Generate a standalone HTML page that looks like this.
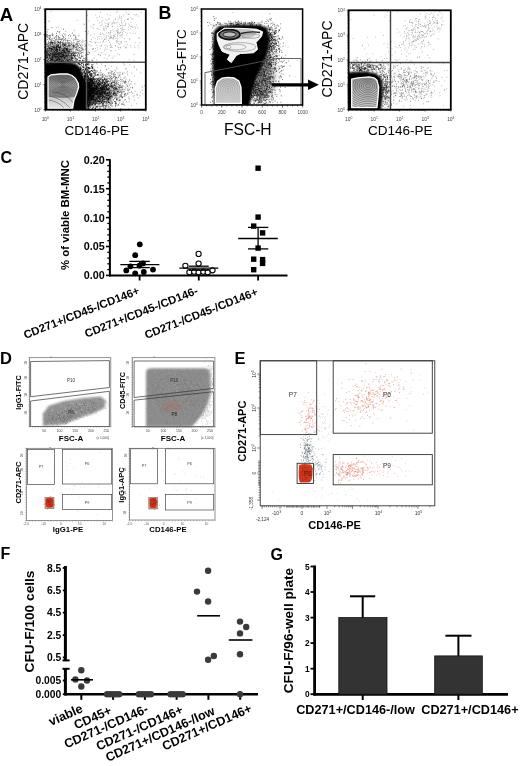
<!DOCTYPE html>
<html><head><meta charset="utf-8"><title>Figure</title>
<style>html,body{margin:0;padding:0;background:#fff;width:520px;height:766px;overflow:hidden}svg{display:block;filter:blur(0.3px)}</style>
</head><body><svg width="520" height="766" viewBox="0 0 520 766" font-family="&quot;Liberation Sans&quot;, sans-serif"><text x="-0.3" y="21.4" font-size="18.6" font-weight="bold" fill="#000">A</text><text x="158.6" y="19.4" font-size="17.8" font-weight="bold" fill="#000">B</text><text x="0.5" y="162.5" font-size="16" font-weight="bold" fill="#000">C</text><text x="0" y="363.7" font-size="16.5" font-weight="bold" fill="#000">D</text><text x="234.5" y="364" font-size="16.5" font-weight="bold" fill="#000">E</text><text x="0.5" y="559.4" font-size="16" font-weight="bold" fill="#000">F</text><text x="270.5" y="560" font-size="16" font-weight="bold" fill="#000">G</text><path d="M109.9 159.3L109.9 276.4" stroke="#000" stroke-width="2"/><path d="M106 275.4L110 275.4" stroke="#000" stroke-width="1.6"/><path d="M107.3 269.6L110 269.6" stroke="#000" stroke-width="1.3"/><path d="M107.3 263.8L110 263.8" stroke="#000" stroke-width="1.3"/><path d="M107.3 258.1L110 258.1" stroke="#000" stroke-width="1.3"/><path d="M107.3 252.3L110 252.3" stroke="#000" stroke-width="1.3"/><path d="M106 246.5L110 246.5" stroke="#000" stroke-width="1.6"/><path d="M107.3 240.7L110 240.7" stroke="#000" stroke-width="1.3"/><path d="M107.3 234.9L110 234.9" stroke="#000" stroke-width="1.3"/><path d="M107.3 229.2L110 229.2" stroke="#000" stroke-width="1.3"/><path d="M107.3 223.4L110 223.4" stroke="#000" stroke-width="1.3"/><path d="M106 217.6L110 217.6" stroke="#000" stroke-width="1.6"/><path d="M107.3 211.8L110 211.8" stroke="#000" stroke-width="1.3"/><path d="M107.3 206L110 206" stroke="#000" stroke-width="1.3"/><path d="M107.3 200.3L110 200.3" stroke="#000" stroke-width="1.3"/><path d="M107.3 194.5L110 194.5" stroke="#000" stroke-width="1.3"/><path d="M106 188.7L110 188.7" stroke="#000" stroke-width="1.6"/><path d="M107.3 182.9L110 182.9" stroke="#000" stroke-width="1.3"/><path d="M107.3 177.1L110 177.1" stroke="#000" stroke-width="1.3"/><path d="M107.3 171.4L110 171.4" stroke="#000" stroke-width="1.3"/><path d="M107.3 165.6L110 165.6" stroke="#000" stroke-width="1.3"/><path d="M106 159.8L110 159.8" stroke="#000" stroke-width="1.6"/><text x="104.8" y="163.7" font-size="10.8" font-weight="bold" text-anchor="end" fill="#000">0.20</text><text x="104.8" y="192.6" font-size="10.8" font-weight="bold" text-anchor="end" fill="#000">0.15</text><text x="104.8" y="221.5" font-size="10.8" font-weight="bold" text-anchor="end" fill="#000">0.10</text><text x="104.8" y="250.4" font-size="10.8" font-weight="bold" text-anchor="end" fill="#000">0.05</text><text x="104.8" y="279.3" font-size="10.8" font-weight="bold" text-anchor="end" fill="#000">0.00</text><path d="M109 275.4L287.5 275.4" stroke="#000" stroke-width="2"/><path d="M139.6 275L139.6 280.5" stroke="#000" stroke-width="1.8"/><path d="M198.8 275L198.8 280.5" stroke="#000" stroke-width="1.8"/><path d="M258.1 275L258.1 280.5" stroke="#000" stroke-width="1.8"/><text x="69" y="215" font-size="11.4" font-weight="bold" text-anchor="middle" transform="rotate(-90 69 215)" fill="#000">% of viable BM-MNC</text><circle cx="139.8" cy="244.3" r="2.9"/><circle cx="135.2" cy="255.2" r="2.9"/><circle cx="130.4" cy="266.3" r="2.9"/><circle cx="139.5" cy="265.6" r="2.9"/><circle cx="143" cy="263.4" r="2.9"/><circle cx="126.3" cy="270.4" r="2.9"/><circle cx="135.2" cy="273.3" r="2.9"/><circle cx="143.8" cy="272" r="2.9"/><circle cx="153" cy="269.6" r="2.9"/><path d="M120.3 264.6L159.4 264.6" stroke="#000" stroke-width="1.3"/><path d="M129.4 261.4L149.8 261.4" stroke="#000" stroke-width="1.3"/><path d="M129.4 267.6L149.8 267.6" stroke="#000" stroke-width="1.3"/><path d="M139.6 261.4L139.6 267.6" stroke="#000" stroke-width="1.3"/><circle cx="198.6" cy="253.9" r="2.6" fill="#fff" stroke="#000" stroke-width="1.1"/><circle cx="185.4" cy="265.8" r="2.6" fill="#fff" stroke="#000" stroke-width="1.1"/><circle cx="198.6" cy="263.6" r="2.6" fill="#fff" stroke="#000" stroke-width="1.1"/><circle cx="189.4" cy="272.2" r="2.6" fill="#fff" stroke="#000" stroke-width="1.1"/><circle cx="194.2" cy="271.7" r="2.6" fill="#fff" stroke="#000" stroke-width="1.1"/><circle cx="198.6" cy="272.2" r="2.6" fill="#fff" stroke="#000" stroke-width="1.1"/><circle cx="203.4" cy="271.7" r="2.6" fill="#fff" stroke="#000" stroke-width="1.1"/><circle cx="207.7" cy="272.2" r="2.6" fill="#fff" stroke="#000" stroke-width="1.1"/><circle cx="212.5" cy="270.3" r="2.6" fill="#fff" stroke="#000" stroke-width="1.1"/><path d="M179.3 268.2L218.3 268.2" stroke="#000" stroke-width="1.3"/><path d="M189 266.2L208.7 266.2" stroke="#000" stroke-width="1.3"/><path d="M189 270.2L208.7 270.2" stroke="#000" stroke-width="1.3"/><rect x="255.4" y="165.5" width="5.4" height="5.4"/><rect x="255.4" y="214.4" width="5.4" height="5.4"/><rect x="251" y="223.4" width="5.4" height="5.4"/><rect x="259.9" y="230.2" width="5.4" height="5.4"/><rect x="255.4" y="245.4" width="5.4" height="5.4"/><rect x="251" y="256.5" width="5.4" height="5.4"/><rect x="259.9" y="256.9" width="5.4" height="5.4"/><rect x="259.9" y="260.7" width="5.4" height="5.4"/><rect x="251" y="267" width="5.4" height="5.4"/><path d="M238.2 238.5L277.8 238.5" stroke="#000" stroke-width="1.3"/><path d="M248 227.4L268.3 227.4" stroke="#000" stroke-width="1.3"/><path d="M248 248.9L268.3 248.9" stroke="#000" stroke-width="1.3"/><path d="M258.1 227.4L258.1 248.9" stroke="#000" stroke-width="1.3"/><text x="25.4" y="338.9" font-size="11.4" font-weight="bold" transform="rotate(-21.5 25.4 338.9)" fill="#000">CD271+/CD45-/CD146+</text><text x="86.5" y="337.8" font-size="11.4" font-weight="bold" transform="rotate(-21.5 86.5 337.8)" fill="#000">CD271+/CD45-/CD146-</text><text x="146.4" y="339.1" font-size="11.4" font-weight="bold" transform="rotate(-21.5 146.4 339.1)" fill="#000">CD271-/CD45-/CD146+</text><path d="M65.4 566L65.4 660.4" stroke="#000" stroke-width="3"/><path d="M62.5 660.4L69.6 660.4" stroke="#000" stroke-width="2"/><path d="M65.4 668.8L65.4 695.5" stroke="#000" stroke-width="3"/><path d="M62.5 668.8L69.6 668.8" stroke="#000" stroke-width="2"/><path d="M62.8 568L65.4 568" stroke="#000" stroke-width="1.8"/><text x="61.3" y="571.6" font-size="10.3" font-weight="bold" text-anchor="end" fill="#000">8.5</text><path d="M62.8 590.4L65.4 590.4" stroke="#000" stroke-width="1.8"/><text x="61.3" y="594" font-size="10.3" font-weight="bold" text-anchor="end" fill="#000">6.5</text><path d="M62.8 612.7L65.4 612.7" stroke="#000" stroke-width="1.8"/><text x="61.3" y="616.3" font-size="10.3" font-weight="bold" text-anchor="end" fill="#000">4.5</text><path d="M62.8 635.1L65.4 635.1" stroke="#000" stroke-width="1.8"/><text x="61.3" y="638.7" font-size="10.3" font-weight="bold" text-anchor="end" fill="#000">2.5</text><path d="M62.8 657.4L65.4 657.4" stroke="#000" stroke-width="1.8"/><text x="61.3" y="661" font-size="10.3" font-weight="bold" text-anchor="end" fill="#000">0.5</text><path d="M62.8 680.5L65.4 680.5" stroke="#000" stroke-width="1.8"/><text x="61.3" y="684.1" font-size="10.3" font-weight="bold" text-anchor="end" fill="#000">0.005</text><path d="M62.8 694.2L65.4 694.2" stroke="#000" stroke-width="1.8"/><text x="61.3" y="697.8" font-size="10.3" font-weight="bold" text-anchor="end" fill="#000">0.000</text><path d="M64.6 694.2L258 694.2" stroke="#000" stroke-width="2.4"/><path d="M81.3 694L81.3 699.8" stroke="#000" stroke-width="2"/><path d="M113.1 694L113.1 699.8" stroke="#000" stroke-width="2"/><path d="M144.9 694L144.9 699.8" stroke="#000" stroke-width="2"/><path d="M176.6 694L176.6 699.8" stroke="#000" stroke-width="2"/><path d="M208.4 694L208.4 699.8" stroke="#000" stroke-width="2"/><path d="M240.2 694L240.2 699.8" stroke="#000" stroke-width="2"/><text x="34.3" y="621.5" font-size="13.7" font-weight="bold" text-anchor="middle" transform="rotate(-90 34.3 621.5)" fill="#000">CFU-F/100 cells</text><circle cx="81.3" cy="670.3" r="3.2" fill="#3a3a3a"/><circle cx="75.4" cy="679.4" r="3.2" fill="#3a3a3a"/><circle cx="87" cy="680.5" r="3.2" fill="#3a3a3a"/><circle cx="81.3" cy="686.5" r="3.2" fill="#3a3a3a"/><path d="M71 679.8L93 679.8" stroke="#000" stroke-width="1.6"/><circle cx="107.1" cy="694.2" r="3.2" fill="#3a3a3a"/><circle cx="110.1" cy="694.2" r="3.2" fill="#3a3a3a"/><circle cx="113.1" cy="694.2" r="3.2" fill="#3a3a3a"/><circle cx="116.1" cy="694.2" r="3.2" fill="#3a3a3a"/><circle cx="119.1" cy="694.2" r="3.2" fill="#3a3a3a"/><circle cx="138.9" cy="694.2" r="3.2" fill="#3a3a3a"/><circle cx="141.9" cy="694.2" r="3.2" fill="#3a3a3a"/><circle cx="144.9" cy="694.2" r="3.2" fill="#3a3a3a"/><circle cx="147.9" cy="694.2" r="3.2" fill="#3a3a3a"/><circle cx="150.9" cy="694.2" r="3.2" fill="#3a3a3a"/><circle cx="170.6" cy="694.2" r="3.2" fill="#3a3a3a"/><circle cx="173.6" cy="694.2" r="3.2" fill="#3a3a3a"/><circle cx="176.6" cy="694.2" r="3.2" fill="#3a3a3a"/><circle cx="179.6" cy="694.2" r="3.2" fill="#3a3a3a"/><circle cx="182.6" cy="694.2" r="3.2" fill="#3a3a3a"/><circle cx="208.1" cy="570.8" r="3.2" fill="#3a3a3a"/><circle cx="197" cy="591.6" r="3.2" fill="#3a3a3a"/><circle cx="208.1" cy="601.5" r="3.2" fill="#3a3a3a"/><circle cx="208.1" cy="659.7" r="3.2" fill="#3a3a3a"/><circle cx="213.8" cy="656" r="3.2" fill="#3a3a3a"/><path d="M197.2 615.8L220 615.8" stroke="#000" stroke-width="1.6"/><circle cx="240" cy="621.6" r="3.2" fill="#3a3a3a"/><circle cx="246.2" cy="627" r="3.2" fill="#3a3a3a"/><circle cx="240" cy="633.4" r="3.2" fill="#3a3a3a"/><circle cx="240" cy="654.2" r="3.2" fill="#3a3a3a"/><circle cx="240" cy="694.2" r="3.2" fill="#3a3a3a"/><path d="M228.8 640L252.4 640" stroke="#000" stroke-width="1.6"/><text x="51.1" y="726.1" font-size="12.6" font-weight="bold" transform="rotate(-24 51.1 726.1)" fill="#000">viable</text><text x="76.3" y="729.6" font-size="12.6" font-weight="bold" transform="rotate(-24 76.3 729.6)" fill="#000">CD45+</text><text x="66.5" y="748.6" font-size="12.6" font-weight="bold" transform="rotate(-24 66.5 748.6)" fill="#000">CD271-/CD146-</text><text x="98.5" y="750.8" font-size="12.6" font-weight="bold" transform="rotate(-24 98.5 750.8)" fill="#000">CD271-/CD146+</text><text x="108" y="761.9" font-size="12.6" font-weight="bold" transform="rotate(-24 108 761.9)" fill="#000">CD271+/CD146-/low</text><text x="164.4" y="750.7" font-size="12.6" font-weight="bold" transform="rotate(-24 164.4 750.7)" fill="#000">CD271+/CD146+</text><path d="M314.6 565.5L314.6 695.5" stroke="#000" stroke-width="2.8"/><path d="M310.5 694.2L314.6 694.2" stroke="#000" stroke-width="1.8"/><text x="309.6" y="697.4" font-size="8.3" font-weight="bold" text-anchor="end" fill="#000">0</text><path d="M310.5 668.7L314.6 668.7" stroke="#000" stroke-width="1.8"/><text x="309.6" y="671.9" font-size="8.3" font-weight="bold" text-anchor="end" fill="#000">1</text><path d="M310.5 643.1L314.6 643.1" stroke="#000" stroke-width="1.8"/><text x="309.6" y="646.3" font-size="8.3" font-weight="bold" text-anchor="end" fill="#000">2</text><path d="M310.5 617.6L314.6 617.6" stroke="#000" stroke-width="1.8"/><text x="309.6" y="620.8" font-size="8.3" font-weight="bold" text-anchor="end" fill="#000">3</text><path d="M310.5 592L314.6 592" stroke="#000" stroke-width="1.8"/><text x="309.6" y="595.2" font-size="8.3" font-weight="bold" text-anchor="end" fill="#000">4</text><path d="M310.5 566.5L314.6 566.5" stroke="#000" stroke-width="1.8"/><text x="309.6" y="569.7" font-size="8.3" font-weight="bold" text-anchor="end" fill="#000">5</text><path d="M313.5 694.4L508 694.4" stroke="#000" stroke-width="2.6"/><path d="M362.7 694L362.7 700" stroke="#000" stroke-width="2"/><path d="M458.4 694L458.4 700" stroke="#000" stroke-width="2"/><rect x="338.8" y="617.6" width="48.2" height="76.6" fill="#333" stroke="#111" stroke-width="0.8"/><rect x="434.7" y="655.9" width="47.6" height="38.3" fill="#333" stroke="#111" stroke-width="0.8"/><path d="M362.7 617.6L362.7 596.3" stroke="#000" stroke-width="2"/><path d="M350 596.3L375.2 596.3" stroke="#000" stroke-width="2"/><path d="M458.4 655.9L458.4 635.7" stroke="#000" stroke-width="2"/><path d="M445.4 635.7L471.5 635.7" stroke="#000" stroke-width="2"/><text x="293" y="630.5" font-size="13.6" font-weight="bold" text-anchor="middle" transform="rotate(-90 293 630.5)" fill="#000">CFU-F/96-well plate</text><text x="355.6" y="714" font-size="12.7" font-weight="bold" text-anchor="middle" fill="#000">CD271+/CD146-/low</text><text x="469.9" y="714" font-size="12.7" font-weight="bold" text-anchor="middle" fill="#000">CD271+/CD146+</text><defs><filter id="b1" x="-50%" y="-50%" width="200%" height="200%"><feGaussianBlur stdDeviation="1"/></filter><filter id="b2" x="-50%" y="-50%" width="200%" height="200%"><feGaussianBlur stdDeviation="2.5"/></filter><filter id="b4" x="-50%" y="-50%" width="200%" height="200%"><feGaussianBlur stdDeviation="4"/></filter><clipPath id="cA"><rect x="45.3" y="9.2" width="100.5" height="100.5"/></clipPath><clipPath id="cB"><rect x="201.6" y="9" width="101" height="96"/></clipPath><clipPath id="cR"><rect x="348.6" y="10.3" width="102.2" height="99.4"/></clipPath></defs><g clip-path="url(#cA)"><ellipse cx="56" cy="56" rx="14" ry="10" fill="#000" opacity="0.45" filter="url(#b4)"/><ellipse cx="96" cy="92" rx="12" ry="9" fill="#000" opacity="0.4" filter="url(#b4)"/><ellipse cx="88" cy="95" rx="5" ry="12" fill="#000" opacity="0.6" filter="url(#b2)"/><path d="M95 71.9h0.8M84 24.4h0.8M76.8 20.3h0.8M75.3 35.2h0.8M114.6 74.3h0.8M99.2 22.8h0.8M93.8 87.8h0.8M101.3 52.5h0.8M93.1 64.5h0.8M55.9 27.6h0.8M137.4 27.7h0.8M93.7 95.4h0.8M71.7 55.5h0.8M99.4 62.6h0.8M46 63h0.8M129.4 64.8h0.8M125.5 12h0.8M98 83.1h0.8M87.4 87.3h0.8M92.3 86.7h0.8M103.1 41.5h0.8M100.1 12.5h0.8M71.8 52.2h0.8M131 105.8h0.8M76.5 56.1h0.8M145.3 87.6h0.8M81.9 45.3h0.8M77.9 47.9h0.8M109.1 55.2h0.8M87.1 15.4h0.8M94.5 42.3h0.8M141.6 86.1h0.8M94 86.7h0.8M81.4 102.1h0.8M94.8 83.3h0.8M82.8 24h0.8M61.7 35h0.8M103.2 79.7h0.8M87.9 51.8h0.8M123.1 80.8h0.8M53.7 56.8h0.8M96.4 17.8h0.8M105.4 25.7h0.8M133.9 67.7h0.8M98.6 36.4h0.8M49.7 74.5h0.8M61.2 91.2h0.8M92.4 49h0.8M88.6 21h0.8M138.9 38.3h0.8M93 28.3h0.8M145.3 53.8h0.8M133.6 60.5h0.8M67.2 46.9h0.8M72.6 60.3h0.8M80 48h0.8M52.8 73.5h0.8M86.7 34.7h0.8M94.1 62.9h0.8M64.9 78.2h0.8M73.4 54.3h0.8M50.7 11.4h0.8M106.7 58.6h0.8M77.4 39.7h0.8M120.2 47.9h0.8M88.9 60.9h0.8M142.1 87.2h0.8M110.3 37.5h0.8M133.7 54.4h0.8M116.7 91.3h0.8M128.2 96.9h0.8M114.8 94.9h0.8M127.7 19.4h0.8M94.5 93.6h0.8M105.4 61.8h0.8M85.2 61.5h0.8" stroke="#000" stroke-width="0.8" stroke-opacity="0.45"/><path d="M106.2 28.4h0.8M99.7 55.1h0.8M117.2 39h0.8M99 39h0.8M97.3 37.2h0.8M111.7 26.5h0.8M121.5 34.4h0.8M124.6 25.7h0.8M104.6 22.9h0.8M115 45.7h0.8M114.6 36.5h0.8M119.8 47.5h0.8M99.2 16.7h0.8M93.1 25.1h0.8M73.9 61.9h0.8M130.7 22.5h0.8M94.9 38.4h0.8M129.1 25.4h0.8M115.2 34.1h0.8M121.1 41.4h0.8M122.9 31.5h0.8M106.6 49.4h0.8M114.9 50.8h0.8M99.4 46.1h0.8M105.5 23.9h0.8M145.1 30.7h0.8M115.1 46h0.8M117.4 32.1h0.8M108.3 25.1h0.8M110.6 36.1h0.8M131 26.4h0.8M125.7 47.9h0.8M105.9 37.1h0.8M105.2 65.7h0.8M132.6 33.4h0.8M123.5 29.5h0.8M115.7 30.8h0.8M113 37.4h0.8M136.3 25.1h0.8M110.2 30.7h0.8M119 54.6h0.8M121.3 30.7h0.8M103.2 29h0.8M120.4 43h0.8M108.9 36.9h0.8M113.2 38.1h0.8M95 48.4h0.8M111.4 50.7h0.8M110.2 47.3h0.8M130.3 17.7h0.8M109.4 42.4h0.8M108 26.6h0.8M134.5 47.5h0.8M110.6 35.8h0.8M105.2 47.8h0.8M92.8 37.7h0.8M123.3 15h0.8M138.2 37.4h0.8M121.9 37.2h0.8M136 14.5h0.8M98.6 29.3h0.8M125.9 47.1h0.8M119.4 17.8h0.8M101.6 39h0.8M116.9 30.5h0.8M119.6 35.4h0.8M111.3 37.5h0.8M116.8 32.3h0.8M134 45.9h0.8M122.2 29.8h0.8M98.4 54.5h0.8M82.7 41.9h0.8M129.8 32.7h0.8M101.2 22h0.8M105.9 32.9h0.8M138.3 47.9h0.8M112 26.3h0.8M101.2 45.8h0.8M104.8 27h0.8M108.2 24.2h0.8M135.3 33.2h0.8M124.1 20.5h0.8M120 28.9h0.8M108.1 35.9h0.8M89.9 35.4h0.8M122.8 25.7h0.8M124.6 41.4h0.8M89.5 45.1h0.8M119.8 36.6h0.8M117.9 47.3h0.8M108.8 22.7h0.8M110 50.8h0.8M106.9 14.5h0.8M134.7 27h0.8M127.7 18.8h0.8M103.6 28.4h0.8M128.7 14.2h0.8M105.1 19.3h0.8M117.6 47h0.8M108.2 56.1h0.8M111.5 23h0.8M106 36h0.8M110.6 31h0.8M103.3 40.4h0.8M94.1 34h0.8M120.7 42.9h0.8M97.5 49.8h0.8M100.6 33h0.8M121.1 22.4h0.8M126.7 14h0.8M117.8 29.4h0.8M110.5 47.2h0.8M117.5 41.6h0.8M106.8 26.3h0.8M114.2 36.4h0.8M119.6 18.1h0.8M102.4 20.9h0.8M114.8 19.6h0.8M93.8 51.9h0.8M116.9 11.5h0.8M97.2 39.2h0.8M104.7 49.1h0.8M100.6 36.7h0.8M116.4 23h0.8M113.1 22.6h0.8M88.1 31.2h0.8M134.1 14.4h0.8M117.6 32.4h0.8M117.2 33.9h0.8M89.9 41.5h0.8M104.9 54.2h0.8M117.6 19h0.8M96.5 45.4h0.8M113.4 20.9h0.8M119.3 15.9h0.8M101.1 25.1h0.8M113.6 56.1h0.8M121.6 23.7h0.8M91.6 27.4h0.8M110.3 38.5h0.8M113.4 35h0.8M101.6 45.3h0.8M123.7 46.2h0.8M135.5 15.8h0.8M105.7 41.8h0.8M102.8 34.6h0.8M106.9 26.8h0.8M121.2 28.3h0.8M116.6 31h0.8M99.9 34h0.8M108.4 32.7h0.8M117.7 32.7h0.8M99.8 48.7h0.8M95.2 42.8h0.8M96.9 20.4h0.8M117.1 35.4h0.8M110.2 32.9h0.8M103.8 30.4h0.8M108 32.9h0.8M107.5 24h0.8M118.7 33.9h0.8M110.3 32.7h0.8M109.6 15.6h0.8M122 32.6h0.8M121 35.5h0.8M105.7 39.1h0.8M125.4 32.5h0.8M106.7 20.2h0.8M129.4 39.7h0.8M128.3 27.2h0.8M103.8 58h0.8M95.4 15.1h0.8M108.8 18.8h0.8M95.6 42.1h0.8M127 19.6h0.8M130.5 47.1h0.8M132.6 18.8h0.8M103.3 26.7h0.8M110 45.3h0.8M120.3 32.1h0.8M121 18.9h0.8M119.5 41.7h0.8M129.3 38.4h0.8M117.4 28.6h0.8M112.1 23.1h0.8M100.3 55.7h0.8M116.5 38.1h0.8M92.9 48.3h0.8M102 33.5h0.8M86.7 53.9h0.8M128 29.6h0.8M108 40.7h0.8M117.4 40.8h0.8M134.9 42.8h0.8M130.3 26.7h0.8M124 38.7h0.8M108.5 39.9h0.8M139.3 42.8h0.8M112.8 36.1h0.8M126.8 44.4h0.8M125 47.7h0.8M102.6 42.8h0.8M118.3 43.5h0.8M116.3 12.2h0.8M106.9 46.7h0.8M96.7 28.5h0.8M130.4 29.1h0.8M117.3 26.2h0.8M125.1 23.1h0.8M121.2 16.7h0.8M106.6 45h0.8M111.7 47.5h0.8M111.5 24.7h0.8M113.4 31.3h0.8M121.1 20.8h0.8M118.5 49.4h0.8M117.3 36.2h0.8M131.7 19.2h0.8M104.6 45.4h0.8M114.3 23.7h0.8M85.9 38.8h0.8M117.3 22.2h0.8M114.9 38.2h0.8M119.7 26.2h0.8M114.4 22.7h0.8M103.6 29.9h0.8M127.8 23.9h0.8M104 39.2h0.8M117.4 43h0.8M89.3 41.6h0.8M128.6 60h0.8M125.2 24.8h0.8M137.7 45.5h0.8M109.7 34.2h0.8M132.4 27.5h0.8M119.1 24.2h0.8M126.3 35.3h0.8M96.2 59.9h0.8M115.8 40.5h0.8M120.4 25.5h0.8M98.2 54.4h0.8M104.1 39.4h0.8M105.6 38h0.8M97.1 67.5h0.8M125.8 41.9h0.8M137.9 16.1h0.8M88 44.8h0.8M97.6 42.4h0.8M101.8 17.4h0.8M108.3 19h0.8M117.6 31.2h0.8M110.9 37.4h0.8M104.5 35h0.8M95.5 51h0.8M135.2 28.2h0.8M117.4 53.7h0.8M113.9 35h0.8M112.3 38.6h0.8M109.4 38.5h0.8M99.9 42.3h0.8M140.7 12.4h0.8M116 41.8h0.8M115.3 18.8h0.8M119.1 44.7h0.8M119 33.4h0.8M128.1 14.3h0.8M112.3 29.8h0.8M103.6 37h0.8M126.9 33.7h0.8M121.5 25.3h0.8M111.2 46h0.8M89.7 26.4h0.8M100.2 25.9h0.8M110.2 44.4h0.8M129.8 45.4h0.8M101.9 24h0.8M99.8 34.5h0.8M104.1 50.4h0.8M93.6 24.6h0.8M122.2 27.3h0.8M119.8 32.5h0.8M122.5 29.2h0.8M132.2 26.7h0.8M122.4 34.7h0.8M97.1 47.7h0.8M113.5 39.2h0.8M110.9 61.9h0.8M107.6 23.8h0.8M93.4 49.1h0.8" stroke="#000" stroke-width="0.8" stroke-opacity="0.4"/><path d="M54 49.2h0.9M56.1 49.9h0.9M61.3 49.1h0.9M54.6 65.3h0.9M84.6 46.4h0.9M49.7 48h0.9M64 45.1h0.9M49.4 55.7h0.9M49.5 36h0.9M56.7 54.2h0.9M64.2 61.3h0.9M54.1 47.6h0.9M62.3 50.5h0.9M71.7 58.1h0.9M68.3 51.4h0.9M65.8 50.3h0.9M53.2 79.6h0.9M63.8 51.2h0.9M54 59.1h0.9M68.9 51.4h0.9M55.2 57h0.9M70.1 59h0.9M64.3 45.5h0.9M65 75.9h0.9M63.9 58.4h0.9M56.8 73h0.9M60.3 63.1h0.9M50 58.9h0.9M51.8 57.1h0.9M53.5 45.2h0.9M54.8 64.3h0.9M62.6 45.8h0.9M57.1 45.9h0.9M68 78h0.9M78.3 53.9h0.9M63.5 57.1h0.9M56.2 70.7h0.9M54.4 69.4h0.9M57.2 49.6h0.9M58.2 63h0.9M55.4 60.6h0.9M49 35.7h0.9M65.4 62.6h0.9M56.7 56.6h0.9M66.9 51.7h0.9M46.9 54.2h0.9M68.7 42.8h0.9M68.7 49.9h0.9M53.9 43.6h0.9M50.9 64.8h0.9M68.7 51.9h0.9M59.7 62.8h0.9M47.6 59.4h0.9M54.6 50.9h0.9M49.3 56.6h0.9M55.3 50.6h0.9M50.1 66.6h0.9M57.5 64.4h0.9M68.8 61.6h0.9M81.1 48.2h0.9M64.3 53h0.9M76.3 72.2h0.9M62.6 63.5h0.9M63.5 55.3h0.9M60.2 62.2h0.9M54.1 65.8h0.9M52.4 47.6h0.9M59.3 47.3h0.9M54.7 60.7h0.9M66.8 54.7h0.9M67.1 56.2h0.9M53.9 61.4h0.9M67.2 52.8h0.9M52.2 54.5h0.9M56 47.4h0.9M66.8 52.2h0.9M60.3 48.2h0.9M59.1 59.7h0.9M50.2 75.2h0.9M59.3 72.9h0.9M66 49.7h0.9M50.6 60.1h0.9M55.7 56.5h0.9M51.7 38.8h0.9M52.4 34.9h0.9M59.3 49.1h0.9M46.8 53.9h0.9M58.1 42.4h0.9M73.3 46h0.9M62.5 43h0.9M58.4 53h0.9M54.3 61.4h0.9M75.2 57.8h0.9M56.4 46.8h0.9M61.7 53.7h0.9M64.6 55.6h0.9M75 37.2h0.9M51.6 64.4h0.9M51 48.5h0.9M51.9 42.9h0.9M56.4 79.2h0.9M68.2 45.5h0.9M66.6 48.2h0.9M47.1 64.4h0.9M64.9 52.4h0.9M47 34.8h0.9M63.6 50h0.9M60.5 73.7h0.9M68.5 45.1h0.9M65 67h0.9M46.4 46.9h0.9M53.7 40.8h0.9M71.9 33.1h0.9M52.4 57.6h0.9M58.1 54h0.9M68.1 35.7h0.9M55 49.2h0.9M56.5 58.1h0.9M64.1 59.3h0.9M47.2 75.4h0.9M81.6 42.1h0.9M58.5 79.8h0.9M64 58.1h0.9M52.6 50.9h0.9M52.6 50.8h0.9M63.6 52.2h0.9M49.9 44.6h0.9M54.4 47.5h0.9M52.9 65.9h0.9M59.2 60.8h0.9M59.1 56.6h0.9M53.5 53.1h0.9M63.7 45.7h0.9M70.4 56.3h0.9M46.4 51.4h0.9M47.2 57.5h0.9M46.7 66.9h0.9M46 34.4h0.9M46.6 36.9h0.9M54.5 66.1h0.9M62.4 43.3h0.9M46.2 72.9h0.9M58.7 56h0.9M67.1 79.3h0.9M69.9 57.3h0.9M59.1 61.9h0.9M48 45.9h0.9M55.6 47h0.9M54.3 56.9h0.9M81.9 47.9h0.9M53.6 54.4h0.9M60 65.9h0.9M49.4 48.2h0.9M61.2 56.4h0.9M55.4 60.8h0.9M48.2 53.6h0.9M73.6 35.2h0.9M51.1 58.1h0.9M50.7 48.3h0.9M54.3 56h0.9M54.1 38.2h0.9M53.3 47.9h0.9M48.7 58.2h0.9M62.4 64.5h0.9M49.3 64.8h0.9M68.5 66.8h0.9M71 54.6h0.9M53 63.8h0.9M48.9 52.5h0.9M54.8 64.4h0.9M66.4 55.2h0.9M52.8 48.1h0.9M59.6 53.6h0.9M62 72.6h0.9M54.6 41.8h0.9M57.6 41.6h0.9M62.5 68h0.9M50.9 49.6h0.9M51.1 58.7h0.9M62.4 67.2h0.9M68.9 67.3h0.9M70.7 62.3h0.9M58.6 52.4h0.9M65.5 52.6h0.9M62.7 58.1h0.9M65.7 66.1h0.9M58.9 32.7h0.9M47.2 51.7h0.9M68.7 51.4h0.9M49.8 44.3h0.9M57.7 60h0.9M46.9 63.5h0.9M49.4 47.2h0.9M57.1 63.3h0.9M47.7 59.1h0.9M53.9 82.8h0.9M46.9 69.1h0.9M54.4 54.8h0.9M63.3 64.5h0.9M69.6 59.1h0.9M48.1 50.9h0.9M60.9 61.5h0.9M71.1 60h0.9M67.2 70.4h0.9M56.9 41.9h0.9M73.3 47.9h0.9M69.2 61.6h0.9M74.7 65.5h0.9M53.8 54.1h0.9M56 57.7h0.9M48.9 55.7h0.9M73.5 39.8h0.9M58 47.4h0.9M57.2 64h0.9M54.3 63.3h0.9M48.1 61.9h0.9M57.1 31.4h0.9M46.3 58.1h0.9M72.9 58.7h0.9M58 42.6h0.9M71.5 73.2h0.9M55.3 53.9h0.9M86.1 62.8h0.9M69.5 61.1h0.9M58.2 64.4h0.9M59.8 59.7h0.9M46.2 43.8h0.9M55.7 49.3h0.9M49.4 38.4h0.9M57.1 59.9h0.9M78.1 41.8h0.9M47.2 64.7h0.9M52.5 52.9h0.9M74.7 52.8h0.9M58.9 58.9h0.9M61.1 61.5h0.9M47.6 61.9h0.9M61.6 39.1h0.9M51.4 59.9h0.9M48.4 35.7h0.9M51.7 63.1h0.9M73.2 35.2h0.9M85.1 45.3h0.9M66 67.7h0.9M66.3 57.4h0.9M46.8 32h0.9M87.5 62.7h0.9M75.9 47.3h0.9M71.9 71.1h0.9M72.9 55.8h0.9M56.1 46.6h0.9M53.1 55h0.9M77.2 68.3h0.9M54.5 67.5h0.9M46 52.8h0.9M65.5 44.2h0.9M51.8 43.5h0.9M56.4 71.5h0.9M46.4 58.1h0.9M82.2 60.6h0.9M46.8 62.7h0.9M51.2 63.6h0.9M58.3 58.7h0.9M62 50.5h0.9M50.3 39.6h0.9M49.9 42.5h0.9M53.3 46.9h0.9M56.2 60.3h0.9M74.6 64.1h0.9M51 69.9h0.9M47.5 29.6h0.9M85.5 71h0.9M52.5 57h0.9M60.4 58.1h0.9M68.8 56.8h0.9M82 49.2h0.9M58 37.8h0.9M54.3 46.1h0.9M51 51.1h0.9M49.4 63.2h0.9M62.5 50.5h0.9M53.8 65.8h0.9M85.5 64h0.9M54.6 54.4h0.9M50.1 63.1h0.9M50.4 54.1h0.9M60.8 73h0.9M64.2 70.2h0.9M52.1 62.8h0.9M86.1 44.4h0.9M68.5 72.1h0.9M59.8 63.3h0.9M69.7 49.6h0.9M59.8 47.6h0.9M47.1 50h0.9M53.3 57.4h0.9M60.3 42.2h0.9M78.3 67.2h0.9M63.6 52.5h0.9M53.9 61.3h0.9M59.8 39.6h0.9M63.7 84.4h0.9M59.4 54.9h0.9M71.2 44.5h0.9M56.9 70.3h0.9M52.7 51.9h0.9M56.4 51.7h0.9M73.3 47.1h0.9M65.3 43.8h0.9M62.9 55h0.9M73.2 45.1h0.9M56.4 71.1h0.9M58.8 47.4h0.9M54.2 68h0.9M66.1 56h0.9M55.6 54.9h0.9M48.2 74.9h0.9M55.1 45h0.9M49.4 63.1h0.9M62.6 54.7h0.9M47.1 56.2h0.9M64.4 51.3h0.9M59.4 67.9h0.9M62.7 56.2h0.9M80.2 62.5h0.9M50.8 63.2h0.9M59.8 47.6h0.9M55.9 54.4h0.9M51.7 51.7h0.9M54.5 57h0.9M70.4 49.2h0.9M49 66.5h0.9M50.5 53.1h0.9M57.6 66.2h0.9M58.6 47.3h0.9M56.4 59.9h0.9M46.4 57.3h0.9M74.3 59.1h0.9M47.5 55.4h0.9M65.1 48h0.9M52.5 66.8h0.9M49.2 57.8h0.9M49 76.7h0.9M50.3 51h0.9M48.5 54.4h0.9M62.5 57.8h0.9M78.7 58h0.9M71.6 58.6h0.9M62 42.3h0.9M53.5 55.3h0.9M52.2 35.5h0.9M65.1 52.3h0.9M50 53.6h0.9M52.4 59.9h0.9M58.3 57.4h0.9M50.7 50.5h0.9M68.6 45.9h0.9M72.5 64h0.9M49.8 63.4h0.9M51.3 51.1h0.9M56.1 35.7h0.9M60.7 42.5h0.9M47.4 52.1h0.9M61.8 61.4h0.9M49.4 48.6h0.9M58.9 65.8h0.9M58.9 66h0.9M56.5 67.7h0.9M69.3 55.1h0.9M71.6 57.6h0.9M56 47.2h0.9M51.7 63.4h0.9M59 58.6h0.9M62.5 48.8h0.9M56 33.4h0.9M62.7 49.7h0.9M65 38.5h0.9M63 53.7h0.9M64.3 47.2h0.9M47.9 77.3h0.9M51.8 46.3h0.9M68.7 72.4h0.9M46.9 39.6h0.9M68.5 66.5h0.9M64.4 67h0.9M66.3 49.6h0.9M81.2 56.7h0.9M47.6 63.6h0.9M75.7 60.6h0.9M70.8 51.3h0.9M46.1 65.7h0.9M56.6 45.5h0.9M50.6 48.8h0.9M58.4 57h0.9M68.2 62.7h0.9M65.3 60.3h0.9M66.8 50.8h0.9M66.8 49.1h0.9M51.5 42.7h0.9M50.9 59.5h0.9M62.8 55.3h0.9M57.3 69.4h0.9M49.8 65.6h0.9M46.5 66.7h0.9M46.2 52.6h0.9M76.8 59h0.9M56.3 77.3h0.9M59.2 48.2h0.9M63.4 44.8h0.9M68 67.5h0.9M48.4 50h0.9M57 56.1h0.9M50.4 53.4h0.9M58.5 44.3h0.9M61.8 54.3h0.9M47.5 43h0.9M67.2 65.8h0.9M72.9 53.2h0.9M58.6 66.7h0.9M55.1 67.4h0.9M64.7 62.8h0.9M60.8 59.8h0.9M57.7 58.1h0.9M66.4 51.1h0.9M75 55h0.9M66.3 55.1h0.9M52.2 75.3h0.9M51.4 43.9h0.9M46.8 53h0.9M79.8 58h0.9M65.7 46.5h0.9M59.1 62.4h0.9M75.7 49.4h0.9M61.9 58.9h0.9M52 33.9h0.9M61.9 61.1h0.9M50 43.3h0.9M72 58.5h0.9M66.7 69.4h0.9M49 63.7h0.9M52.2 55.4h0.9M54 56h0.9M67.8 57.2h0.9M53.2 53.4h0.9M58.9 47.5h0.9M49.2 55.5h0.9M48.5 54.9h0.9M48 75h0.9M70.3 60.3h0.9M54.4 76.8h0.9M58.7 55.2h0.9M58.5 58.9h0.9M71.2 55.8h0.9M79.1 47.6h0.9M63 46.5h0.9M75.9 52.9h0.9M54.3 64.8h0.9M69.4 45.4h0.9M51 42.7h0.9M56.6 55h0.9M51 49.5h0.9M50.6 48.9h0.9M61.1 70.4h0.9M50.2 60.7h0.9M56.1 54.5h0.9M59.3 53.7h0.9M58.3 54.5h0.9M66.3 67.6h0.9M72.8 69.5h0.9M46.5 44.8h0.9M47.7 51.3h0.9M65.5 49.5h0.9M54.2 62h0.9M64.4 52.8h0.9M55.5 48.2h0.9M75.1 62.2h0.9M63.2 60.6h0.9M76 69h0.9M48.8 55.2h0.9M56.7 81.7h0.9M56.1 36.1h0.9M47.3 57.1h0.9M50.8 59.2h0.9M53.1 47.6h0.9M64.1 50.9h0.9M49.3 42.9h0.9M46 62.2h0.9M63.3 52.4h0.9M57.8 45.4h0.9M70.1 66.5h0.9M57.7 39.3h0.9M74.7 58.8h0.9M69.3 50.2h0.9M52.8 56h0.9M59.9 41.5h0.9M65.8 68.6h0.9M59 49.8h0.9M56.8 51.5h0.9M79.3 57.3h0.9M46.3 57h0.9M59.4 50.7h0.9M49.8 71.9h0.9M64.9 63.6h0.9M61.1 60.6h0.9M71.8 55.8h0.9M76.3 47h0.9M52.1 42.9h0.9M51 60.9h0.9M71.7 49.7h0.9M55.1 52.6h0.9M46.5 44.7h0.9M55.7 39.5h0.9M56.3 56.2h0.9M47.4 46.4h0.9M61.9 52.5h0.9M74.9 47.1h0.9M51.6 66h0.9M58.9 75h0.9M48.4 61.2h0.9M46.6 35h0.9M53.6 54.7h0.9M77 52.8h0.9M54.9 61.6h0.9M73.2 55.4h0.9M67 60.9h0.9M51.6 56.7h0.9M55.3 47.3h0.9M69 42.8h0.9M68.5 65.1h0.9M53.9 48.7h0.9M52.4 60.5h0.9M63.5 58.7h0.9M66.4 50.7h0.9M57.7 41.1h0.9M63.8 57.5h0.9M50.2 67h0.9M63 29.2h0.9M55.5 42.2h0.9M67.3 79.6h0.9M49 56.7h0.9M52.1 59.3h0.9M62.4 68.2h0.9M68.3 62.8h0.9M49.7 55.5h0.9M68.2 43.7h0.9M60.4 61.8h0.9M61.4 60.4h0.9M72.5 60.6h0.9M64.9 61.4h0.9M75.6 38h0.9M69.7 53.5h0.9M51.8 46.8h0.9M47.1 60.7h0.9M58.1 53.6h0.9M46.8 48.5h0.9M55.1 54.3h0.9M76.4 61.9h0.9M51.4 40.6h0.9M63.3 48.7h0.9M55.7 50.1h0.9M56 69.3h0.9M47.1 52.8h0.9M45.7 64.3h0.9M60.4 80.4h0.9M57.9 45.5h0.9M51.8 53.8h0.9M47.1 74.3h0.9M58.8 50.5h0.9M56.7 64.3h0.9M56.8 60h0.9M63 36.7h0.9M72 77.6h0.9M66.3 65.6h0.9M45.7 50.4h0.9M66.1 48.4h0.9M53.5 37.9h0.9M53.2 56.9h0.9M46.9 49.2h0.9M76.7 44.5h0.9M68.8 76h0.9M58.8 49.2h0.9M50.1 66.1h0.9M71.3 56.7h0.9M62.4 63.1h0.9M72.9 46h0.9M68.6 52.4h0.9M46.2 57h0.9M52.5 46.6h0.9M71.7 74.6h0.9M62.5 67.3h0.9M49.1 55.3h0.9M58.3 45.7h0.9M51.3 45.9h0.9M59.4 53.5h0.9M66.7 56h0.9M51.5 57.2h0.9M53 49.7h0.9M50.4 63.1h0.9M62.4 68.2h0.9M50.2 57.6h0.9M49.8 51.1h0.9M64 57.7h0.9M66.5 50.5h0.9M64.6 49h0.9M67.9 53.9h0.9M45.8 52.5h0.9M46.2 57.8h0.9M57 56.3h0.9M48.6 21.2h0.9M56.1 38h0.9M57.8 66.7h0.9M58.1 52.3h0.9M52.9 54.7h0.9M48.7 50.5h0.9M54.8 65.1h0.9M52.1 56.7h0.9M53 60.4h0.9M64.5 58.3h0.9M47.3 48.6h0.9M74.1 53.3h0.9M51.7 69.9h0.9M67.5 61.1h0.9M50.4 78.4h0.9M59.5 61.2h0.9M53 42.6h0.9M59.5 53.7h0.9M51.2 42.2h0.9M65.3 67h0.9M87.5 64.3h0.9M48.2 47.7h0.9M53 65.2h0.9M62 61.6h0.9M57.5 62.3h0.9M71.6 45.9h0.9M49.7 42.8h0.9M73.6 68.3h0.9M63.7 44.6h0.9M57 53.8h0.9M55.9 54.2h0.9M61 52.2h0.9M64.8 58.3h0.9M51.6 54.9h0.9M49.9 63.7h0.9M51.9 58.8h0.9M50.5 41.9h0.9M65.4 45.9h0.9M62.8 60h0.9M49.1 48.2h0.9M52.2 59.7h0.9M50 58.9h0.9M46.4 55.7h0.9M61.7 56.4h0.9M49.7 45.7h0.9M56.9 59.3h0.9M52 48.7h0.9M61.2 79.6h0.9M51.5 59.2h0.9M59.3 31.6h0.9M56.4 49.3h0.9M70.9 53.6h0.9M46.1 53.9h0.9M56.9 50.7h0.9M54.4 43.1h0.9M52.4 63.4h0.9M77.6 62.7h0.9M58.1 67.2h0.9M66.7 71.8h0.9M67.5 54.9h0.9M58 57.7h0.9M58.5 57.9h0.9M46 36h0.9M47.3 36.8h0.9M55.8 56h0.9M65 56.9h0.9M74.2 73.8h0.9M60.1 60h0.9M65.7 49.2h0.9M48.2 48.1h0.9M46.3 55.1h0.9M61.6 55.3h0.9M59.4 38.1h0.9M46 50.7h0.9M55.4 50.4h0.9M65.7 55.4h0.9M55.2 56.1h0.9M63.1 51.5h0.9M67.9 60.4h0.9M56.8 56.4h0.9M61 65.6h0.9M65.9 59.6h0.9M65.1 57.1h0.9M69.4 55.7h0.9M56.2 44.9h0.9M52.7 47.6h0.9M79.2 60.7h0.9M50.4 74.2h0.9M55.8 52.7h0.9M50.2 35.7h0.9M59.9 71.9h0.9M48.5 78.3h0.9M60 54.2h0.9M67.7 61h0.9M48.2 62.7h0.9M49.1 39h0.9M78.4 52.7h0.9M48 59.2h0.9M49.3 51.1h0.9M55.8 66.7h0.9M49.5 60.7h0.9M61.9 45.7h0.9M57.6 47h0.9M67.2 60.3h0.9M55.2 43.3h0.9M56.3 48.7h0.9M63.1 54.9h0.9M45.7 64.8h0.9M63.3 50.4h0.9M68.4 53.2h0.9M51.4 57.2h0.9M46.3 51.8h0.9M53.2 70.5h0.9M72.2 53.5h0.9M73.5 55.6h0.9M59.4 64.4h0.9M58.4 78.9h0.9M57.8 44.6h0.9M70 52.1h0.9M51.5 27.6h0.9M66.5 63.8h0.9M64.2 65.3h0.9M74.4 55.6h0.9M65.8 48.9h0.9M50.9 66h0.9M59.5 43.3h0.9M59.2 54.3h0.9M45.6 60.1h0.9M50.3 41.1h0.9M62 62.1h0.9M56.6 63.6h0.9M47.6 44.9h0.9M66.5 66.5h0.9M59.3 50.2h0.9M59.7 57h0.9M64.6 44.1h0.9M56.3 54.5h0.9M55.4 52.1h0.9M59.6 42.5h0.9M54.4 60.1h0.9M58.3 66.2h0.9M57.7 60.3h0.9M79.4 61.9h0.9M85 59.1h0.9M63.2 61.4h0.9M75.8 58.7h0.9M69 46.2h0.9M72 60.9h0.9M57.6 57.6h0.9M47.1 70.6h0.9M62.6 60.8h0.9M59.3 66h0.9M60.8 63.1h0.9M80.2 51.1h0.9M53.5 64.5h0.9M66 61.9h0.9M61.3 53.2h0.9M64.3 85.9h0.9M63.9 62.9h0.9M52.6 46.5h0.9M60.2 56.6h0.9M66.8 65.9h0.9M51.1 62.4h0.9M68.7 54h0.9M63.6 56.7h0.9M49.4 65h0.9M49.3 47.9h0.9M60.3 46.6h0.9M76.9 50.4h0.9M77.9 45.6h0.9M62 44.6h0.9M62.8 43.9h0.9M68.6 48.4h0.9M56.5 59.6h0.9M61.8 38.9h0.9M73.6 61.3h0.9M50.1 46.3h0.9M61.3 52.8h0.9M73 52.9h0.9M48.3 68.8h0.9M60.3 56.4h0.9M48 41.3h0.9M52.5 59.4h0.9M61.3 58.1h0.9M57.5 46.4h0.9M51.8 44.2h0.9M56.3 49.8h0.9M60.7 53.9h0.9M76.6 49.6h0.9M68.4 69.1h0.9M72.2 48.2h0.9M78.2 57.1h0.9M52.1 53.8h0.9M61.9 56.5h0.9M53 68.2h0.9M46.7 46.1h0.9M64.1 62.7h0.9M67.6 45.8h0.9M67.4 60.6h0.9M75.3 44.1h0.9M57.5 53.4h0.9M68 51.5h0.9M46.7 64.2h0.9M66.4 65.4h0.9M45.9 55.4h0.9M66.9 49.8h0.9M46.4 63.9h0.9M73 45.1h0.9M62.1 54.6h0.9M46.9 57.5h0.9M47.6 81.5h0.9M64.4 48.1h0.9M46.5 64.4h0.9M50.1 48.5h0.9M54.2 54h0.9M68 50h0.9M67.2 58.4h0.9M54.9 36.9h0.9M71.1 58h0.9M63.8 52.1h0.9M50.7 49.7h0.9M66.2 59.3h0.9M52.3 52.9h0.9M61.4 59.1h0.9M58 56.1h0.9M72 65.7h0.9M54 61.1h0.9M52.8 58.5h0.9M62 72.8h0.9M59.1 64.4h0.9M48.1 62.8h0.9M56.8 51.6h0.9M53.9 55.4h0.9M57.2 59.8h0.9M49.1 49h0.9M63.6 39.9h0.9M47.9 70.7h0.9M62.9 40.3h0.9M84.9 31.4h0.9M71.5 70.8h0.9M65.5 53.9h0.9M59.1 47.5h0.9M64.3 45.4h0.9M51.9 65.5h0.9M56.9 43.3h0.9M68.4 59.2h0.9M46.1 49.8h0.9M55.9 49.3h0.9M66.1 49.3h0.9M66.3 55.6h0.9M64.8 50.9h0.9M49.2 45.1h0.9M61.6 64.9h0.9M79.4 68.3h0.9M57.9 54h0.9M59.5 55.7h0.9M71.8 65h0.9M70.7 58.9h0.9M52.3 67.3h0.9M50.5 53.3h0.9M49.7 37.4h0.9M64.9 44.5h0.9M48.5 48.9h0.9M63.4 55.3h0.9M55.2 40h0.9M54 42h0.9M58.5 59.5h0.9M54.8 75.4h0.9M61.1 61.7h0.9M56.6 54.2h0.9M66.1 66.5h0.9M60.9 65.1h0.9M60.4 44.2h0.9M57.9 42.5h0.9M59 52.6h0.9M54.4 53.6h0.9M58.3 61.7h0.9M48.7 54.8h0.9M51.9 42.2h0.9M49.4 75.2h0.9M58.2 61.7h0.9M60.3 45.4h0.9M66.5 48.5h0.9M53.7 62.8h0.9M62.2 55.8h0.9M65.7 56.8h0.9M65.3 42.7h0.9M53.9 51.4h0.9M49.8 69.2h0.9M81.4 56.2h0.9M54.8 62.9h0.9M76 44.7h0.9M56 54.2h0.9M61.4 57.5h0.9M62.6 52h0.9M55.6 49.6h0.9M47.4 54.7h0.9M53.4 44.9h0.9M73.1 54.7h0.9M46.4 60.8h0.9M54.8 58.4h0.9M57 50.5h0.9M55.5 75.3h0.9M60 46h0.9M50.7 75.8h0.9M61.2 56.7h0.9M60.5 62h0.9M68.6 60.1h0.9M56.7 57.7h0.9M70.5 63.8h0.9M58.8 50.1h0.9M50.7 46.9h0.9M52 60h0.9M66.4 56.1h0.9M78.9 55.3h0.9M91.7 65.5h0.9M60.7 51.3h0.9M57 74.3h0.9M52.1 62.9h0.9M51 62.5h0.9M56 45.1h0.9M65.9 62.6h0.9M61.9 65.6h0.9M67.7 55.8h0.9M70.5 62.7h0.9M56.2 51.9h0.9M55.4 56.2h0.9M51.1 49.4h0.9M79.9 58.2h0.9M48 43.6h0.9M46.7 62.8h0.9M63.7 53.9h0.9M55.6 53.1h0.9M59.3 79.5h0.9M46.3 54.7h0.9M65.2 53.7h0.9M56.2 59.3h0.9M53.9 65.5h0.9M66.4 59.1h0.9M55.3 53.6h0.9M61.3 64.7h0.9M55.7 60.3h0.9M51.3 42.6h0.9M60.1 71.1h0.9M55.6 64.2h0.9M70.2 65.4h0.9M48 54.2h0.9M56.5 46.6h0.9M60.5 65.7h0.9M49.5 74.7h0.9M51.7 54.1h0.9M52.3 49.3h0.9M59.8 56.2h0.9M74.1 61.8h0.9M61.2 53.9h0.9M54.6 71.8h0.9M63.5 63.9h0.9M57.7 58h0.9M62.5 64.8h0.9M46.8 60.7h0.9M85.1 55.1h0.9M52.1 49.4h0.9M55.7 58.8h0.9M76.2 79.8h0.9M62.2 59.8h0.9M60.5 55.8h0.9M73.3 61.9h0.9M59 67.9h0.9M65.3 60.4h0.9M58.8 72.7h0.9M60.9 55.2h0.9M58 36.5h0.9M55.2 62.2h0.9M56.9 47h0.9M69.6 49.4h0.9M54.9 65.4h0.9M68.4 58h0.9M62.4 54.6h0.9M60.3 47.1h0.9M68.3 65.8h0.9M49.8 67.4h0.9M51.3 70.4h0.9M60.6 51.7h0.9M64.2 48.6h0.9M58 55.5h0.9M54.1 52.1h0.9M71.5 52h0.9M46.7 67.8h0.9M71.3 59.2h0.9M62 56.2h0.9M72.9 43h0.9M62.8 50h0.9M70.2 55.3h0.9M66.9 49.8h0.9M48 46.3h0.9M68.8 68.7h0.9M58.1 46.2h0.9M53.6 49.5h0.9M71.7 59h0.9M60.6 52.2h0.9M56.1 48.4h0.9M50.5 70.9h0.9M52.4 49.4h0.9M50.1 61h0.9M74.9 39.1h0.9M54.8 56.4h0.9M54 54.2h0.9M51.1 65.5h0.9M49.7 54.8h0.9M55 57h0.9M53 65.5h0.9M54.9 57.7h0.9M54.4 46.5h0.9M57.2 49.2h0.9M61 39.3h0.9M74.4 56.3h0.9M53.8 66.1h0.9M55.8 50.3h0.9M80.2 45.8h0.9M53.9 64h0.9M59.4 78.8h0.9M62.6 56.8h0.9M56.2 60.2h0.9M68 65.6h0.9M59.7 59h0.9M57.5 52.2h0.9M56.1 48.2h0.9M72.6 76.4h0.9M50.5 59.8h0.9M52.3 68h0.9M60 56.7h0.9M52.4 57.2h0.9M46.8 61.1h0.9M56.5 66.4h0.9M54.8 65.7h0.9M52.4 57.8h0.9M55.8 64.9h0.9M48.8 38.9h0.9M51.1 62.3h0.9M52.9 64.9h0.9M50.8 56.1h0.9M50.6 59.3h0.9M76.8 59.4h0.9M57.2 50.1h0.9M46.3 69.9h0.9" stroke="#000" stroke-width="0.9" stroke-opacity="0.65"/><path d="M56.9 44.7h0.8M67 48.6h0.8M87.6 33.1h0.8M71.6 57.7h0.8M56.8 46.8h0.8M72.3 65h0.8M58.8 39.4h0.8M77.7 64.2h0.8M64.6 34.3h0.8M82.5 50.4h0.8M79.2 51.7h0.8M64.2 48.4h0.8M82.7 63.5h0.8M46.6 44.5h0.8M85.8 49.1h0.8M54.4 52h0.8M66.9 51.2h0.8M63.2 49.5h0.8M63.4 54.7h0.8M59.9 49.7h0.8M66.6 62.4h0.8M71.7 51.1h0.8M73.4 55.2h0.8M78.9 56.1h0.8M85.9 62.8h0.8M67.6 48.7h0.8M76.8 56.1h0.8M67.1 40.2h0.8M49.7 54.8h0.8M75.7 58.4h0.8M55.1 60.3h0.8M62.7 55.1h0.8M72.2 45.6h0.8M62.1 35.4h0.8M58.8 37.6h0.8M72.4 52.5h0.8M77.1 54.9h0.8M61.7 54.8h0.8M64.1 56.9h0.8M71.2 44.1h0.8M68 52.4h0.8M64.9 59.2h0.8M85.1 49.1h0.8M64.5 34h0.8M66.7 48.5h0.8M46.4 54.3h0.8M73.9 46.1h0.8M64.3 44.3h0.8M75.6 39.9h0.8M64.9 67.6h0.8M68.5 55.7h0.8M66.5 42.6h0.8M67.7 55.3h0.8M57.8 54.7h0.8M80.4 60.6h0.8M52.2 44.2h0.8M51.9 60.6h0.8M74.1 57.6h0.8M59.2 42.7h0.8M68.8 52.8h0.8M59.5 53.1h0.8M74.4 53.8h0.8M57.6 35.1h0.8M65.4 53.3h0.8M65.4 48.6h0.8M61.1 57.7h0.8M67.5 53h0.8M58.3 47h0.8M69.6 44h0.8M55.4 49.4h0.8M80 53.5h0.8M82.6 50.9h0.8M64.9 40.9h0.8M62.2 63.5h0.8M71.3 57.9h0.8M75.1 51.9h0.8M66 53h0.8M74.7 55.7h0.8M72.9 53.2h0.8M60.3 49.9h0.8M58.6 60h0.8M47 50.3h0.8M91.9 49.3h0.8M56.7 51.9h0.8M80.9 50.7h0.8M74.1 52.8h0.8M64.3 77.2h0.8M68.7 47.7h0.8M63.1 55h0.8M72.1 58.2h0.8M69.4 40.5h0.8M73.3 49.5h0.8M65.1 40.1h0.8M62.3 46.2h0.8M67.6 40.4h0.8M68.5 53h0.8M56.8 47h0.8M59.4 59.3h0.8M51.4 48.5h0.8M76.5 47h0.8M69.4 45.2h0.8M87.4 59.3h0.8M79.3 41.4h0.8M57 60.6h0.8M66.1 49.9h0.8M71.3 42h0.8M75.7 52.1h0.8M72.8 46.6h0.8M73.1 46.4h0.8M77.5 61h0.8M77.1 56.1h0.8M74.3 30.4h0.8M76.3 49.8h0.8M68.9 49.7h0.8M54.1 47.7h0.8M74.6 63.3h0.8M61.8 44.8h0.8M82.5 44.9h0.8M88.7 52.4h0.8M59.2 59.9h0.8M84.9 40.5h0.8M83.6 49.7h0.8M82.9 49h0.8M52.2 56h0.8M77.3 68.8h0.8M85.2 57.6h0.8M65.6 47.8h0.8M65.1 45.4h0.8M65.3 31.6h0.8M69.8 51.8h0.8M93.7 58.1h0.8M63.2 56.5h0.8M55.7 47.2h0.8M49.3 63.5h0.8M73.9 42.6h0.8M67.4 59.6h0.8M73 55.1h0.8M59.4 46.9h0.8M69 59.4h0.8M59.7 43h0.8M79.4 44.6h0.8M78.8 53.9h0.8M76.8 66h0.8M74.9 58.2h0.8M58.8 46.4h0.8M74.4 64.3h0.8M81.9 70.5h0.8M71.1 53.6h0.8M78.1 52.2h0.8M67.4 43.6h0.8M77.9 43.4h0.8M73.1 40.6h0.8M79 43.8h0.8M76.4 39.3h0.8M63.6 61.4h0.8M59.9 52.5h0.8M63.2 33.5h0.8M71.1 55.5h0.8M56.9 56.6h0.8M60 44h0.8M68.1 46.5h0.8M90.9 39.6h0.8M75.4 59.9h0.8M48.2 38.1h0.8M73.6 48.1h0.8M71.8 61.1h0.8M64.3 43.5h0.8M58.7 54.5h0.8M70.3 40.9h0.8M85.2 60.7h0.8M76.5 42.5h0.8M63.9 47.6h0.8M63.9 43h0.8M72.3 53.8h0.8M71.7 48h0.8M80.9 53.5h0.8M67.4 59.7h0.8M65 50h0.8M61.4 57.3h0.8M63.5 47.2h0.8M60.6 56.5h0.8M62.7 38.6h0.8M74.2 46.4h0.8M71.6 55h0.8M80 60.4h0.8M62.2 50.7h0.8M55.1 65.4h0.8M72.4 63.2h0.8M64.8 35.6h0.8M83.3 52.7h0.8M69.3 52.4h0.8M74.4 56.3h0.8M52.1 60.7h0.8M62.7 48.3h0.8M85.3 59.4h0.8M64.6 37.1h0.8M69.6 56.3h0.8M67.2 42h0.8M60.1 42h0.8M70.2 58.6h0.8M78.3 46.1h0.8M70.4 56.4h0.8M62.9 50.8h0.8M89.2 53.6h0.8M76.8 48.5h0.8M68.4 38.3h0.8M67.7 61.5h0.8M89 61.6h0.8M74.9 52.4h0.8M62 50.7h0.8M74.1 45.7h0.8M77.3 44.1h0.8M50.2 43.9h0.8M51.3 41h0.8M79.3 50.4h0.8M70.2 61.3h0.8M80.6 48h0.8M81.3 55.1h0.8M68 55.5h0.8M53.7 45.7h0.8M66.9 56.9h0.8M64.3 51h0.8M77.7 63.3h0.8M75.7 62.1h0.8M64 49.5h0.8M71.2 49.6h0.8M62.9 65.2h0.8M66 44.3h0.8M72.9 66.7h0.8M68.8 61.9h0.8M63.6 48.1h0.8M61.1 50.9h0.8M86.4 42.8h0.8M84.4 43.9h0.8M65.7 58.7h0.8M74.3 54.3h0.8M51.5 54.9h0.8M57.8 72.6h0.8M65.9 53.5h0.8M56.5 48.2h0.8M55.1 59.9h0.8M65.4 56.5h0.8M61.2 48h0.8M80.9 44.2h0.8M50 55.2h0.8M56.6 48.5h0.8M77.1 45.5h0.8M76.8 46.6h0.8M82.9 62.6h0.8M63.3 50.3h0.8M59.7 53.6h0.8M79.5 40.4h0.8M77.2 41.4h0.8M59.4 37.7h0.8M89 52.5h0.8M70.4 46.6h0.8M78.7 35.2h0.8M68.3 69.7h0.8M64.2 52.1h0.8M74.7 45.5h0.8M68.2 59.7h0.8M69.9 55h0.8M64.5 54.5h0.8M68.6 63.6h0.8M75.2 50.1h0.8M75.6 44.7h0.8M48 42.9h0.8M77.3 43.5h0.8M63.4 53.8h0.8M80.2 51.9h0.8M67 47.6h0.8M84.3 60.5h0.8M67 40.8h0.8M60.1 56.6h0.8M60.8 59.1h0.8M71.6 54.3h0.8M74.5 56h0.8M59.4 49.4h0.8M91.4 42.3h0.8M63.3 60.5h0.8M66.4 45.5h0.8M54.8 56.3h0.8M78.2 63.2h0.8M68.5 60.4h0.8M57.7 53.3h0.8M61.2 53.4h0.8M75.5 60.6h0.8M58.1 62.1h0.8M63.3 43.8h0.8M66.3 40.3h0.8M68 54.3h0.8M66 56.3h0.8M64.9 52h0.8M53.6 52.3h0.8M59.5 48.4h0.8M67.1 53.5h0.8M51.5 39.5h0.8M65 55.8h0.8M71.6 59.1h0.8M81 56h0.8M67.8 43.7h0.8M58.5 48.3h0.8M70.7 53.8h0.8M68 50.8h0.8M74.3 53.7h0.8M71 54.5h0.8M62.5 43.8h0.8M72.9 55.3h0.8M65.8 48.7h0.8M90.8 45.9h0.8M65.8 54.1h0.8M56.5 52.9h0.8M86 59.5h0.8M74.3 56.7h0.8M69.1 59.7h0.8M66.4 48.6h0.8M69 59.2h0.8M71.3 57.4h0.8M47.8 61.5h0.8M91.4 62.7h0.8M64.8 45.2h0.8M70.8 44.1h0.8M75.3 47.8h0.8M77.6 62.9h0.8M47.7 54.3h0.8M61 40.7h0.8M61.8 50.2h0.8M78.3 39.8h0.8M78.5 68.1h0.8M74 56.4h0.8M67.9 42.6h0.8M73.3 55.1h0.8M75.3 72.6h0.8M75.3 55.4h0.8M83.6 41.2h0.8M56.6 49h0.8M61.5 57.6h0.8M64.8 65.9h0.8M83.2 58.2h0.8M64.1 56.9h0.8M76.1 43.5h0.8M71.5 57.6h0.8M70.2 64.6h0.8M80.1 45.4h0.8M69.2 45.3h0.8M73.8 45.1h0.8M77.2 55.1h0.8M77.7 50.8h0.8M53.4 66.1h0.8M66.3 63h0.8M72.3 57.4h0.8M86.3 54.7h0.8M82 40.1h0.8M76.7 50.1h0.8M66.7 52.1h0.8M71.5 65.3h0.8M49.5 52.4h0.8M60.8 61.3h0.8M63.8 55.7h0.8M64 57.3h0.8M78.1 48.8h0.8M68.5 40.6h0.8M71.1 58.9h0.8M62.4 61h0.8M47.3 37.2h0.8M54.1 48.1h0.8M68.2 51.4h0.8M67.3 57.8h0.8M63.3 41.9h0.8M55.6 68.9h0.8M82.6 55.9h0.8M59.7 52h0.8M76.6 61.7h0.8M59 58.1h0.8M70.5 60.8h0.8M81.9 49.3h0.8M53.5 55.2h0.8M85.8 57.5h0.8M70.3 71.2h0.8M57.6 59.2h0.8M62.3 52.4h0.8M68.9 64.1h0.8M58.6 47.7h0.8M52.1 55.9h0.8M63.4 55.4h0.8M57.3 49.1h0.8M78.4 50.6h0.8M74.3 56.2h0.8M64.5 39.5h0.8M77.9 53.4h0.8M77.8 35.9h0.8M51.5 34.9h0.8M59.2 60.3h0.8M73.7 51.7h0.8M69.3 58.1h0.8M65 55.2h0.8M69.4 34.5h0.8M64.2 62.9h0.8M64 50.9h0.8M61.9 48.1h0.8M79.2 49.9h0.8M57.8 27.1h0.8M62.3 36.3h0.8M49.8 58.4h0.8M75.1 36.7h0.8M76.5 55.7h0.8M60.2 57.9h0.8M51.7 42.4h0.8M53.6 43.1h0.8M76.8 41.3h0.8M56.5 44.4h0.8M70 49.3h0.8M76.6 46.3h0.8M55.1 48h0.8M68.3 44.5h0.8M70.7 66.5h0.8M62.1 52.3h0.8M81.4 46.7h0.8M59.4 43.2h0.8M71.9 56h0.8M66.4 52.2h0.8M80.6 58.8h0.8M53.8 51.8h0.8M68.8 57.6h0.8M65.5 46.6h0.8M63.2 37.6h0.8M67.5 47h0.8M72.4 43.6h0.8M63.3 43.9h0.8M57 57.3h0.8M63 55.3h0.8M56.5 52.5h0.8M50.7 47.9h0.8M62.6 56.4h0.8M69.4 50.3h0.8M76 53.2h0.8M73 57.8h0.8M66.9 49.3h0.8M70.8 48.3h0.8M71.4 60.5h0.8M76.1 48.6h0.8M54.7 51.2h0.8M66.3 60.5h0.8M63.7 50h0.8M74.9 47.8h0.8M65.9 65.3h0.8M82.4 56.7h0.8M70.2 43.9h0.8M73.1 52.1h0.8M69.7 47.5h0.8M67.4 50.2h0.8M70.7 63h0.8M71.1 38.4h0.8M57.8 39h0.8M59.6 56.1h0.8M71.5 46.8h0.8M70.2 45.6h0.8M53.3 40.4h0.8M58.9 63h0.8M54.1 61.5h0.8M80.8 50.2h0.8M67 46.7h0.8M67.3 56.9h0.8M67.6 59.6h0.8M79.3 54.3h0.8M70.8 51.1h0.8M70.9 42.7h0.8M71.5 53.2h0.8M58.9 68.8h0.8M57.8 44.6h0.8M70.3 36.1h0.8M59.6 39.4h0.8M57.8 50.5h0.8M70.7 60.4h0.8M75.5 61h0.8M73.3 47.8h0.8M78.6 47.7h0.8M61.3 63.8h0.8M75.3 53.3h0.8M75 58.6h0.8M53.8 50.8h0.8M55.7 52.5h0.8M60.7 62.4h0.8M72.6 45.1h0.8M67.3 41.9h0.8M67.9 55.9h0.8M70.1 36.1h0.8M64.1 55.6h0.8M70.5 60.8h0.8M54.6 55.7h0.8M60.9 53.1h0.8M71.5 57h0.8M61.7 53h0.8M55.8 40.3h0.8M73 51.1h0.8" stroke="#000" stroke-width="0.8" stroke-opacity="0.5"/><path d="M79.4 84.7h0.9M96.6 104h0.9M107.4 97.9h0.9M77.7 90.8h0.9M101.4 94.7h0.9M100.8 89.7h0.9M114.8 103.3h0.9M95.4 83.7h0.9M117.9 87.1h0.9M108.9 106.8h0.9M86.5 93.9h0.9M92.7 95.7h0.9M99.7 107.1h0.9M102.6 91.5h0.9M108.2 89.4h0.9M92.6 109.4h0.9M87.8 87.6h0.9M96.8 83.1h0.9M74.2 100h0.9M88.1 87.2h0.9M92.5 83.7h0.9M85.1 92.8h0.9M121.6 97.4h0.9M104.2 79.5h0.9M96.1 82.1h0.9M104.5 89.7h0.9M96.8 90.8h0.9M90.3 79.4h0.9M102.5 80.5h0.9M84 89.1h0.9M89 93.6h0.9M107 93.5h0.9M98.5 91.7h0.9M105.4 76.8h0.9M100.2 84.1h0.9M83.4 91.6h0.9M92.3 96.2h0.9M107.9 72.9h0.9M95.6 107.2h0.9M105.5 103.1h0.9M97.4 80h0.9M84.6 97.2h0.9M106.4 85.7h0.9M93.6 93.6h0.9M78 88.7h0.9M113.4 109h0.9M95.2 106.2h0.9M90.9 85h0.9M72.9 99.2h0.9M99.9 93h0.9M77.4 103.5h0.9M92.6 90.2h0.9M73.2 98.9h0.9M106.8 86.7h0.9M97.4 94.7h0.9M106.5 92.4h0.9M114.5 89.6h0.9M90 87.8h0.9M69.8 85.1h0.9M107 93.7h0.9M87.8 94.4h0.9M75.2 89.3h0.9M101.9 97.1h0.9M88.3 98.9h0.9M116.1 88.2h0.9M104.2 79.1h0.9M75.8 96.5h0.9M96.9 93.2h0.9M90.3 89.2h0.9M105 105.3h0.9M94.2 78.4h0.9M109.8 96.4h0.9M103.6 93h0.9M120.9 92.2h0.9M101.9 76.8h0.9M90.4 86.1h0.9M96.1 94.4h0.9M88.6 105.4h0.9M85.3 88h0.9M99 81.6h0.9M102.5 96.7h0.9M93.4 106.9h0.9M97.3 93.8h0.9M86.4 78.2h0.9M89.8 89h0.9M91.7 97.7h0.9M71.4 82.5h0.9M77.3 102.3h0.9M90.5 87.5h0.9M84.9 98.8h0.9M92.1 93.4h0.9M75.1 101h0.9M100.6 96h0.9M109.5 90.1h0.9M94.7 97.3h0.9M101 89.6h0.9M96.9 87.6h0.9M104 99.1h0.9M96.5 106.7h0.9M80.3 89.7h0.9M114.5 88.2h0.9M79.7 102.8h0.9M102.2 82h0.9M104.6 83.4h0.9M82.4 90.4h0.9M91.4 82.8h0.9M92.7 83.6h0.9M97.1 91.4h0.9M104.3 88h0.9M82.5 81h0.9M93.9 103.9h0.9M105.4 86.5h0.9M106.4 82.3h0.9M107.2 88.6h0.9M104.6 96.6h0.9M93.6 94.3h0.9M85.3 91h0.9M103.9 92.3h0.9M85.8 100.1h0.9M79.1 85.2h0.9M100.3 82h0.9M112.7 100.4h0.9M90.5 87.2h0.9M82.6 80.4h0.9M101.2 96.6h0.9M100.2 93.8h0.9M90.6 94.5h0.9M81 91.7h0.9M112 102.2h0.9M91.6 88.9h0.9M111 106h0.9M80.7 88.2h0.9M99 101.4h0.9M87.7 96.8h0.9M101.1 90.6h0.9M93 100.1h0.9M103.7 82.9h0.9M98.8 80.9h0.9M88.6 81.2h0.9M82.5 86.1h0.9M86.2 95.9h0.9M104.9 89.7h0.9M84.7 98.1h0.9M75.2 76.1h0.9M104.2 96.9h0.9M106.8 89.9h0.9M83.2 87.5h0.9M102.5 85.5h0.9M89.1 80.4h0.9M84.3 98.4h0.9M101.3 82.3h0.9M85.1 87.1h0.9M102.3 82.3h0.9M94.8 74.4h0.9M83.3 95h0.9M106 82.4h0.9M88.4 98.1h0.9M92.4 87.3h0.9M102 93.2h0.9M108.3 98h0.9M90.5 90.7h0.9M95.9 80.8h0.9M86.3 99.5h0.9M79.8 99.6h0.9M99.6 90.5h0.9M102.2 95.5h0.9M109.3 88.4h0.9M94.1 89.7h0.9M116.4 99.3h0.9M86.8 89h0.9M89.1 91.8h0.9M77.3 99.9h0.9M101.2 86h0.9M95 87.7h0.9M97.1 99.8h0.9M80.6 102.2h0.9M92.7 103.7h0.9M100.9 101.6h0.9M102.6 100.4h0.9M97.2 85h0.9M103.7 97.4h0.9M118.7 75.6h0.9M94.5 100.2h0.9M83.4 89.9h0.9M118.9 103.1h0.9M87.4 103.2h0.9M109.1 98h0.9M100.7 93.7h0.9M87.5 87.6h0.9M104.4 92.9h0.9M116.1 89.1h0.9M71.4 89.1h0.9M99.6 94.8h0.9M97.4 85.2h0.9M112.4 86.4h0.9M104.2 89.5h0.9M84.1 103.1h0.9M70.3 85h0.9M101.3 88.9h0.9M104.6 91h0.9M92 109.1h0.9M94.4 90.5h0.9M85.4 85.8h0.9M103.6 96.3h0.9M96.8 86.2h0.9M104 78.2h0.9M93.2 89.8h0.9M87.9 93.1h0.9M89.8 85.4h0.9M115.7 97.8h0.9M109.4 92.3h0.9M107 98.1h0.9M94.5 94h0.9M96.3 63.8h0.9M82.2 92.1h0.9M103.6 87.3h0.9M108.8 102.2h0.9M92.6 103.3h0.9M115.3 95.7h0.9M86.6 103.7h0.9M95.2 89h0.9M98.2 87.7h0.9M108.2 98.2h0.9M109.8 96.6h0.9M88.7 90.7h0.9M106.2 88.7h0.9M127.7 90.1h0.9M90.8 101.2h0.9M104.9 91.8h0.9M94.6 95.4h0.9M105.8 98.1h0.9M93.8 95.5h0.9M105.9 98.1h0.9M64.6 84.9h0.9M88.9 90.2h0.9M98.9 99.4h0.9M103.5 91h0.9M97.2 106.1h0.9M90.6 94.4h0.9M113.4 94.8h0.9M75.5 95h0.9M92.9 91.1h0.9M108 95.8h0.9M94.2 99.1h0.9M101.6 92.8h0.9M100.2 94h0.9M93.4 88.3h0.9M97.3 84.4h0.9M83.8 102.4h0.9M94.5 91.8h0.9M95.6 92.2h0.9M97.2 92.5h0.9M88.5 99.5h0.9M89.7 100.3h0.9M76.9 83.5h0.9M107.4 90.8h0.9M90 95h0.9M86 92.6h0.9M73.7 88.4h0.9M90.2 96.3h0.9M106.2 85.2h0.9M113.9 87.3h0.9M75.4 73h0.9M113.2 91.3h0.9M90.2 86h0.9M85.5 102.8h0.9M96.1 106.3h0.9M94.9 73.2h0.9M105.9 89.1h0.9M94.5 104.5h0.9M94.2 101.3h0.9M96.9 86h0.9M102.3 87.2h0.9M109.9 99.7h0.9M97.7 96.9h0.9M102.9 89.8h0.9M106.4 90.2h0.9M103.5 84.4h0.9M98.1 95.3h0.9M88.7 88.7h0.9M91.4 97.8h0.9M89.5 95.5h0.9M113.1 94.9h0.9M80.1 93h0.9M108 89.8h0.9M108.7 97h0.9M101.5 90h0.9M91.7 90h0.9M97.8 96.3h0.9M101.5 89.7h0.9M97.8 95.2h0.9M80.1 85.9h0.9M88.7 90.5h0.9M94.2 90h0.9M88 97.5h0.9M100.1 79h0.9M97.3 83.1h0.9M115 88.5h0.9M93 92.8h0.9M95.1 91.7h0.9M113.4 93.9h0.9M105.9 101.2h0.9M86.9 105.6h0.9M104.4 99.8h0.9M88.1 98.7h0.9M101.5 87.8h0.9M121.2 96.7h0.9M94.7 93.7h0.9M106.8 101.2h0.9M103.3 101.9h0.9M112.6 82.3h0.9M92.1 84.6h0.9M98.2 103.7h0.9M104.1 83.8h0.9M94.1 100.4h0.9M91.6 91.4h0.9M100.4 77.6h0.9M105.4 94.9h0.9M103.2 84.3h0.9M89.1 87.4h0.9M99.8 92.7h0.9M98.6 106.5h0.9M110.9 86.4h0.9M90.3 105.9h0.9M93.9 103.2h0.9M114 87.8h0.9M94.4 92.8h0.9M88.1 84.3h0.9M93 99h0.9M92.5 90.5h0.9M92.3 81.2h0.9M112.8 73.4h0.9M90.3 96.6h0.9M82.6 97h0.9M110.4 85.3h0.9M99.4 83.3h0.9M102.5 92.9h0.9M99.5 103.1h0.9M102.2 102.9h0.9M103.9 82.6h0.9M99.9 96.1h0.9M82 102.8h0.9M97.9 95.1h0.9M87.8 92.7h0.9M100.4 89.5h0.9M98 75.2h0.9M111.5 83.2h0.9M74.3 84.5h0.9M88.4 96.5h0.9M87.6 94.4h0.9M102.9 107.8h0.9M86.5 97.5h0.9M87.1 96.8h0.9M104.3 79.4h0.9M85.2 82.8h0.9M81.4 86.3h0.9M87.1 80.6h0.9M98.2 96.5h0.9M83.4 87.7h0.9M97.2 90.3h0.9M89.8 98.6h0.9M106 97.5h0.9M94.9 108h0.9M115.4 88.9h0.9M95.9 101.6h0.9M88.7 95.3h0.9M97.6 86.5h0.9M94.7 79.5h0.9M91.4 76.1h0.9M121 104.1h0.9M110 94.5h0.9M107.6 102.2h0.9M107.8 99.4h0.9M87.5 95.5h0.9M91.5 82.6h0.9M85.1 95.5h0.9M108.1 81.1h0.9M115.4 103.8h0.9M93.1 88.3h0.9M96.3 99.9h0.9M93 83.2h0.9M100.6 75.5h0.9M98.5 101.3h0.9M100.2 98.3h0.9M102.2 97.8h0.9M98.5 85.4h0.9M94.6 91.4h0.9M110.2 105h0.9M101.4 86h0.9M89.3 90.5h0.9M111.6 94.7h0.9M96.4 85.9h0.9M106.3 94.3h0.9M96.5 92.8h0.9M114.7 90.7h0.9M114.7 101.9h0.9M97.5 99.1h0.9M95.7 85.4h0.9M94.2 84.7h0.9M102.4 92.1h0.9M103 98.6h0.9M64.2 94.5h0.9M78.1 93.3h0.9M87.8 92.8h0.9M111.3 78.3h0.9M99 91.4h0.9M77.1 97.2h0.9M97.4 87.9h0.9M92.9 77.6h0.9M87.2 89.1h0.9M93 91.4h0.9M86 96.3h0.9M91.9 81.1h0.9M88.4 88.9h0.9M105.9 95.9h0.9M93.5 92.2h0.9M99.3 108.3h0.9M90.5 95.7h0.9M104.6 84.4h0.9M99 93.3h0.9M92.1 96.5h0.9M107.8 101h0.9M95 93.5h0.9M121.7 83.2h0.9M99.3 99.1h0.9M98.6 97.2h0.9M98.8 98h0.9M110.5 90.2h0.9M99.1 91.6h0.9M92.8 91.8h0.9M85.1 98h0.9M114.9 105.6h0.9M110.4 84.3h0.9M113 86.3h0.9M96.4 106.8h0.9M85.7 98.7h0.9M100 90.8h0.9M87.8 95.4h0.9M92.1 100.4h0.9M109.9 81h0.9M91.7 89.4h0.9M84.6 83.1h0.9M97.9 90.3h0.9M79.7 87.7h0.9M102.4 82.4h0.9M87.3 104.7h0.9M110.8 79h0.9M82.8 95h0.9M84.5 90h0.9M92.3 96.5h0.9M70.4 74.4h0.9M84.1 100.1h0.9M95.4 78.3h0.9M102.2 97.7h0.9M94.4 89.4h0.9M101.6 101.7h0.9M98.6 96.3h0.9M96.5 88.9h0.9M87.4 94.1h0.9M93.8 90.1h0.9M106.8 95.9h0.9M106.1 79.4h0.9M102.9 87.3h0.9M88.5 85.2h0.9M109.7 98.6h0.9M89.5 82.9h0.9M97.1 88.3h0.9M114.4 80.3h0.9M77.8 90h0.9M97.1 93.1h0.9M104.9 108.6h0.9M93.4 87.6h0.9M78.5 93.9h0.9M106 89.9h0.9M109.4 92.2h0.9M112.9 94.7h0.9M85.9 86.9h0.9M80.9 78.1h0.9M99.8 99h0.9M117.5 91.6h0.9M94.5 83.1h0.9M107.4 95.1h0.9M90.8 97.5h0.9M102.9 77h0.9M104.8 93.1h0.9M92.9 88.7h0.9M115.4 104.3h0.9M116.2 82.8h0.9M90.1 99.2h0.9M84.3 86.2h0.9M78.1 106.8h0.9M108.2 95.7h0.9M99.3 88.7h0.9M92.8 96.9h0.9M89.5 101.8h0.9M91.8 85h0.9M110.6 90.8h0.9M102.8 88.7h0.9M73.4 96.4h0.9M82.9 100.7h0.9M80.7 77.1h0.9M100.2 95.4h0.9M98.1 82.3h0.9M106.3 80.3h0.9M92.1 85.7h0.9M93 98.8h0.9M90.3 96.5h0.9M104.3 78.3h0.9M84.8 88.9h0.9M90.8 94.5h0.9M76.7 97.8h0.9M104.8 90.7h0.9M82.5 92h0.9M91.4 96.5h0.9M96.1 97.8h0.9M92.5 103.5h0.9M72.8 83.9h0.9M102.2 79.9h0.9M104.7 82.3h0.9M98 84.7h0.9M92.4 93.4h0.9M95.9 88.9h0.9M119.6 92.1h0.9M86.8 99.4h0.9M105.6 101.8h0.9M115.8 84.5h0.9M108.1 101.1h0.9M97 94h0.9M65.5 87.4h0.9M115.8 77.7h0.9M91.4 94.3h0.9M103 105.1h0.9M78.5 92.3h0.9M106 81.5h0.9M96.6 107.1h0.9M110.8 96.3h0.9M69.6 91h0.9M101.1 89.5h0.9M94.7 84.2h0.9M99.6 89.5h0.9M93.7 91.3h0.9M105.1 93.9h0.9M84.4 90.9h0.9M102 88.3h0.9M109.1 98.2h0.9M86.6 94.6h0.9M117.8 104.5h0.9M96.4 99.2h0.9M89.9 80.4h0.9M102.8 94h0.9M102.4 91.8h0.9M100.4 87.9h0.9M102 98.7h0.9M96.4 98.5h0.9M78.4 85.7h0.9M112.2 106.1h0.9M99.6 91.2h0.9M83.7 94.9h0.9M105.2 80.1h0.9M102.9 95.9h0.9M101.6 83h0.9M102.7 80h0.9M112.6 93.1h0.9M84.8 102.8h0.9M109.1 86.8h0.9M120.1 84h0.9M100.3 101.5h0.9M73.2 100h0.9M96.3 91.9h0.9M85.7 94.7h0.9M85.3 84.3h0.9M92.3 82.2h0.9M113.5 81.4h0.9M89.1 89.5h0.9M97 98.3h0.9M105.6 89.6h0.9M93 92.3h0.9M105.6 97.6h0.9M91.6 75.5h0.9M119.5 99.6h0.9M99.8 94.7h0.9M91.5 84h0.9M93.5 90.2h0.9M90.4 80.3h0.9M93.7 96.6h0.9M91.8 92.2h0.9M75.3 90.3h0.9M95.7 82.2h0.9M78.8 95.3h0.9M88.5 95.9h0.9M92.6 97h0.9M93.4 79.9h0.9M96.1 89.4h0.9M103.9 88.4h0.9M92.9 98.9h0.9M109.2 98.1h0.9M107.9 95.6h0.9M105.1 99h0.9M101.2 92.5h0.9M97.1 90.1h0.9M93.2 91.7h0.9M99.6 83h0.9M76.2 94.4h0.9M80.1 94.1h0.9M98.5 101.2h0.9M114.5 94.9h0.9M91.2 82.6h0.9M88.7 92.3h0.9M75.3 92.6h0.9M96.9 97.2h0.9M93.5 92.8h0.9M89.3 88.3h0.9M78.4 93h0.9M113.3 93.3h0.9M100.8 84.1h0.9M112 85.9h0.9M105.4 92.9h0.9M86.9 100.2h0.9M97.2 93.4h0.9M101.7 91.8h0.9M93 95.7h0.9M92.8 92.5h0.9M90 80.1h0.9M89.9 88h0.9M97.2 101.5h0.9M79.3 93h0.9M73.8 83.6h0.9M91.7 74h0.9M77.5 93.2h0.9M97.8 91.1h0.9M88.6 109.2h0.9M95.3 85.1h0.9M114.6 96.9h0.9M93.1 101.5h0.9M98.6 97.1h0.9M99.5 83.8h0.9M107.2 93.3h0.9M86.4 85.9h0.9M107 89h0.9M97.5 97.2h0.9M98.3 79.8h0.9M103.7 99.5h0.9M106.1 104.9h0.9M100.8 98.2h0.9M113.7 89.7h0.9M115.2 105.9h0.9M105.2 106.7h0.9M105.9 85h0.9M108.9 94.6h0.9M101.3 93.2h0.9M111.3 96.4h0.9M89.7 95.9h0.9M104.7 86.2h0.9M92.4 88.9h0.9M90.6 94.8h0.9M107.7 107.1h0.9M109.5 100.2h0.9M109 102.7h0.9M93 97.5h0.9M100.4 91h0.9M92.2 88h0.9M94.2 82.1h0.9M102.5 91.8h0.9M98.1 94.7h0.9M104.6 87.3h0.9M95.9 79.1h0.9M73.7 76.5h0.9M113.1 77.4h0.9M102 103.8h0.9M92.2 105h0.9M116.4 99.6h0.9M121.9 97h0.9M89.4 96.2h0.9M92.4 81.6h0.9M91.4 91.9h0.9M90.1 93.2h0.9M94.6 88.8h0.9M84.4 80.8h0.9M89.3 94.4h0.9M118.9 100.5h0.9M116.3 96h0.9M96.2 81.5h0.9M97.2 75h0.9M94 105.2h0.9M100.6 101.2h0.9M93.2 81.1h0.9M92.2 89h0.9M109.9 108h0.9M89.5 89.3h0.9M95.7 89.4h0.9M84.2 92.9h0.9M101.1 95.3h0.9M84.6 91.3h0.9M79 99.5h0.9M86.6 90h0.9M92.6 87.6h0.9M86.2 78.1h0.9M115.5 94.3h0.9M100.1 109h0.9M96.3 96.7h0.9M97.5 101.7h0.9M102.6 94.8h0.9M94.6 94.5h0.9M109.5 75.6h0.9M96 88.9h0.9M94.2 76.4h0.9M105 85.5h0.9M95 88.2h0.9M79.8 88.7h0.9M78 84.7h0.9M94 92.2h0.9M97.9 91.2h0.9M119.8 95.7h0.9M84.5 87.4h0.9M90.4 90.8h0.9M91 85.4h0.9M114.7 92.6h0.9M93.8 90.2h0.9M95.1 103.4h0.9M102.4 101.3h0.9M64.6 94.9h0.9M108.5 108.1h0.9M97.7 78.5h0.9M103.5 87.5h0.9M78.6 87.3h0.9M108.5 101.9h0.9M104.9 83.9h0.9M123.8 82.9h0.9M96.6 80.7h0.9M111.2 95.9h0.9M106.7 93h0.9M96.7 93.7h0.9M77.6 100.3h0.9M107 89.2h0.9M97.3 94.7h0.9M113.9 95.8h0.9M97.9 88.3h0.9M81.7 87.6h0.9M98.2 90.3h0.9M98.2 98.3h0.9M102 94.6h0.9M104.4 93.8h0.9M97.1 96.1h0.9M79.3 102.4h0.9M83.9 99.1h0.9M97.6 101.2h0.9M97.9 84.8h0.9M108.8 93.9h0.9M98.8 93h0.9M108 98.9h0.9M99.9 80h0.9M93.3 93.3h0.9M116.4 95.5h0.9M96.6 102h0.9M96.4 92.2h0.9M99.2 80.4h0.9M107.6 95.8h0.9M94.6 83.3h0.9M99.8 103.6h0.9M90.8 83.9h0.9M102 79.7h0.9M74.3 88.9h0.9M90.3 90.2h0.9M91.8 95.1h0.9M95.3 87.7h0.9M92.8 97.5h0.9M107.7 99.7h0.9M104.9 66.1h0.9M87.1 89.9h0.9M99.8 79.5h0.9M112.6 94.9h0.9M91.1 93.8h0.9M94 86.4h0.9M102.9 88.8h0.9M82.8 87.4h0.9M96.4 83.8h0.9M110.9 83.8h0.9M116.1 99.6h0.9M87.8 93.5h0.9M110.1 91h0.9M85.1 93.4h0.9M118.6 80.6h0.9M103.5 92.6h0.9M96.4 89.4h0.9M94.3 100.8h0.9M104 84.6h0.9M114.1 82.2h0.9M104.7 94h0.9M110.3 95.4h0.9M108.8 92.4h0.9M108 95.3h0.9M120.3 87h0.9M110.3 96.3h0.9M99.6 88h0.9M102.5 80.8h0.9M83.4 98.3h0.9M81.4 104.1h0.9M94.9 94.6h0.9M98.6 96h0.9M94.9 89.7h0.9M96.5 101h0.9M109.7 102.8h0.9M101.6 91h0.9M80.2 97.7h0.9M106.6 89.4h0.9M106.3 102.9h0.9M98.8 101.1h0.9M101 78.7h0.9M92.8 89.3h0.9M103.4 85.7h0.9M93.2 84.9h0.9M97.4 93.2h0.9M108 99h0.9M99.5 94.5h0.9M98.9 93.5h0.9M114 72.7h0.9M96 95.1h0.9M109.7 83.9h0.9M101.5 99.5h0.9M93.1 77.3h0.9M94 83h0.9M104.6 85.8h0.9M116.5 93.7h0.9M89.4 88.6h0.9M86.3 95.7h0.9M113.5 90.9h0.9M107.5 85.1h0.9M83.1 102.5h0.9M110.1 77.6h0.9M82.7 84.8h0.9M108 89.2h0.9M96 98.3h0.9M99 94.4h0.9M94.4 101.6h0.9M89.6 106h0.9M94.3 86.2h0.9M104.6 96.2h0.9M77 94.4h0.9M83.6 86h0.9M106 85.7h0.9M101.5 89.6h0.9M118.1 91.8h0.9M85.4 83.7h0.9M88.2 93.6h0.9M97.7 100.3h0.9M99.5 93.6h0.9M101.1 91.5h0.9M100.8 98.8h0.9M105.9 88.2h0.9M79.1 86.1h0.9M100.6 72.6h0.9M92.7 96.1h0.9M91.7 83.6h0.9M116.1 103.6h0.9M94.9 103.1h0.9M111.3 83.4h0.9M125.8 85h0.9M94.9 83.7h0.9M98.4 81.9h0.9M97.5 101.1h0.9M99.8 90.3h0.9M113.8 85.3h0.9M107.7 90h0.9M99.8 92.7h0.9M98.9 92h0.9M89.3 87.9h0.9M102.2 91.5h0.9M85.3 86.7h0.9M90.2 91.9h0.9M99.4 93.1h0.9M90.6 92.5h0.9M83.1 69.3h0.9M96.9 79.1h0.9M87.5 82.7h0.9M104 82.6h0.9M100.3 88.4h0.9M84.4 79.7h0.9M102.2 95.3h0.9M105.4 106.9h0.9M100.1 94.4h0.9M96 93h0.9M93.6 85h0.9M118.1 77.3h0.9M99.9 95.7h0.9M98.7 84.4h0.9M95.1 88.4h0.9M85.8 91.7h0.9M92.8 87.7h0.9M104.3 83.6h0.9M101.7 87.2h0.9M101.5 92.6h0.9M99.5 84.2h0.9M88.9 85.1h0.9M98.8 98h0.9M108.3 88h0.9M97.8 79h0.9M73.7 85h0.9M89.9 79.5h0.9M78.3 96.2h0.9M88.5 78.5h0.9M121.2 93.3h0.9M93.5 97.3h0.9M88.9 104.5h0.9M80.7 81.4h0.9M95.4 85.7h0.9M111.5 79h0.9M89.1 93.7h0.9M102.6 99.8h0.9M100.3 109.4h0.9M91.7 93.2h0.9M105.6 89.2h0.9M93.6 88h0.9M89.9 82.7h0.9M90.8 79.4h0.9M100.6 79h0.9M118.2 105.2h0.9M108.1 90h0.9M90.4 101.4h0.9M98.4 96.1h0.9M89 100.1h0.9M88.2 92.5h0.9M78.4 86.4h0.9M101.8 88h0.9M91.8 97.9h0.9M95.7 101.5h0.9M71.2 96.1h0.9M101.8 79.3h0.9M82.9 98.6h0.9M85.3 86.5h0.9M102.7 88.9h0.9M101.4 84.7h0.9M99.6 100.2h0.9M99.8 74.1h0.9M103.3 92h0.9M87 102.7h0.9M78.2 106.5h0.9M89.8 104.1h0.9M96 81h0.9M97.4 94.2h0.9M102.1 100h0.9M87.1 95.5h0.9M104.1 89.4h0.9M86.6 83.9h0.9M104.3 97.9h0.9M87.8 80.9h0.9M109.4 79.2h0.9M98.1 85.1h0.9M78.1 92.5h0.9M94.4 103h0.9M120.2 90.1h0.9M107.1 99.9h0.9M90.9 84.7h0.9M113.2 88.6h0.9M96.1 89.2h0.9M95 86.7h0.9M104.2 101.6h0.9M92.5 80.6h0.9M96.9 79.7h0.9M89.7 101.3h0.9M120.7 94.5h0.9M85.3 97.8h0.9M72.9 86h0.9M112.3 97.5h0.9M82 78.3h0.9M105.3 91.2h0.9M90.2 94.8h0.9M90.4 76.3h0.9M104.9 86.4h0.9M85.9 80.9h0.9M99 85.1h0.9M102.9 89.4h0.9M107.7 88.5h0.9M89.6 75.9h0.9M84.9 97.3h0.9M128.3 81.6h0.9M85.6 94.2h0.9M101.4 86.2h0.9M97.2 78.8h0.9M93.3 98.7h0.9M113.5 90.2h0.9M93.7 95.2h0.9M108 95.4h0.9M88.6 94.4h0.9M106.5 85.9h0.9M82.5 95.6h0.9M100.3 99.3h0.9M97.4 86.4h0.9M91.9 83.4h0.9M86.6 87.1h0.9M91.4 100.4h0.9M83.6 91.2h0.9M90.3 103.4h0.9M99.2 88.6h0.9M105 92.1h0.9M91.5 103.8h0.9M103.9 105.4h0.9M108.6 97.8h0.9M97.9 83h0.9M103.9 92.2h0.9M103.6 91.6h0.9M89.3 83.6h0.9M103.8 101.9h0.9M93.5 95.3h0.9M111 85h0.9M93 82.8h0.9M108.8 93.7h0.9M91.7 78.5h0.9M94.7 99.6h0.9M93.5 88.3h0.9M103.3 81.9h0.9M97.1 96.4h0.9M88.4 85.1h0.9M99.2 90.9h0.9M94.1 93.3h0.9M98.9 84.3h0.9M89.6 95.3h0.9M108.3 102.5h0.9M87.8 100.4h0.9M104.5 91.5h0.9M101.7 98.3h0.9M115.3 83.3h0.9M102.9 90.6h0.9M94.5 100.8h0.9M105.2 83.7h0.9M93.7 93.5h0.9M81.9 98.6h0.9M95.9 93h0.9M100.2 106.1h0.9M97 88.9h0.9M114.8 87.8h0.9M91.2 80.8h0.9M107.9 93.9h0.9M101.6 93.1h0.9M95.3 85.5h0.9M88.6 95.2h0.9M98 104.7h0.9M88.8 87.9h0.9M86.1 102.7h0.9M83.9 97.9h0.9M111.6 90.7h0.9M104.2 74.9h0.9M92.7 78.7h0.9M98.5 91.9h0.9M88.7 99.3h0.9M100.4 87.6h0.9M91.4 80.2h0.9M94.8 108.6h0.9M89.3 95.1h0.9M91 98.1h0.9M101.3 90h0.9M78.2 87.7h0.9M109.2 89.9h0.9M103.3 88h0.9M77.4 95.2h0.9M100.1 87.2h0.9M92.9 94.1h0.9M90.6 94.5h0.9M94.6 73.2h0.9M95.2 87.1h0.9M88.1 95h0.9M91.7 96.1h0.9M108.1 92.9h0.9M80.7 86h0.9M106.2 89.8h0.9M88.4 91.1h0.9M102 93.9h0.9M103.5 85.3h0.9M93.9 89.8h0.9M96.6 75.3h0.9M94.3 81.2h0.9M111.2 104.1h0.9M114.2 98.2h0.9M91.8 99.4h0.9M94.7 96.7h0.9M87.4 87.2h0.9M101.6 105.9h0.9M125.4 81.7h0.9M96.5 84.3h0.9M95.4 87.6h0.9M96.1 99.5h0.9M106.6 93.9h0.9M96.9 92.8h0.9M98.1 96.4h0.9M96.9 95.9h0.9M83.2 98.1h0.9M115 93.3h0.9M82.2 102.6h0.9M93.4 68.2h0.9M94.6 96.7h0.9M100.8 101.7h0.9M103.3 92.9h0.9M76.3 83.1h0.9M98.7 97.3h0.9M86.2 87.1h0.9M101.7 76.8h0.9M76.6 90.1h0.9M99.5 88.1h0.9M73 92.1h0.9M83.1 97.1h0.9M95.8 94h0.9M103.5 87.7h0.9M105.5 101.7h0.9M101 102.4h0.9M90.4 99.2h0.9M99.7 84.1h0.9M96.1 87.7h0.9M91.1 92.6h0.9M107.9 89.4h0.9M98.2 80.3h0.9M98 101h0.9M105.3 95.7h0.9M91.4 84.2h0.9M95.9 81.3h0.9M84.1 99.4h0.9M87.3 106.1h0.9M82 95.3h0.9M84.7 93.3h0.9M86.1 92.2h0.9M95.3 88.3h0.9M102.2 103.9h0.9M90.7 98.9h0.9M97.8 91.7h0.9M119.7 74.7h0.9M89.8 77.6h0.9M93.6 90.1h0.9M136.5 94.7h0.9M115.6 102.2h0.9M92.3 95.7h0.9M114.2 93.3h0.9M99.1 95.9h0.9M81.2 85.5h0.9M100.4 96.2h0.9M87.3 89.3h0.9M95.6 90.7h0.9M104.1 92.7h0.9M98.6 80.7h0.9M85.9 94.4h0.9M80.3 94h0.9M90 85.4h0.9M103.6 86.5h0.9M87.9 86.5h0.9M74.8 91.7h0.9M94.3 99.4h0.9M93 72.2h0.9M110.6 83.2h0.9M96.2 81h0.9M85.4 87.9h0.9M105.7 98.5h0.9M90.5 95.8h0.9M92.9 92.7h0.9M98.4 96.7h0.9M90.3 90.8h0.9M99 92.5h0.9M88.4 105.5h0.9M91.9 97.8h0.9M98.8 101.5h0.9M73.9 108.1h0.9M94.5 82h0.9M102 82h0.9M91.9 102.4h0.9M82 90.3h0.9M93.6 109h0.9M93.6 102.2h0.9M89.6 85.4h0.9M107.2 96.7h0.9M78.7 96.8h0.9M103.4 86.9h0.9M99 93.9h0.9M91.6 87.1h0.9M89.7 89.6h0.9M82.8 91.4h0.9M81.1 92.3h0.9M95.8 83.5h0.9M105.5 107.1h0.9M110.5 80.9h0.9M109.9 93.5h0.9M96.1 87h0.9M96.6 102.8h0.9M102.3 88.4h0.9M89.7 88.4h0.9M102.8 106.5h0.9M85.6 91.7h0.9M92.6 85.8h0.9M100.8 96.1h0.9M81.9 83.5h0.9M109.1 94.2h0.9M102.1 87.7h0.9M92.7 95.4h0.9M91.5 82.9h0.9M96.6 98.9h0.9M85.9 100.1h0.9M103.9 84.9h0.9M96.7 91.4h0.9M103.2 97h0.9M83.1 81h0.9M107.3 92.6h0.9M101 94.4h0.9M112.6 82.2h0.9M108 85.2h0.9M104.2 102.3h0.9M82.3 94.9h0.9M93.8 89.4h0.9M97.1 83.4h0.9M86.6 96.9h0.9M105.4 87.2h0.9M108.1 94.6h0.9M85.9 87.1h0.9M99.2 84.1h0.9M113.3 92.8h0.9M100.7 83.6h0.9M87.2 85.5h0.9M99.5 89.6h0.9M93.6 94.2h0.9M99 103.4h0.9M94.6 83.7h0.9M96.5 103.3h0.9M90.9 92.1h0.9M92.9 94.9h0.9M99.3 85.3h0.9M94.3 99.1h0.9M108 99h0.9M105.6 89.1h0.9M92.9 99h0.9M84.5 91.3h0.9M77.5 88.7h0.9M89.4 82.3h0.9M102.6 86h0.9M92.9 89.7h0.9M89.1 102.9h0.9M91.6 93.3h0.9M83.2 88h0.9M93.3 89.3h0.9M90.6 92.9h0.9M112.7 90.7h0.9M95.2 88.7h0.9M122.8 104.4h0.9M102.4 97.3h0.9M89.3 90.5h0.9M98.8 92.7h0.9M87.8 85.6h0.9M102 94.2h0.9M75 92.5h0.9M109.8 86.7h0.9M99.1 80.3h0.9M105.2 83h0.9M83.8 89.3h0.9M121.1 87h0.9M83.7 95.4h0.9M99 104.8h0.9M83.6 79.2h0.9M93.4 94.7h0.9M100.4 100.3h0.9M81.3 85.3h0.9M95.3 98.3h0.9M101.6 88.5h0.9M86.2 98.7h0.9M94.9 104.5h0.9M84.2 87.5h0.9M89.7 88.1h0.9M87.7 87.5h0.9M96.1 88.2h0.9M103.5 91.1h0.9M96.7 103.3h0.9M99.9 93h0.9M96.5 92.3h0.9M102.6 85.5h0.9M108.5 104.1h0.9M108.6 87.9h0.9M80.3 88.3h0.9M98.3 98.3h0.9M94.8 89.4h0.9M112.3 86.5h0.9M107.7 98.9h0.9M83 93.9h0.9M91 84.3h0.9M77.7 79.5h0.9M101 88.7h0.9M99.5 83.4h0.9M93.4 89.6h0.9M80.8 78.7h0.9M101.2 92.9h0.9M87.1 91h0.9M103.5 106.1h0.9M87.6 96.6h0.9M118.5 92.3h0.9M111.8 71.5h0.9M111.6 91.7h0.9M77.4 97.9h0.9M107.5 101.2h0.9M109 91.5h0.9M89 88.2h0.9M96.3 94.9h0.9M91.7 92.1h0.9M105.7 94.3h0.9M120.3 108.7h0.9M84.9 87.3h0.9M83.2 82.6h0.9M102.3 84h0.9M85.9 89.6h0.9M104.9 89h0.9M93 99h0.9M101.6 95.3h0.9M106.5 83.8h0.9M98.9 86.8h0.9M107.3 98.2h0.9M85.9 102.3h0.9M84.6 101h0.9M98.8 84.9h0.9M85.2 89.4h0.9M96.4 86.2h0.9M102.5 80.7h0.9M96.6 91.8h0.9M77.4 94.2h0.9M83.6 72.1h0.9M90.3 90h0.9M106 87.9h0.9M111.9 103.1h0.9M108 102.2h0.9M100.3 87.4h0.9M103.4 99.4h0.9M99.2 89.8h0.9M80.5 97.1h0.9M100.3 81.5h0.9M97.7 97.5h0.9M95.6 97.9h0.9M104.5 80.1h0.9M93.6 95.6h0.9M106.2 102.9h0.9M76.8 91.2h0.9M104.1 101.4h0.9M114.2 84.4h0.9M92.8 83.4h0.9M105.2 81.3h0.9M109 99.2h0.9M101.7 74.6h0.9M89.7 97.7h0.9M82 89.9h0.9M95.6 98.8h0.9M99.6 93.9h0.9M92.1 91.8h0.9M95.3 97.5h0.9M94.8 99.9h0.9M79.1 101.2h0.9M94.9 100.7h0.9M97.5 98.5h0.9M112.2 87.4h0.9M97.5 90.4h0.9M98.8 78.9h0.9M94.9 89.8h0.9M88.5 90.2h0.9M80.7 102.8h0.9M101.3 106.6h0.9M87.6 82.5h0.9M99.6 78.6h0.9M99 86.2h0.9M93.2 93.7h0.9M97.1 106.4h0.9M103.2 81.5h0.9M106.8 81.1h0.9M97.5 81.9h0.9M88 102.1h0.9M90.9 86.6h0.9M90.8 89.2h0.9M111.6 82.4h0.9M83.8 96.3h0.9M80.1 88.8h0.9M108.3 91.7h0.9M91.6 86.1h0.9M87.1 87h0.9M98 101.5h0.9M106.6 87.2h0.9M89 97.2h0.9M77.7 88.2h0.9M93.2 82.9h0.9M86.2 94.4h0.9M79.3 84.4h0.9M89.8 92.2h0.9M82.2 100.2h0.9M93.2 89.5h0.9M92.7 86.2h0.9M86.2 100.6h0.9M98.5 90.7h0.9M106.7 85.9h0.9M102.9 91.7h0.9M87.1 97.5h0.9M80.8 96.6h0.9M87.1 94.7h0.9M110.6 95.9h0.9M90 91.2h0.9M92.5 82.2h0.9M84.8 91.8h0.9M101.8 77.5h0.9M95.5 95.4h0.9M97.3 83.5h0.9M106.9 81.8h0.9M102.8 103.9h0.9M75.1 93.4h0.9M99.4 93.1h0.9M88.2 88.9h0.9M81.7 92.3h0.9M101.6 86.1h0.9M86.5 87.6h0.9M96 91.8h0.9M95 91.8h0.9M82.5 69.8h0.9M102.4 102.4h0.9M81.4 86h0.9M99.1 98.7h0.9M102.7 101.3h0.9M95.4 94.5h0.9M100.2 87.8h0.9M108.4 96.1h0.9M106.1 88.2h0.9M106.6 83h0.9M100 70.7h0.9M85.6 97h0.9M91.3 92.6h0.9M79.3 103.3h0.9M102.1 91h0.9M100.2 93.8h0.9M110.5 92.9h0.9M80.8 89.2h0.9M109.1 95.7h0.9M91.6 96h0.9M97.2 96h0.9M79.7 84.2h0.9M102.8 89.5h0.9M99.6 106.5h0.9M92.8 93.1h0.9M90.2 86.3h0.9M95.2 79.8h0.9M74.3 101.9h0.9M94.9 100h0.9M97.2 92.4h0.9M102.8 96.8h0.9M83.6 100.6h0.9M86 92.8h0.9M122.2 91.8h0.9M113.1 88.5h0.9M102.3 91.6h0.9M100.2 84.5h0.9M86.5 93.8h0.9M79.9 84.6h0.9M102.5 86.4h0.9M86.9 82.6h0.9M97.5 88.4h0.9M97.5 89.7h0.9M114.9 87.8h0.9M75.9 92.1h0.9M96 92.4h0.9M79.5 100.1h0.9M95.6 90.9h0.9M79.8 94.9h0.9M95.3 101.8h0.9M91.7 81.6h0.9M97.3 84.1h0.9M100.2 82.8h0.9M94.7 89.5h0.9M95.6 87.2h0.9M87.7 90.8h0.9M90 92.4h0.9M93.2 73.7h0.9M95.3 102h0.9M99.1 95.9h0.9M100.6 87.6h0.9M82.4 97.5h0.9M106.7 95.6h0.9M100.3 94.3h0.9M95.7 93.3h0.9M96.1 93.7h0.9M86.4 86.3h0.9M101.8 88.6h0.9M71.4 92.2h0.9M72.8 106h0.9M103.3 96.4h0.9M89.3 82.5h0.9M93.8 91.4h0.9M88.2 92.5h0.9M103 95.9h0.9M85.5 74.6h0.9M96.1 86.2h0.9M100.5 103.9h0.9M112.6 93.5h0.9M107.2 103.9h0.9M96.5 93.4h0.9M104.6 91h0.9M91.1 85.5h0.9M96.2 86.5h0.9M104.1 88.8h0.9M110.8 100.6h0.9M83.7 99.6h0.9M92.1 101.8h0.9M101.3 91h0.9M102.9 87.1h0.9M99.5 94.3h0.9M94.7 94.3h0.9M86.2 95.7h0.9M84.1 96.2h0.9M101 96.8h0.9M94 92.6h0.9M88.7 102.4h0.9M91.6 99h0.9M86.9 93.9h0.9M92.6 98.6h0.9M93.5 85h0.9M100.9 82.5h0.9M86.9 97.4h0.9M77.8 97.3h0.9M92.4 84.6h0.9M98.9 96.4h0.9M90.6 90.3h0.9M104.5 97.3h0.9M96 85.8h0.9M87.1 87.1h0.9M103.3 96h0.9M99.6 102.2h0.9M93.6 88.8h0.9M92.8 106.1h0.9M76.2 93.9h0.9M101 92.2h0.9M119.8 100.6h0.9M104.3 85h0.9M101.6 89h0.9M97.1 93.3h0.9M91.9 96.6h0.9M112.9 99.6h0.9M98.9 77.2h0.9M107.5 99.9h0.9M94.9 88.2h0.9M103.3 85.8h0.9M104.7 83.7h0.9M87.7 92h0.9M82.4 91.9h0.9M102.1 82h0.9M106 87.7h0.9M102.3 93.5h0.9M92.4 88h0.9M80.1 86.7h0.9M89.3 104.3h0.9M106.9 81.6h0.9M104.8 93.6h0.9M93.2 95.4h0.9M104.7 87.7h0.9M94.2 93.2h0.9M87.2 93.3h0.9M96.1 86.9h0.9M88.7 94.2h0.9M105.6 94.4h0.9M88.5 97.6h0.9M98.6 96.4h0.9M108.4 85.2h0.9M95.6 87.5h0.9M88.4 107h0.9M106.2 78.8h0.9M101.2 87.8h0.9M108.3 92.6h0.9M95.3 93h0.9M100.7 92.2h0.9M94.8 91h0.9M102 83.5h0.9M97 91.1h0.9M92.2 97.5h0.9M84.3 89.3h0.9M88.6 96.1h0.9M92.4 92.4h0.9M100.8 80.1h0.9M101.4 86.4h0.9M94.5 91.2h0.9M104.9 97.5h0.9M114.3 93.3h0.9M92.3 88.2h0.9M103.4 104h0.9M100.3 87.7h0.9M99.7 93.9h0.9M97.3 86.4h0.9M72.1 88h0.9M107.3 93.6h0.9M75.3 92h0.9M78.9 106.9h0.9M98.9 83h0.9M104.8 86.2h0.9M102.5 92.2h0.9M85.4 97h0.9M83.9 102h0.9M97.6 84.3h0.9M79.2 104.1h0.9M111.2 82.6h0.9M113.1 93.2h0.9M94.8 91.4h0.9M94.4 102.7h0.9M98.5 78.2h0.9M117.5 98.6h0.9M86.3 89.3h0.9M88.1 92.3h0.9M100.9 93.8h0.9M91.1 86h0.9M105.3 91.2h0.9M119.1 86h0.9M104.7 92.4h0.9M89.5 102.2h0.9M98.2 85.3h0.9M93.9 99.6h0.9M85 102.3h0.9M103.7 89.9h0.9M110.3 105.1h0.9M102.9 93.3h0.9M115.1 103.2h0.9M87.9 90.5h0.9M94.9 88.9h0.9M82.3 98.8h0.9M97.8 92.7h0.9M110.8 87.8h0.9M96.4 94.1h0.9M92.7 91.2h0.9M104.5 91.9h0.9M110.1 86.4h0.9M99 81.3h0.9M95.8 86.7h0.9M110.4 97.6h0.9M102 105.9h0.9M111.2 97.4h0.9M90.2 81.1h0.9M96.7 89.3h0.9M90.6 89.8h0.9M80.7 103.2h0.9M85.7 86.9h0.9M102.6 79.7h0.9M106.1 99.1h0.9M93.9 83.9h0.9M92.3 78h0.9M110.7 92.4h0.9M89.7 85.1h0.9M102.7 103.4h0.9M84.4 87.7h0.9M79.6 97.1h0.9M98.6 109.1h0.9M95.8 88.7h0.9M90 98.5h0.9M80.8 97.7h0.9M99.5 88.2h0.9M88 100h0.9M115.5 88.6h0.9M102.3 105.2h0.9M90.8 90.1h0.9M84.9 90.9h0.9M96.2 88.8h0.9M89.6 80h0.9M83.6 84.6h0.9M103.4 88.1h0.9M88.5 97h0.9M102.6 86.3h0.9M90.7 97h0.9M100.6 85.6h0.9M99.4 91.8h0.9M108.1 85.4h0.9M105.8 95.3h0.9M86.9 100h0.9M106.1 81.9h0.9M116.8 83.3h0.9M87.8 89.5h0.9M104.7 96.4h0.9M96.1 102.4h0.9M101.1 102.7h0.9M125.3 93.5h0.9M71.1 88.5h0.9M86.2 92.7h0.9M98 82.6h0.9M85.4 90h0.9M95 72h0.9M106.8 92.2h0.9M96.9 94.3h0.9M86.6 91.6h0.9M107.5 100.3h0.9M101.7 89.8h0.9M88.7 102.2h0.9M102.3 88.7h0.9M74.9 85.3h0.9M77.4 101.7h0.9M98.9 86.2h0.9M109.4 81.5h0.9M95.7 82.4h0.9M79.3 93.4h0.9M121.8 104.2h0.9M97.4 89.1h0.9M99.1 100.1h0.9M82 77.3h0.9M116.4 94.2h0.9M113.6 93.9h0.9M112.2 87.2h0.9M102.1 104.2h0.9M107.6 88.4h0.9M106.3 86.8h0.9M82.2 96.1h0.9M111.5 98.7h0.9M84 98.9h0.9M104 88.4h0.9M71.2 100h0.9M106.2 95.9h0.9M79 80.2h0.9M107.5 98.4h0.9M102.1 90h0.9M101.1 87.7h0.9M93.7 85.1h0.9M99.7 88.7h0.9M106.9 97.7h0.9M88.5 106.6h0.9M85.3 95.6h0.9M108.3 102.2h0.9M73.9 100h0.9M109.8 103.5h0.9M73.7 86.6h0.9M96 88.4h0.9M111 86.6h0.9M109.9 96.5h0.9M81.8 84.1h0.9M92.1 92.8h0.9M107.4 90.5h0.9M106.5 79.4h0.9M65 89.3h0.9M101.8 89.1h0.9M86.4 95.4h0.9M117.3 91.2h0.9M89.4 85.2h0.9M117.6 91.7h0.9M103.4 101.8h0.9M108.3 84.6h0.9M107 98.8h0.9M102.1 100.1h0.9M91.1 91.4h0.9M91.5 98.1h0.9M90.1 95.1h0.9M85.5 91h0.9M93.2 91.1h0.9M98.4 90.5h0.9M94.7 75.4h0.9M108.6 87h0.9M94.4 85.4h0.9M107.5 84.8h0.9M102.3 101.4h0.9M114.3 101.5h0.9M103.5 82.4h0.9M110.6 101.5h0.9M105.8 98.4h0.9M97.8 87.9h0.9M108.4 102.2h0.9M86.2 99.3h0.9M99.6 99.1h0.9M100 100.9h0.9M107.8 99.2h0.9M82.7 98.7h0.9M97.6 83.1h0.9M104.5 81.2h0.9M106.5 105.6h0.9M91.9 99.5h0.9M101.9 97.3h0.9M83.1 97h0.9M98.6 98h0.9M97.3 100.9h0.9M100.1 97.6h0.9M111.5 93.6h0.9M107.6 94h0.9M102.7 88h0.9M105.3 101.9h0.9M96.4 98.5h0.9M101.8 83.5h0.9M101 102.7h0.9M92.3 78.2h0.9M99.4 87.2h0.9M117 91.9h0.9M97.3 87.3h0.9M99.9 87.8h0.9M88 91.8h0.9M89 102.7h0.9M85.3 91.7h0.9M90.3 81.4h0.9M114.5 75.8h0.9M112.4 81.2h0.9M75.4 81.5h0.9M110.9 93.6h0.9M91.7 92h0.9M87.4 93.2h0.9M112.8 89.3h0.9M98.8 101.7h0.9M117.8 87.7h0.9M100.5 87.9h0.9M90.7 89.1h0.9M90.9 78.7h0.9M76.9 86.6h0.9M98.7 101.8h0.9M91.9 91h0.9M104.2 98.1h0.9M96.2 91.9h0.9M116.6 89.7h0.9M92.3 79.5h0.9M101.8 90.2h0.9M117 89.7h0.9M105.7 99.6h0.9M114.3 82h0.9M113.5 92.4h0.9M96.3 89.9h0.9M93.3 89.6h0.9M73.4 96.3h0.9M98 84.8h0.9M101.3 89.2h0.9M114.9 86.1h0.9M95.8 88h0.9M94.9 98h0.9M103.3 86.6h0.9M96 92.9h0.9M93.2 92h0.9M90 86.5h0.9M97.8 84.2h0.9M101.6 90.8h0.9M87.9 87.5h0.9M92.4 91h0.9M98.5 90.6h0.9M88.5 103.4h0.9M106.6 93.1h0.9M107 94.8h0.9M94.7 92.9h0.9M124.5 100h0.9M108 89.2h0.9M101.7 100.6h0.9M110.1 97.2h0.9M113.4 94h0.9M102.4 87.4h0.9M124.2 94.6h0.9M98.4 103h0.9M92.3 92.2h0.9M89.3 92.4h0.9M93.3 96.4h0.9M96 87.6h0.9M94.3 91.3h0.9M92.1 99.5h0.9M104.1 93.3h0.9M85.2 96.2h0.9M84.3 93.7h0.9M97.8 87.7h0.9M88.9 86.8h0.9M118.1 90.2h0.9M95.2 99.6h0.9M101.5 100.4h0.9M84.8 83.8h0.9M131.1 91.9h0.9M94.3 93.5h0.9M107.3 83h0.9M100.2 92h0.9M104.1 93.6h0.9M91.9 85.5h0.9M72.6 99.8h0.9M82.4 89.1h0.9M114.1 89h0.9M103.5 90.6h0.9M104.3 92.4h0.9M92.1 102.6h0.9M94.6 81.9h0.9M94 96.4h0.9M86 98.3h0.9M105 108.5h0.9M90.8 97.3h0.9M80.4 89h0.9M98.3 95.3h0.9M96.7 91.5h0.9M91.1 88.8h0.9M100.4 96.5h0.9M103.7 99.9h0.9M109.3 78.4h0.9M92 91h0.9M90.8 100.2h0.9M104.8 91.4h0.9M98.5 101.9h0.9M93.8 89.8h0.9M106.4 95.8h0.9M111.6 95h0.9M104.8 88h0.9M87.8 92.1h0.9M70.6 95.3h0.9M107 92.8h0.9M95.1 100.5h0.9M96.8 99.7h0.9M119.3 97.8h0.9M106.7 96h0.9M99.8 94.3h0.9M98 100.5h0.9M81.1 90.2h0.9M103.9 85.8h0.9M96.2 86.9h0.9M101.7 98.8h0.9M111.9 96.1h0.9M90.1 94.1h0.9M103 103h0.9M75.7 95.1h0.9M78.9 97.7h0.9M101.7 96h0.9M106.2 95.2h0.9M90.8 94.9h0.9M109.3 91.3h0.9M97.6 82.9h0.9M108.9 88.4h0.9M89.8 88.8h0.9M88.6 90.3h0.9M110.1 98.3h0.9M111.6 103.6h0.9M88.3 95.9h0.9M83.1 81.3h0.9M102 89.6h0.9M87.3 95.1h0.9M89.4 74.9h0.9M97 93.2h0.9M103.6 99.4h0.9M99.1 90.4h0.9M90.6 79.6h0.9M92.9 99.8h0.9M103.8 107.9h0.9M95.7 78.6h0.9M105.5 100.1h0.9M85.5 79.9h0.9M98.8 97.6h0.9M86 89.6h0.9M89.4 83.1h0.9M84 93.2h0.9M93.5 87h0.9M71.1 105.5h0.9M87.7 91.1h0.9M85.8 95h0.9M82.1 92.9h0.9M95.3 99.1h0.9M86.2 87.2h0.9M94.8 108.1h0.9M82.4 94.3h0.9M90.6 94.5h0.9M103.7 93.2h0.9M99.8 94.2h0.9M91.2 90.4h0.9M80.5 89.4h0.9M89.4 90.1h0.9M104.5 95h0.9M101.8 100.5h0.9M73.2 95.4h0.9M96.8 91.3h0.9M84 96.3h0.9M108.6 99.9h0.9M96.2 96.9h0.9M106.3 106h0.9M109.4 93.1h0.9M98 93.3h0.9M99.3 88.3h0.9M104.8 86.8h0.9M89 94.7h0.9M91.3 90.2h0.9M76.2 98.1h0.9M97 91.1h0.9M101.7 93.6h0.9M90 107.3h0.9M92.5 99.5h0.9M115.4 87.3h0.9M98 85.8h0.9M107.6 89.5h0.9M86 102.1h0.9M106.2 85.2h0.9M108.9 93.5h0.9M124.2 105.1h0.9M91.5 90h0.9M88.2 93h0.9M97.5 97.6h0.9M97.9 80.8h0.9M88.9 102.8h0.9M108.6 90.8h0.9M95.6 90.7h0.9M97.2 79.2h0.9M106 87h0.9M98.5 72.7h0.9M99.4 102.2h0.9M74.6 103.6h0.9M101.7 86.4h0.9M81.1 100.9h0.9M99.6 96.5h0.9M94.3 85.9h0.9" stroke="#000" stroke-width="0.9" stroke-opacity="0.6"/><path d="M122.1 79.8h0.8M122.5 73.6h0.8M103.3 75.5h0.8M126.8 72.9h0.8M101 93.7h0.8M115.4 106.9h0.8M132.4 93.3h0.8M120.3 72.3h0.8M103.7 85.2h0.8M111.1 76.2h0.8M103.2 80.7h0.8M124.2 91.7h0.8M109.5 85.6h0.8M116.1 82h0.8M110.2 73.2h0.8M120 96.3h0.8M116.8 92.1h0.8M116.8 105.6h0.8M115.1 76.6h0.8M102 94.1h0.8M124.2 94.6h0.8M121.8 89.6h0.8M97.3 81.9h0.8M93.9 84.6h0.8M98.6 88.8h0.8M111.2 71.2h0.8M120.7 94.5h0.8M98.3 89.2h0.8M120.5 85.5h0.8M122 89.6h0.8M124.3 89.6h0.8M111.2 92.4h0.8M121.2 90.1h0.8M108.2 81.1h0.8M109 83h0.8M115.1 89.4h0.8M112 87.9h0.8M114.7 101.4h0.8M125.6 82.9h0.8M117.3 85h0.8M111.8 85.8h0.8M106.2 76.1h0.8M86.8 89.6h0.8M125.4 80h0.8M118.2 84.5h0.8M115.8 80.9h0.8M110.4 86.9h0.8M87.6 89.7h0.8M111.3 66.3h0.8M119.7 87.5h0.8M115 91h0.8M108.4 78.5h0.8M108 84.1h0.8M136.3 103.8h0.8M107.6 84.2h0.8M116.2 92.7h0.8M105.4 79.1h0.8M133.3 97h0.8M96.2 72.4h0.8M103.9 89.7h0.8M118.5 84.8h0.8M95.5 89.7h0.8M119.1 87.7h0.8M107.4 92.8h0.8M112.1 78h0.8M113.7 76.4h0.8M123 91.8h0.8M102 89.6h0.8M126 69h0.8M111.2 102.1h0.8M96.1 86.3h0.8M97.4 87.1h0.8M86.9 73.5h0.8M106.9 88.9h0.8M116.7 91.5h0.8M125 93.9h0.8M120.6 79.1h0.8M137 95h0.8M120.6 96.4h0.8M108.3 105h0.8M108.6 87h0.8M136.1 69.4h0.8M116.6 72.5h0.8M105.6 86.9h0.8M108.9 89.3h0.8M104.4 86.8h0.8M99.8 84.3h0.8M97.7 93.5h0.8M98.7 93.9h0.8M108.2 85h0.8M125.5 88.7h0.8M92.1 92.2h0.8M81.2 90.1h0.8M108.3 75.3h0.8M113.5 85h0.8M134.5 83.8h0.8M133.8 100h0.8M106 80.5h0.8M127 86.5h0.8M114.4 85.5h0.8M99.5 84.4h0.8M102.2 74.1h0.8M109.5 103.7h0.8M130.3 87.2h0.8M114.2 92.3h0.8M127.5 90.6h0.8M107.5 84.2h0.8M105.8 69.4h0.8M121.5 87h0.8M114.2 98.8h0.8M113.4 75.9h0.8M91.2 87.3h0.8M100 90.3h0.8M98.7 84.6h0.8M96.6 84.5h0.8M107.8 93.1h0.8M127.4 86.1h0.8M103.2 105.3h0.8M116.7 93.2h0.8M119.4 100.8h0.8M123.8 93.8h0.8M121.1 80.1h0.8M106 86.8h0.8M113.7 87.9h0.8M116.1 88h0.8M108 73.2h0.8M121.9 93h0.8M103.1 92.2h0.8M117 88.4h0.8M92.5 76.9h0.8M106.1 102.3h0.8M103.3 84.7h0.8M100.5 83.3h0.8M116.5 69.1h0.8M81.6 93.7h0.8M113.1 82.3h0.8M123.4 96.5h0.8M89.7 86.3h0.8M124.9 81.8h0.8M109.3 96.3h0.8M109.8 77h0.8M105.2 75.8h0.8M118.8 72.3h0.8M123.7 73h0.8M113.2 74.6h0.8M109.2 97h0.8M125 99.5h0.8M111.7 88.7h0.8M115.3 93.3h0.8M108.3 97.7h0.8M116.3 98.1h0.8M118 93.9h0.8M104.7 84h0.8M98.5 85.1h0.8M110.8 95.3h0.8M111.4 99.1h0.8M124.1 65.1h0.8M109.8 101h0.8M86 94.7h0.8M102.6 83.6h0.8M115.2 71h0.8M114.9 81.9h0.8M104.5 94.1h0.8M118.8 87.3h0.8M104.7 90.1h0.8M129.4 89.5h0.8M122.5 85.7h0.8M140.4 72.9h0.8M119.1 92.6h0.8M115.6 77.7h0.8M100.1 85.6h0.8M113.8 76.8h0.8M100.9 92.8h0.8M124 82.7h0.8M105 81.2h0.8M139.9 92.1h0.8M111.9 96.7h0.8M137.9 98.2h0.8M96.9 86.9h0.8M108.2 84.6h0.8M99.2 84.1h0.8M100.7 90.7h0.8M113.1 74.9h0.8M93.8 83.3h0.8M119.7 92.1h0.8M111.8 57.9h0.8M107.1 81h0.8M108.9 76.6h0.8M107.8 81.6h0.8M142.5 94h0.8M110.4 87.2h0.8M111.2 89.3h0.8M108.1 87.5h0.8M123.9 95.1h0.8M116 99.7h0.8M115 78.8h0.8M93.3 81.4h0.8M111.9 91.2h0.8M124.4 82.5h0.8M103.7 94.6h0.8M125.5 83.3h0.8M116.3 100.1h0.8M116.1 87.1h0.8M89.6 99.6h0.8M119.7 88.8h0.8M107.4 76.4h0.8M111.5 86.7h0.8M124.7 76.7h0.8M128.5 88h0.8M125.7 78.9h0.8M116.4 98.7h0.8M113.8 74.4h0.8M108.9 92.5h0.8M97.1 74.6h0.8M115.2 79.1h0.8M120.1 77h0.8M92.3 80.6h0.8M129 79.9h0.8M112.5 89.9h0.8M102.1 97.5h0.8M114.5 91.7h0.8M94 71.9h0.8M82.2 85.9h0.8M110 94.2h0.8M128.9 85.4h0.8M109.6 91.7h0.8M129.4 80.2h0.8M119.5 85.4h0.8M108.9 95h0.8M103.9 78h0.8M119.9 87.4h0.8M109.7 86.5h0.8M118.1 84.3h0.8M121 91.4h0.8M128.9 99.1h0.8M122 85.9h0.8M113.9 82.3h0.8M144 85.7h0.8M118.7 99.9h0.8M97.6 80.2h0.8M108.3 78.7h0.8M98.7 83h0.8M126.9 94.2h0.8M113 88h0.8M94.4 94h0.8M117.3 78h0.8M114.9 86h0.8M106.9 78.8h0.8M105.2 79.2h0.8M117.7 91h0.8M116.2 86.1h0.8M108.2 106.1h0.8M92.2 98.5h0.8M116.6 88.3h0.8M107.1 85.8h0.8M99.6 75.2h0.8M111.4 72.8h0.8M121.9 97.8h0.8M74.8 73.8h0.8M115.7 89.6h0.8M113.9 91.5h0.8M120.9 95.5h0.8M132.4 88h0.8M122.2 73.1h0.8M111.3 76.8h0.8M128 108.8h0.8M118.7 76.1h0.8M111.5 88h0.8M114.9 97.6h0.8M123.2 63.9h0.8M127.8 83.3h0.8M106.6 100.5h0.8M109.8 75.4h0.8M98.2 88.3h0.8M122.7 101.3h0.8M110.9 83.6h0.8M130.6 83.7h0.8M128.8 89.9h0.8M115.4 85.7h0.8M116 83.6h0.8M105.3 86.6h0.8M105.6 90.5h0.8M113.7 85.4h0.8M110.6 85.7h0.8M131.9 87.7h0.8M106.2 85.1h0.8M120 86h0.8M111.1 85.5h0.8M114.6 91.3h0.8M117.6 73.1h0.8M101 64.1h0.8M121.6 97.8h0.8M127 89.1h0.8M125.4 87.5h0.8M111.4 73.9h0.8M104.1 82.5h0.8M122.8 102.7h0.8M107.6 91.1h0.8M115.8 80.8h0.8M93.8 81h0.8M96.9 84.9h0.8M111.2 86.1h0.8M110.9 92.1h0.8M102.5 95.8h0.8M94.4 88.3h0.8M117 80.6h0.8M95.2 93.5h0.8M105.3 94.8h0.8M121.1 87.7h0.8M112.7 96.6h0.8M116.8 79.4h0.8M114.5 92.7h0.8M114.9 89.5h0.8M111.1 86.7h0.8M102.4 74.9h0.8M125 82h0.8M115.1 74.3h0.8M114.4 80.3h0.8M145.2 78.6h0.8M102.1 96.2h0.8M125.1 68.9h0.8M115.5 95.6h0.8M99.3 93.9h0.8M106.9 78.8h0.8M108.9 83.6h0.8M97.5 107.8h0.8M107.7 81.1h0.8M122 87.1h0.8M127.3 85.4h0.8M116.5 88.6h0.8M114.5 85.9h0.8M111.5 102.7h0.8M105.2 82.9h0.8M108.9 92.8h0.8M117.1 96.1h0.8M98 90.1h0.8M110.8 85.2h0.8M114.5 70.2h0.8M115.7 89h0.8M97.1 86.9h0.8M129.6 84.3h0.8M119.2 85.7h0.8M103.8 79.5h0.8M108.3 99.3h0.8M121.6 81.4h0.8M123.6 86.6h0.8M105.2 91.6h0.8M102.7 73.7h0.8M126.8 71.5h0.8M118.6 74.2h0.8M112.4 86h0.8M107.9 68.3h0.8M111.5 87.4h0.8M102.9 87.1h0.8M123.5 81.4h0.8M115.5 77.5h0.8M116.9 93.4h0.8M139.7 95.8h0.8M117.4 100.3h0.8M101.9 97.3h0.8M106.8 82.3h0.8M124.6 89.9h0.8M127.1 74.9h0.8M115.7 83.1h0.8M109.8 70.9h0.8M122.9 89.7h0.8M102.1 75.9h0.8M103.3 100.2h0.8M111.7 84.9h0.8M118.1 87.9h0.8M115.3 94.4h0.8M116.4 95.6h0.8M99.9 88.4h0.8M109 88.8h0.8M112.4 82.3h0.8M109.1 96.3h0.8M106.9 76.9h0.8M119.3 96.5h0.8M110 89h0.8M103.9 86.1h0.8M124.9 95h0.8M114.5 85.5h0.8M95.4 90.7h0.8M117.9 97.3h0.8M134.7 91.3h0.8M123.3 78.1h0.8M126 95.6h0.8M127.7 93.9h0.8M117.9 101h0.8M105.9 93.7h0.8M124.7 81.1h0.8M100.6 91.8h0.8M114.4 93.4h0.8M120 81.3h0.8M116.7 98h0.8M109.3 85.6h0.8M101 95.3h0.8M134 76.1h0.8M121.3 96h0.8M107.1 84.8h0.8M101.9 81.2h0.8M114.9 93.8h0.8M114.4 95.6h0.8M115.4 77.9h0.8M128.7 98.5h0.8M105.6 103.7h0.8M118.2 89.3h0.8M133.8 66.3h0.8M96 94.4h0.8M110.6 79.9h0.8M129.4 92.5h0.8M99.6 82.4h0.8M122.3 103.9h0.8M91.8 90.4h0.8M109.2 72.9h0.8M111.5 74.2h0.8M107.5 102.4h0.8M118.8 95.1h0.8M119.7 91.4h0.8M123.8 78h0.8M109.5 95.8h0.8M105.5 84.4h0.8M126.3 101.8h0.8M106.9 81.1h0.8M119.6 90.7h0.8M106.2 93.6h0.8M119.3 89h0.8M145 100.3h0.8M122.2 97.3h0.8M145.2 98h0.8M105.7 91.2h0.8M114.2 83.4h0.8M116.2 90.6h0.8M112.8 84.1h0.8M122.4 74.3h0.8M122.3 88.5h0.8M116.4 67.5h0.8M131.5 73.2h0.8M104.2 94h0.8M106.9 84.8h0.8M89.4 84.5h0.8M115.8 94.4h0.8M110.4 90.3h0.8M118.2 82.5h0.8M105.4 105.7h0.8M104.3 99.3h0.8M114.2 101.4h0.8M106.6 93h0.8M117.1 86.4h0.8M116.8 81.6h0.8M112.6 84.9h0.8M121.7 87.6h0.8M98.5 85.1h0.8M112.4 80.4h0.8M127.8 92h0.8M122.6 81.7h0.8M109.2 97.3h0.8M98.1 91.6h0.8M114.5 84h0.8M114.5 78.9h0.8M115.9 77.7h0.8M99.7 100.8h0.8M105.9 69.7h0.8M124 81.6h0.8M75.5 87.9h0.8M123.5 91.5h0.8M132.1 87.3h0.8M120 79.5h0.8M115.3 102h0.8M119 89.9h0.8M92.1 85.1h0.8M99.6 95.3h0.8M105.5 91.6h0.8M102.7 105.1h0.8M100.8 89.6h0.8M142 90.3h0.8M104.1 93.9h0.8M124.3 96.1h0.8M92.2 90.3h0.8M90.5 105.2h0.8M114.3 84.3h0.8M120.8 92.8h0.8M100.7 102.8h0.8M110.9 72.8h0.8M128.7 102h0.8M127.2 93.3h0.8M103.8 96.8h0.8M133.7 95.7h0.8M130.9 81.5h0.8M124.6 96.8h0.8M97.3 74h0.8M105.7 89.2h0.8M118.5 86.4h0.8M112.9 87.5h0.8M114.5 93.7h0.8M119 88h0.8" stroke="#000" stroke-width="0.8" stroke-opacity="0.5"/><path d="M87.2 83.3h1M89.4 82.6h1M92.7 88.3h1M87.3 79.6h1M84.8 90.6h1M86.3 81.2h1M81.6 89.1h1M86.8 95.2h1M91.2 84.9h1M78.3 86.9h1M78.9 73.3h1M90.3 95.4h1M83.7 81.1h1M85.9 67.7h1M88.1 84.5h1M93.5 76h1M90.2 80.5h1M90.3 77h1M89.1 83.4h1M82.9 86.9h1M88.1 93.5h1M92.5 98.5h1M75.7 83.9h1M78.3 84.1h1M88.7 72.7h1M81.5 90.4h1M85.1 107.6h1M87.5 95h1M93.2 82.7h1M86.2 76.8h1M87.3 101.1h1M91.7 88.3h1M83.4 79.5h1M80.7 90.2h1M91.7 60.3h1M77.6 105.5h1M79.8 92.7h1M81.2 98.1h1M89.4 90.8h1M89.5 89.3h1M90.6 80.9h1M83 85.9h1M85.3 89.6h1M83.8 96.6h1M86.4 93.1h1M86.3 96.2h1M81.5 107.8h1M87.7 94.2h1M88.7 101.8h1M89.2 91.7h1M85.6 69.1h1M87.1 85.1h1M78.9 89.6h1M91.1 100.4h1M91.3 73.7h1M82.5 96.3h1M85.1 109.5h1M87.2 91.3h1M88.1 85.7h1M86.8 80.9h1M86.2 83.2h1M87.3 72h1M80.4 94.5h1M87.2 77.4h1M85.4 76.4h1M94.5 70.3h1M93.2 79.1h1M88 85.9h1M84.8 100.3h1M89.6 85.6h1M92 90.7h1M85.2 92.6h1M86.7 103.4h1M82.5 89.3h1M83.2 104.7h1M93.6 88h1M88.5 105.9h1M85.2 77.9h1M90.5 95.2h1M85.5 106.6h1M87.3 67.7h1M87.7 88.4h1M93.9 88.9h1M85.5 94.3h1M87.3 72.2h1M86.8 85.2h1M81.9 77.5h1M83 81.2h1M83.6 89.8h1M90.7 73.5h1M80.2 67h1M90.8 105h1M80.2 69.5h1M86.9 102.2h1M90.4 91.4h1M89.1 93.1h1M86.4 75.8h1M84.5 70.6h1M86.4 102.3h1M81.3 102.7h1M94.8 93.7h1M81.7 78.9h1M85 73.7h1M81.4 86h1M85.7 96.4h1M90.6 99.8h1M90.7 78.4h1M90.4 87.3h1M87.2 91.5h1M83.3 86.7h1M83.7 84h1M88.2 77.6h1M89.3 90.5h1M89.4 99.8h1M91.4 96.7h1M89.2 87h1M88.7 78.3h1M85.4 98.1h1M86.2 94.5h1M82.1 105.6h1M84.1 93.9h1M86.3 100.4h1M84.8 77.1h1M78.8 85.5h1M81.6 95.6h1M92.2 62.4h1M81.2 92.9h1M91.3 92.8h1M87.7 95.2h1M88.7 108.9h1M88.8 74.2h1M84.5 91.7h1M83.1 86h1M84.3 80.7h1M89.2 84.4h1M82 80.5h1M87.4 107h1M88.4 63.2h1M87.9 78.9h1M80.9 76.1h1M93.6 70.1h1M83.9 103.1h1M89.1 68.5h1M85.9 82.9h1M85.6 98.2h1M84.1 85.3h1M92.2 66.9h1M84.9 94.8h1M81.4 81.5h1M81.1 91h1M83.9 98.6h1M90.5 89.7h1M84.8 92.2h1M86.6 74.4h1M90.7 91.8h1M89.5 72.6h1M88.8 71.5h1M86.5 88.4h1M87.2 86.3h1M88.4 83.5h1M87.3 80.7h1M86.8 101.1h1M84.4 97.1h1M82.8 84.6h1M85.4 104.1h1M83.3 103.8h1M80.4 87.1h1M90 97.5h1M82.3 74.2h1M89.9 73.8h1M88.7 82.7h1M92.6 99.2h1M80.8 92.9h1M86.6 87.8h1M91.7 68.2h1M87.6 90.5h1M81.2 89.3h1M86.7 62.4h1M80.5 77.2h1M89.5 100.5h1M88.7 91.9h1M77.4 91.6h1M84.2 103.2h1M89.2 98.9h1M82.1 89.9h1M81.3 99.9h1M81.5 86.3h1M83 83.2h1M88.2 82.1h1M87.2 76.7h1M92 81.1h1M76.4 76.9h1M85.5 103.2h1M84.3 93.5h1M83.3 95.8h1M81.4 99.1h1M74.2 65.9h1M93.7 91h1M90.6 102.6h1M84.6 96.5h1M88.4 68.6h1M88.7 86.6h1M91.5 104.8h1M83.7 81.5h1M87.1 96.9h1M84.6 87.5h1M88.8 94h1M91 91.8h1M82.7 67.2h1M89.6 84.7h1M84.9 85.3h1M79.9 84h1M75.6 83.9h1M88.1 86.2h1M86.9 97.8h1M83.2 86h1M86.6 64.6h1M86 101.1h1M83.9 85.5h1M81.2 75.8h1M77.5 102.9h1M81.5 93.3h1M87.6 80.8h1M86.5 87.6h1M84.2 89.4h1M86.5 76.2h1M80.9 78.3h1M86.7 105.8h1M92.3 92.6h1M90.1 90.3h1M90.8 90.3h1M87.9 85.2h1M81.3 88.7h1M83.8 100.6h1M93.7 84.8h1M74.8 96.3h1M88.8 67.8h1M85.2 87.9h1M76.7 97.1h1M88 91.6h1M81.8 79.8h1M83.6 94.6h1M82.1 106.8h1M87.8 61.6h1M93.2 90.6h1M83.9 89.9h1M78.6 91h1M76 75.9h1M91.8 104.3h1M84.8 76.6h1M90.1 88h1M87.1 96.4h1M81.7 98.5h1M77.4 106.8h1M79.7 80.7h1M83.4 97.6h1M89.3 93h1M88.4 94.4h1M85.9 64.7h1M76.6 59.8h1M86 85.7h1M85.6 91.3h1M85.2 76h1M79.9 64.7h1M91.2 99.8h1M80.5 85h1M88 108.4h1M83.6 90.6h1M91 66.7h1M83.1 87.9h1M89.8 90.9h1M82.1 99.3h1M88.8 81.9h1M84.3 70.1h1M85.8 99.2h1M90.3 95.6h1M89.6 81h1M84.2 103.5h1M88 78.4h1M88.2 98.8h1M89.1 89.7h1M84 93.3h1M93.2 90.2h1M83.3 92.6h1M81 91.2h1M84.9 100.3h1M86.5 101.5h1M95.7 85.6h1M82.6 94.1h1M85.7 90.1h1M83.6 95.2h1M86.4 61.3h1M85.1 92.5h1M91 81.1h1M82.8 102.6h1M83.6 89.6h1M88.1 97.5h1M86.1 74.4h1M90.3 82.8h1M89.7 75h1M84.1 85.2h1M83 64.3h1M89.4 97.9h1M87.1 83.2h1M87 96.2h1M81.8 84.1h1M83.8 96.9h1M87.2 72.1h1M82 90.1h1M83.5 103.7h1M85.8 82.8h1M81.2 85.2h1M89.5 96.6h1M80.6 107.6h1M85 75.1h1M86.6 80.5h1M83.7 80.3h1M85.7 82h1M79 94.7h1M83.9 103h1M88.3 95.8h1M86.8 104.2h1M84.7 75.8h1M87.5 54.4h1M84.5 90.8h1M84.3 103.7h1M88.9 89.5h1M84.4 101.7h1M83.2 83h1M89.1 95.5h1M94.5 85.4h1M78.3 96.3h1M91.2 86.1h1M83.3 82.1h1M80.9 94.8h1M89 95.6h1M80.9 78.6h1M80.1 68.1h1M80.5 68.5h1M85.3 93.3h1M88.6 87.8h1M83.2 87.9h1M88.4 84.4h1M86.2 84.2h1M83.8 88.5h1M81.4 101h1M79.6 93.7h1M80.4 106.7h1M89.6 78h1M84.2 74.1h1M85.8 93.1h1M96.5 71.1h1M91.1 80.8h1M87.1 98.9h1M88.2 93.2h1M85.2 87.9h1M86.6 102.8h1M80 81.9h1M80.9 76.1h1M82.7 101.6h1M94.8 104.7h1M81.1 88.9h1M81.3 93.5h1M91.2 95.3h1M89.6 86.2h1M77.9 63.5h1M85.6 95.1h1M91.2 83.7h1M86.3 91.2h1M90.4 87.1h1M81.5 101.3h1M87.7 92.7h1M80.8 87.9h1M78.9 63.3h1M85 82.6h1M88.3 105.8h1M83.6 97.4h1M80.8 89.6h1M84.7 85.4h1M88.4 64.8h1M86.5 78h1M86.5 92.8h1M84.5 83.4h1M81.3 94.8h1M83.2 93.5h1M80.1 104.8h1M81.8 102.2h1M84.2 94.7h1M85.4 96.4h1M86 103.6h1M88.8 96.4h1M92.9 79.4h1M91.3 88.9h1M79.9 93.9h1M85.2 108.8h1M84 88.6h1M87 64.5h1M88.1 75.8h1M91.8 108.5h1M86 68.5h1M86.7 90.2h1M89 84.4h1M81.1 86.2h1M83.1 80h1M85.8 72.7h1M84.2 86.3h1M84 84.9h1M91.1 93.3h1M80.5 82.7h1M89.1 80h1M86.3 87.6h1M88.2 85.8h1M85.4 77.4h1M87.5 76.6h1M93.1 87.8h1M85.1 97.7h1M85.7 89.1h1M85.8 79.1h1M82.2 79.4h1M90.6 80.3h1M84.3 82.5h1M82.2 94.7h1M86.5 84.3h1M88.1 72.4h1M89.4 90.7h1M81.9 107.6h1M89.5 102.3h1M80 84.7h1M83.9 95.7h1M91.5 64.6h1M86.1 86.5h1M90.1 87.5h1M80.8 85.6h1M81.8 78.5h1M86.2 82.1h1M87.1 69.4h1M95.5 103.5h1M88.9 72.1h1M77.2 77.4h1M91.3 81.6h1M90.9 103h1M86.1 102.9h1M87.3 80h1M81.2 86.5h1M90.1 71.4h1M79.4 94.7h1M84.2 97h1M93.6 70.2h1M84.8 86.4h1M86.9 101h1M91.4 89.3h1M84.6 87.6h1M87.2 104.1h1M82.5 94.5h1M93.2 103.8h1M87.4 77.2h1M83.1 86.1h1M87.3 84.9h1M80 78.9h1M88.1 98.2h1M80.3 83.5h1M79.2 81.1h1M100.5 88.8h1M84.6 80.8h1M81.1 65.2h1M85.8 84.6h1M92 67.9h1M87.8 104.5h1M78 96.1h1M79.4 94.4h1M92 88h1M87.2 79.5h1M87.2 101.9h1M85.3 86.3h1M87.6 98.1h1M79.3 88.7h1M83.2 94.1h1M90.2 91.8h1M91.3 75.8h1M84.3 75.9h1M86.2 89.2h1M85.2 73.1h1M85.7 82.6h1M88.5 84.7h1M90.8 90.8h1M78.4 85.9h1M80.2 99.9h1M91.9 87.7h1M87.8 70.3h1M76.8 81.2h1M85 69.4h1M86.4 91.9h1M88.6 107h1M89.3 83.5h1M86.4 95.4h1M81.7 104.3h1M89.7 85.2h1M89.5 99.6h1M93.4 100.1h1M86.9 96.7h1M82.3 96.8h1M79.7 93.3h1M88.3 68.9h1M93.9 73.9h1M90.3 81.6h1M87.3 80h1M96.2 100.8h1M93.5 97.8h1M88.9 90h1M85.1 95.7h1M86.7 86.3h1M80.4 84.4h1M88.6 82.4h1M87.5 86.5h1M81.9 77.1h1M83 84.7h1M85 102h1M81.6 63.1h1M88.9 82.7h1M92.1 95.5h1M90 89.8h1M90 80.8h1M83.2 82.6h1M92.6 107.5h1M83.6 102.6h1M85.5 101.6h1M84.8 100.1h1M85.7 84.8h1M86 90.3h1M83.7 71.5h1M93.1 83.6h1M78.7 60.5h1M74.6 80.9h1M91.7 68.3h1M84.8 65.8h1M90.7 92.9h1M87.5 105.1h1M92.9 101.2h1M83.8 72.1h1M81.9 66.8h1M93.6 86.1h1M86.7 90.9h1M94.5 81.5h1M91 92.2h1M85.5 64.8h1M89.9 79.3h1M84.3 91.3h1M86.6 102.4h1M83.4 90.5h1M87.3 88.8h1M89 85.4h1M91.1 79.7h1M80.2 88h1M91 82.1h1M83.6 84.2h1M86.8 86.3h1M87.5 67.3h1M92.3 95.7h1M82.6 105.5h1M88 106.7h1M81.3 109h1M86.4 63.1h1M89.3 84.8h1M82 85.9h1M78.2 95.7h1M85.3 85.2h1M92 88.9h1M83.4 76.8h1M85.9 101.7h1M83.8 75.7h1M90 89.2h1M81.2 91h1M78.9 84.8h1M88.6 102.4h1M80.9 98.8h1M89.4 87h1M96.3 88.5h1M82.5 93.8h1M78.5 107.8h1M90.2 83.6h1M88.7 95.1h1M94.1 80.9h1M80.9 63.4h1M85 69.1h1M85.5 93.6h1M84.3 76.8h1M91.1 86h1M87.1 100.3h1M80.8 77.1h1M96.5 86.5h1M81.9 85.3h1M83.8 73.3h1M84.5 88.2h1M86.1 95.1h1M79 70h1M89.4 83h1M91.2 92.2h1M80.4 95.1h1M82 91.7h1M85.9 97.1h1M87.4 98.3h1M75.7 83.7h1M87.4 94.3h1M83.1 98.7h1M90.7 89.4h1M85.2 84.1h1M86.7 103.1h1M92.3 82.7h1M82.3 78.7h1M90.2 91.2h1M87.4 94.4h1M87.7 87h1M81.9 80.9h1M86.7 93.3h1M84.6 83.4h1M91.8 82.8h1M87.1 84.6h1M82.6 69.8h1M84 78.4h1M89.6 74.4h1M84.5 96.6h1M85.7 94.6h1M89.6 68.1h1M84.5 76.7h1M91.7 87.1h1M88.2 109.3h1M84.7 89.4h1M87.8 85.2h1M91.3 98.5h1M90.3 89.1h1M84.8 84.1h1M84.7 68.4h1M87.6 98.4h1M86.1 82.4h1M86.3 91.2h1M82.7 92.9h1M89 89.4h1M85.2 76h1M83.7 97.1h1M92.1 80.5h1M88.1 94.8h1M90.3 91.4h1M88 99.4h1M81.4 89h1M79 64.5h1M82.8 69.7h1M88.2 100.5h1M84.9 86.8h1M85.2 85.3h1M86.7 92.7h1M84.3 78.9h1M84 98.2h1M84.4 106h1M85.2 105h1M81.3 80h1M88.1 94.3h1M86.4 91.9h1M83.8 108.5h1M89.6 93.4h1M79.5 92.8h1M84.3 93.2h1M89.8 79.4h1M87 99h1M86.8 84.4h1M81.9 80.3h1M81 100.3h1M86.6 73.7h1M86.1 72.8h1M72.9 103h1M90.8 70.6h1M83.2 90.9h1M84.6 78.1h1M84.1 85.5h1M83.9 90.9h1M85.2 79.2h1M86.2 68.4h1M91.9 67.4h1M85.8 92.4h1M87.8 91.5h1M91.2 74.8h1M85.8 90.1h1M84.1 81.2h1M91.3 79.8h1M84.2 85h1M85.3 90.3h1M85.3 92.8h1M86.7 94.1h1M91.6 78.2h1M92.7 82.9h1M88.8 90.2h1M84.9 64.8h1M92.5 79.2h1M83 101h1M92.8 96.8h1M87.1 97.4h1M80.8 90.3h1M86.7 82.6h1M87.1 70.8h1M89.7 103.7h1M80.9 90h1M92.2 93.3h1M82 76.5h1M81.8 88.7h1M83 84.9h1M87.3 87.8h1M85.5 86.1h1M90.5 88.4h1M85.3 99.6h1M82 97.2h1M90.2 96.1h1M85.4 88.1h1M79.3 86.7h1M87.2 98.6h1M86.6 83.6h1M82.8 87.7h1M86.6 102.6h1M86.1 82.3h1M85.7 82.5h1M85.1 62h1M79.8 74h1M87.9 87.3h1M86.7 102h1M81.9 101.8h1M87.6 79.7h1M92 71.3h1M81.6 85.7h1M87.7 85.9h1M77.6 84.7h1M91.5 89.7h1M81.8 92.3h1M81.5 90.6h1M87.5 83.5h1M87.1 84.3h1M83.8 106.4h1M88.4 84.6h1M83 90.3h1M88.3 98.3h1M91.9 93.7h1M90.6 98h1M91.3 70.5h1M84.6 82.1h1M90.8 74.2h1M84.8 106.2h1M88.6 83.6h1M93.5 72.4h1M87.8 85.5h1M88.1 84.9h1M82.8 90.7h1M80.9 94.4h1M84.8 99.1h1M84.3 80.2h1M87.6 102.8h1M77.9 89.6h1M88.5 71.3h1M82.6 95.7h1M82.8 80.6h1M92.8 77h1M82.6 60.8h1M81.7 73.6h1M92.8 102.5h1M89.1 86h1M89.2 92.6h1M83 67.3h1M82.5 88.1h1M84.6 79.4h1M89.9 75.5h1M89.5 82.4h1M86.5 74.8h1M86 78.8h1M79.2 87.9h1M85.8 97.9h1M87.2 76.1h1M83.6 58.7h1M81.6 103.4h1M92 97.1h1M87.2 95h1M87.9 67.6h1M82.6 102.1h1M90.7 90.9h1M84.8 83.5h1M83.9 77.1h1M78.4 89.8h1M84.2 85.5h1M92.8 95.1h1M83.3 94.9h1M80.1 100.5h1M87.1 85.8h1M88.3 105.3h1M84.2 76.4h1M94.4 88.2h1M91.9 80h1M87.5 80.5h1M88.5 84.8h1M83.4 106.5h1M87.4 64h1M85.1 77.2h1M81.2 81.1h1M84.1 88.4h1M82.9 65.9h1M83.9 98.5h1M80.6 95.4h1M87.8 82.7h1M87.2 79.1h1M84.4 75.9h1M87.9 104.3h1M83.3 102.3h1M77.5 77.5h1M82 108.5h1M83.7 97.3h1M77.9 89.4h1M88.3 87.6h1M75.2 90.1h1M89.2 103.8h1M87.6 67.8h1M85.2 98.8h1M82.7 94.8h1M84.1 89.1h1M89 79.5h1M97.4 89.8h1M87.4 79.1h1M86.2 84.8h1M80.2 69.7h1M87.1 87h1M75.5 62.3h1M84.8 87.2h1M88.4 73.2h1M88.4 84.3h1M84 86.3h1M89.9 94.7h1M89.6 79.8h1M84.9 74.1h1M83.8 83.2h1M84.1 96.6h1M87.7 97.1h1M86.5 100.9h1M86.5 99.6h1M88 96.8h1M85.7 73.1h1M87.6 93.3h1M85.3 82.5h1M97.5 74.6h1M85.7 87.4h1M81.5 72.7h1M83.2 83.9h1M84.1 97.8h1M81.3 92.9h1M91.9 98.7h1M81.4 52.6h1M89.4 94h1M83.7 103.4h1M84.4 89.3h1M81.8 91.8h1M84.3 82h1M90.3 90.6h1M80 96.3h1M89.3 78h1M84.4 88.6h1M85 89.5h1M88.6 82.1h1M94.3 79.5h1M95.5 88.5h1M85.3 75.1h1M90.6 90.1h1M82.6 92.9h1M91.5 96.2h1M94.8 101.9h1M87.8 87.6h1M88.2 102.6h1M89.4 100.7h1M86.9 97.2h1M90.9 86h1M80.8 108.7h1M88.3 82.7h1M86.9 85h1M79.2 85.8h1M80.3 90.4h1M85.6 101.6h1M85.5 92.5h1M84.8 83.4h1M80.4 99.9h1M86.7 81h1M86.8 83h1M83.1 91h1M90.9 84.8h1M80.3 80.6h1M93.2 78.3h1M90.8 85.1h1M89 86.7h1M79.7 83.1h1M94.4 86.4h1M88.3 84h1M85.5 91.9h1M85.9 85.8h1M83.4 72.3h1M79.6 96h1M78.6 104.9h1M89.4 84.5h1M81.4 88.4h1M86.1 101.6h1M83 83.5h1M85.8 84.7h1M83.5 67.5h1M79.5 79.9h1M85.1 100h1M95.2 108.6h1M85.5 81.7h1M95.3 75.2h1M84.4 84.9h1M91.9 80.9h1M89.1 83.2h1M81.1 90.9h1M86.7 74.2h1M82.6 78.5h1M89.9 93.6h1M87 93.9h1M84.1 93.8h1M83.6 72.1h1M83.2 90.6h1M86.4 100.8h1M79.3 85.4h1M87.6 76.5h1M87 83.2h1M81.5 101.5h1M80.5 100.1h1M84.4 76.8h1M82.5 79.2h1M82.6 91.3h1M78.6 103h1M89.4 104.7h1M82.1 60.3h1M83.5 86.1h1M87.2 81.9h1M85.7 89.9h1M81.5 91.3h1M90.3 78.7h1M86.1 107.7h1M84.9 100.7h1M87.2 90.9h1M88.9 85.4h1M85.2 99.7h1M87.1 94.1h1M81.3 88.3h1M90.9 98.9h1M87.4 82h1M83.6 93.4h1M91.7 88.7h1M91.3 84.6h1M90.9 76.2h1M86.8 75.4h1M88.7 95.1h1M82.3 79.3h1" stroke="#000" stroke-width="1" stroke-opacity="0.85"/><path d="M44 63.5L58 62L70 62.5L77 64.5L81 69L84 78L85.5 90L86.5 100L87.5 111L44 111Z" fill="#000" filter="url(#b1)"/></g><clipPath id="kA"><path d="M48 77L51 74.8L60 74L67.5 74L72 75.5L75.5 78.5L78.3 83.5L78.6 87.5L76.5 94L74 100L72.6 108.3L48 108.3Z"/></clipPath><linearGradient id="gkA" x1="0" y1="0" x2="0" y2="1"><stop offset="0" stop-color="#888"/><stop offset="1" stop-color="#e4e4e4"/></linearGradient><path d="M48 77L51 74.8L60 74L67.5 74L72 75.5L75.5 78.5L78.3 83.5L78.6 87.5L76.5 94L74 100L72.6 108.3L48 108.3Z" fill="url(#gkA)"/><g clip-path="url(#kA)" fill="none" stroke="#444" stroke-width="0.5"><ellipse cx="63" cy="84.5" rx="1.7" ry="0.8"/><ellipse cx="63" cy="84.5" rx="3.4" ry="1.5"/><ellipse cx="63" cy="84.5" rx="5.1" ry="2.3"/><ellipse cx="63" cy="84.5" rx="6.8" ry="3.1"/><ellipse cx="63" cy="84.5" rx="8.5" ry="3.8"/><ellipse cx="63" cy="84.5" rx="10.2" ry="4.6"/><ellipse cx="63" cy="84.5" rx="11.9" ry="5.4"/><ellipse cx="63" cy="84.5" rx="13.6" ry="6.1"/><ellipse cx="63" cy="84.5" rx="15.3" ry="6.9"/><ellipse cx="63" cy="84.5" rx="17" ry="7.6"/><ellipse cx="63" cy="84.5" rx="18.7" ry="8.4"/><ellipse cx="63" cy="84.5" rx="20.4" ry="9.2"/><ellipse cx="63" cy="84.5" rx="22.1" ry="9.9"/><ellipse cx="63" cy="84.5" rx="23.8" ry="10.7"/><ellipse cx="63" cy="84.5" rx="25.5" ry="11.5"/><ellipse cx="63" cy="84.5" rx="27.2" ry="12.2"/><ellipse cx="63" cy="84.5" rx="28.9" ry="13"/><path d="M48 96Q60 97 70 108M48 100Q58 101 64 108M52 92Q66 92 74 104"/></g><path d="M48 77L51 74.8L60 74L67.5 74L72 75.5L75.5 78.5L78.3 83.5L78.6 87.5L76.5 94L74 100L72.6 108.3L48 108.3Z" fill="none" stroke="#fff" stroke-width="1.3"/><path d="M86.5 9.2L86.5 109.7" stroke="#555" stroke-width="1.4"/><path d="M45.3 62.3L145.8 62.3" stroke="#555" stroke-width="1.4"/><rect x="45.3" y="9.2" width="100.5" height="100.5" fill="none" stroke="#000" stroke-width="1.8"/><path d="M43.3 109.7L45.3 109.7" stroke="#000" stroke-width="0.5"/><path d="M44.1 102.1L45.3 102.1" stroke="#000" stroke-width="0.5"/><path d="M44.1 97.7L45.3 97.7" stroke="#000" stroke-width="0.5"/><path d="M44.1 94.6L45.3 94.6" stroke="#000" stroke-width="0.5"/><path d="M44.1 92.1L45.3 92.1" stroke="#000" stroke-width="0.5"/><path d="M44.1 90.1L45.3 90.1" stroke="#000" stroke-width="0.5"/><path d="M44.1 88.5L45.3 88.5" stroke="#000" stroke-width="0.5"/><path d="M44.1 87L45.3 87" stroke="#000" stroke-width="0.5"/><path d="M44.1 85.7L45.3 85.7" stroke="#000" stroke-width="0.5"/><path d="M43.3 84.6L45.3 84.6" stroke="#000" stroke-width="0.5"/><path d="M44.1 77L45.3 77" stroke="#000" stroke-width="0.5"/><path d="M44.1 72.6L45.3 72.6" stroke="#000" stroke-width="0.5"/><path d="M44.1 69.4L45.3 69.4" stroke="#000" stroke-width="0.5"/><path d="M44.1 67L45.3 67" stroke="#000" stroke-width="0.5"/><path d="M44.1 65L45.3 65" stroke="#000" stroke-width="0.5"/><path d="M44.1 63.3L45.3 63.3" stroke="#000" stroke-width="0.5"/><path d="M44.1 61.9L45.3 61.9" stroke="#000" stroke-width="0.5"/><path d="M44.1 60.6L45.3 60.6" stroke="#000" stroke-width="0.5"/><path d="M43.3 59.5L45.3 59.5" stroke="#000" stroke-width="0.5"/><path d="M44.1 51.9L45.3 51.9" stroke="#000" stroke-width="0.5"/><path d="M44.1 47.5L45.3 47.5" stroke="#000" stroke-width="0.5"/><path d="M44.1 44.3L45.3 44.3" stroke="#000" stroke-width="0.5"/><path d="M44.1 41.9L45.3 41.9" stroke="#000" stroke-width="0.5"/><path d="M44.1 39.9L45.3 39.9" stroke="#000" stroke-width="0.5"/><path d="M44.1 38.2L45.3 38.2" stroke="#000" stroke-width="0.5"/><path d="M44.1 36.8L45.3 36.8" stroke="#000" stroke-width="0.5"/><path d="M44.1 35.5L45.3 35.5" stroke="#000" stroke-width="0.5"/><path d="M43.3 34.3L45.3 34.3" stroke="#000" stroke-width="0.5"/><path d="M44.1 26.8L45.3 26.8" stroke="#000" stroke-width="0.5"/><path d="M44.1 22.3L45.3 22.3" stroke="#000" stroke-width="0.5"/><path d="M44.1 19.2L45.3 19.2" stroke="#000" stroke-width="0.5"/><path d="M44.1 16.8L45.3 16.8" stroke="#000" stroke-width="0.5"/><path d="M44.1 14.8L45.3 14.8" stroke="#000" stroke-width="0.5"/><path d="M44.1 13.1L45.3 13.1" stroke="#000" stroke-width="0.5"/><path d="M44.1 11.6L45.3 11.6" stroke="#000" stroke-width="0.5"/><path d="M44.1 10.3L45.3 10.3" stroke="#000" stroke-width="0.5"/><path d="M43.3 9.2L45.3 9.2" stroke="#000" stroke-width="0.5"/><path d="M45.3 109.7L45.3 111.7" stroke="#000" stroke-width="0.5"/><path d="M52.9 109.7L52.9 110.9" stroke="#000" stroke-width="0.5"/><path d="M57.3 109.7L57.3 110.9" stroke="#000" stroke-width="0.5"/><path d="M60.4 109.7L60.4 110.9" stroke="#000" stroke-width="0.5"/><path d="M62.9 109.7L62.9 110.9" stroke="#000" stroke-width="0.5"/><path d="M64.9 109.7L64.9 110.9" stroke="#000" stroke-width="0.5"/><path d="M66.5 109.7L66.5 110.9" stroke="#000" stroke-width="0.5"/><path d="M68 109.7L68 110.9" stroke="#000" stroke-width="0.5"/><path d="M69.3 109.7L69.3 110.9" stroke="#000" stroke-width="0.5"/><path d="M70.4 109.7L70.4 111.7" stroke="#000" stroke-width="0.5"/><path d="M78 109.7L78 110.9" stroke="#000" stroke-width="0.5"/><path d="M82.4 109.7L82.4 110.9" stroke="#000" stroke-width="0.5"/><path d="M85.6 109.7L85.6 110.9" stroke="#000" stroke-width="0.5"/><path d="M88 109.7L88 110.9" stroke="#000" stroke-width="0.5"/><path d="M90 109.7L90 110.9" stroke="#000" stroke-width="0.5"/><path d="M91.7 109.7L91.7 110.9" stroke="#000" stroke-width="0.5"/><path d="M93.1 109.7L93.1 110.9" stroke="#000" stroke-width="0.5"/><path d="M94.4 109.7L94.4 110.9" stroke="#000" stroke-width="0.5"/><path d="M95.6 109.7L95.6 111.7" stroke="#000" stroke-width="0.5"/><path d="M103.1 109.7L103.1 110.9" stroke="#000" stroke-width="0.5"/><path d="M107.5 109.7L107.5 110.9" stroke="#000" stroke-width="0.5"/><path d="M110.7 109.7L110.7 110.9" stroke="#000" stroke-width="0.5"/><path d="M113.1 109.7L113.1 110.9" stroke="#000" stroke-width="0.5"/><path d="M115.1 109.7L115.1 110.9" stroke="#000" stroke-width="0.5"/><path d="M116.8 109.7L116.8 110.9" stroke="#000" stroke-width="0.5"/><path d="M118.2 109.7L118.2 110.9" stroke="#000" stroke-width="0.5"/><path d="M119.5 109.7L119.5 110.9" stroke="#000" stroke-width="0.5"/><path d="M120.7 109.7L120.7 111.7" stroke="#000" stroke-width="0.5"/><path d="M128.2 109.7L128.2 110.9" stroke="#000" stroke-width="0.5"/><path d="M132.7 109.7L132.7 110.9" stroke="#000" stroke-width="0.5"/><path d="M135.8 109.7L135.8 110.9" stroke="#000" stroke-width="0.5"/><path d="M138.2 109.7L138.2 110.9" stroke="#000" stroke-width="0.5"/><path d="M140.2 109.7L140.2 110.9" stroke="#000" stroke-width="0.5"/><path d="M141.9 109.7L141.9 110.9" stroke="#000" stroke-width="0.5"/><path d="M143.4 109.7L143.4 110.9" stroke="#000" stroke-width="0.5"/><path d="M144.7 109.7L144.7 110.9" stroke="#000" stroke-width="0.5"/><path d="M145.8 109.7L145.8 111.7" stroke="#000" stroke-width="0.5"/><text x="41.5" y="111.7" font-size="4.9" fill="#444" text-anchor="end">10<tspan dy="-1.8" font-size="3.4">0</tspan></text><text x="41.5" y="86.6" font-size="4.9" fill="#444" text-anchor="end">10<tspan dy="-1.8" font-size="3.4">1</tspan></text><text x="41.5" y="61.5" font-size="4.9" fill="#444" text-anchor="end">10<tspan dy="-1.8" font-size="3.4">2</tspan></text><text x="41.5" y="36.3" font-size="4.9" fill="#444" text-anchor="end">10<tspan dy="-1.8" font-size="3.4">3</tspan></text><text x="41.5" y="11.2" font-size="4.9" fill="#444" text-anchor="end">10<tspan dy="-1.8" font-size="3.4">4</tspan></text><text x="45.3" y="120.7" font-size="4.9" fill="#444" text-anchor="middle">10<tspan dy="-1.8" font-size="3.4">0</tspan></text><text x="70.4" y="120.7" font-size="4.9" fill="#444" text-anchor="middle">10<tspan dy="-1.8" font-size="3.4">1</tspan></text><text x="95.6" y="120.7" font-size="4.9" fill="#444" text-anchor="middle">10<tspan dy="-1.8" font-size="3.4">2</tspan></text><text x="120.7" y="120.7" font-size="4.9" fill="#444" text-anchor="middle">10<tspan dy="-1.8" font-size="3.4">3</tspan></text><text x="145.8" y="120.7" font-size="4.9" fill="#444" text-anchor="middle">10<tspan dy="-1.8" font-size="3.4">4</tspan></text><text x="28" y="61.3" font-size="14" text-anchor="middle" transform="rotate(-90 28 61.3)" fill="#000">CD271-APC</text><text x="96.8" y="134.6" font-size="13.5" text-anchor="middle" fill="#000">CD146-PE</text><g clip-path="url(#cB)"><ellipse cx="263" cy="72" rx="10" ry="26" fill="#000" opacity="0.45" filter="url(#b4)"/><path d="M249.3 23.2h0.8M237.3 38.8h0.8M279.9 94.9h0.8M249.3 53.2h0.8M265.7 47.4h0.8M253.4 81.3h0.8M266.1 58.3h0.8M246.1 97.1h0.8M245.1 63.4h0.8M234.6 45.5h0.8M262.7 50.5h0.8M273.7 62.1h0.8M285.2 45.8h0.8M297.3 60.7h0.8M241.3 74.3h0.8M253.6 60.7h0.8M237.2 76.3h0.8M287.7 47.2h0.8M266.6 19.5h0.8M295.9 89h0.8M218 66h0.8M270.8 62.3h0.8M267.8 37.4h0.8M256.3 31.9h0.8M251.6 69.6h0.8M240.8 53.4h0.8M249.6 60.7h0.8M283.3 66.2h0.8M270.2 24.3h0.8M251.2 80.7h0.8M238.8 49.5h0.8M236.1 93.6h0.8M249 42.1h0.8M275.7 87.7h0.8M272.6 84.8h0.8M265.5 57h0.8M249.2 47.5h0.8M245.3 69.4h0.8M257.4 62.4h0.8M275.3 58.9h0.8M226 40.4h0.8M232.3 12.6h0.8M262.8 30.3h0.8M228.2 33.3h0.8M282 52.4h0.8M285.1 57.9h0.8M249.3 74.3h0.8M275.1 63h0.8M234.3 48.7h0.8M230.6 53.7h0.8M262.5 97.2h0.8M295.4 77h0.8M284 65.9h0.8M270.4 86.4h0.8M264.8 67.8h0.8" stroke="#000" stroke-width="0.8" stroke-opacity="0.35"/><path d="M254.1 78.3h0.9M264.2 76.5h0.9M261 43h0.9M267.5 81.2h0.9M251.5 53.4h0.9M260.3 62.8h0.9M247.7 88.8h0.9M272.1 58h0.9M246.7 70.7h0.9M280.9 76.8h0.9M273.4 53.8h0.9M265.1 46.5h0.9M280.8 73.4h0.9M244.1 42h0.9M267.3 67.8h0.9M260.2 74h0.9M281.1 70.8h0.9M246.8 63.9h0.9M251.2 55.5h0.9M265.9 63.8h0.9M253.4 65.6h0.9M255.6 72.8h0.9M260.8 71h0.9M260.5 75.6h0.9M261.7 65.7h0.9M257.8 67.7h0.9M247 100.6h0.9M256.8 67.2h0.9M258.6 59.5h0.9M266.5 59.2h0.9M259 47.9h0.9M254.6 50.6h0.9M279.1 48.5h0.9M253.2 68.3h0.9M275.7 43.8h0.9M248.9 67.4h0.9M265.9 47.4h0.9M246.7 53.3h0.9M269.6 65.2h0.9M269.6 64.4h0.9M262.6 73.8h0.9M261.8 68.8h0.9M254.6 58h0.9M267.1 62.6h0.9M256.1 74.3h0.9M267.7 65.7h0.9M256 77.4h0.9M285.3 55.1h0.9M248.9 55.6h0.9M254.4 49.3h0.9M252.2 76.7h0.9M270.5 85h0.9M269.5 59.5h0.9M272.6 57.7h0.9M259.7 50.4h0.9M273.8 78.8h0.9M258.6 61.6h0.9M263.1 68.3h0.9M270.4 66.5h0.9M266.4 46.2h0.9M260 42.3h0.9M278.8 83.8h0.9M269.2 80.1h0.9M280.8 77.8h0.9M248.4 62.9h0.9M241.6 55h0.9M251.5 65.5h0.9M266.2 53.5h0.9M260.2 69.2h0.9M261.3 63.3h0.9M241.1 59.8h0.9M269.8 68.9h0.9M249.4 62h0.9M265.1 52.9h0.9M268.8 55.1h0.9M259.7 64.1h0.9M282.7 61.4h0.9M257.5 74.8h0.9M258.4 68h0.9M242.4 69.4h0.9M262.5 48.8h0.9M274.9 62.4h0.9M260.9 48.4h0.9M248 58.1h0.9M249 71.9h0.9M270.5 57.3h0.9M248.2 60.4h0.9M253.1 67.7h0.9M264.3 60h0.9M263.3 79h0.9M278 58.7h0.9M269.1 62.4h0.9M253.1 82.1h0.9M266.2 67.3h0.9M265.8 63.4h0.9M253.2 88.5h0.9M270.7 68.9h0.9M271.3 82.2h0.9M260.8 73.1h0.9M259.7 73.8h0.9M260.3 97.1h0.9M259.4 72.2h0.9M266.8 61.1h0.9M271.1 64.4h0.9M258.9 65.5h0.9M255.9 81h0.9M268.3 78.2h0.9M250.5 69h0.9M255.7 66.6h0.9M274.1 68.8h0.9M261 80h0.9M271.7 89.5h0.9M245.9 69.7h0.9M258.9 54.1h0.9M263.7 50.3h0.9M242.5 53.7h0.9M260.3 89.7h0.9M256.1 50.3h0.9M244.8 60.9h0.9M260.5 67.4h0.9M249.6 55.6h0.9M242.2 67.6h0.9M248.5 29.8h0.9M273.1 72h0.9M265.8 70h0.9M253.3 79.4h0.9M253.2 90.3h0.9M264.7 41.5h0.9M270.5 91.1h0.9M260.3 79.3h0.9M260.7 57.3h0.9M239.4 81.5h0.9M258.6 70.4h0.9M252.4 53.7h0.9M272.7 60.5h0.9M259 49.1h0.9M264.5 75.6h0.9M258.5 63.1h0.9M251.7 83.7h0.9M257.1 63.5h0.9M277.8 62.6h0.9M248.7 53.5h0.9M259.4 88.7h0.9M264.7 62.6h0.9M270.2 82.5h0.9M255.8 84.3h0.9M270.5 71.4h0.9M241.3 68.1h0.9M275.3 62h0.9M283.6 66.6h0.9M253.5 73.4h0.9M265.4 76.5h0.9M260.7 82.7h0.9M257.7 67.4h0.9M251.5 55.2h0.9M264.6 57.1h0.9M258.7 63h0.9M265.1 75.7h0.9M269.7 79.1h0.9M264.6 58.5h0.9M248.4 61.1h0.9M255.6 41.9h0.9M277.8 41.6h0.9M266 73h0.9M260.7 99.7h0.9M263 55.6h0.9M278.8 55.2h0.9M249.7 52.5h0.9M257 66.3h0.9M265.9 45.7h0.9M266 95.1h0.9M256.3 64h0.9M269.1 81.6h0.9M256.7 53h0.9M253.6 80.2h0.9M271 37.2h0.9M243.3 49.4h0.9M249.1 71.1h0.9M264.8 91.5h0.9M270.1 67.3h0.9M273.6 53.9h0.9M250 66.1h0.9M271.4 44.3h0.9M271 77.1h0.9M258.2 67.9h0.9M260.3 66.8h0.9M270.2 55.1h0.9M272.3 77.2h0.9M271.1 39.7h0.9M245.8 74.9h0.9M257.4 56.6h0.9M255.8 48h0.9M260.2 56.2h0.9M256.8 72h0.9M252 80.6h0.9M242.5 98.8h0.9M250.4 73.4h0.9M271.1 65.7h0.9M269.6 64.3h0.9M246.7 70.3h0.9M273.3 58.4h0.9M247.3 57.7h0.9M265.8 69.7h0.9M272.9 73.1h0.9M267.4 39.2h0.9M283.2 66.4h0.9M270.7 61.1h0.9M261.4 66.5h0.9M277.2 85.8h0.9M268.5 92h0.9M259.2 72.6h0.9M258.6 82.9h0.9M263.2 78.7h0.9M278.7 38.3h0.9M282.8 70h0.9M259.9 40.4h0.9M260.1 35.3h0.9M263.7 63.5h0.9M279.6 61.5h0.9M272.7 81.3h0.9M281.9 62.5h0.9M269.9 45.6h0.9M252.7 62.2h0.9M262.7 49.7h0.9M259.1 75.2h0.9M258.7 63.8h0.9M254.7 84.3h0.9M279.3 68.6h0.9M261.9 88.1h0.9M267.3 57h0.9M250.5 58.1h0.9M283.2 58h0.9M289.6 65.9h0.9M260.9 83.6h0.9M260.7 71h0.9M253.4 49.3h0.9M256.1 68.9h0.9M256.8 39.8h0.9M267.4 63.7h0.9M260.4 57.8h0.9M242.2 87.1h0.9M258.5 73h0.9M275.8 81h0.9M264.8 66.1h0.9M265.8 78.1h0.9M268.3 60h0.9M267.1 71h0.9M269.4 68.7h0.9M275.6 68.7h0.9M271.2 66.6h0.9M257.7 53.4h0.9M261.5 73.1h0.9M274.7 64.8h0.9M258.2 59.2h0.9M274.9 67.4h0.9M258.4 75.9h0.9M250.8 67.5h0.9M262.6 64.2h0.9M252.3 79.1h0.9M278.5 48.3h0.9M264.1 74.6h0.9M283.8 60.4h0.9M254.2 65.9h0.9M281.6 66.9h0.9M265.4 89.7h0.9M243.3 37.1h0.9M271.4 76.3h0.9M250.2 72.9h0.9M263.4 68.9h0.9M255.6 60h0.9M254.9 66.7h0.9M260.9 88.4h0.9M268.8 45h0.9M266.8 85.1h0.9M265.6 80.5h0.9M262.7 75.4h0.9M254.4 76.5h0.9M250.3 83.2h0.9M249 37.8h0.9M267.9 63.7h0.9M264.1 71.7h0.9M262.7 54.2h0.9M264.9 70.6h0.9M267.5 92.5h0.9M256.2 66.9h0.9M268.2 60h0.9M251.9 58.4h0.9M272.8 62.4h0.9M268.6 56.2h0.9M267.1 57h0.9M255.2 67.5h0.9M263.5 85.6h0.9M248 72.8h0.9M277.9 84.2h0.9M259.5 56.9h0.9M258.4 70h0.9M264.7 70.7h0.9M268.5 51.7h0.9M252.6 49.6h0.9M250.6 64.7h0.9M265.9 99.8h0.9M267.9 66.2h0.9M276.1 56.2h0.9M266.1 79h0.9M270.3 71.4h0.9M259.8 49.4h0.9M261.6 58.1h0.9M269.4 64.2h0.9M268.2 44.5h0.9M272 54.6h0.9M248.6 47.7h0.9M257.2 81h0.9M269.6 50.4h0.9M263.8 64.6h0.9M248.5 52.8h0.9M244.2 54.4h0.9M238.5 55.4h0.9M254.4 55.4h0.9M255.4 81.4h0.9M259.8 69.2h0.9M270 78h0.9M269.3 58.6h0.9M252.9 55.6h0.9M258.6 66.1h0.9M262.2 80.6h0.9M262 89.9h0.9M272.5 59.6h0.9M270.9 27.7h0.9M275.7 71.5h0.9M266.7 43.6h0.9M286.2 62.6h0.9M261.7 81h0.9M261.2 54.7h0.9M269.1 52.5h0.9M269.8 67.8h0.9M273.4 49.9h0.9M274.5 69.9h0.9M281.2 57.3h0.9M280.1 75.4h0.9M270.3 56.3h0.9M268.1 74.9h0.9M255.4 50.6h0.9M255.9 85.4h0.9M264.4 78.5h0.9M265.7 67.5h0.9M265 60.5h0.9M274.2 68.3h0.9M265.1 47.6h0.9M265.8 57h0.9M258.4 79.8h0.9M252.9 63.3h0.9M268.8 81.3h0.9M258.2 70.2h0.9M265.6 51h0.9M243.3 40.4h0.9M268.5 67.4h0.9M250.7 57.5h0.9M259.3 61.2h0.9M262.7 95.3h0.9M255.8 67.9h0.9M255.9 57.6h0.9M254.9 62.9h0.9M257.9 70.6h0.9M265 54.1h0.9M280.6 50.5h0.9M266.3 94.8h0.9M256.4 83.6h0.9M276 70.5h0.9M246 84.9h0.9M263.8 58.7h0.9M274.7 56.4h0.9M272.8 58.7h0.9M267.9 51.7h0.9M259.4 53.8h0.9M256.4 68.5h0.9M261.4 68.5h0.9M274.8 64.5h0.9M245.9 62.2h0.9M263.7 79.5h0.9M272.5 78.6h0.9M260.9 74.6h0.9M249.7 83.2h0.9M267 72.7h0.9M259.5 66.7h0.9M256.8 73.5h0.9M250.8 78.9h0.9M268 92.9h0.9M262.6 64.8h0.9M264.8 66.5h0.9M262 51.3h0.9M252.8 58.5h0.9M260.3 50.2h0.9M252.3 62.2h0.9M269.8 63.5h0.9M269.2 78.9h0.9M270.1 60.4h0.9M259.3 41.2h0.9M256.7 72.2h0.9M253 84h0.9M276.2 61.1h0.9M271.5 47.2h0.9M253.4 61.1h0.9M263.1 63.5h0.9M255.1 92.1h0.9M265.7 69.8h0.9M269.3 68.3h0.9M260.9 58.6h0.9M248 85.8h0.9M254.5 43.9h0.9M255.6 44.7h0.9M281.3 70.8h0.9M275.9 85.3h0.9M268.2 73.6h0.9M256.4 64.9h0.9M257.4 66.6h0.9M256.6 82.8h0.9M270 64.6h0.9M247.6 75.1h0.9M271.1 65.1h0.9M251.4 71.7h0.9M272.6 40.6h0.9M268.2 41.9h0.9M263.7 89.2h0.9M263.8 72.4h0.9M260 65.9h0.9M284.6 83.7h0.9M260.1 60.9h0.9M263.2 95.1h0.9M264.9 80.7h0.9M259.7 49.1h0.9M275.1 65h0.9M255.8 56.8h0.9M256.8 58h0.9M248.9 81.9h0.9M266.5 78.9h0.9M259.8 70.6h0.9M264.5 81.6h0.9M270.5 70.7h0.9M257 50.1h0.9M255.7 57.6h0.9M258.1 49.6h0.9M278.2 69.6h0.9M244.5 51.6h0.9M250.7 69.2h0.9M272.8 53h0.9M268.7 62.3h0.9M273.5 84h0.9M265.8 75.5h0.9M263 61.1h0.9M252.4 70.3h0.9M262.4 60.9h0.9M262.3 63.6h0.9M253.5 59h0.9M273.4 62.9h0.9M275.7 50.8h0.9M250.6 67.7h0.9M270.1 57.3h0.9M268.7 78.3h0.9M272.8 64.5h0.9M262.5 44.3h0.9M263.2 69.7h0.9M275.9 49.3h0.9M255.3 52.8h0.9M271.2 32.7h0.9M253.1 93.1h0.9M269 48.5h0.9M262.5 77.1h0.9M268 63.1h0.9M255.8 76.9h0.9M262.9 76.6h0.9M266.6 59.9h0.9M276.1 59.4h0.9M266.9 57.7h0.9M260.9 62.7h0.9M257 69.1h0.9M274.9 90.4h0.9M276.1 63.7h0.9M276.2 71.5h0.9M279.3 49.5h0.9M276.5 58.1h0.9M273.5 59.9h0.9M271.3 62.3h0.9M245.9 53.3h0.9M260.8 66.3h0.9M242.7 50.3h0.9M256.4 63.2h0.9M265 55.2h0.9M249.2 70h0.9M260 77.6h0.9M258.2 74.5h0.9M254.9 69.5h0.9M263.8 71.9h0.9M254.5 64.4h0.9M255.3 63.9h0.9M263.3 75.4h0.9M264 80.9h0.9M267.2 79.7h0.9M266.2 97.4h0.9M275.5 43.7h0.9M265.7 67h0.9M243 54.8h0.9M258.9 56.4h0.9M264.2 42.6h0.9M269.8 76.2h0.9M266.2 61.7h0.9M263.1 60h0.9M273.4 72.7h0.9M281.1 61.3h0.9M276.2 58.5h0.9M261.5 52.4h0.9M267.8 65.3h0.9M268.7 85.5h0.9M262.5 71h0.9M271.2 65.3h0.9M258.1 70.7h0.9M267.6 76.3h0.9M270.6 57.4h0.9M267.1 82.1h0.9M258.9 70.8h0.9M257.5 68.3h0.9M278.7 68.3h0.9M254.3 70.6h0.9M265 80.6h0.9M250.7 54.1h0.9M262.4 45.8h0.9M273.3 39.7h0.9M255.6 46.8h0.9M257.1 76.5h0.9M268.5 78.2h0.9M268.5 39.6h0.9M265.8 42h0.9M258.5 61h0.9M258.2 72.5h0.9M255.8 88.7h0.9M268.5 81.5h0.9M269.9 77.7h0.9M262.7 91.7h0.9M253.6 72.1h0.9M263.1 63.2h0.9M265.9 56.3h0.9M270.9 76.3h0.9M264 75.7h0.9M253.7 42.5h0.9M257.8 63h0.9M285.6 63.1h0.9M272.4 77.1h0.9M282.1 67.6h0.9M269 63.6h0.9M255.3 53h0.9M256 84.7h0.9M265.7 64.1h0.9M263.2 58.8h0.9M262.8 65.6h0.9M269 78h0.9M248.3 69.1h0.9M275.5 52.8h0.9M260.8 68.3h0.9M273 73.9h0.9M261.1 72.6h0.9M272.4 71.2h0.9M279.8 71.6h0.9M253.6 55.9h0.9M261.9 63.4h0.9M268.7 70.7h0.9M278.6 76.7h0.9M276.5 56.2h0.9M259.3 75.1h0.9M263.9 74.3h0.9M265.4 58.1h0.9M278.5 81h0.9M249.1 58.2h0.9M263.3 75h0.9M262.5 48.5h0.9M270.6 63.5h0.9M274 70.1h0.9M272.2 77.1h0.9M271.1 59.6h0.9M272.4 68.9h0.9M251.9 61.1h0.9M260.1 72.3h0.9M269.3 51.8h0.9M269.7 65.4h0.9M253.7 77.1h0.9M256.3 50.8h0.9M270 78h0.9M257.3 80h0.9M272.2 59.6h0.9M281.2 65.6h0.9M265.2 35.4h0.9M268.9 58.3h0.9M267.2 44.1h0.9M273.6 85.2h0.9M280.2 28h0.9M268.5 70.8h0.9M236.1 56.9h0.9M262.5 84.9h0.9M255.8 69.1h0.9M262.8 71.2h0.9M259.7 78h0.9M272 48.8h0.9M273.4 56.8h0.9M260.9 81.1h0.9M264.2 74h0.9M270.4 74.3h0.9M258.5 54.2h0.9M269.5 76.4h0.9M266.6 64.1h0.9M271.1 66.2h0.9M251.1 70.3h0.9M268 76.7h0.9M255.4 56.9h0.9M266.4 60.9h0.9M262.9 78.8h0.9M267 90.4h0.9M266.1 88.9h0.9M273.1 99.8h0.9M263.7 65.7h0.9M275.3 60.2h0.9M259.5 70.1h0.9M267 48.8h0.9M265.9 63h0.9M263.4 69.3h0.9M262 80.9h0.9M268.1 64.7h0.9M264.4 80.6h0.9M270.8 83.5h0.9M262.6 69h0.9M281.8 66.7h0.9M278.9 78.1h0.9M260 49.2h0.9M269.6 58.2h0.9M257.6 44.9h0.9M274.5 68.6h0.9M264.1 72.4h0.9M266.1 68.6h0.9M268.5 63.8h0.9M240.9 76.9h0.9M267.7 67.7h0.9M278.1 49.3h0.9M238.1 86.6h0.9M267.6 46.1h0.9M260.3 75.4h0.9M253.1 74.5h0.9M282.9 85.3h0.9M263.7 71.5h0.9M255.5 69.1h0.9M261 54.5h0.9M251.9 92.3h0.9M264.7 54.2h0.9M260.2 86.6h0.9M278.4 59.4h0.9M265.7 78.9h0.9M260.8 52.2h0.9M255.2 67.5h0.9M257 50.6h0.9M261.8 79.4h0.9M270 64.4h0.9M281 57.2h0.9M263.2 49.7h0.9M270.9 65.7h0.9M248.9 56.6h0.9M280 76.6h0.9M264.9 78.5h0.9M249.6 56.6h0.9M252 56.6h0.9M260.5 74.1h0.9M272.9 79.9h0.9M287.9 60.9h0.9M263.7 73.8h0.9M256.5 63.5h0.9M267.5 55.8h0.9M268.1 83h0.9M253.9 37.7h0.9M264.6 53.8h0.9M265.4 61.4h0.9M266.5 81.8h0.9M271.1 62.6h0.9M253.4 35.1h0.9M244.4 56.9h0.9M264.6 58.3h0.9M258.4 46.4h0.9M248.9 44.7h0.9M269.2 41.3h0.9M269.6 55.1h0.9M268.3 69.8h0.9M270.2 81.9h0.9M256.4 54h0.9M259.4 56.4h0.9M269.2 64.9h0.9M263.3 71.7h0.9M258.9 80.4h0.9M246.7 69.2h0.9M267.6 56.2h0.9M256.9 77.8h0.9M260.2 41.3h0.9M251 79.1h0.9M255.2 83h0.9M275.3 63.4h0.9M267.9 55.3h0.9M259.4 57h0.9M268.3 49.4h0.9M261.8 66.6h0.9M267.6 38.5h0.9M247 54.6h0.9M261 67.7h0.9M264.7 92h0.9M268.8 73.5h0.9M258.6 76h0.9M269.1 74.5h0.9M261.9 73.9h0.9M276.5 55.6h0.9M243.6 76.4h0.9M269.5 62.9h0.9M258.9 101.5h0.9M258.7 50.1h0.9M258.6 72.3h0.9M257.4 60.8h0.9M265.6 60.3h0.9M264 65.3h0.9M253.4 66.7h0.9M252.5 77.8h0.9M254.5 62.7h0.9M246.6 60h0.9M251.7 85h0.9M261.8 72.5h0.9M247.2 49.8h0.9M261.3 48.2h0.9M273 60.5h0.9M264.1 69.6h0.9M261.5 75.7h0.9M256.8 70.4h0.9M273.5 68.4h0.9M263.9 61.4h0.9M263.3 74.4h0.9M260.6 44.1h0.9M264.2 63.8h0.9M267 66.2h0.9M276.8 50.2h0.9M254.2 74h0.9M253.6 69.8h0.9M262.6 40.5h0.9M268.7 83.2h0.9M264.6 47.7h0.9M269.7 52.3h0.9M261.7 70.9h0.9M255.8 44h0.9M261.5 65.1h0.9M255.2 55.7h0.9M269.3 64.5h0.9M258.6 58h0.9M264.2 66.8h0.9M261.2 47.9h0.9M259.4 57.6h0.9M263.3 80.3h0.9M271.1 73.7h0.9M263.7 61.5h0.9M265.7 59.5h0.9M259.7 54.9h0.9M262.2 64.6h0.9M278.9 72.6h0.9M259.4 75.4h0.9M258.5 78.3h0.9M269.5 102.2h0.9M253.2 64.6h0.9M261.7 69.3h0.9M268.9 53.2h0.9M256.3 69.4h0.9M271.2 51.4h0.9M249.1 80h0.9M270 79.2h0.9M254.2 63h0.9M264.7 71.1h0.9M261.7 64.9h0.9M271.5 60.1h0.9M257.9 60.1h0.9M258.3 67.2h0.9M260.9 60.1h0.9M275 69.3h0.9M259.8 81.4h0.9M257.9 65.5h0.9M261.9 58.4h0.9M259.4 66.6h0.9M250.3 60.7h0.9M264.9 69h0.9M265.3 94.8h0.9M268.4 63.8h0.9M261.6 65.5h0.9M266.4 61.9h0.9M275.7 51.8h0.9M268.1 71.8h0.9M252.9 73.3h0.9M267.5 57.6h0.9M282.6 74.4h0.9M259.9 59.6h0.9M256.3 68.7h0.9M263.2 48h0.9M253.8 56.7h0.9M259.2 61h0.9M257 73.5h0.9M270.8 66.4h0.9M243.9 63.6h0.9M267.5 64.5h0.9M265 66.8h0.9M249.9 34.2h0.9M268 59.1h0.9M266.2 61.7h0.9M261.2 82.4h0.9M252.4 65.4h0.9M253.3 66.4h0.9M266.7 73.5h0.9M263.9 48.5h0.9M264.7 76.5h0.9M271.2 91.9h0.9M267.5 52.9h0.9M258.2 66.5h0.9M271.6 51.4h0.9M270.5 73.5h0.9M255.2 73h0.9M256.1 65.4h0.9M260.1 68.4h0.9M252.6 72h0.9M244.1 60.5h0.9M257.8 85h0.9M267.2 59.5h0.9M255 65.9h0.9M257.3 93.1h0.9M239 66.3h0.9M241.7 78.3h0.9M255.8 85.3h0.9M258 78.9h0.9M264.4 80.1h0.9M262.9 28.8h0.9M256.5 46.3h0.9M270.7 72.1h0.9M262.7 71.1h0.9M264.3 58.5h0.9M279.4 68.5h0.9M261 47.4h0.9M257.4 65.7h0.9M261.1 59.6h0.9M262.2 51.6h0.9M262.7 46.4h0.9M255.3 56.4h0.9M270.1 71.5h0.9M263.3 51.3h0.9M259.2 75.4h0.9M273.4 47.3h0.9M259 66.8h0.9M265.7 65.6h0.9M268.4 47.7h0.9M276 51.4h0.9M263.2 72h0.9M272.7 76.7h0.9M270.2 81.4h0.9M261.4 74.9h0.9M275.9 56.2h0.9M250.7 53.2h0.9M274.8 81h0.9M259.7 68.7h0.9M266.8 78.6h0.9M246.6 58.7h0.9M260.5 69.6h0.9M263.4 61.8h0.9M265.3 33.8h0.9M289.2 75.9h0.9M270.4 57.6h0.9M266.4 91.2h0.9M278.4 66.7h0.9M252.2 67.8h0.9M260.2 76.3h0.9M251.8 63.4h0.9M265.2 60h0.9M271.9 51.7h0.9M252.2 61.4h0.9M270 62h0.9M257.8 75.8h0.9M264.8 59.2h0.9M263.9 62.8h0.9M268.1 67.6h0.9M256 59.8h0.9M259.3 70.4h0.9M266.1 55.4h0.9M261.2 69.6h0.9M272.3 68.9h0.9M279.6 66.1h0.9M269.2 61.7h0.9M254.3 67.1h0.9M267 69.8h0.9M264.1 61.6h0.9M255.8 62h0.9M266.9 77.7h0.9M234.5 73.3h0.9M272.2 81.5h0.9M266.1 74.1h0.9M259 64.7h0.9M267.4 52.1h0.9M256 68.2h0.9M251.3 66.4h0.9M250 68.2h0.9" stroke="#000" stroke-width="0.9" stroke-opacity="0.55"/><path d="M270 35.5h0.9M265.4 36h0.9M259.2 36.8h0.9M270.5 49.1h0.9M267.5 38.5h0.9M276.6 53.2h0.9M267.6 47.9h0.9M275.5 43.8h0.9M265.2 32.6h0.9M272.7 57.7h0.9M269 51.9h0.9M279 30.3h0.9M267 51.4h0.9M274.6 44.1h0.9M269.9 44.7h0.9M266.9 59.1h0.9M264.4 26.1h0.9M270.6 50.9h0.9M267.5 39.4h0.9M265 39.3h0.9M265 32.1h0.9M262.8 35.6h0.9M278.8 39.4h0.9M270.8 57h0.9M266.9 32.2h0.9M272.4 30.4h0.9M271.5 48.7h0.9M264.7 35.8h0.9M278.1 31.7h0.9M266.6 41.7h0.9M268.4 33.3h0.9M277.6 35.4h0.9M271.5 36.7h0.9M268.8 29.3h0.9M274.4 36.5h0.9M276 30.9h0.9M267.6 43.5h0.9M270.4 34.8h0.9M269.2 29.9h0.9M270.2 19.4h0.9M270.7 50.3h0.9M274.2 46.4h0.9M267.9 43.6h0.9M268 39.1h0.9M269.4 13.9h0.9M274.3 43.3h0.9M274 32.5h0.9M273.2 43.5h0.9M259.2 26.3h0.9M270.2 34.7h0.9M269.8 34.9h0.9M277.1 25.2h0.9M263.3 32.3h0.9M263.3 35.4h0.9M269.8 29.5h0.9M271.7 50h0.9M275.2 55.3h0.9M275.4 39.6h0.9M278.5 45.3h0.9M278.9 38.4h0.9M259.8 30.9h0.9M270.8 44.1h0.9M268.9 47.6h0.9M264.4 34.5h0.9M274.7 40.3h0.9M270.4 50.8h0.9M275.2 33.8h0.9M270.9 26.8h0.9M269.9 43h0.9M261.6 52h0.9M279.6 43.8h0.9M274.4 51.5h0.9M269.1 48h0.9M271.8 28.2h0.9M265.6 35.6h0.9M275.1 40.8h0.9M274.7 36.4h0.9M263.8 55.9h0.9M283.1 43h0.9M269.1 49.2h0.9M264.7 38.4h0.9M263.1 43.7h0.9M271.2 36.9h0.9M266.9 28.3h0.9M266 49.5h0.9M268.3 49.7h0.9M265.8 39.4h0.9M267.8 38h0.9M273.7 24.2h0.9M273.6 45.4h0.9M270 40.6h0.9M268.9 45.3h0.9M270.3 33.5h0.9M270.7 47.4h0.9M271.8 40.2h0.9M271 36.2h0.9M267.8 25.5h0.9M269.1 47.6h0.9M268.1 33.1h0.9M274.3 41.3h0.9M270.7 43.6h0.9M273.4 39.7h0.9M266 53.4h0.9M270.3 34.1h0.9M270.9 49.2h0.9M263.2 50.1h0.9M269.4 55.3h0.9M273.2 39.2h0.9M276 49.8h0.9M268.3 41.8h0.9M267.6 47.1h0.9M263.3 38.7h0.9M259.8 44.5h0.9M259.4 31.9h0.9M271.3 37.3h0.9M267.9 32.6h0.9M267.8 26.6h0.9M271.6 46.2h0.9M273.7 39.7h0.9M275.9 43.6h0.9M274.6 43h0.9M270.2 34.2h0.9M257.5 44.9h0.9M269.5 55.2h0.9M260.6 46.5h0.9M265.5 40h0.9M265.8 42.7h0.9M269.9 46.7h0.9M270.7 43.7h0.9M276.1 44h0.9M269.4 49.5h0.9M269.5 43.2h0.9M268.5 35h0.9M255.7 45.3h0.9M264.5 45.6h0.9M278.6 30h0.9M274.2 39.3h0.9M272.2 31h0.9M270.2 41.2h0.9M276.8 56.4h0.9M271.5 37.3h0.9M280.6 39.3h0.9M269.8 40.8h0.9M272.3 45.5h0.9M267.3 39.2h0.9M279 52.3h0.9M272.2 42.2h0.9M269 47.9h0.9M267.6 41h0.9M267.9 35.4h0.9M270.3 40.2h0.9M267.3 39.6h0.9M270.4 36.6h0.9M267 39.1h0.9M273.4 48.5h0.9M271 38.1h0.9M269.9 54.7h0.9M274.4 32.9h0.9M269.8 36.1h0.9M268.3 27.3h0.9M270.2 29.8h0.9M267.3 51.7h0.9M274.8 33.5h0.9M265.2 33.2h0.9M261.1 32.7h0.9M268.8 32.2h0.9M273.7 39.7h0.9M267.6 53.5h0.9M273.5 40.7h0.9M278.9 50.1h0.9M266.7 42.6h0.9M268 29.2h0.9M279.1 51.6h0.9M264 43.9h0.9M262.3 48.3h0.9M269.8 37.9h0.9M276.1 40.2h0.9M268.9 47.1h0.9M268.6 46.8h0.9M270.1 46.5h0.9M273.1 46.2h0.9M265.3 54.5h0.9M269.3 53.6h0.9M267.2 38.1h0.9M268.8 49h0.9M268.1 43.3h0.9M262.6 36.5h0.9M271.2 39.3h0.9M261.1 44h0.9M265.5 55h0.9M269.2 57.5h0.9M273.3 43.7h0.9M267.8 39.3h0.9M272.3 25.2h0.9M274.9 31.1h0.9M268.9 19.1h0.9M272.3 45.9h0.9M271.5 42.6h0.9M268.3 41.3h0.9M275.9 36.9h0.9M272.5 45.8h0.9M269 42h0.9M271.1 36.3h0.9M281.8 36.8h0.9M278.4 48.4h0.9M260.3 42.1h0.9M275.1 46.5h0.9M265.7 42.1h0.9M264.3 32.1h0.9M268.9 41.6h0.9M277.9 42.9h0.9M275.2 30.8h0.9M264.5 36.4h0.9M278.6 29.8h0.9M262.4 39.5h0.9M275.8 27.5h0.9M268.9 29.6h0.9M277.1 45.5h0.9M271.4 39.8h0.9M268.9 41.2h0.9M266.9 33.3h0.9M264.7 40.2h0.9M266.2 46.9h0.9M259.9 44.5h0.9M272.7 49.6h0.9M268.8 28.4h0.9M265.6 48.9h0.9M268.6 36.9h0.9M267.2 39.6h0.9M269 28h0.9M267.2 47.9h0.9M277.1 39.1h0.9M267.5 50.6h0.9M269.2 30.9h0.9M269.4 45.5h0.9M277.6 36.3h0.9M272.7 37.5h0.9M275.6 42.1h0.9M271.3 32.4h0.9M268.5 37.6h0.9M252.5 46.7h0.9M270 38.5h0.9M268.3 40.3h0.9M271.2 29.9h0.9M270.7 41h0.9M270.2 28.5h0.9M269.4 30.1h0.9M271.7 50.3h0.9M274.3 37.4h0.9M267.4 35.7h0.9M271.7 34.9h0.9M267.4 20.6h0.9M265.9 34h0.9M267.4 49.5h0.9M263.4 29.7h0.9M273 32.4h0.9M269.2 41.4h0.9M270.1 34h0.9M274.5 51.7h0.9M265.2 37.9h0.9M274.6 38.4h0.9M265.2 36.7h0.9M274.1 32.3h0.9M271.3 43h0.9M266.9 44.4h0.9M273.3 47.8h0.9M274.6 28.5h0.9M274.4 44.6h0.9M274.8 33.4h0.9M274.4 42.9h0.9M264.4 49.9h0.9M266.2 32.2h0.9M272 35.4h0.9M271.8 38.1h0.9M271.4 46.4h0.9M269.9 46.8h0.9M274.2 33.6h0.9M274.2 44.9h0.9M270.7 48.7h0.9M278.1 46h0.9M262.9 43.5h0.9M269.4 38h0.9M271.7 37.5h0.9M278 42.2h0.9M270.2 46.2h0.9M273.9 49.3h0.9M273.1 39.8h0.9M270.7 23.4h0.9M263 48.2h0.9M268.5 54.2h0.9M278.8 30.4h0.9M271.6 62.5h0.9M266.3 43.2h0.9M269 38.3h0.9M268.7 40h0.9M273.8 33.9h0.9M272.5 34.7h0.9M272.6 42.6h0.9M266.3 41.2h0.9M266.5 33.6h0.9M275.7 26h0.9M272.8 45.6h0.9M267.2 48.6h0.9M274.5 30.1h0.9M272.6 43.8h0.9M266.5 44.6h0.9M273.7 34.5h0.9M260.4 43.3h0.9M266.5 26.8h0.9M268.2 21.6h0.9M268.4 51.8h0.9M256.3 43.7h0.9M265.6 36.9h0.9M265.7 45.1h0.9M270 34.1h0.9M263.7 36.8h0.9M275.7 30.7h0.9M272.1 42.8h0.9M260.4 48.7h0.9M269.9 57.5h0.9M278.5 38.2h0.9M269.3 32.3h0.9M263.4 46.3h0.9M268.9 37h0.9M269.3 45.4h0.9M274.7 40.1h0.9M269.1 40.9h0.9M280.2 23.9h0.9M264.4 43.9h0.9M270.8 49.8h0.9M276.5 55.6h0.9M266.2 45h0.9M268.9 47.8h0.9M271 47.1h0.9M266.5 41.5h0.9M267.6 38.1h0.9M267.9 32.1h0.9M275.6 42.5h0.9M275.5 32.4h0.9M260.5 35.1h0.9M269.4 46.4h0.9M275.3 49.8h0.9M277.7 45.9h0.9M270.7 34.2h0.9M273.5 36.3h0.9M266.2 44.8h0.9M271.2 46.9h0.9M266.6 49.4h0.9M271.9 38.9h0.9M266.4 31.7h0.9M263.4 51.2h0.9M263.2 45.2h0.9M268.9 35.7h0.9M267.8 39.4h0.9M274.6 44.6h0.9M270.1 29.4h0.9M261.4 54.9h0.9M265.2 27.9h0.9M275.6 28.4h0.9M273.8 47.5h0.9M271.3 47.8h0.9M263.3 30.6h0.9M269.2 40.2h0.9M269.7 43.8h0.9M266.5 23.5h0.9M272.1 38.4h0.9M274.1 56.5h0.9M270.5 44.7h0.9M265.7 47.3h0.9M271.8 42.1h0.9M274.6 31.3h0.9M272.9 43.8h0.9M277.9 26h0.9M269.7 57.4h0.9M268.1 36.7h0.9M278.9 59.9h0.9M270.7 34.6h0.9M267.2 37.1h0.9M266 33.8h0.9M271 40.5h0.9M272.4 40.4h0.9M264.2 46h0.9M271.3 35.6h0.9M268.8 42.7h0.9M270.5 39.1h0.9M273.9 48.5h0.9M268.6 40h0.9M264.7 38.8h0.9M272.4 46.9h0.9M270.9 39.5h0.9M266.6 41.8h0.9M264.7 41.2h0.9M270.2 33h0.9M271.7 38.5h0.9M273 36.4h0.9M272.5 52.4h0.9M271 46.3h0.9M266.9 37.4h0.9M260.8 39h0.9M264.6 41h0.9M260 33.4h0.9M270.5 43.2h0.9M262 36.9h0.9M282.6 46.3h0.9M270.9 18.5h0.9M265.6 44.2h0.9M271.2 43.7h0.9M274.8 40.9h0.9M274.2 26.1h0.9M282.3 37.8h0.9M266.9 51.9h0.9M273 47.7h0.9M267 42.3h0.9M273.5 31.2h0.9M269 38.2h0.9M268.6 34.6h0.9M263.9 43.5h0.9M271.3 49.1h0.9M269.7 34.8h0.9M263 40.8h0.9M268.5 55.9h0.9M281.3 52.4h0.9M265.6 29.2h0.9M268.9 33.1h0.9M277 41h0.9M268.1 40h0.9M276.2 32.7h0.9M272.4 29.7h0.9M269 34.9h0.9M271.6 41.3h0.9M275.9 45.4h0.9M267.1 29.7h0.9M266.1 36.7h0.9M268.9 34.1h0.9M275.3 47.4h0.9M268.7 36.2h0.9M268.9 39.7h0.9M269.9 27.4h0.9M267.9 25.4h0.9M270.2 45.3h0.9M264.8 41.3h0.9M267 34.6h0.9M279.6 47h0.9M272.4 36.6h0.9M272 38.5h0.9M272.3 33h0.9M269.7 37h0.9M263.1 53.3h0.9M274 33.9h0.9M262.8 34.4h0.9" stroke="#000" stroke-width="0.9" stroke-opacity="0.6"/><path d="M248.3 87.3h0.9M242 85.5h0.9M256.6 95.3h0.9M237.6 92h0.9M246.8 83.9h0.9M253.1 86.6h0.9M262.5 97.5h0.9M253.2 87h0.9M259.6 90.8h0.9M265.4 103.4h0.9M254.5 100.6h0.9M251.2 92.6h0.9M251.8 92.2h0.9M265.5 85h0.9M253.2 96.3h0.9M249.9 99.7h0.9M271.2 96.2h0.9M242.8 89.4h0.9M256.7 96.5h0.9M265.2 100.9h0.9M269.9 84.5h0.9M265.3 78.2h0.9M257.4 83.6h0.9M239.3 99.3h0.9M255.7 99.9h0.9M241.1 82.4h0.9M255.1 86.7h0.9M256.7 87.1h0.9M252.8 82.9h0.9M268.1 89.5h0.9M244.9 97.4h0.9M260.6 93.7h0.9M258.1 88.9h0.9M254.8 74.4h0.9M241.3 82.2h0.9M258.7 101.7h0.9M254.5 89.9h0.9M266.6 89.1h0.9M262.2 95.4h0.9M243.5 94.5h0.9M257.9 82.9h0.9M246.2 81.9h0.9M262.7 104.5h0.9M243.3 103.2h0.9M247.1 100.6h0.9M254.9 100.6h0.9M250 92.1h0.9M250.6 95.8h0.9M255.1 100.9h0.9M263.8 95.3h0.9M255.7 89.6h0.9M256.1 98h0.9M257.3 94.3h0.9M255.7 91.4h0.9M249.7 77.1h0.9M261.4 96.5h0.9M245 100h0.9M258.4 94.5h0.9M266.8 99.4h0.9M256.3 83.6h0.9M244.5 93.5h0.9M271 99h0.9M255.7 94.7h0.9M248.8 97.8h0.9M258.7 86h0.9M246.4 102.2h0.9M259.2 90.4h0.9M257 99.9h0.9M253.6 85.8h0.9M255 84.5h0.9M252.7 101.8h0.9M272.2 97.1h0.9M257.9 84.8h0.9M246.5 95h0.9M257.6 87.4h0.9M251.8 104.5h0.9M265.4 92.5h0.9M258.2 102.2h0.9M259.5 93.9h0.9M241.1 78.6h0.9M237.9 74h0.9M255.9 94.7h0.9M247.8 95.6h0.9M260.2 91.4h0.9M242.1 103.6h0.9M269.1 87.4h0.9M274.5 92.4h0.9M248.6 88.8h0.9M238.4 89.2h0.9M240.9 101.1h0.9M259.1 80.9h0.9M261.5 78.3h0.9M257.5 95.9h0.9M256.7 83h0.9M255 90.6h0.9M256.6 103.9h0.9M250 86.1h0.9M256.2 95.5h0.9M236.5 87.1h0.9M273 82.1h0.9M249 86.4h0.9M260.7 91.5h0.9M253 79.9h0.9M261.8 92h0.9M249.7 92.2h0.9M263.5 80.2h0.9M241.3 83.8h0.9M247.7 67.6h0.9M250.3 100.9h0.9M252.9 100.1h0.9M228.7 91.1h0.9M251.3 85.4h0.9M259.7 82.3h0.9M252.5 78.6h0.9M256.8 92h0.9M271.5 94.9h0.9M249.7 91.3h0.9M243.7 92.3h0.9M254 95.4h0.9M264.9 76h0.9M259.1 97.9h0.9M263.5 99.8h0.9M258.6 100.1h0.9M246.1 85.5h0.9M237.3 96.3h0.9M249.2 98h0.9M261.7 81.3h0.9M262.7 94.1h0.9M257.9 95.7h0.9M255.7 92.1h0.9M266 84h0.9M244.6 85.9h0.9M265.9 89.4h0.9M274.2 67.3h0.9M249.2 88.4h0.9M258.6 102.7h0.9M254.2 83.8h0.9M264 104.4h0.9M231.7 96.6h0.9M258.8 85.3h0.9M251.5 94.3h0.9M256.3 90h0.9M244.9 94.3h0.9M249.7 92.7h0.9M250.4 93.6h0.9M263.1 93.9h0.9M262.3 80.9h0.9M260.4 94.3h0.9M250 90.7h0.9M229.3 92.6h0.9M252.1 73.8h0.9M260.8 86.9h0.9M258.6 90.1h0.9M260.6 92.7h0.9M253.2 95.9h0.9M263.9 73.8h0.9M256.2 87.2h0.9M245.4 102.4h0.9M265.1 83.7h0.9M245.3 98.5h0.9M250 89.3h0.9M237.2 90.9h0.9M266.7 88.3h0.9M264.3 103.4h0.9M261.9 101.6h0.9M240.1 85.4h0.9M257.7 90.9h0.9M248.8 83.8h0.9M255.1 92.4h0.9M242.6 91.5h0.9M259.5 91.3h0.9M261.8 85.2h0.9M259 99.1h0.9M261.3 95h0.9M254.9 84h0.9M261.2 88.8h0.9M246.9 98.1h0.9M240.6 87.5h0.9M263.3 99.5h0.9M252.4 92.4h0.9M261.1 91.4h0.9M248.6 95.4h0.9M257.5 92.8h0.9M266.5 94.4h0.9M251.6 93.2h0.9M274.4 86.2h0.9M253.4 85.5h0.9M259.3 81.8h0.9M260.2 98h0.9M248.6 85.1h0.9M241.8 92.3h0.9M245.3 86.9h0.9M251.9 86.4h0.9M235.7 85.4h0.9M258.3 83.5h0.9M250.8 93.6h0.9M269.2 101.3h0.9M253.2 93h0.9M252.5 90.5h0.9M244.8 77.8h0.9M252.4 99.8h0.9M263.2 77h0.9M254.1 86.9h0.9M258.7 83.2h0.9M264.6 90.3h0.9M261.4 99h0.9M237.5 90.2h0.9M270.3 92.1h0.9M265.9 95.3h0.9M251.2 94.2h0.9M265.9 102.3h0.9M269.7 83.1h0.9M263.8 81h0.9M254.7 90.3h0.9M261.9 94.5h0.9M267.8 87.1h0.9M264 95.1h0.9M256 82.4h0.9M261.4 94.5h0.9M263.4 91.7h0.9M253.5 95.1h0.9M260.4 97.5h0.9M273.9 87h0.9M275 68.3h0.9M265.1 85.4h0.9M275 84.9h0.9M266 84.1h0.9M245.2 98.4h0.9M264.2 86.4h0.9M278.8 89.4h0.9M270.8 83.9h0.9M246.8 92.7h0.9M246.4 95.6h0.9M235.6 93.4h0.9M250.6 84.3h0.9M258 90.2h0.9M251.7 98.4h0.9M258.8 95h0.9M268.6 91.4h0.9M263.9 88.6h0.9M261.7 96.2h0.9M250.8 79.9h0.9M243.9 84.5h0.9M261.2 90.9h0.9M253.2 95.8h0.9M262.9 103.1h0.9M250.3 96.4h0.9M262.7 84.4h0.9M257.2 84.7h0.9M253.8 95.3h0.9M239.9 85h0.9M248.3 92.7h0.9M249 95h0.9M247.9 87.9h0.9M261.7 94.5h0.9M257.4 91.7h0.9M265.5 102.9h0.9M252.5 86.2h0.9M247.5 81.5h0.9M258.5 100.3h0.9M244.3 91h0.9M242.4 86.4h0.9M271.4 93.3h0.9M253.5 92.5h0.9M258.6 91.2h0.9M244.8 82.6h0.9M275 85.9h0.9M267.3 86.3h0.9M268.3 97.5h0.9M247.2 90.1h0.9M247.9 85.8h0.9M252.6 84.4h0.9M239.6 82h0.9M247 88.3h0.9M265.5 97.7h0.9M260.5 93.6h0.9M278.6 83h0.9M245.1 91.8h0.9M257.9 90.1h0.9M248 81.6h0.9M253.4 86.4h0.9M251.4 83.4h0.9M268.6 95.6h0.9M273.5 87.9h0.9M256.5 90h0.9M256.2 90h0.9M254.4 76.3h0.9M253.4 97.5h0.9M237.6 89.2h0.9M261.4 102.1h0.9M255.2 95.6h0.9M272.5 102.3h0.9M251.7 87.2h0.9M265.6 93.8h0.9M250.9 90.2h0.9M259 90.4h0.9M253.6 90.1h0.9M267.5 104h0.9M254.7 93h0.9M261.4 98.5h0.9M238.7 94.8h0.9M246.6 91.4h0.9M261.1 91.8h0.9M269.1 91.4h0.9M249.2 90.5h0.9M252.5 92.4h0.9M263.9 91.1h0.9M255.4 100h0.9M258.7 99.5h0.9M257.3 81.7h0.9M245.4 78.8h0.9M266.7 95.3h0.9M251.5 84.1h0.9M259.4 90.9h0.9M259 85.3h0.9M245.5 104.5h0.9M247 91.8h0.9M268.6 77.5h0.9M262.6 92.5h0.9M254.6 94.1h0.9M244.8 74.4h0.9M273.8 89.7h0.9M264.4 100.8h0.9M258.7 95.6h0.9M262.7 104.5h0.9M260.6 102h0.9M253.3 88.7h0.9M256.8 95.2h0.9M263.9 92.5h0.9M274.7 94.6h0.9M259.4 95.9h0.9M252.9 83.4h0.9M257.3 89.6h0.9M247.9 93h0.9M254.2 87.3h0.9M239.3 90.7h0.9M272.5 99h0.9M266.2 91.8h0.9M265.9 86.7h0.9M251.7 96.1h0.9M242.6 92.5h0.9M249.5 95.4h0.9M249.9 87.7h0.9M230.7 84.6h0.9M266.8 96.1h0.9M261.1 82.2h0.9M254.1 91.6h0.9M271.1 84.9h0.9M260 99.8h0.9M248.4 92.7h0.9M237.2 92.8h0.9M235.3 89h0.9M272.2 95.3h0.9M256.5 93.2h0.9M276.3 96.4h0.9M265.8 88.6h0.9M252 83.8h0.9M254.4 86.5h0.9M265.3 97.1h0.9M254.9 87.7h0.9M228.9 87.4h0.9M258.9 97.3h0.9M227.1 73.1h0.9M257.5 83.9h0.9M254 88.3h0.9M261.6 77.3h0.9M250.7 99.5h0.9M258 85.5h0.9M260.3 94.3h0.9M247.7 97.5h0.9M262.4 91h0.9M264.9 82.8h0.9M263.2 90.5h0.9M247.2 87.3h0.9M267 87.7h0.9M252.8 86.9h0.9M248.6 99.6h0.9M276.8 102.6h0.9M260.8 98h0.9M252.8 88.1h0.9M245 103.4h0.9M252.9 86.4h0.9M250.1 93.6h0.9M250.9 92.2h0.9M257.6 102.6h0.9M244.4 94.4h0.9M249.5 88.7h0.9M271.3 97h0.9M252.4 95.9h0.9M255.9 100.8h0.9M251.5 95.9h0.9M254.1 92.1h0.9M254.6 87.2h0.9M257.1 99.8h0.9M250.4 89h0.9M259.5 86.1h0.9M264.2 97.7h0.9M234.6 86.9h0.9M246 98.6h0.9M264.9 82.6h0.9M249.7 91.4h0.9M252.6 97.8h0.9M265.3 96.7h0.9M266.3 99.5h0.9M255.4 88.7h0.9M249.2 98.5h0.9M264.4 100.1h0.9M253 89h0.9M258.6 102h0.9M259.5 93.9h0.9M248.4 95.6h0.9M261.2 84.6h0.9M272.6 84.9h0.9M264.8 90.5h0.9M257.6 85.9h0.9M250.8 97.6h0.9M254.3 89.4h0.9M264.4 97.7h0.9M257.7 93.9h0.9M272.2 90.8h0.9M259.8 95.5h0.9M243 76.9h0.9M257.3 98.9h0.9M258 87.9h0.9M250 98.5h0.9M253.4 79.4h0.9M262.5 94h0.9M259.7 100.3h0.9M268.5 96.5h0.9M254.5 75.4h0.9M258.9 90.9h0.9M268.5 102.2h0.9M260.6 102.9h0.9M255.4 91.8h0.9M248.2 89.7h0.9M258.1 100.4h0.9M249.3 98.4h0.9M278 81.5h0.9M253.7 92.3h0.9M267.7 91.8h0.9M248.2 91.7h0.9M255.8 94h0.9M247.8 104.1h0.9M249.4 97.5h0.9M258.1 83.5h0.9M256.7 92.3h0.9M254.4 98.5h0.9M266.7 84.9h0.9M232.8 102h0.9M258.5 92.7h0.9M247 80.7h0.9M271.1 87.7h0.9M273.7 77.4h0.9M262.6 97.6h0.9M248 88.5h0.9M246.3 92.4h0.9M268.4 99.9h0.9M260 100.9h0.9M255.6 81.6h0.9M252.5 86.9h0.9M256.9 94.5h0.9M234.1 102h0.9M272.3 83.8h0.9M270 102h0.9M242.9 97.8h0.9M246.9 82.3h0.9M266.6 97h0.9M256.3 93.1h0.9M249.3 87.6h0.9M250.6 91.4h0.9M256.1 81.8h0.9M258.9 81.9h0.9M253.1 90h0.9M253.7 103.8h0.9M271.5 100.6h0.9M271 89.7h0.9M269.4 91.6h0.9M258.2 94.2h0.9M243.3 87.1h0.9M254.5 94.9h0.9M254.8 85.2h0.9M245 92.1h0.9M244.8 82.6h0.9M255 93.4h0.9M248.1 77.8h0.9M258.7 98.5h0.9M252.1 89h0.9M233.9 99.2h0.9M245.6 97.8h0.9M250.4 90.9h0.9M254.2 77.6h0.9M282.1 79.5h0.9M257 85.5h0.9M253.8 103h0.9M238.3 90.9h0.9M260.7 93h0.9M259.8 86h0.9M240.4 81.5h0.9M252.1 97.9h0.9M257 93.5h0.9M257.9 78.1h0.9M261.5 83.1h0.9M244.3 92.9h0.9M258.8 93h0.9M256 87.5h0.9M274.9 76h0.9M246.3 103.9h0.9M261.2 85.9h0.9M247.5 90h0.9M281.1 95.9h0.9M246.2 93.9h0.9M250.1 104h0.9M258.8 102.1h0.9M259.9 94.2h0.9M246.3 88.6h0.9M259.7 88h0.9M279.6 91.9h0.9M248.8 99.9h0.9M251 95.3h0.9M255.1 86.2h0.9M269.2 92.7h0.9M266.3 89.3h0.9M242.4 82.1h0.9M251.1 90.5h0.9M256.5 96.1h0.9M244.2 93.8h0.9M244.4 86.5h0.9M280.4 102.2h0.9M269.5 99.1h0.9M269.9 90h0.9M254.8 85.1h0.9M261.5 82h0.9M251.2 95.7h0.9M251.2 94.8h0.9M273.3 84.1h0.9M269.3 86.5h0.9M247.1 93.8h0.9M265.8 86.3h0.9M249.1 88.5h0.9M249.2 93.5h0.9M249.2 90h0.9M259.4 88.7h0.9M267 86.6h0.9M270.3 92.6h0.9M263.9 94.7h0.9M251.2 97.4h0.9M258.9 102.3h0.9M238.5 98.5h0.9M257.6 86.5h0.9M251.9 88.8h0.9M243.4 87.4h0.9M263.4 79.9h0.9M252.4 73.1h0.9M250.5 95.1h0.9M255.5 92.4h0.9M245.4 96.6h0.9M247.4 99.3h0.9M258 88.9h0.9M270.1 88.8h0.9M265.7 92.8h0.9M256 100h0.9M260.2 91.9h0.9M254.9 93.7h0.9M256.8 89.4h0.9M246.2 71.3h0.9M254.9 90.1h0.9M267.5 95.6h0.9M255 85.3h0.9M263.8 87.2h0.9M253.6 103.5h0.9M261.3 100.8h0.9M243.2 92.3h0.9M266.6 81.8h0.9M257.9 95.2h0.9M249.2 90.9h0.9M272 77.7h0.9M260.4 88.4h0.9M256.4 85.5h0.9M269 83.1h0.9M259.5 96.4h0.9M255.2 89.8h0.9M253.5 100.2h0.9M260.3 91.4h0.9M245.7 93.3h0.9M261.1 91.8h0.9M269.7 76.7h0.9M279.7 90.6h0.9M245.2 78.1h0.9M264.3 96.6h0.9M254 91.6h0.9M257.6 88.6h0.9M267 97h0.9M254.9 78.9h0.9M269.1 88.2h0.9M246.2 102.4h0.9M260.8 75.9h0.9M240.2 88.9h0.9M244.1 90.8h0.9M255.7 98.5h0.9M264.5 91.1h0.9M242 100.7h0.9M254.4 95.7h0.9M262.8 85.6h0.9M272.1 92.7h0.9M258.2 88.6h0.9M262.8 100.2h0.9M250.8 96.8h0.9M252 82.2h0.9M253 97h0.9M261.3 100.7h0.9M249.7 89.7h0.9M256.8 97.1h0.9M255 84.5h0.9M241.4 101.5h0.9M266.3 86.8h0.9M270.2 91.6h0.9M260.4 102.2h0.9M251.5 85.9h0.9M239.6 94.6h0.9M260.4 99h0.9M261.9 93h0.9M267.1 83.9h0.9M259.9 96.2h0.9M260.3 102.9h0.9M264.7 90.7h0.9M274.6 101h0.9M256.3 91.2h0.9M246.3 90.9h0.9M253.9 93.8h0.9M252.1 96.7h0.9M255.4 79.4h0.9M251.3 84.9h0.9M244 90.1h0.9M264.9 83.2h0.9M237 90.8h0.9M284.7 87.4h0.9M258.8 88.8h0.9M264.4 103.7h0.9M254.7 101.7h0.9M245.8 93.8h0.9M244.1 93.7h0.9M250.3 94.1h0.9M245.5 94h0.9M257.3 87.6h0.9M248.5 82.6h0.9M252.4 95.4h0.9M254.9 93.4h0.9M268.3 89.6h0.9M259 98.8h0.9M261.1 95.3h0.9M255.5 89.1h0.9M269.7 92.5h0.9M264.2 96.2h0.9M257 97.4h0.9M262.1 93.3h0.9M272.7 89.2h0.9M276.4 94.4h0.9M254.5 79.4h0.9M241.3 79.8h0.9M264.2 97.2h0.9M238.9 91.7h0.9M259.5 80h0.9M265.4 81.6h0.9M267 93.8h0.9M249.6 79.3h0.9M253 91.4h0.9M255 87.4h0.9M254.2 99.2h0.9M247.6 90.5h0.9M260.6 92h0.9M252.9 93.9h0.9M228.2 89.4h0.9M262.6 83.2h0.9M268.9 77.1h0.9M269.1 88h0.9M246.5 88.3h0.9M253.7 84h0.9M243 88h0.9M265.2 95.4h0.9M269 87.3h0.9M252.8 89.5h0.9M257.5 95.8h0.9M272.9 97.8h0.9M257.7 103h0.9M248.7 81.6h0.9M262.5 93.5h0.9M257.3 99.6h0.9M253 91.2h0.9M259.8 97.3h0.9M265.5 93.1h0.9M258.7 72.7h0.9M267.8 79.5h0.9M253 79.4h0.9M271.5 87.6h0.9M254.6 90.8h0.9M263.1 98.3h0.9M254.9 101h0.9M247.5 97.5h0.9M250.2 97.7h0.9M249.7 88.6h0.9M270.1 83.1h0.9M244.9 96.7h0.9M253.5 88.6h0.9M246.2 89.9h0.9M257.7 84.5h0.9M255.7 95.9h0.9M247.4 101h0.9M245.2 90.9h0.9M239.4 94.3h0.9M280 87.3h0.9M266.4 93.8h0.9M242.4 95.2h0.9M247.6 92.7h0.9M241.8 97.9h0.9M233.1 90.7h0.9M268.3 96.2h0.9M252.7 90.1h0.9M255.5 91.9h0.9M249 88.2h0.9M261.8 87.1h0.9M248.4 87.6h0.9M252.7 93.4h0.9M251.4 90.5h0.9M248.9 101.9h0.9M256.9 89.5h0.9M258.8 91.6h0.9M241.1 90.6h0.9M271.7 96h0.9M267.2 86.6h0.9M241.9 86.4h0.9M268.8 84h0.9M248.5 100.8h0.9M253.6 90.4h0.9M259.6 92.7h0.9M253.1 94h0.9M249.2 91.7h0.9M262.2 83.5h0.9M254 82.9h0.9M263.1 96.9h0.9M265 100.3h0.9M265.7 97.7h0.9M248.6 99.5h0.9M258.7 96.7h0.9M244.3 100.6h0.9M267.1 79.4h0.9M250.7 88.2h0.9M249.8 103.1h0.9M276.6 83.5h0.9M266 89.9h0.9" stroke="#000" stroke-width="0.9" stroke-opacity="0.6"/><path d="M261.6 21.1h0.9M234.5 25.5h0.9M229.6 25.4h0.9M233.3 25.4h0.9M249.7 23.5h0.9M229.5 23.8h0.9M258.4 24h0.9M231 28h0.9M217.3 23.7h0.9M249.1 22.7h0.9M240.8 23.5h0.9M218.7 24.5h0.9M223.9 23.1h0.9M259.5 22.7h0.9M250 25.4h0.9M255.9 24.6h0.9M237.4 22.3h0.9M243.1 24.5h0.9M233.3 22.8h0.9M253.9 22.7h0.9M247.5 23.4h0.9M215.6 25.9h0.9M250 24.6h0.9M219.6 23.8h0.9M245 23.1h0.9M265.6 21.6h0.9M251.3 21.7h0.9M217.2 22.4h0.9M249.3 23.1h0.9M230.5 22.9h0.9M218.3 22.9h0.9M225.7 23.6h0.9M234.7 21.1h0.9M230.6 25.4h0.9M233.2 23.9h0.9M229.3 23.1h0.9M239 22.3h0.9M237.5 21.9h0.9M245 22h0.9M249.7 25.1h0.9M215.4 24.7h0.9M233.6 25.3h0.9M231.7 23.6h0.9M235.3 25.4h0.9M210.5 24.8h0.9M241 23.3h0.9M236 25h0.9M251.9 25.9h0.9M229.9 21.6h0.9M231.2 23.6h0.9M232.9 25.3h0.9M273.7 24.3h0.9M212.7 25.1h0.9M229.8 23.9h0.9M252 24.3h0.9M238.4 24.2h0.9M250.8 24.6h0.9M270.5 20.3h0.9M227.7 23.2h0.9M251.8 24.1h0.9M252.2 22.2h0.9M236.1 24.6h0.9M238.6 23.4h0.9M243.5 25.8h0.9M207.8 25.8h0.9M243.6 22.8h0.9M249.3 23.9h0.9M257.5 22.9h0.9M253.9 22.8h0.9M244.2 24.7h0.9M238.2 24.6h0.9M230.4 25.1h0.9M231.8 23h0.9M237.6 23.8h0.9M226.8 24.8h0.9M237.5 24.6h0.9M217 22.3h0.9M235.4 22.7h0.9M237.4 24.5h0.9M256.1 25.6h0.9M251.2 23h0.9M247.7 23.2h0.9M247.5 22.6h0.9M259.6 24.4h0.9M235.1 22.2h0.9M243.6 23.2h0.9M243.2 23h0.9M231.3 24.6h0.9M261.6 22.4h0.9M236.5 24.3h0.9M237.1 23.3h0.9M271.9 22.9h0.9M244.9 23.3h0.9M238 21.1h0.9M252.8 23.6h0.9M225 25.9h0.9M235.3 23.1h0.9M226.8 25.2h0.9M239.9 23.5h0.9M219.6 22.8h0.9M244.7 23.9h0.9M209.3 22.8h0.9M242.9 27.1h0.9M228.2 21.2h0.9M251 23.3h0.9M219.7 24.6h0.9M236 22.7h0.9M219.8 23.7h0.9M240.8 21.7h0.9M254.3 22.4h0.9M260.5 24.3h0.9M236.7 24.3h0.9M230.6 23.8h0.9M264.2 23.2h0.9M251.7 22.8h0.9M239.2 25h0.9M221.5 24.3h0.9M207.2 22.5h0.9M233.2 24.9h0.9M250.2 22.8h0.9M237.5 24.1h0.9M216 24.4h0.9M259.8 25.4h0.9M230.6 23.4h0.9M225.5 23.3h0.9M235.7 24.7h0.9M240.7 22.8h0.9M251.8 24.9h0.9M230.3 23.6h0.9M238 21.9h0.9" stroke="#000" stroke-width="0.9" stroke-opacity="0.6"/><path d="M213.1 77.6h0.9M215.8 67h0.9M212.4 59.6h0.9M213.8 80.3h0.9M211.6 67.1h0.9M213.8 18.7h0.9M214.9 58.2h0.9M214.2 61.9h0.9M212.5 61.2h0.9M213.3 82h0.9M212.5 38.3h0.9M211.8 41.4h0.9M214 41.8h0.9M215.1 65.8h0.9M212.7 91.7h0.9M212.3 56.5h0.9M214 79.3h0.9M213.7 35.4h0.9M212.6 83.4h0.9M213.2 81.9h0.9M216.4 83.6h0.9M215.9 78.1h0.9M211.9 96.4h0.9M211.8 84.3h0.9M213.9 44.7h0.9M211.8 59.5h0.9M213.5 92.8h0.9M214.2 49.5h0.9M212 65.6h0.9M212.1 61.8h0.9M214.1 69.6h0.9M214.4 48.8h0.9M211.6 33.2h0.9M210.3 54.2h0.9M213 59.7h0.9M211.3 58.3h0.9M212.2 44.2h0.9M215 63.5h0.9M214.8 39.5h0.9M211.6 64.1h0.9M212.8 76.7h0.9M211 74.7h0.9M214 51.2h0.9M209.6 49.5h0.9M212.4 81.3h0.9M212 39.2h0.9M213.9 72.6h0.9M214.1 65.5h0.9M214.6 75.8h0.9M210.3 68.9h0.9M214.1 65.4h0.9M215.2 54.5h0.9M214 37.5h0.9M213 52.5h0.9M211.5 35.8h0.9M213.3 74h0.9M212 37.4h0.9M211.7 81.3h0.9M211.2 89.7h0.9M210.5 70.8h0.9M214 91.5h0.9M212.3 47.8h0.9M210.8 84.7h0.9M212.8 54.6h0.9M212.3 70.3h0.9M213 90.6h0.9M209.8 83.3h0.9M212.2 63h0.9M212.5 62.8h0.9M214.1 69.6h0.9M210.8 63.3h0.9M212.8 72.9h0.9M213 63h0.9M214.5 40.8h0.9M216.3 52.4h0.9M211.4 82.1h0.9M214.6 92.4h0.9M215.2 75.4h0.9M213.1 73.2h0.9M213 53h0.9M213 59.9h0.9M212.3 27.9h0.9M212 53.6h0.9M213 42.9h0.9M210.1 79.3h0.9M215.6 18.2h0.9M212.8 83.8h0.9M211.3 33.4h0.9M213.1 59.9h0.9M212 101.2h0.9M215.3 79.5h0.9M212.9 58h0.9M214.3 60h0.9M215.2 92.7h0.9M212.1 82.1h0.9M215.4 79.8h0.9M211.6 59.6h0.9M212.5 68.2h0.9M213.1 57.9h0.9M214.3 95.5h0.9M212.2 33.3h0.9M213.6 66h0.9M213.7 50.9h0.9M213.5 46h0.9M214.7 103.1h0.9M212.3 54.6h0.9M213.4 66.7h0.9M212.3 58.2h0.9M213.7 25.7h0.9M214.3 52.8h0.9M210.9 47.9h0.9M213.9 85.1h0.9M215 76.3h0.9M212 78.9h0.9M210 102.2h0.9M214.3 75.8h0.9M213 54.5h0.9M211.7 32.6h0.9M216.2 87.6h0.9M214.1 75h0.9M210.3 60.9h0.9M213.3 92.6h0.9M211.6 73.1h0.9M212.8 67.8h0.9M212 75.2h0.9M213.3 26.1h0.9M211.8 92.6h0.9M211.7 55.7h0.9M215.8 71.8h0.9M215.4 73.9h0.9M214.7 63.9h0.9M214.2 55.1h0.9M212.6 46.9h0.9M214.1 79.2h0.9M212.1 87.9h0.9M214.4 102.8h0.9M212.1 45.9h0.9M210.5 82.1h0.9M211.5 97.5h0.9M213.4 84.8h0.9M211.3 54.9h0.9M213.5 84.2h0.9M211.3 75.6h0.9M212 85.9h0.9M212.9 61.5h0.9M213.9 93.5h0.9M212.8 95h0.9M211.7 74.3h0.9M211.5 72.8h0.9M211.8 68.8h0.9M214.1 46.9h0.9M210.6 64.2h0.9M214 73.1h0.9M211.8 86.3h0.9M212.8 84.8h0.9M211.9 77.6h0.9M215 53.4h0.9M212.8 81.6h0.9M214 75.7h0.9M213 33.6h0.9M213.2 39.6h0.9M213.3 16.6h0.9M213.9 49.2h0.9M212.7 87.2h0.9M214.2 52.5h0.9M215 83.6h0.9M214 60h0.9M213.2 52.2h0.9M213.5 53.3h0.9M214.9 68.5h0.9M213.5 74.9h0.9M213.7 36.6h0.9M215.1 69.8h0.9M212.4 46.5h0.9M212.2 54.3h0.9M213.2 48.8h0.9M213.3 70.8h0.9M213 74.9h0.9M213.3 64h0.9M214.2 97.5h0.9M213.1 48.7h0.9M214 20.4h0.9M213.4 63.2h0.9M213.6 34.4h0.9M212.5 44.9h0.9M212.3 80h0.9M212.9 54.1h0.9" stroke="#000" stroke-width="0.9" stroke-opacity="0.7"/><path d="M214 31L219 26L240 24.5L260 25L267 28L269 36L269 46L266 56L261.5 66L256.5 78L252 92L249.5 106L214 106L213 70L213 45Z" fill="#000" filter="url(#b1)"/></g><clipPath id="kB1"><path d="M217.2 33.3L224.2 28.2L240.4 28.3L256.5 29.2L262.6 31.8L261.5 36.5L256 42.5L257.5 49.4L253.5 52.8L240.4 53.5L236.3 55.5L231.3 62.6L227.3 59.5L230.3 54.5L222.2 51.4L219.2 45.4L217.2 39.3Z"/></clipPath><path d="M217.2 33.3L224.2 28.2L240.4 28.3L256.5 29.2L262.6 31.8L261.5 36.5L256 42.5L257.5 49.4L253.5 52.8L240.4 53.5L236.3 55.5L231.3 62.6L227.3 59.5L230.3 54.5L222.2 51.4L219.2 45.4L217.2 39.3Z" fill="#f2f2f2"/><g clip-path="url(#kB1)"><ellipse cx="236" cy="33.5" rx="20" ry="6" fill="#c4c4c4"/><ellipse cx="229.5" cy="34.5" rx="10.5" ry="5" fill="#777" stroke="#111" stroke-width="1.8"/><ellipse cx="229.5" cy="34.5" rx="6.5" ry="2.6" fill="#bbb" stroke="#222" stroke-width="1"/><path d="M241 33.5Q250 31 260 32.5" fill="none" stroke="#222" stroke-width="1.3"/><ellipse cx="251" cy="36" rx="9" ry="2.2" fill="none" stroke="#777" stroke-width="0.6"/><ellipse cx="240" cy="47" rx="16" ry="4.5" fill="none" stroke="#888" stroke-width="0.6"/><ellipse cx="236" cy="47" rx="10" ry="2.8" fill="none" stroke="#888" stroke-width="0.6"/><ellipse cx="227" cy="47" rx="4" ry="2" fill="none" stroke="#888" stroke-width="0.6"/></g><path d="M217.2 33.3L224.2 28.2L240.4 28.3L256.5 29.2L262.6 31.8L261.5 36.5L256 42.5L257.5 49.4L253.5 52.8L240.4 53.5L236.3 55.5L231.3 62.6L227.3 59.5L230.3 54.5L222.2 51.4L219.2 45.4L217.2 39.3Z" fill="none" stroke="#fff" stroke-width="1"/><clipPath id="kB2"><path d="M215.3 103.5L215.3 88L217.5 81.5L222 78.2L228 77.3L234 78L238.8 81L241 87L241.3 103.5Z"/></clipPath><linearGradient id="gkB2" x1="0" y1="0" x2="0" y2="1"><stop offset="0" stop-color="#a0a0a0"/><stop offset="1" stop-color="#c8c8c8"/></linearGradient><path d="M215.3 103.5L215.3 88L217.5 81.5L222 78.2L228 77.3L234 78L238.8 81L241 87L241.3 103.5Z" fill="url(#gkB2)"/><g clip-path="url(#kB2)" fill="none" stroke="#e0e0e0" stroke-width="0.5"><ellipse cx="228.2" cy="89" rx="1.8" ry="2.1"/><ellipse cx="228.2" cy="89" rx="3.6" ry="4.1"/><ellipse cx="228.2" cy="89" rx="5.4" ry="6.2"/><ellipse cx="228.2" cy="89" rx="7.2" ry="8.3"/><ellipse cx="228.2" cy="89" rx="9" ry="10.3"/><ellipse cx="228.2" cy="89" rx="10.8" ry="12.4"/><ellipse cx="228.2" cy="89" rx="12.6" ry="14.5"/><ellipse cx="228.2" cy="89" rx="14.4" ry="16.6"/><ellipse cx="228.2" cy="89" rx="16.2" ry="18.6"/><ellipse cx="228.2" cy="89" rx="18" ry="20.7"/><ellipse cx="228.2" cy="89" rx="19.8" ry="22.8"/><ellipse cx="228.2" cy="89" rx="21.6" ry="24.8"/><ellipse cx="228.2" cy="89" rx="23.4" ry="26.9"/><ellipse cx="228.2" cy="89" rx="25.2" ry="29"/><ellipse cx="228.2" cy="89" rx="27" ry="31.1"/><ellipse cx="228.2" cy="89" rx="28.8" ry="33.1"/></g><path d="M215.3 103.5L215.3 88L217.5 81.5L222 78.2L228 77.3L234 78L238.8 81L241 87L241.3 103.5Z" fill="none" stroke="#fff" stroke-width="1.3"/><path d="M203 105V73" stroke="#fff" stroke-width="3"/><path d="M205 105L205 72.6L213.1 71.2L276.7 58.5L301 58.5L301 105" fill="none" stroke="#555" stroke-width="0.9"/><rect x="201.6" y="9" width="101" height="96" fill="none" stroke="#000" stroke-width="1.5"/><path d="M199.6 105L201.6 105" stroke="#000" stroke-width="0.5"/><path d="M200.4 97.8L201.6 97.8" stroke="#000" stroke-width="0.5"/><path d="M200.4 93.5L201.6 93.5" stroke="#000" stroke-width="0.5"/><path d="M200.4 90.6L201.6 90.6" stroke="#000" stroke-width="0.5"/><path d="M200.4 88.2L201.6 88.2" stroke="#000" stroke-width="0.5"/><path d="M200.4 86.3L201.6 86.3" stroke="#000" stroke-width="0.5"/><path d="M200.4 84.7L201.6 84.7" stroke="#000" stroke-width="0.5"/><path d="M200.4 83.3L201.6 83.3" stroke="#000" stroke-width="0.5"/><path d="M200.4 82.1L201.6 82.1" stroke="#000" stroke-width="0.5"/><path d="M199.6 81L201.6 81" stroke="#000" stroke-width="0.5"/><path d="M200.4 73.8L201.6 73.8" stroke="#000" stroke-width="0.5"/><path d="M200.4 69.5L201.6 69.5" stroke="#000" stroke-width="0.5"/><path d="M200.4 66.6L201.6 66.6" stroke="#000" stroke-width="0.5"/><path d="M200.4 64.2L201.6 64.2" stroke="#000" stroke-width="0.5"/><path d="M200.4 62.3L201.6 62.3" stroke="#000" stroke-width="0.5"/><path d="M200.4 60.7L201.6 60.7" stroke="#000" stroke-width="0.5"/><path d="M200.4 59.3L201.6 59.3" stroke="#000" stroke-width="0.5"/><path d="M200.4 58.1L201.6 58.1" stroke="#000" stroke-width="0.5"/><path d="M199.6 57L201.6 57" stroke="#000" stroke-width="0.5"/><path d="M200.4 49.8L201.6 49.8" stroke="#000" stroke-width="0.5"/><path d="M200.4 45.5L201.6 45.5" stroke="#000" stroke-width="0.5"/><path d="M200.4 42.6L201.6 42.6" stroke="#000" stroke-width="0.5"/><path d="M200.4 40.2L201.6 40.2" stroke="#000" stroke-width="0.5"/><path d="M200.4 38.3L201.6 38.3" stroke="#000" stroke-width="0.5"/><path d="M200.4 36.7L201.6 36.7" stroke="#000" stroke-width="0.5"/><path d="M200.4 35.3L201.6 35.3" stroke="#000" stroke-width="0.5"/><path d="M200.4 34.1L201.6 34.1" stroke="#000" stroke-width="0.5"/><path d="M199.6 33L201.6 33" stroke="#000" stroke-width="0.5"/><path d="M200.4 25.8L201.6 25.8" stroke="#000" stroke-width="0.5"/><path d="M200.4 21.5L201.6 21.5" stroke="#000" stroke-width="0.5"/><path d="M200.4 18.6L201.6 18.6" stroke="#000" stroke-width="0.5"/><path d="M200.4 16.2L201.6 16.2" stroke="#000" stroke-width="0.5"/><path d="M200.4 14.3L201.6 14.3" stroke="#000" stroke-width="0.5"/><path d="M200.4 12.7L201.6 12.7" stroke="#000" stroke-width="0.5"/><path d="M200.4 11.3L201.6 11.3" stroke="#000" stroke-width="0.5"/><path d="M200.4 10.1L201.6 10.1" stroke="#000" stroke-width="0.5"/><path d="M199.6 9L201.6 9" stroke="#000" stroke-width="0.5"/><path d="M201.6 105L201.6 107.5" stroke="#000" stroke-width="0.6"/><text x="201.6" y="114.4" font-size="4.7" fill="#444" text-anchor="middle">0</text><path d="M206.7 105L206.7 106.5" stroke="#000" stroke-width="0.5"/><path d="M211.7 105L211.7 106.5" stroke="#000" stroke-width="0.5"/><path d="M216.8 105L216.8 106.5" stroke="#000" stroke-width="0.5"/><path d="M221.8 105L221.8 107.5" stroke="#000" stroke-width="0.6"/><text x="221.8" y="114.4" font-size="4.7" fill="#444" text-anchor="middle">200</text><path d="M226.8 105L226.8 106.5" stroke="#000" stroke-width="0.5"/><path d="M231.9 105L231.9 106.5" stroke="#000" stroke-width="0.5"/><path d="M236.9 105L236.9 106.5" stroke="#000" stroke-width="0.5"/><path d="M242 105L242 107.5" stroke="#000" stroke-width="0.6"/><text x="242" y="114.4" font-size="4.7" fill="#444" text-anchor="middle">400</text><path d="M247.1 105L247.1 106.5" stroke="#000" stroke-width="0.5"/><path d="M252.1 105L252.1 106.5" stroke="#000" stroke-width="0.5"/><path d="M257.1 105L257.1 106.5" stroke="#000" stroke-width="0.5"/><path d="M262.2 105L262.2 107.5" stroke="#000" stroke-width="0.6"/><text x="262.2" y="114.4" font-size="4.7" fill="#444" text-anchor="middle">600</text><path d="M267.2 105L267.2 106.5" stroke="#000" stroke-width="0.5"/><path d="M272.3 105L272.3 106.5" stroke="#000" stroke-width="0.5"/><path d="M277.3 105L277.3 106.5" stroke="#000" stroke-width="0.5"/><path d="M282.4 105L282.4 107.5" stroke="#000" stroke-width="0.6"/><text x="282.4" y="114.4" font-size="4.7" fill="#444" text-anchor="middle">800</text><path d="M287.4 105L287.4 106.5" stroke="#000" stroke-width="0.5"/><path d="M292.5 105L292.5 106.5" stroke="#000" stroke-width="0.5"/><path d="M297.5 105L297.5 106.5" stroke="#000" stroke-width="0.5"/><path d="M302.6 105L302.6 107.5" stroke="#000" stroke-width="0.6"/><text x="302.6" y="114.4" font-size="4.7" fill="#444" text-anchor="middle">1000</text><text x="197.8" y="107" font-size="4.9" fill="#444" text-anchor="end">10<tspan dy="-1.8" font-size="3.4">0</tspan></text><text x="197.8" y="83" font-size="4.9" fill="#444" text-anchor="end">10<tspan dy="-1.8" font-size="3.4">1</tspan></text><text x="197.8" y="59" font-size="4.9" fill="#444" text-anchor="end">10<tspan dy="-1.8" font-size="3.4">2</tspan></text><text x="197.8" y="35" font-size="4.9" fill="#444" text-anchor="end">10<tspan dy="-1.8" font-size="3.4">3</tspan></text><text x="197.8" y="11" font-size="4.9" fill="#444" text-anchor="end">10<tspan dy="-1.8" font-size="3.4">4</tspan></text><text x="186.5" y="63.8" font-size="13.6" text-anchor="middle" transform="rotate(-90 186.5 63.8)" fill="#000">CD45-FITC</text><text x="247.8" y="135" font-size="15.6" text-anchor="middle" fill="#000">FSC-H</text><path d="M271.7 84.8L310 84.8" stroke="#000" stroke-width="3.2"/><path d="M308 79.5L318.8 84.8L308 90.1Z" fill="#000" stroke="none" stroke-width="1"/><g clip-path="url(#cR)"><path d="M437.9 63.1h0.8M414.7 75.4h0.8M409 70.1h0.8M375.6 59.4h0.8M366.9 37.3h0.8M375 37h0.8M391.7 55h0.8M378 93.6h0.8M388.1 107h0.8M431.1 25.5h0.8M427.6 19.9h0.8M444 70.8h0.8M389 20.8h0.8M433.1 23.8h0.8M393.8 75h0.8M400.8 68.1h0.8M393 81.6h0.8M372.7 77h0.8M364.6 65.4h0.8M366.5 54.1h0.8M417.4 96.6h0.8M371.1 95.8h0.8M374.3 80.7h0.8M384.6 17.2h0.8M403.1 26.1h0.8M421.4 84.3h0.8M439.2 29.8h0.8M446.3 88.3h0.8M449.6 29h0.8M409.4 20h0.8M395.7 65.2h0.8M418 35.3h0.8M398.9 32.1h0.8M411 79.3h0.8M401.8 93.7h0.8M422 70.7h0.8M434.1 22.8h0.8M399.1 45.7h0.8M424.1 46.5h0.8M380.7 56.8h0.8M395.7 74.9h0.8M373.7 15.2h0.8M352.5 93.8h0.8M362.2 45.9h0.8M366.9 85.8h0.8M382.9 96.1h0.8M378.8 68.5h0.8M422.1 88.4h0.8M364.3 48.8h0.8M420.8 71.3h0.8M414.9 18.4h0.8M405.2 72.7h0.8M430.3 44.3h0.8M386.9 47.6h0.8M390.2 15.5h0.8M389 108h0.8M372.3 54.1h0.8M435.4 76.6h0.8M406.6 49.9h0.8M396.5 60.2h0.8M420.3 62.2h0.8M424.2 44.2h0.8M400.3 47.4h0.8M419 56.5h0.8M418.5 36.1h0.8M405.6 96.4h0.8M433 49.4h0.8M404.2 49.1h0.8M396.5 60.5h0.8M435.9 77.3h0.8M443.3 105.6h0.8M362.5 69.2h0.8M386.9 12.2h0.8M368.1 45.2h0.8M449.6 62.7h0.8M394.6 59.2h0.8M377.9 65.2h0.8M397.4 11.9h0.8M418.8 57.3h0.8M419.8 31.4h0.8M402.8 86.1h0.8M352.8 38.5h0.8M388.4 51.8h0.8M385.1 68.2h0.8M430.2 70.3h0.8M430.4 91h0.8M382.6 68.2h0.8M389.2 79.6h0.8M389.9 54.8h0.8M354.4 63.8h0.8M409 45.4h0.8M402.3 90.2h0.8M385 54.8h0.8M379.5 70h0.8M396.6 33.2h0.8M350.3 19.7h0.8M410.2 19.7h0.8M362.1 45.3h0.8" stroke="#000" stroke-width="0.8" stroke-opacity="0.35"/><path d="M437 23.3h0.8M428.4 25.7h0.8M430.9 35.3h0.8M409.5 43h0.8M441 24.4h0.8M428.4 42.2h0.8M431.7 30.9h0.8M403.9 36.7h0.8M420.6 48.1h0.8M383.6 43.6h0.8M430.3 22.4h0.8M383.9 58.5h0.8M423 40.1h0.8M395.3 46.8h0.8M436.6 23.2h0.8M408.1 37.9h0.8M410.3 53.2h0.8M421.9 41.8h0.8M424.9 16.5h0.8M422 35.2h0.8M433.4 34.1h0.8M434.9 20.2h0.8M424.6 18.6h0.8M416.6 39.6h0.8M418.5 20h0.8M415.3 26.1h0.8M420.7 43.1h0.8M406.1 35.9h0.8M427.4 24.4h0.8M414.9 19.8h0.8M418.2 28h0.8M408.2 35h0.8M421.5 37.8h0.8M438.2 15.1h0.8M403.8 45.6h0.8M442.6 24.6h0.8M422 51.9h0.8M408.3 33.3h0.8M422.1 43.6h0.8M429.9 30.9h0.8M394.8 52.5h0.8M423 35h0.8M421.4 41.5h0.8M405.5 28.9h0.8M408.4 54.1h0.8M425.4 17.5h0.8M432.5 17.4h0.8M411.8 22.6h0.8M415 36.1h0.8M420.2 24.5h0.8M439.6 27.8h0.8M413.5 40.5h0.8M405.4 47.9h0.8M408.9 38.9h0.8M421.5 26.6h0.8M428.8 14.5h0.8M417.1 36.5h0.8M421.8 31.6h0.8M414.3 27.3h0.8M428.9 23.4h0.8M438.1 28.1h0.8M413 29.2h0.8M412.3 30.7h0.8M406.6 59.7h0.8M437.7 38.9h0.8M417.6 38.9h0.8M423.7 26.5h0.8M432.2 19.6h0.8M420.9 31.5h0.8M391.6 48.7h0.8M421 46.8h0.8M431.7 28.2h0.8M427.2 22.2h0.8M438.8 11.5h0.8M408 47.9h0.8M435 18.2h0.8M430.1 31.5h0.8M441.5 17.3h0.8M441.8 14h0.8M433.3 21.6h0.8M415.8 21.2h0.8M432.3 17.5h0.8M406.4 36.3h0.8M418.9 32.7h0.8M405.9 33.8h0.8M425.4 25h0.8M438.5 32h0.8M423.9 37.4h0.8M424.8 26.9h0.8M405 25.8h0.8M424.8 36.6h0.8M422.4 37h0.8M418.3 44h0.8M417.3 28.1h0.8M439.7 12.8h0.8M428.2 24.5h0.8M429.7 23.2h0.8M408.8 43.7h0.8M428.5 27h0.8M427.8 42.4h0.8M413.4 37.9h0.8M417.9 21.4h0.8M410.9 45.7h0.8M429.5 23.6h0.8M401.2 44.6h0.8M427 30.8h0.8M436.9 20.1h0.8M440.6 29.3h0.8M399.5 59.4h0.8M418.5 37h0.8M418.2 21.7h0.8M412.9 41.5h0.8M422.7 35.7h0.8M427.6 45.9h0.8M428.7 44.2h0.8M415.2 40.7h0.8M412 42h0.8M441 25.7h0.8M432.6 30h0.8M405.5 39.3h0.8M434.6 11.8h0.8M409.3 22.3h0.8M410.6 22.6h0.8M432.6 34.4h0.8M425.3 27.5h0.8M419.2 37h0.8M405.9 38.5h0.8M407.3 27.6h0.8M433.6 15.8h0.8M399.9 35.7h0.8M436.9 22.2h0.8M429.5 21.2h0.8M437.7 28.1h0.8M420.1 13.8h0.8M390.8 41.7h0.8M416 18.5h0.8M408.5 41.1h0.8M404 31.6h0.8M434 22.8h0.8M434.2 27h0.8M436.7 14.8h0.8M409.2 21.8h0.8M414.5 29h0.8M435.7 23h0.8M442.7 21h0.8M436.5 20.8h0.8M419.8 26.3h0.8M415.1 24.7h0.8M424.2 25.5h0.8M383.1 35.4h0.8M409.4 34.8h0.8M423.3 40.5h0.8M406.3 29.2h0.8M429.5 31.8h0.8M414.9 30.2h0.8M440.8 18.5h0.8M423.9 33.9h0.8M414.8 32.5h0.8M417 27.5h0.8M418.8 34.6h0.8M430.2 36h0.8M429.3 20.8h0.8M387.3 44.1h0.8M412.1 33h0.8M403 41.3h0.8M417.8 25.3h0.8M417.6 31h0.8M407.3 32.4h0.8M419.6 32.9h0.8M397.4 29.1h0.8M411.3 42.8h0.8M406 51.9h0.8M413.6 36.8h0.8M413.7 41.3h0.8M422 31.7h0.8M401.1 54.1h0.8M398.7 45.4h0.8M424.4 23.8h0.8M426 26h0.8M416.4 24.6h0.8M436.5 26.3h0.8M408.8 30.6h0.8M417.9 23.8h0.8M425.1 33.4h0.8M434.4 31.8h0.8M419.3 19.6h0.8M412.5 41.9h0.8M416.2 47.3h0.8M421.5 35.3h0.8M426.6 13.7h0.8M412.5 30.7h0.8M428.6 28.5h0.8M416.6 38.3h0.8M401.1 50.2h0.8M423.2 26.7h0.8M402.6 44.3h0.8M414.7 49.2h0.8M415.1 31.9h0.8M420.8 34.3h0.8M422.9 32.4h0.8M414.5 45.7h0.8M417.7 39.4h0.8M427.4 33.8h0.8M411.1 22.7h0.8M405.3 40.5h0.8M432.7 13.9h0.8M426.3 36.6h0.8M414.6 37.6h0.8M419.5 24h0.8M427.2 33.7h0.8M429.4 17.8h0.8M412.6 28.9h0.8M412.5 44.6h0.8M386.4 58.3h0.8M403.1 43h0.8M412.4 23.2h0.8M414.7 47.2h0.8M413.1 35.7h0.8M420 38h0.8M437.6 23h0.8M428.3 27.8h0.8M412.7 49.4h0.8M408.6 30.8h0.8M411.1 29.5h0.8M427.6 30.1h0.8M433.2 16.8h0.8M411.3 34.6h0.8M402.6 37.9h0.8M417.4 38.3h0.8M426 31.9h0.8M404.3 32.9h0.8M430.7 13.1h0.8M419.3 32.4h0.8M397.7 47.7h0.8M414.7 39.6h0.8M404.6 20.8h0.8M411.3 30.4h0.8M412.4 36.3h0.8M425.6 15.8h0.8M416.2 40.5h0.8M428.6 29.1h0.8M421.8 25.5h0.8M411.5 32.5h0.8M437 29.4h0.8M416.7 32.6h0.8M411.8 25.5h0.8" stroke="#000" stroke-width="0.8" stroke-opacity="0.4"/><path d="M407.3 79.4h0.8M409.4 72.3h0.8M405 90.9h0.8M431.3 92h0.8M426.6 73.7h0.8M366.8 96.6h0.8M411.9 82.9h0.8M431.5 74.6h0.8M396.9 76.6h0.8M430.9 92.6h0.8M385.9 99.3h0.8M409.7 87.7h0.8M399.3 101.4h0.8M415.3 96.1h0.8M396.3 90.3h0.8M410.7 81.5h0.8M398.7 77h0.8M394 77.3h0.8M409.2 89.2h0.8M388.8 73.8h0.8M401.3 68.1h0.8M405.6 81.1h0.8M406.9 87.5h0.8M422 91.2h0.8M413.2 89.2h0.8M398.9 74.7h0.8M418.1 89h0.8M438.7 81.5h0.8M396.3 86.4h0.8M403.5 75.2h0.8M427.6 101.9h0.8M414.4 77.4h0.8M412.9 83.1h0.8M391 91.6h0.8M414.1 95.6h0.8M402.1 83.5h0.8M408 67.2h0.8M443 63.7h0.8M394.3 80.3h0.8M388.7 87.7h0.8M403.4 84.4h0.8M412.7 84.4h0.8M410.9 82.3h0.8M415.3 91.4h0.8M406.2 79.5h0.8M404.3 86.7h0.8M404.7 80.1h0.8M389.5 102.2h0.8M393.2 99.9h0.8M420.4 93.6h0.8M413.2 88.5h0.8M413.7 89.5h0.8M421.1 98.5h0.8M396.5 88.6h0.8M431.5 97.3h0.8M396.1 86.9h0.8M413.7 86.3h0.8M379.6 92.3h0.8M388.3 105h0.8M418.8 83.1h0.8M418.6 85.4h0.8M402.9 83.1h0.8M414.8 76.3h0.8M419.7 94.8h0.8M424.6 95.5h0.8M427.7 90.9h0.8M427.8 84.7h0.8M415.7 97.8h0.8M436.4 80.8h0.8M390.6 104.9h0.8M425.9 101.8h0.8M422.5 86.5h0.8M401.6 74.9h0.8M429.9 93.7h0.8M414.6 73.4h0.8M403.2 78.2h0.8M406.2 56.2h0.8M413.3 99.4h0.8M402.9 84.5h0.8M414 74.5h0.8M416.1 76.3h0.8M404.3 86.7h0.8M409.5 85.1h0.8M397.8 91.3h0.8M395.5 92.4h0.8M403.7 72.7h0.8M409.1 73.9h0.8M403.1 82.7h0.8M421 92h0.8M416.8 81.5h0.8M389.5 82h0.8M405.9 82.9h0.8M403.1 79.1h0.8M421.3 71.2h0.8M410.4 96.5h0.8M399.8 74.6h0.8M407.2 80.9h0.8M413.9 97.4h0.8M408.6 89.7h0.8M402.4 79.4h0.8M414.3 77.7h0.8M426.7 80.2h0.8M408.1 74h0.8M404.3 74.4h0.8M403.6 66.8h0.8M410.1 101.3h0.8M384.6 101.2h0.8M408.6 92.9h0.8M396.4 104h0.8M395.5 83.4h0.8M431.6 71.7h0.8M378.2 83.5h0.8M399.7 74.6h0.8M397.7 69.8h0.8M429.5 96.1h0.8M391.4 83.1h0.8M403.9 95h0.8M398.7 100.1h0.8M410.2 76.4h0.8M409 78.4h0.8M441.4 85.6h0.8M403.5 85.1h0.8M430.6 74.6h0.8M386.9 97.1h0.8M418.6 79.7h0.8M409 95.1h0.8M372.4 96.7h0.8M407.7 90.8h0.8M401.5 95h0.8M373.9 84.5h0.8M421.1 68.7h0.8M381.9 85h0.8M424.2 95.9h0.8M400.6 87.5h0.8M390.4 101.4h0.8M402.1 96.8h0.8M406.3 80.8h0.8M432.7 75.4h0.8M428.1 80.5h0.8M397.8 75.7h0.8M425.8 83.2h0.8M405.1 69h0.8M426.4 94.5h0.8M414.5 91.8h0.8M364.6 78.7h0.8M412.3 85.1h0.8M402.1 86.4h0.8M399.8 77.5h0.8M392.6 85.4h0.8M399.9 79h0.8M429.4 83.6h0.8M409.5 68.7h0.8M402.7 93.8h0.8M417.7 84.5h0.8M407.5 84.7h0.8M415.6 80.7h0.8M375.2 103.7h0.8M425.9 82.5h0.8M429.7 70.9h0.8M428.1 85.9h0.8M422.4 80.5h0.8M412.1 89.8h0.8M424.7 89.1h0.8M416.2 78.1h0.8M434 86.1h0.8M406.8 80.8h0.8M393.2 76.6h0.8M388.7 86h0.8M408.9 86.2h0.8M392.5 79.8h0.8M401 93.9h0.8M389.1 68.8h0.8M428 87.6h0.8M388 97.5h0.8M430.9 95.4h0.8M381.1 85.2h0.8M397.9 81.3h0.8M387.9 101.3h0.8M400.3 86.8h0.8M421.2 90.1h0.8M415.7 80.1h0.8M413.1 81.8h0.8M378.1 94h0.8M401.2 78.8h0.8M404.2 70.1h0.8M393 65.9h0.8M416.5 95.8h0.8M411 72.5h0.8M428.2 80.8h0.8M387.6 65.1h0.8M412.5 98.4h0.8M404.6 77.6h0.8M406.1 75.5h0.8M402.3 86.5h0.8M399.8 93.3h0.8M396.2 91h0.8M414.8 80.1h0.8M405.8 80.7h0.8M433.4 75.8h0.8M426.6 94h0.8M405.2 100.1h0.8M376.6 86.4h0.8M411.7 84.1h0.8M421.6 79.9h0.8M407.3 95.4h0.8M408.3 73.6h0.8M417.9 83.1h0.8M402 89.5h0.8M399.1 74.1h0.8M406.2 82h0.8M410.6 71.9h0.8M434 90.7h0.8M411.9 86.2h0.8M374.9 93.2h0.8M395.6 89h0.8M393.2 93.8h0.8M402.4 81.8h0.8M431.3 93.8h0.8M390.6 76.9h0.8M412.6 81.6h0.8M421.2 77.1h0.8M383.6 74.8h0.8M407.3 89.4h0.8M420.3 96.4h0.8M413.2 81.9h0.8M420.1 82.9h0.8M403.3 79.3h0.8M422.9 98.8h0.8M428.3 67.9h0.8M425.2 72.7h0.8M405.1 89.8h0.8M391.2 71.7h0.8M399.4 100.8h0.8M425 74.9h0.8M411.8 85.3h0.8M414.3 76.8h0.8M430.1 80.1h0.8M421.4 67.1h0.8M415.4 85.4h0.8M428.9 58h0.8M417.7 92.1h0.8M406.2 97.1h0.8M439.4 92.8h0.8M421.3 97.4h0.8M416.1 96.2h0.8M418.3 77.1h0.8M395.2 95.7h0.8M418.3 77.3h0.8M410.3 98.6h0.8M385.9 74.9h0.8M419.7 92.2h0.8M393.5 74h0.8M412.3 98h0.8M410.1 60.7h0.8M424.4 83.7h0.8M403.5 72.3h0.8M426.7 86.6h0.8M415.6 87.5h0.8M416.1 92.3h0.8M434 73.3h0.8M408.9 79.4h0.8M433.5 81.1h0.8M387.4 83.7h0.8M399.7 76.6h0.8M403.7 70.9h0.8M382.8 103.5h0.8M408.2 74.6h0.8M418.7 97.3h0.8M385.4 79.5h0.8M413.9 75.5h0.8M416.2 71.6h0.8M400.6 82.7h0.8M415.9 84.3h0.8M400.4 80.3h0.8M380.3 105.3h0.8M404.2 81h0.8M413.6 89.7h0.8M414.7 77.2h0.8M386.7 82.2h0.8M398.7 78.4h0.8M409.9 86.3h0.8M428 82.5h0.8M385.7 89.8h0.8M422.9 67.5h0.8M418.4 85.8h0.8M402.3 85.6h0.8M415.3 89.8h0.8M426 83.8h0.8M409.8 108.1h0.8M394.9 81.2h0.8M404.9 91.6h0.8M425.4 70.7h0.8M427.1 72h0.8M446.5 77.2h0.8M425.4 81.2h0.8M419.8 76.4h0.8M411.7 84.2h0.8M411.2 91.9h0.8M403.7 80.7h0.8M391.4 82.5h0.8M403 92.8h0.8M419.3 76.7h0.8M416.1 97.1h0.8M407 72.2h0.8M444.4 89.5h0.8M398.7 87h0.8M383.3 88.9h0.8M415.5 76.1h0.8M398 82.2h0.8M406.7 99.8h0.8M406.5 82.3h0.8M407.4 67.9h0.8M403.1 70.4h0.8M411.7 62h0.8M394.1 86.5h0.8M380.4 68.3h0.8M423.8 70.6h0.8M409.8 87h0.8M395 67h0.8M431.3 78.3h0.8M417.1 76.3h0.8M415 70.8h0.8M390.6 73.4h0.8M401.1 77.6h0.8M405.2 88.2h0.8M402.4 93.3h0.8M400.6 90.5h0.8M428.3 101.3h0.8M382 101.2h0.8M385.1 98.1h0.8M409.7 87.4h0.8M396.6 93.3h0.8M419.5 78.4h0.8M401.2 92.5h0.8M424.4 91.6h0.8M404.6 84h0.8M423.1 92.3h0.8M425.7 85.4h0.8M400 86.8h0.8M416.3 78.6h0.8M416.2 75.6h0.8M413.5 77.9h0.8M439.6 95.9h0.8M413.6 70.8h0.8M392.7 90.9h0.8M407.8 87h0.8M387.8 68.9h0.8M411.5 81.9h0.8M391.2 75.9h0.8M420.9 79.6h0.8M418 100.5h0.8M414.6 85.2h0.8M401.6 96.1h0.8M389.7 72.9h0.8M409.7 69.2h0.8M423.6 77.7h0.8M417.3 80.8h0.8M406.4 84.1h0.8M382.4 73h0.8M403.3 106.1h0.8M421.3 91.2h0.8M395.4 92.9h0.8M427.3 91.5h0.8M446.7 70.4h0.8M394.8 81.3h0.8M396.2 84.4h0.8M417.2 83.8h0.8M411.3 88h0.8M420.7 77.3h0.8M400.5 95.8h0.8M405.1 75.6h0.8M413.8 80.4h0.8M411.5 83.3h0.8M418.7 93.1h0.8M398.3 71.7h0.8M432.2 77h0.8M388.1 64.9h0.8M409.3 77.4h0.8M384.2 74.4h0.8M395 93.8h0.8M413.1 83.8h0.8M392 82.1h0.8M419.1 85.4h0.8M424.6 84.6h0.8M419.5 88.4h0.8M401.9 97.2h0.8M414.9 92.1h0.8M394.9 73h0.8M407.3 75.8h0.8M418.5 87.9h0.8M426.9 89.7h0.8M394 93.3h0.8M400.7 76.5h0.8M410.6 83.8h0.8M415.7 98.4h0.8M406.8 87.2h0.8M402.5 79.6h0.8M428.6 88.4h0.8M416 75.8h0.8M433.7 82.1h0.8M400.7 83.7h0.8M419.2 91.3h0.8M430.3 73.3h0.8M403.8 99.4h0.8M441.6 77.6h0.8M408.5 68.4h0.8M398.3 75h0.8M408.4 72h0.8M422.8 83.3h0.8M406.3 93.1h0.8M406.1 71.5h0.8M410.2 105.5h0.8M411.2 89.1h0.8M407.1 81.7h0.8M416.9 57.5h0.8M392.5 77.9h0.8M406.1 98.4h0.8M444.1 90.2h0.8M415.4 90.7h0.8M430.9 74.1h0.8M403 85.4h0.8M414 64.9h0.8M415.8 68h0.8M420.5 92.3h0.8M378.2 88.9h0.8M412.6 77.7h0.8M423.1 103.8h0.8M416.7 73h0.8M389.7 72.2h0.8M395.6 95.1h0.8M413.8 83.6h0.8M422 84h0.8M410.3 75.5h0.8M401.1 84.2h0.8M393.5 100.4h0.8M411.5 78.4h0.8M423.4 73.3h0.8M424.6 84.7h0.8M436.1 78.4h0.8M404.2 75.4h0.8M392.4 86.3h0.8M395 87h0.8M400.8 94.3h0.8M374.2 88h0.8M410.4 83.8h0.8M400.9 101.2h0.8M404 88.1h0.8M406.1 80.2h0.8M411 90.5h0.8M394.2 79.1h0.8M390.1 87.8h0.8M397.8 76.4h0.8M418.8 83.7h0.8M415.4 82.4h0.8M415.4 84.7h0.8M394.2 85.9h0.8M404.9 81.4h0.8M413.6 78.3h0.8M394.9 95.6h0.8M435.4 80.4h0.8M425.7 87.6h0.8M400.7 75.5h0.8M405.8 79.5h0.8M405.1 82.6h0.8M393.9 92.4h0.8M393.9 73.1h0.8M422.6 91.4h0.8M430 85.2h0.8M400.7 95.2h0.8M408.4 82.6h0.8M397.9 87.8h0.8M376.7 89h0.8M381.8 92.5h0.8M388 90.6h0.8M444.3 81h0.8M393.4 103.2h0.8M403.5 72.7h0.8M427.3 55.4h0.8M389 70.7h0.8M400 63.6h0.8M421.2 94h0.8M408.9 79.7h0.8M387.8 88.5h0.8M399.9 89.9h0.8M424 84.3h0.8M380.1 74.4h0.8M428.8 86.5h0.8M429.6 61.5h0.8M408.1 82h0.8M387 77.4h0.8M423.4 89.2h0.8M402.2 87.1h0.8M426.4 73h0.8M413.8 94.3h0.8M400.1 96.8h0.8M408.5 94.9h0.8M422.7 86.5h0.8M405.7 77.3h0.8M412.1 85.9h0.8M429.4 83h0.8M414.7 100.7h0.8M414.3 88.4h0.8M432.3 84.8h0.8M415.4 91.4h0.8M408.2 72.7h0.8M389.3 81.8h0.8M425.5 93.8h0.8M432.6 92.9h0.8M400.7 69.3h0.8M402.6 81.2h0.8M399.4 93.1h0.8M398.7 89.7h0.8M420.7 66.4h0.8M403.9 96.4h0.8M421.6 85.1h0.8M394.3 76.8h0.8M411 96.5h0.8M416.7 83h0.8M413 91.6h0.8M385.2 73.9h0.8M410.2 95.9h0.8M424.9 76h0.8M410.1 76.4h0.8M404.3 85.3h0.8M404.7 78.2h0.8M393.5 68h0.8M407.1 85.7h0.8M418.4 75.6h0.8M399.6 96.4h0.8M415.5 92.6h0.8M401.8 76.7h0.8M393.6 93.7h0.8M393.8 66.5h0.8M399.3 96.4h0.8M410.1 86.1h0.8M411.4 83.3h0.8M407.4 69.8h0.8M433 82.3h0.8M426.7 68.2h0.8M417.3 72h0.8M391.7 86.5h0.8M424.1 97.4h0.8M428.3 81.1h0.8M420.7 77.8h0.8M402.2 86.2h0.8M408.1 92.3h0.8M384.1 95.1h0.8M401.6 98.5h0.8M425.7 72.3h0.8M409 90.6h0.8M398.7 76.4h0.8M405.5 91.2h0.8M422.4 79.6h0.8M421.3 98.5h0.8M422.6 76.5h0.8M398 86.7h0.8M421.2 88.1h0.8" stroke="#000" stroke-width="0.8" stroke-opacity="0.45"/><path d="M358.6 64.5h0.9M376.7 67h0.9M383.3 63.8h0.9M359.2 65.4h0.9M383 71.4h0.9M357.5 61.3h0.9M375.5 67.9h0.9M350.5 62.7h0.9M367.3 66.8h0.9M364.5 68.7h0.9M358.9 66.6h0.9M370.1 67.1h0.9M359.9 69.5h0.9M367.8 65h0.9M361 71.4h0.9M369 61.8h0.9M351.9 68.1h0.9M382.5 69.9h0.9M360.8 69.3h0.9M363.1 66.5h0.9M367.1 60.7h0.9M374 69.2h0.9M358.2 64.8h0.9M349.8 68.4h0.9M364.6 68.1h0.9M381.7 60.5h0.9M355.1 65h0.9M373.3 66.7h0.9M352.7 68.2h0.9M367.4 72.6h0.9M365.8 66.1h0.9M357.5 64.9h0.9M368.3 70.1h0.9M360.5 67.1h0.9M378 67.8h0.9M368.4 64.1h0.9M356.4 60.7h0.9M376.6 66.7h0.9M350 67.8h0.9M375.5 67h0.9M373 67.3h0.9M349.6 64.6h0.9M360.2 74.7h0.9M369.4 66.7h0.9M366.2 68.2h0.9M358.2 67.2h0.9M360.2 69.9h0.9M380 71.7h0.9M359.5 69.3h0.9M355.1 64h0.9M363.8 69.4h0.9M362.3 70.1h0.9M372.1 69.9h0.9M361.3 63.2h0.9M382.7 66h0.9M371 69.1h0.9M359.2 73.3h0.9M370.4 67.5h0.9M358.5 64.4h0.9M358.2 66.1h0.9M368.5 66.4h0.9M370.1 65.5h0.9M357.4 70.4h0.9M355.6 69.4h0.9M368.5 67.5h0.9M351.1 63.4h0.9M372.4 64.7h0.9M349.5 65.9h0.9M362 62.2h0.9M369.6 69.8h0.9M356.5 70.1h0.9M361.2 67.7h0.9M375.5 66.5h0.9M352 68.2h0.9M364.7 68.9h0.9M359.4 68h0.9M356.8 69.3h0.9M355.8 65.5h0.9M375.6 65.1h0.9M363 69.3h0.9M359.5 70.3h0.9M356.7 70.7h0.9M363.7 72h0.9M380.4 64.8h0.9M362.7 65.9h0.9M358.9 71.8h0.9M366 65.8h0.9M355.5 66.9h0.9M367.9 66h0.9M393.3 68.1h0.9M350.7 67.7h0.9M375.4 68.8h0.9M359.4 65.4h0.9M354.4 63.8h0.9M357.4 68.3h0.9M356.9 72.6h0.9M367.1 66.1h0.9M362.6 72.1h0.9M392 70.6h0.9M353.2 67.9h0.9M360.4 76.3h0.9M355.7 66.6h0.9M359.4 63h0.9M368.5 66.1h0.9M368.3 69.9h0.9M370.5 62.1h0.9M379.3 70.2h0.9M371.7 67.5h0.9M362.9 65.8h0.9M367.5 70.4h0.9M356.8 70.1h0.9M357.9 69.4h0.9M361.4 70.2h0.9M383.9 68.2h0.9M357.7 66.2h0.9M369.7 65.9h0.9M373.6 68.4h0.9M372.8 65.8h0.9M352.6 65.2h0.9M367.3 65h0.9M370.5 61h0.9M355.8 67h0.9M360.4 69.8h0.9M353.9 62.4h0.9M357.1 67.9h0.9M364 68h0.9M376.2 66.4h0.9M360.7 64.8h0.9M356.6 70.8h0.9M367 59.3h0.9M376.1 61.2h0.9M358.6 70.6h0.9M364.5 69.3h0.9M372.5 68.5h0.9M355.5 59.9h0.9M359.9 69.2h0.9M364.4 67.5h0.9M381.9 68.4h0.9M373 68.6h0.9M380.9 66.4h0.9M375.9 73.3h0.9M359.1 70.8h0.9M371.1 64.9h0.9M359.6 68.1h0.9M366.3 70.2h0.9M380.1 68.9h0.9M367.4 68h0.9M380.4 68.4h0.9M359.3 69h0.9M363.9 72.9h0.9M370.7 68.8h0.9M365.3 63.9h0.9M362.4 68.5h0.9M374 69h0.9M370.8 69.8h0.9M357.6 68.6h0.9M361 63.7h0.9M378.9 72.1h0.9M354.2 72.3h0.9M380.3 65.2h0.9M368.7 73h0.9M364.4 71.3h0.9M356.7 66.6h0.9M372.9 67.1h0.9M364.8 67.9h0.9M352.3 72.3h0.9M362 66.6h0.9M358.6 67.8h0.9M353.3 70.4h0.9M359.7 70.1h0.9M353.9 64.4h0.9M353.4 68.3h0.9M359.8 70.4h0.9M359.3 70.2h0.9M352.3 64.1h0.9M369.8 65.9h0.9M374.8 65.4h0.9M368.9 65h0.9M361.1 70.7h0.9M365.3 62.2h0.9M367.6 71h0.9M377.3 72.8h0.9M367.6 67.3h0.9M364.1 63.9h0.9M371.3 69.9h0.9M367.1 65.1h0.9M370.3 65.8h0.9M376.8 65.7h0.9M357.6 66.6h0.9M352.1 64.7h0.9M360.2 59.8h0.9M385 68.7h0.9M366.4 64.8h0.9M365.3 67.5h0.9M364.3 62.9h0.9M361.9 61.6h0.9M361 64.7h0.9M356.6 66.5h0.9M372.3 71.4h0.9M363.5 64.1h0.9M379.3 63.1h0.9M357.2 66.9h0.9M355.1 71.8h0.9M367.5 70.9h0.9M359.9 70.3h0.9M361.5 67.1h0.9M366.4 68.8h0.9M369.3 66.9h0.9M354.2 70.1h0.9M359.3 62.5h0.9M367.6 69.1h0.9M367.7 74.4h0.9M354 68.4h0.9M364.7 65.3h0.9M366.2 71.5h0.9M353.7 68.9h0.9M374 69.6h0.9M358.8 71.4h0.9M361.6 73.7h0.9M349.6 69.1h0.9M353.5 73.1h0.9M380.1 64.6h0.9M371.2 67.4h0.9M364.1 69.1h0.9M358.9 68.4h0.9M366.4 68.4h0.9M350.1 67.9h0.9M368.8 62.8h0.9M379.8 72.1h0.9M364.8 74.1h0.9M354.3 64.5h0.9M356.2 65.2h0.9M383.2 67.7h0.9M362.4 68.7h0.9M380.4 68h0.9M358.9 68.4h0.9M376.8 66.9h0.9M378.4 68.5h0.9M361.1 69.1h0.9M384.6 66.7h0.9M378.1 69.3h0.9M364.8 67.7h0.9M372 69.5h0.9M367.1 69.6h0.9M353.7 65.4h0.9M352.2 66.4h0.9M360.8 66.4h0.9M368.9 64.5h0.9M360.4 70.3h0.9M381.4 67.7h0.9M376.1 71.9h0.9M352 68.3h0.9M351.7 66.3h0.9M367.5 63.5h0.9M368.8 67.1h0.9M360.4 69.2h0.9M354.1 62.2h0.9M363.4 65.2h0.9M360.9 64h0.9M352.9 64.3h0.9M354.5 67.6h0.9M397.2 65.5h0.9M349.6 64.7h0.9M359.2 67.6h0.9M363.7 68.2h0.9M361.6 71h0.9M372 65.8h0.9M360.6 63.2h0.9M370 66.8h0.9M383.4 65.3h0.9M379.3 64.6h0.9M366.6 70.7h0.9M353.4 70.5h0.9M357.2 65.8h0.9M359.6 72.6h0.9M364.8 68.4h0.9M365.8 72.6h0.9M353.5 65.2h0.9M352.9 65.4h0.9M370 64.9h0.9M376.5 67.5h0.9M353 65.4h0.9M375.2 70.2h0.9M352.2 66h0.9M380 65.2h0.9M365.1 69h0.9M360.6 66.8h0.9M359.1 67.8h0.9M364.6 63.3h0.9M367.5 64.5h0.9M363.7 69.2h0.9M358 62.8h0.9M360.9 70.3h0.9M362.1 62.8h0.9M367.6 66.8h0.9M360.7 67.6h0.9M368.6 67h0.9M352.2 67h0.9M364 71.1h0.9M353.1 68.2h0.9M356.7 57.7h0.9M372.8 65.3h0.9M350.8 62.6h0.9M351 63.3h0.9M361 67.8h0.9M361.7 68.5h0.9M353.6 69.3h0.9M361.4 68.8h0.9M369.1 66.2h0.9M375.9 69.9h0.9M358.1 72.9h0.9M380.5 62.6h0.9M367.6 70.3h0.9M369.7 67.3h0.9M373 69.6h0.9M357.9 68h0.9M374.1 65.4h0.9M355.9 64.8h0.9M378.3 69.5h0.9M371.7 66.2h0.9M362.4 71.2h0.9M359.7 71.1h0.9M362.5 67.3h0.9M368.6 70.1h0.9M381.5 66.3h0.9M380.8 65h0.9M353.5 60.4h0.9M371.8 72h0.9M349.9 66.4h0.9M360 62.6h0.9M363.5 68.4h0.9M357.4 64.2h0.9M364.2 69.3h0.9M368.8 58.7h0.9M366.2 72.8h0.9M359.6 69.3h0.9M361.1 63.9h0.9M378.1 68.4h0.9M364.7 61.2h0.9M356.2 63.3h0.9M371.8 65h0.9M355.8 68.8h0.9" stroke="#000" stroke-width="0.9" stroke-opacity="0.5"/><path d="M387 77.5h0.9M387.9 97h0.9M384.5 77h0.9M386.1 94.6h0.9M389.6 82h0.9M389.1 84.4h0.9M386 86.8h0.9M384.7 102.2h0.9M382.5 96h0.9M383.7 87.5h0.9M382.4 89.8h0.9M378.6 85.3h0.9M387.4 96.1h0.9M379.7 76.9h0.9M383.2 106.2h0.9M383.2 87.8h0.9M383.7 90.9h0.9M381.8 90.4h0.9M385.9 98.1h0.9M381.9 96.8h0.9M390.1 95.7h0.9M386.5 63.9h0.9M388.4 106.8h0.9M388.1 92.9h0.9M382.4 84h0.9M387.7 90.5h0.9M378.1 90.1h0.9M385.5 78.7h0.9M385.6 90.4h0.9M379.2 93h0.9M390.9 105.2h0.9M381.1 74.9h0.9M384.7 90.7h0.9M380.5 80.6h0.9M388.5 90.4h0.9M387.6 87.6h0.9M387.5 82.7h0.9M382.9 78.5h0.9M378.8 84h0.9M380.4 83.3h0.9M384.9 89.6h0.9M385.6 84h0.9M384.3 99.4h0.9M384 88.2h0.9M377.2 76.9h0.9M387.7 79.3h0.9M381.3 97.5h0.9M380.8 97.7h0.9M384.2 81.6h0.9M378.3 101h0.9M379 75.6h0.9M386.8 75.5h0.9M386 87.4h0.9M383.6 77.3h0.9M382.5 90.5h0.9M381.5 94.1h0.9M385.2 93.2h0.9M385.1 93.4h0.9M385.6 96h0.9M385.6 91h0.9M381.7 70.6h0.9M384.6 97.3h0.9M381.7 72h0.9M382.8 91.4h0.9M387 84.6h0.9M380.9 87.2h0.9M386.5 87.2h0.9M387.5 82.8h0.9M387 104.1h0.9M381.5 79.1h0.9M385.9 87.5h0.9M388.3 86.7h0.9M379.6 78.3h0.9M388.5 71h0.9M380.2 95.9h0.9M384.9 99.8h0.9M381.3 80.5h0.9M383.4 75.5h0.9M383.7 86.1h0.9M387 86.9h0.9M383.2 92.7h0.9M387.7 98.1h0.9M385.3 84h0.9M383 74.8h0.9M384.6 87.5h0.9M389.4 90h0.9M386.7 100.8h0.9M378.9 81.4h0.9M383.7 89h0.9M381 96.3h0.9M387.1 92.8h0.9M386.5 76.8h0.9M387.8 81.7h0.9M378.8 89h0.9M385.7 81h0.9M379.5 76.3h0.9M384 62.5h0.9M387.5 97.8h0.9M383.9 98.3h0.9M383.9 76.5h0.9M386.3 93.4h0.9M381.7 73.7h0.9M381.5 99.4h0.9M382.5 93.8h0.9M385.4 85.5h0.9M386.9 79.2h0.9M384.3 76.1h0.9M377.9 88.5h0.9M381 74.8h0.9M386.2 86.2h0.9M385.6 105h0.9M385 92.3h0.9M380.9 96.1h0.9M387 77.3h0.9M386.4 91h0.9M383.8 88.6h0.9M391.7 81.3h0.9M383.4 88.8h0.9M383.9 69.6h0.9M386.4 97h0.9M389.6 82.2h0.9M380.7 94.4h0.9M381.4 87.8h0.9M383.2 89.7h0.9M383.1 94.8h0.9M386.8 81.6h0.9M381.6 86h0.9M383 79.6h0.9M388.6 97.5h0.9M381.2 93.4h0.9M384.5 95.5h0.9M384.7 107.8h0.9M383 101.3h0.9M384.1 104.5h0.9M383.9 77.2h0.9M381.2 81.5h0.9M386.3 91.6h0.9M384.8 98.5h0.9M389.4 77.8h0.9M382.6 82.2h0.9M385.7 90.2h0.9M382.9 87.2h0.9M389.3 97.1h0.9M382.1 70.8h0.9M381.2 89.7h0.9M382.1 79.5h0.9M386.6 85.1h0.9M383.3 90.1h0.9M388.8 91h0.9M386.6 88.8h0.9M389.1 75.7h0.9M381.1 82.9h0.9M390.6 103.4h0.9M381.2 83.4h0.9M386.1 88.7h0.9M387.1 83.1h0.9M379.5 94.1h0.9M388.2 72.6h0.9M378.9 83.5h0.9M378.9 92.3h0.9M381 95.4h0.9M383.5 89.3h0.9M386.5 86h0.9M381.5 97.1h0.9M380.1 102.1h0.9M382.7 82.7h0.9M385.7 92.2h0.9M386 73.3h0.9M381.9 91.4h0.9M385.6 87.1h0.9M388.4 86.2h0.9M387.3 98.9h0.9M385.5 86.1h0.9M386.7 92.5h0.9M386.4 79.4h0.9M385.9 104h0.9M383.7 89.4h0.9M383.8 96.8h0.9M378.3 104h0.9M386 85.8h0.9M385.3 99.3h0.9M385.6 94.8h0.9M388.1 89.8h0.9M386.7 102.8h0.9M386.2 81.9h0.9M386.8 108.4h0.9M383.6 92.6h0.9M385.8 96.9h0.9M383.3 87.9h0.9M390.4 95h0.9M382.7 96h0.9M384.7 103.4h0.9M379.7 89.2h0.9M387.5 75.6h0.9M382.3 92.9h0.9M384.7 85.2h0.9M385.5 74.4h0.9M382.1 105.4h0.9M382.6 92.5h0.9M384.4 96.7h0.9M385.5 92.2h0.9M388 91.4h0.9M379.5 81.6h0.9M388.8 98.7h0.9M383.9 72.4h0.9M382.4 108.8h0.9M388.1 100.3h0.9M379.8 74.8h0.9M382.8 74.8h0.9M384.9 77.4h0.9M386 86h0.9M382.9 94.6h0.9M385.9 89.5h0.9M383.5 87.7h0.9M378.8 68.8h0.9M382.5 89.5h0.9M389.8 92.1h0.9M381.6 83.3h0.9M380.8 87.7h0.9M384.3 87.8h0.9M385.3 98.4h0.9M386.6 76.7h0.9M387 78.1h0.9M385.7 89.1h0.9M389.5 87.1h0.9M384.3 85.4h0.9M387.1 91.2h0.9M383.8 96.4h0.9M390.8 104.2h0.9M389 82.9h0.9M384.3 89.8h0.9M379.5 105.2h0.9M380.3 92.2h0.9M380.9 89.4h0.9M387 93.4h0.9M382 81.8h0.9M387.3 87.6h0.9M384.9 97.5h0.9M377.1 90.8h0.9M388.3 105.8h0.9M386.6 81h0.9M387.4 106.7h0.9M382.7 81.2h0.9M384.1 84.2h0.9M378.6 65h0.9M380.7 82h0.9M385.9 83.1h0.9M385.1 101.7h0.9M393.4 96.9h0.9M381.7 98h0.9M384.6 91.6h0.9M387.4 95.9h0.9M380.7 77h0.9M385.4 95.2h0.9M390.8 94.1h0.9M383.5 83.4h0.9M382.5 75.5h0.9M380.7 82.8h0.9M384.8 80.6h0.9M384.6 85.4h0.9M383.9 83.9h0.9M385.4 88.3h0.9M376.8 90.8h0.9M384.9 82.2h0.9M385 81.3h0.9M384.9 79.6h0.9M386.6 91.6h0.9M380.3 81.3h0.9M386.6 92.1h0.9M385 77h0.9M382.5 89.7h0.9M385.4 88h0.9M382.1 85.9h0.9M383.1 76.7h0.9M381.3 80.2h0.9M380.1 92.7h0.9M386.8 96.8h0.9M382.2 80.7h0.9M385.3 83.5h0.9M383.6 85h0.9M379.8 100.5h0.9M380.3 72.7h0.9M386.9 77.3h0.9M387.7 91.4h0.9M385.6 84.3h0.9M380.4 76.4h0.9M384.8 87h0.9M381 76.9h0.9M382 87.4h0.9M385.8 96.8h0.9M383.4 102h0.9M386.6 102.4h0.9M381.9 93.7h0.9M387.7 70.8h0.9" stroke="#000" stroke-width="0.9" stroke-opacity="0.55"/><path d="M347 72.3L366 71.8L375.5 73.2L380.8 77.5L382.6 87L382.2 100L381 111L347 111Z" fill="#000" filter="url(#b1)"/></g><clipPath id="kR"><path d="M351.7 79.2L358 77.8L369 76.8L374 77.8L376.9 80.2L378.7 87L377.9 98.5L376.9 107.6L351.7 107.6Z"/></clipPath><linearGradient id="gkR" x1="0" y1="0" x2="0" y2="1"><stop offset="0" stop-color="#909090"/><stop offset="1" stop-color="#d8d8d8"/></linearGradient><path d="M351.7 79.2L358 77.8L369 76.8L374 77.8L376.9 80.2L378.7 87L377.9 98.5L376.9 107.6L351.7 107.6Z" fill="url(#gkR)"/><g clip-path="url(#kR)" fill="none" stroke="#4a4a4a" stroke-width="0.5"><ellipse cx="368" cy="86" rx="2.2" ry="1.8"/><ellipse cx="368" cy="86" rx="4.4" ry="3.5"/><ellipse cx="368" cy="86" rx="6.6" ry="5.3"/><ellipse cx="368" cy="86" rx="8.8" ry="7"/><ellipse cx="368" cy="86" rx="11" ry="8.8"/><ellipse cx="368" cy="86" rx="13.2" ry="10.6"/><ellipse cx="368" cy="86" rx="15.4" ry="12.3"/><ellipse cx="368" cy="86" rx="17.6" ry="14.1"/><ellipse cx="368" cy="86" rx="19.8" ry="15.8"/><ellipse cx="368" cy="86" rx="22" ry="17.6"/><ellipse cx="368" cy="86" rx="24.2" ry="19.4"/><ellipse cx="368" cy="86" rx="26.4" ry="21.1"/><ellipse cx="368" cy="86" rx="28.6" ry="22.9"/><ellipse cx="368" cy="86" rx="30.8" ry="24.6"/><ellipse cx="368" cy="86" rx="33" ry="26.4"/><ellipse cx="368" cy="86" rx="35.2" ry="28.2"/><ellipse cx="368" cy="86" rx="37.4" ry="29.9"/><ellipse cx="368" cy="86" rx="39.6" ry="31.7"/></g><path d="M351.7 79.2L358 77.8L369 76.8L374 77.8L376.9 80.2L378.7 87L377.9 98.5L376.9 107.6L351.7 107.6Z" fill="none" stroke="#fff" stroke-width="1.3"/><path d="M390.5 10.3L390.5 109.7" stroke="#444" stroke-width="1.4"/><path d="M348.6 62.5L450.8 62.5" stroke="#444" stroke-width="1.4"/><rect x="348.6" y="10.3" width="102.2" height="99.4" fill="none" stroke="#000" stroke-width="1.8"/><path d="M346.6 109.7L348.6 109.7" stroke="#000" stroke-width="0.5"/><path d="M347.4 102.2L348.6 102.2" stroke="#000" stroke-width="0.5"/><path d="M347.4 97.8L348.6 97.8" stroke="#000" stroke-width="0.5"/><path d="M347.4 94.7L348.6 94.7" stroke="#000" stroke-width="0.5"/><path d="M347.4 92.3L348.6 92.3" stroke="#000" stroke-width="0.5"/><path d="M347.4 90.4L348.6 90.4" stroke="#000" stroke-width="0.5"/><path d="M347.4 88.7L348.6 88.7" stroke="#000" stroke-width="0.5"/><path d="M347.4 87.3L348.6 87.3" stroke="#000" stroke-width="0.5"/><path d="M347.4 86L348.6 86" stroke="#000" stroke-width="0.5"/><path d="M346.6 84.8L348.6 84.8" stroke="#000" stroke-width="0.5"/><path d="M347.4 77.4L348.6 77.4" stroke="#000" stroke-width="0.5"/><path d="M347.4 73L348.6 73" stroke="#000" stroke-width="0.5"/><path d="M347.4 69.9L348.6 69.9" stroke="#000" stroke-width="0.5"/><path d="M347.4 67.5L348.6 67.5" stroke="#000" stroke-width="0.5"/><path d="M347.4 65.5L348.6 65.5" stroke="#000" stroke-width="0.5"/><path d="M347.4 63.8L348.6 63.8" stroke="#000" stroke-width="0.5"/><path d="M347.4 62.4L348.6 62.4" stroke="#000" stroke-width="0.5"/><path d="M347.4 61.1L348.6 61.1" stroke="#000" stroke-width="0.5"/><path d="M346.6 60L348.6 60" stroke="#000" stroke-width="0.5"/><path d="M347.4 52.5L348.6 52.5" stroke="#000" stroke-width="0.5"/><path d="M347.4 48.1L348.6 48.1" stroke="#000" stroke-width="0.5"/><path d="M347.4 45L348.6 45" stroke="#000" stroke-width="0.5"/><path d="M347.4 42.6L348.6 42.6" stroke="#000" stroke-width="0.5"/><path d="M347.4 40.7L348.6 40.7" stroke="#000" stroke-width="0.5"/><path d="M347.4 39L348.6 39" stroke="#000" stroke-width="0.5"/><path d="M347.4 37.6L348.6 37.6" stroke="#000" stroke-width="0.5"/><path d="M347.4 36.3L348.6 36.3" stroke="#000" stroke-width="0.5"/><path d="M346.6 35.1L348.6 35.1" stroke="#000" stroke-width="0.5"/><path d="M347.4 27.7L348.6 27.7" stroke="#000" stroke-width="0.5"/><path d="M347.4 23.3L348.6 23.3" stroke="#000" stroke-width="0.5"/><path d="M347.4 20.2L348.6 20.2" stroke="#000" stroke-width="0.5"/><path d="M347.4 17.8L348.6 17.8" stroke="#000" stroke-width="0.5"/><path d="M347.4 15.8L348.6 15.8" stroke="#000" stroke-width="0.5"/><path d="M347.4 14.1L348.6 14.1" stroke="#000" stroke-width="0.5"/><path d="M347.4 12.7L348.6 12.7" stroke="#000" stroke-width="0.5"/><path d="M347.4 11.4L348.6 11.4" stroke="#000" stroke-width="0.5"/><path d="M346.6 10.3L348.6 10.3" stroke="#000" stroke-width="0.5"/><path d="M348.6 109.7L348.6 111.7" stroke="#000" stroke-width="0.5"/><path d="M356.3 109.7L356.3 110.9" stroke="#000" stroke-width="0.5"/><path d="M360.8 109.7L360.8 110.9" stroke="#000" stroke-width="0.5"/><path d="M364 109.7L364 110.9" stroke="#000" stroke-width="0.5"/><path d="M366.5 109.7L366.5 110.9" stroke="#000" stroke-width="0.5"/><path d="M368.5 109.7L368.5 110.9" stroke="#000" stroke-width="0.5"/><path d="M370.2 109.7L370.2 110.9" stroke="#000" stroke-width="0.5"/><path d="M371.7 109.7L371.7 110.9" stroke="#000" stroke-width="0.5"/><path d="M373 109.7L373 110.9" stroke="#000" stroke-width="0.5"/><path d="M374.2 109.7L374.2 111.7" stroke="#000" stroke-width="0.5"/><path d="M381.8 109.7L381.8 110.9" stroke="#000" stroke-width="0.5"/><path d="M386.3 109.7L386.3 110.9" stroke="#000" stroke-width="0.5"/><path d="M389.5 109.7L389.5 110.9" stroke="#000" stroke-width="0.5"/><path d="M392 109.7L392 110.9" stroke="#000" stroke-width="0.5"/><path d="M394 109.7L394 110.9" stroke="#000" stroke-width="0.5"/><path d="M395.7 109.7L395.7 110.9" stroke="#000" stroke-width="0.5"/><path d="M397.2 109.7L397.2 110.9" stroke="#000" stroke-width="0.5"/><path d="M398.5 109.7L398.5 110.9" stroke="#000" stroke-width="0.5"/><path d="M399.7 109.7L399.7 111.7" stroke="#000" stroke-width="0.5"/><path d="M407.4 109.7L407.4 110.9" stroke="#000" stroke-width="0.5"/><path d="M411.9 109.7L411.9 110.9" stroke="#000" stroke-width="0.5"/><path d="M415.1 109.7L415.1 110.9" stroke="#000" stroke-width="0.5"/><path d="M417.6 109.7L417.6 110.9" stroke="#000" stroke-width="0.5"/><path d="M419.6 109.7L419.6 110.9" stroke="#000" stroke-width="0.5"/><path d="M421.3 109.7L421.3 110.9" stroke="#000" stroke-width="0.5"/><path d="M422.8 109.7L422.8 110.9" stroke="#000" stroke-width="0.5"/><path d="M424.1 109.7L424.1 110.9" stroke="#000" stroke-width="0.5"/><path d="M425.2 109.7L425.2 111.7" stroke="#000" stroke-width="0.5"/><path d="M432.9 109.7L432.9 110.9" stroke="#000" stroke-width="0.5"/><path d="M437.4 109.7L437.4 110.9" stroke="#000" stroke-width="0.5"/><path d="M440.6 109.7L440.6 110.9" stroke="#000" stroke-width="0.5"/><path d="M443.1 109.7L443.1 110.9" stroke="#000" stroke-width="0.5"/><path d="M445.1 109.7L445.1 110.9" stroke="#000" stroke-width="0.5"/><path d="M446.8 109.7L446.8 110.9" stroke="#000" stroke-width="0.5"/><path d="M448.3 109.7L448.3 110.9" stroke="#000" stroke-width="0.5"/><path d="M449.6 109.7L449.6 110.9" stroke="#000" stroke-width="0.5"/><path d="M450.8 109.7L450.8 111.7" stroke="#000" stroke-width="0.5"/><text x="344.8" y="111.7" font-size="4.9" fill="#444" text-anchor="end">10<tspan dy="-1.8" font-size="3.4">0</tspan></text><text x="344.8" y="86.8" font-size="4.9" fill="#444" text-anchor="end">10<tspan dy="-1.8" font-size="3.4">1</tspan></text><text x="344.8" y="62" font-size="4.9" fill="#444" text-anchor="end">10<tspan dy="-1.8" font-size="3.4">2</tspan></text><text x="344.8" y="37.1" font-size="4.9" fill="#444" text-anchor="end">10<tspan dy="-1.8" font-size="3.4">3</tspan></text><text x="344.8" y="12.3" font-size="4.9" fill="#444" text-anchor="end">10<tspan dy="-1.8" font-size="3.4">4</tspan></text><text x="348.6" y="120.7" font-size="4.9" fill="#444" text-anchor="middle">10<tspan dy="-1.8" font-size="3.4">0</tspan></text><text x="374.2" y="120.7" font-size="4.9" fill="#444" text-anchor="middle">10<tspan dy="-1.8" font-size="3.4">1</tspan></text><text x="399.7" y="120.7" font-size="4.9" fill="#444" text-anchor="middle">10<tspan dy="-1.8" font-size="3.4">2</tspan></text><text x="425.2" y="120.7" font-size="4.9" fill="#444" text-anchor="middle">10<tspan dy="-1.8" font-size="3.4">3</tspan></text><text x="450.8" y="120.7" font-size="4.9" fill="#444" text-anchor="middle">10<tspan dy="-1.8" font-size="3.4">4</tspan></text><text x="331.6" y="59" font-size="14" text-anchor="middle" transform="rotate(-90 331.6 59)" fill="#000">CD271-APC</text><text x="400.3" y="135.3" font-size="13.5" text-anchor="middle" fill="#000">CD146-PE</text><clipPath id="kD1"><path d="M43 413.5L48.8 405.8L64.2 401L83.5 398L100.8 396.5L105.6 400.5L104.6 407.7L93 413.5L77.7 418.3L64.2 424L43 426Z" transform="translate(-7 -30) scale(1.1 1.075)"/></clipPath><path d="M43 413.5L48.8 405.8L64.2 401L83.5 398L100.8 396.5L105.6 400.5L104.6 407.7L93 413.5L77.7 418.3L64.2 424L43 426Z" fill="#939393" filter="url(#b1)"/><g clip-path="url(#kD1)"><path d="M88.6 409.5h0.8M88.3 408.6h0.8M90.8 405.6h0.8M69.8 415.4h0.8M84.3 403.5h0.8M93 411.5h0.8M88.9 404.9h0.8M93.1 408.8h0.8M88.2 407.8h0.8M69.7 409.8h0.8M68.8 416.4h0.8M65.3 411.2h0.8M80.1 408.9h0.8M48.4 415.3h0.8M72.8 418.2h0.8M83.9 405.1h0.8M61.1 412.9h0.8M78.3 407.3h0.8M80.4 404.3h0.8M81.5 414.4h0.8M79.8 411.9h0.8M77.3 410.4h0.8M79.8 410.5h0.8M78.7 416.6h0.8M90.4 411.1h0.8M67.2 411.2h0.8M88.9 403.6h0.8M88.1 402.6h0.8M105.1 408.7h0.8M68.4 411.1h0.8M49.1 417.5h0.8M92.2 409.4h0.8M74.5 419.5h0.8M83.7 410.7h0.8M72.6 414.2h0.8M54.3 417.3h0.8M102.3 409.2h0.8M69.6 414h0.8M57.2 418.2h0.8M64 411.9h0.8M67.9 410.2h0.8M99.7 411h0.8M72.3 412.3h0.8M97.9 404.4h0.8M69.4 409.3h0.8M96.6 406.5h0.8M75.7 409.4h0.8M64.9 417.6h0.8M65.3 411.6h0.8M52.9 412.4h0.8M68.7 410.8h0.8M55.5 413.6h0.8M71.7 401.6h0.8M83.3 408.1h0.8M58 414.4h0.8M81.7 409.5h0.8M76.4 410.9h0.8M83.1 403.8h0.8M68.5 414.4h0.8M75.2 406.9h0.8M71.4 409.3h0.8M74.5 404.7h0.8M53.1 410.9h0.8M76.3 420.7h0.8M89.8 412.4h0.8M77.4 416.9h0.8M80.5 410.1h0.8M88.9 402.9h0.8M45.8 413.7h0.8M95.1 409.8h0.8M78 409.5h0.8M73.8 413h0.8M65.1 416.7h0.8M64.2 419.2h0.8M70.4 408.6h0.8M71 408.4h0.8M72.2 404.6h0.8M69.3 412.9h0.8M80.4 408.3h0.8M90 400.6h0.8M72.3 409.9h0.8M75.3 410h0.8M93.9 406.4h0.8M65.8 423.4h0.8M76 410.3h0.8M86.7 405.8h0.8M73.5 415h0.8M59.6 413.2h0.8M89.7 414.7h0.8M74.5 410.9h0.8M88.6 401.8h0.8M65.7 410.3h0.8M45.7 406.8h0.8M71.1 415.8h0.8M85.6 413.6h0.8M92.4 403.3h0.8M58.7 416.6h0.8M76.4 413.4h0.8M76.7 415.7h0.8M85 409.7h0.8M71.3 414.9h0.8M67.8 416.8h0.8M91.8 410.8h0.8M59.2 416.9h0.8M81.4 413.1h0.8M54.5 413.9h0.8M76 416.5h0.8M68.6 416.3h0.8M79.5 417.8h0.8M78.5 403.8h0.8M72.3 412.9h0.8M93.2 409.3h0.8M70.8 407.1h0.8M76.1 410.4h0.8M94.3 410.1h0.8M54.9 406.8h0.8M70.5 413.4h0.8M62.4 412.2h0.8M92.3 409.9h0.8M53.2 418h0.8M77.7 409.7h0.8M83.8 411.3h0.8M65.6 411.5h0.8M87.2 416h0.8M84.4 411h0.8M79 408.4h0.8M75.7 406.1h0.8M86.2 410.3h0.8M77.5 407.1h0.8M71.8 409.7h0.8M79.6 408.9h0.8M81.6 413.3h0.8M91.8 402.9h0.8M70.4 407.9h0.8M91.7 403.6h0.8M93.4 404.6h0.8M89.1 405.5h0.8M73.1 412.2h0.8M77 410.1h0.8M85.9 413.3h0.8M86.9 406.3h0.8M51.4 417.6h0.8M83.1 404.3h0.8M83.1 406.6h0.8M92.1 403.9h0.8M64.2 411.3h0.8M78.2 406.3h0.8M105.6 402.1h0.8M99 404.1h0.8M71.1 409.4h0.8M66.3 415.2h0.8M92 407.4h0.8M64.3 414.8h0.8M62.9 403.4h0.8M76 403.9h0.8M67.6 413.3h0.8M70.4 411.3h0.8M97.5 409.5h0.8M96.3 406.8h0.8M80.7 417h0.8M68 414.3h0.8M78 411.7h0.8M84 409.5h0.8M85.9 405.1h0.8M81.6 405.4h0.8M91.2 411.1h0.8M72.7 409.8h0.8M76.1 413.2h0.8M54.9 412.2h0.8M88.1 407.1h0.8M56.7 406.8h0.8M68.3 405.8h0.8M77.4 410.3h0.8M98.9 400.2h0.8M83 404.4h0.8M61.8 413.6h0.8M66.2 420.7h0.8M74.2 408.3h0.8M105.4 400.4h0.8M70.4 411.4h0.8M65.8 415.8h0.8M90.1 402.2h0.8M68.7 411.2h0.8M55.7 410.6h0.8M69.7 408.8h0.8M80.3 413h0.8M78.1 411.4h0.8M62.6 411.7h0.8M81 411.8h0.8M74.6 413.3h0.8M70.9 407.4h0.8M78.9 408.4h0.8M53.6 419.7h0.8M81 412.5h0.8M70.4 418.1h0.8M82.4 413.1h0.8M66.4 411.9h0.8M92 406.7h0.8M76.9 416.5h0.8M90.6 408.1h0.8M98.9 399.2h0.8M73.9 409.1h0.8M96 412.1h0.8M69.2 413.1h0.8M88.1 409.9h0.8M79.7 413.8h0.8M100.9 405.1h0.8M60.9 414.2h0.8M74.6 409.7h0.8M85.2 411.4h0.8M87.7 409.8h0.8M77.9 406.3h0.8M70.2 408.9h0.8M79.5 409.5h0.8M75.4 413.1h0.8M72.6 415.9h0.8M88.2 404.1h0.8M92.2 405.5h0.8M65.8 412.2h0.8M59.3 416.3h0.8M89.7 401.5h0.8M81.5 411.8h0.8M84.6 411.2h0.8M80.7 407.9h0.8M87.3 409.3h0.8M86.1 409.6h0.8M72.1 411.7h0.8M84.3 412.9h0.8M49.6 412.4h0.8M53.9 414.3h0.8M67 413.9h0.8M72.7 416.9h0.8M66.8 410.3h0.8M64.5 412.5h0.8M77.1 408.7h0.8M62.2 408.9h0.8M77.3 408.4h0.8M62.4 413.1h0.8M81.5 417.5h0.8M95.6 402.5h0.8M67.7 405.2h0.8M48.3 410.5h0.8M87 407.5h0.8M55.7 413.2h0.8M68.2 410.2h0.8M92.5 399.1h0.8M69.6 413.3h0.8M79.5 401.4h0.8M76.5 405.7h0.8M66.3 407h0.8M88.1 420h0.8M88.1 406.6h0.8M53.4 419.9h0.8M89.8 403h0.8M85.8 401.3h0.8M58.9 415.6h0.8M58 418.3h0.8M93.9 406.6h0.8M83.2 415.3h0.8M83.3 414.2h0.8M93.1 402.5h0.8M104.9 408.3h0.8M78.4 413.5h0.8M80 410.8h0.8M62.4 412.7h0.8M72.4 416.1h0.8M82.4 411h0.8M75.5 416h0.8M43.3 415.5h0.8M87.8 406.4h0.8M85.6 414.8h0.8M84.9 403h0.8M71.9 407.5h0.8M82.9 413.3h0.8M73.2 413.7h0.8M75.1 418.7h0.8M77.8 411.4h0.8M84.2 413.1h0.8M84.9 408.7h0.8M77.1 412.7h0.8M83.2 407.7h0.8M68.3 412h0.8M81.5 407.9h0.8M61.7 413.2h0.8M70.2 414.8h0.8M69 411.1h0.8M100.6 406.6h0.8M65.2 418.4h0.8M70.5 409.2h0.8M83.1 403.7h0.8M75.7 413.3h0.8M85.2 406.7h0.8M69.5 412.3h0.8M90 400.5h0.8M86.9 409.5h0.8M92.6 402.5h0.8M90.1 404.1h0.8M79.6 408.6h0.8M44.4 418.7h0.8M81.9 412.9h0.8M66.9 408.7h0.8M84.9 407.4h0.8M90.9 412.9h0.8M72.9 411.1h0.8M64.9 405.9h0.8M76.7 413.7h0.8M89.8 407.5h0.8M99.5 403.1h0.8M75.3 409.1h0.8M70.2 411.4h0.8M66.9 411.7h0.8M79.9 410.5h0.8M63.2 416.2h0.8M66.1 415.3h0.8M75.4 403.7h0.8M63.7 417.8h0.8M67.3 410.7h0.8M70.7 412.8h0.8M83.4 408.1h0.8M97.5 403.5h0.8M70 411.8h0.8M79.7 415.9h0.8M106.3 402.2h0.8M74.6 413.9h0.8M75.5 414.6h0.8M63.3 417.6h0.8M48.5 420h0.8M87.2 418h0.8M65.1 416.5h0.8M83.8 405.4h0.8M78.8 407h0.8M59.7 409.2h0.8M72.4 407.8h0.8M49.5 418.8h0.8M54.5 419.1h0.8M78.5 407.1h0.8M54.6 412.8h0.8M58.2 414h0.8M73.6 421.4h0.8M48.2 415.6h0.8M84.3 413h0.8M92.7 403h0.8M83.9 397.6h0.8M73.9 414.9h0.8M84 403.4h0.8M63.1 405.6h0.8M64.9 408.3h0.8M78.9 407.3h0.8M83.7 408.6h0.8M73.2 418.7h0.8M90.1 402.2h0.8M94.9 409.3h0.8M93.9 408.3h0.8M51.9 415.5h0.8M42.6 413.7h0.8M67.9 418.1h0.8M76.7 411.7h0.8M84.8 405.1h0.8M90.7 408.2h0.8M62.7 412h0.8M73.3 414.1h0.8M94.5 405.1h0.8M74.7 418.5h0.8M78.1 409h0.8M85.2 409.9h0.8M66.7 418.8h0.8M65 411.7h0.8M59.9 418.3h0.8M57.4 418.3h0.8M81.9 412.5h0.8M56.4 416.5h0.8M80.4 413.5h0.8M80.4 407.5h0.8M92.4 412.5h0.8M93.2 403.7h0.8M82.1 405.8h0.8M74.4 414.4h0.8M91.5 404h0.8M68.3 412.6h0.8M72.9 406.8h0.8M72.7 405.5h0.8M69.4 419.9h0.8M74.7 409.7h0.8M97.2 407h0.8M83.8 406.7h0.8M90.3 406.1h0.8M88.3 410.5h0.8M100 409h0.8M74.7 407h0.8M71.2 409.4h0.8M96 404.2h0.8M45.6 420.1h0.8M86 404.8h0.8M84.3 403.5h0.8M79.1 409.6h0.8M80.5 411.6h0.8M67.7 416.3h0.8M69.3 413.1h0.8M94.1 402.7h0.8M78.5 416.9h0.8M92.2 404.2h0.8M68.1 415.2h0.8M67.2 413.5h0.8M58.1 418h0.8M54.4 416.9h0.8M84.7 406.1h0.8M53.5 411.4h0.8M51.8 424.3h0.8M48.7 412.5h0.8M80.4 410.1h0.8M91.1 412.6h0.8M81.9 409.2h0.8M68.1 412.2h0.8M89.3 410.2h0.8M82.8 402.4h0.8M64.9 410.9h0.8M67.5 408.7h0.8M86.2 412.8h0.8M100 402.8h0.8M74.6 411.7h0.8M75 407.8h0.8M84.8 400.5h0.8M67.6 405.2h0.8M83.1 403.5h0.8M60.2 414.9h0.8M62 415.5h0.8M72.6 419.9h0.8M58.6 412h0.8M83.8 409.5h0.8M81.7 408.4h0.8M89.2 409.1h0.8M92.6 401.3h0.8M79.2 409.3h0.8M80.5 406h0.8M85.7 403.1h0.8M88.5 410.1h0.8M51.9 418.7h0.8M50.2 419.8h0.8M54.1 416.2h0.8M70.7 405.6h0.8M51.2 419.2h0.8M70.5 416.9h0.8M78 421.9h0.8M80.1 417.3h0.8M80.9 410.1h0.8M82.7 406.2h0.8M68.9 419.6h0.8M72.4 407.2h0.8M82.3 406h0.8M78.3 415.2h0.8M95.6 413.7h0.8M92.8 409.6h0.8M84 410.3h0.8M78 420h0.8M77 417.8h0.8M76 416.1h0.8M69.5 419.3h0.8M96.4 403.5h0.8M76.5 414.9h0.8M80.9 410.4h0.8M88.8 402.6h0.8M99.3 407.3h0.8M78.1 420.2h0.8M75.5 405.2h0.8M96.1 408h0.8M78.2 415.2h0.8M71.9 411.9h0.8M91.5 409.4h0.8M90.3 406.3h0.8M99.1 399.8h0.8M59.3 417.7h0.8M73.6 412.9h0.8M78 410.3h0.8M63.5 415.9h0.8M94.7 403.3h0.8M105 410.7h0.8M67.1 417.1h0.8M62.8 414.3h0.8M62.4 412.7h0.8M52.4 416.8h0.8M62.7 411.1h0.8M51 417.9h0.8M103.4 403.2h0.8M74.7 407.2h0.8M70.6 409.3h0.8M55.7 412.9h0.8M71.1 414h0.8M73.4 413.3h0.8M96.2 410.3h0.8M70.3 405.6h0.8" stroke="#6e6e6e" stroke-width="0.8" stroke-opacity="0.55"/><path d="M59.4 418.8h0.8M68.9 419h0.8M83.2 417.1h0.8M66.1 414.8h0.8M52.8 417.2h0.8M62.4 421.2h0.8M72.8 423.8h0.8M67.6 417.9h0.8M65.2 423.5h0.8M53 421.1h0.8M64.8 417.8h0.8M75.1 415.6h0.8M52.9 418.2h0.8M55.7 423.7h0.8M47.4 413.1h0.8M63.2 421.3h0.8M51.1 423.5h0.8M45.3 422.4h0.8M53.5 416.4h0.8M75 418h0.8M55.4 419.2h0.8M75.7 418.5h0.8M54.4 419.1h0.8M50.6 415.5h0.8M56 420.8h0.8M56.6 420.2h0.8M69.7 424.5h0.8M47 418h0.8M51.2 420.8h0.8M62.4 418.2h0.8M56.2 414.4h0.8M46.9 422.1h0.8M58.8 418.3h0.8M63 421.4h0.8M75.5 417.5h0.8M65.6 411.7h0.8M57.3 415.4h0.8M55.4 422.8h0.8M61.3 418.5h0.8M61 417.3h0.8M58.7 415.6h0.8M56.1 416.5h0.8M59 410.7h0.8M60.9 418.1h0.8M63.7 413.8h0.8M53 421.4h0.8M54.7 420.1h0.8M55 413.4h0.8M48.8 415.8h0.8M56.6 413.3h0.8M71.7 418.3h0.8M53.3 424.1h0.8M66.9 415.2h0.8M52.2 417.5h0.8M66.2 412.6h0.8M69.5 416.7h0.8M67 417.6h0.8M64.3 420.7h0.8M70.7 415.4h0.8M75.4 413.2h0.8M62.9 420.9h0.8M60.6 421.7h0.8M47.7 418.1h0.8M68.4 418.3h0.8M51.7 418.9h0.8M62 414.3h0.8M71 416.1h0.8M52.4 418.7h0.8M55.3 417.5h0.8M62.4 416.6h0.8M65.2 419.4h0.8M70.1 414.3h0.8M61 419.3h0.8M62.8 410h0.8M52.1 419.6h0.8M65 418.4h0.8M62 423.1h0.8M57.8 415.3h0.8M72.3 420.7h0.8M59.3 415.5h0.8M73.2 417.2h0.8M54.2 423.3h0.8M49 417.7h0.8M65.5 417.2h0.8M56.5 420h0.8M51 417.4h0.8M66.2 414h0.8M71.5 417.5h0.8M60 416.4h0.8M65.1 416.4h0.8M62.3 423.2h0.8M70.4 412.3h0.8M71.2 416.3h0.8M62.9 418.7h0.8M62.8 415.9h0.8M65.2 422.3h0.8M56 418.2h0.8M67 422.5h0.8M63.2 419.3h0.8M64.4 416.9h0.8M63.2 417.2h0.8M57.8 409h0.8M46.4 419.7h0.8M66.4 420h0.8M61.3 417.1h0.8M64.9 416.7h0.8M60.5 424.1h0.8M49.6 415.9h0.8M58.5 410.7h0.8M51.1 422.4h0.8M64.5 417.7h0.8M70.7 414.3h0.8M75.5 418h0.8M55.7 422.5h0.8M64.5 419h0.8M59.5 411.1h0.8M44 418.2h0.8M67.9 415.1h0.8M61.1 412h0.8M48.6 417.9h0.8M65.8 421.1h0.8M69.8 415h0.8M59 421.2h0.8M52.3 416.9h0.8M60.3 418.1h0.8M67.2 419.8h0.8M56.8 409h0.8M66.5 422.1h0.8M64.3 419.5h0.8M63.8 422.9h0.8M56.2 417.9h0.8M52.4 417.3h0.8M53.8 414.9h0.8M44.6 417.7h0.8M68.2 406.3h0.8M70.2 417.9h0.8M54.8 419.3h0.8M58.2 417.8h0.8M71.3 418.7h0.8M63 417h0.8M58.7 414.5h0.8M59.1 415h0.8M69.1 417.1h0.8M65.9 423.1h0.8M68.1 415.4h0.8M73.2 410.6h0.8M71.3 408.1h0.8M52.9 417.7h0.8M54.4 409.7h0.8M48.3 419h0.8M46.6 420.5h0.8M69.1 423.3h0.8M62 417.8h0.8M69.5 420.5h0.8M62.7 422.3h0.8M44.9 421.4h0.8M55.5 408.9h0.8M68.7 415h0.8M63.5 415.1h0.8M56.9 424.4h0.8M62.6 419.6h0.8M47.7 421.6h0.8M54.9 419.9h0.8M52 419.5h0.8M64.4 412.3h0.8M62.5 414.5h0.8M69.9 419.5h0.8M66.6 416.5h0.8M67 419.2h0.8M70.7 414.1h0.8M75.6 416h0.8M57.1 415.1h0.8M57.7 425.6h0.8M61.5 413.8h0.8M58.9 419h0.8M67.7 416.8h0.8M59 418.5h0.8M50.7 421.8h0.8M56.4 425.3h0.8M69.7 421.2h0.8M56.1 416.7h0.8M57.1 418.4h0.8M57.4 415.9h0.8M60.9 418h0.8M57.1 421.7h0.8M68.4 415.9h0.8M77.1 419.6h0.8M69.8 425.5h0.8M48.9 420.1h0.8M67.4 422.8h0.8M66.4 422.1h0.8M48.2 414.3h0.8M64.7 410h0.8M55.8 417.3h0.8M63.1 421.6h0.8M62 414.8h0.8M52.6 419.7h0.8M64.8 419.6h0.8M61.3 418.5h0.8M49.1 418h0.8M66.2 413.6h0.8M63.5 420.8h0.8M78.6 417.8h0.8M58.2 413.3h0.8M51.5 411.7h0.8M46 420.8h0.8M60.1 419.3h0.8M47.6 410.1h0.8M46.1 424.5h0.8M69.1 412.8h0.8M61 418.7h0.8M52.4 415.5h0.8M67.7 420.9h0.8M67.3 419.4h0.8M61.1 420.1h0.8M59 424.8h0.8M62 420.3h0.8M59.6 415.5h0.8M59.9 416.8h0.8M53.9 421.3h0.8M76.1 419.3h0.8M59.5 415.3h0.8M48.7 420.6h0.8M64.8 415h0.8M61 414.8h0.8M71.5 418.6h0.8M63.8 424.9h0.8M42.7 419.8h0.8M62.5 417h0.8M60.5 423.1h0.8M55.2 415.6h0.8M74.1 422.2h0.8M64.3 421.4h0.8M61.2 417.1h0.8M59.3 419.5h0.8M56.9 412h0.8M59.2 419.4h0.8M59.5 420.9h0.8M62.9 422.1h0.8M61.6 417.6h0.8M65.1 421.8h0.8M57.1 414.9h0.8M71.1 416.2h0.8M63.5 416.4h0.8M62.3 423.8h0.8M73.8 413.1h0.8M49.2 405.1h0.8M65.2 424.4h0.8M62.6 417.1h0.8M67.1 414.6h0.8M65.7 423.6h0.8M70.3 421.1h0.8M56.6 417h0.8M53.4 425.6h0.8M70.3 418h0.8M60 419.2h0.8M55.4 420.3h0.8M64.4 420h0.8M60.9 408.4h0.8M59 412.7h0.8M56.6 417.5h0.8M58.1 414.9h0.8M73.1 411h0.8M64.2 415.9h0.8M70.4 421.5h0.8M61 412.3h0.8M66.6 422h0.8M65.6 417h0.8M65.3 415.1h0.8M62.3 419.6h0.8M58.5 414.3h0.8M58.6 414.7h0.8M50.9 422.3h0.8M59.1 416.1h0.8M56.2 419.9h0.8M57.8 415.4h0.8M62.4 418.7h0.8M53.2 413.9h0.8M70.5 417h0.8M69.8 420.5h0.8M59.7 417.2h0.8M73.1 415.6h0.8M57.2 414.9h0.8M59 414.4h0.8M61.2 413.2h0.8M64.4 419.5h0.8M61.9 415.8h0.8M59.2 415.1h0.8M65.3 417.3h0.8M61.4 420.7h0.8M49.5 421h0.8M52 413.2h0.8M57.2 423.9h0.8M55.2 419.9h0.8" stroke="#6e6e6e" stroke-width="0.8" stroke-opacity="0.55"/><path d="M61.4 418.6h0.8M83.7 416.3h0.8M79.6 410.3h0.8M44.8 420.9h0.8M90.4 408.8h0.8M80.4 413.5h0.8M90.2 402.2h0.8M75.8 413.8h0.8M79.5 404.4h0.8M42.8 421.4h0.8M91.2 417.6h0.8M82.5 404.2h0.8M83.9 408.5h0.8M62.7 405.7h0.8M44.1 414.8h0.8M69.3 413.2h0.8M77 412.3h0.8M98.9 400.7h0.8M63.2 411.1h0.8M81.8 414.1h0.8M106.8 406.2h0.8M98.7 407.3h0.8M68.4 419.6h0.8M75.8 406.9h0.8M104.8 407.9h0.8M65.1 412.2h0.8M66.1 415.1h0.8M73.1 403.9h0.8M52.5 423.9h0.8M52.5 410h0.8M51.9 411.1h0.8M88.3 403.4h0.8M70.3 398.2h0.8M65.3 413.9h0.8M78.9 419.3h0.8M46.3 412.9h0.8M70.7 412.6h0.8M84.2 398.5h0.8M54.8 401.6h0.8M58.3 412.5h0.8M52.7 409.4h0.8M91.5 400.1h0.8M81.1 410.9h0.8M58.4 413.6h0.8M82.4 416.1h0.8M87.2 405.9h0.8M71.1 419.3h0.8M101.5 401.2h0.8M97.8 408.9h0.8M78.5 403.5h0.8M54.2 419h0.8M80.7 399.4h0.8M106.6 413.6h0.8M57 415h0.8M72.7 408.4h0.8M67.9 415.9h0.8M105 404.2h0.8M77.8 411.3h0.8M64.7 417.6h0.8M65.8 407.4h0.8M84.5 397.3h0.8M66.5 410.9h0.8M71.3 402.6h0.8M59.1 414.3h0.8M86.2 407.7h0.8M71.1 407h0.8M88.6 413.8h0.8M74.2 405.4h0.8M98.2 401.3h0.8M99 403.6h0.8M62.4 413.1h0.8M63.8 413h0.8M84.2 407.3h0.8M68 412.9h0.8M82.8 409.3h0.8M86.2 412h0.8M82 413.9h0.8M77.9 417.5h0.8M84.2 414.1h0.8M70.6 403.6h0.8M68.3 413.2h0.8M82.3 409.2h0.8M99.6 397.2h0.8M45.2 417.6h0.8M64.3 414.1h0.8M91.3 423.8h0.8M51.8 410.5h0.8M72.9 402.8h0.8M64.8 421.6h0.8M75 411.1h0.8M92.6 396.4h0.8M78 410.2h0.8M79.2 404.1h0.8M68.5 412.3h0.8M87.6 403.7h0.8M83.5 396.2h0.8M84.4 413.6h0.8M60 413.2h0.8M76.4 412.7h0.8M96.8 407h0.8M71.9 410.8h0.8M81.8 414.3h0.8M79.6 406.8h0.8M69.1 407.9h0.8M60.5 411.9h0.8M67.3 417.8h0.8M55.8 416.5h0.8M57.2 420.5h0.8M83 416.9h0.8M83.8 402.9h0.8M75.8 407.3h0.8M65.7 407.4h0.8M70.9 412.8h0.8M83.1 424.1h0.8M73.4 412.2h0.8M74.1 410h0.8M71 412.6h0.8M73.7 416h0.8M82 404.2h0.8M76.5 412.7h0.8M71.1 410.9h0.8M75.3 414.8h0.8M78.3 407.2h0.8M77 418.1h0.8M60.9 418.7h0.8M86.7 408.7h0.8M72.1 403h0.8M70.3 424.4h0.8M81.7 407.9h0.8M76 411.3h0.8M60.3 415.6h0.8M82.6 400.6h0.8M68.3 396.7h0.8M49 422.7h0.8M99.2 416.2h0.8M54.4 415.9h0.8M72 418.3h0.8M81.6 410.1h0.8M85.5 406h0.8M91.9 405.1h0.8M94.7 407.5h0.8M78.4 403.7h0.8M48.3 408.7h0.8M81.3 397h0.8M98.4 403.5h0.8M54.2 418.5h0.8M55.5 416.4h0.8M73.3 418.8h0.8M92.4 412.5h0.8M70.1 419.8h0.8M75.1 411.9h0.8M83.8 410.7h0.8M54.8 420.1h0.8M50.4 420.2h0.8M75 411.7h0.8M59.3 421.1h0.8M74.8 416.3h0.8M62.9 410.1h0.8M78.6 416.4h0.8M53.4 413.3h0.8M67.3 411.6h0.8M70 418.9h0.8M87.9 408.2h0.8M91.5 413.2h0.8M64.8 409.5h0.8M90.5 419.9h0.8M88 403.3h0.8M90.8 408.7h0.8M54.6 413.6h0.8M81 404.5h0.8M86.3 410.3h0.8M71.6 414.4h0.8M70.4 413.7h0.8M61.5 423h0.8M73.3 418.5h0.8M76 411.9h0.8M75.8 412.9h0.8M59.8 404.4h0.8M81.5 409.9h0.8M104.1 414.7h0.8M52 411.5h0.8M90.6 414.3h0.8M78.3 410.8h0.8M65.2 417h0.8M80.6 404.6h0.8M92.4 415.6h0.8M75.5 412h0.8M88.5 413.7h0.8M89.3 402.5h0.8M59.8 411.8h0.8M71.9 408.1h0.8M63.3 419.4h0.8M82.8 414.2h0.8M72.7 409.4h0.8M62 416h0.8M44.7 413.7h0.8M87.1 413.3h0.8M73.4 404.9h0.8M84.6 404.5h0.8M72.7 406.1h0.8M60.4 408h0.8M76.1 414.7h0.8M96.9 405.5h0.8M55.8 417.8h0.8M78.3 401.1h0.8M71.3 410.4h0.8M60 416.3h0.8M95 412.2h0.8M60.4 411.4h0.8M87.1 406.3h0.8M73.3 424.7h0.8M62 414.2h0.8M104.3 403.1h0.8M71.5 413.1h0.8M71.5 414.4h0.8M72.5 411.4h0.8M72.3 400.4h0.8M71.7 413h0.8M62.6 420.8h0.8M64 405.2h0.8M89.2 406.9h0.8M76.1 401.5h0.8M51.6 411.1h0.8M73.2 410.9h0.8M101.1 413.8h0.8M78.1 409.9h0.8M107.7 403.4h0.8M92.2 404.1h0.8M73.9 409.9h0.8M65 416h0.8M62.1 413.8h0.8M85.8 421h0.8M44.3 419.3h0.8M86.5 406.3h0.8M91.2 410.3h0.8M83.6 406.6h0.8M72.1 410.6h0.8M59.8 416.1h0.8M57.1 410.2h0.8M54.4 422.9h0.8M65.4 408.4h0.8M88.6 405.4h0.8M81.3 408.6h0.8M82.3 410.6h0.8M90.7 398.7h0.8M90.5 406h0.8M79.7 417.6h0.8M93.9 412.3h0.8M64.2 406.4h0.8M87.5 398h0.8M69.6 410.5h0.8M66.2 421.4h0.8M81 408.4h0.8M90.3 405h0.8M98.8 417.4h0.8M73.6 410.6h0.8M53.7 410.5h0.8M49.1 417.7h0.8M80.9 409.6h0.8M76.8 416.2h0.8M95.5 413.4h0.8M73.6 411.7h0.8M101 407.2h0.8M97.2 402.9h0.8M74.3 407.6h0.8M76.2 413.4h0.8M71.2 423.7h0.8M52.5 421.9h0.8M58.3 417.1h0.8M63.2 414.6h0.8M76 406.3h0.8M54.7 412.1h0.8M77.4 415.4h0.8M82.9 406.5h0.8M76.6 412.7h0.8M89.6 410h0.8M77.7 419.7h0.8M80.6 409.8h0.8M93.2 400h0.8M62.3 422.9h0.8M70.1 401.9h0.8M90.8 414.3h0.8M61.2 407h0.8M75.5 413.2h0.8M64.7 408.4h0.8M85.2 411.8h0.8M48 411.4h0.8M69.5 408.8h0.8M80 412.9h0.8M106.9 405.3h0.8M88.8 398.6h0.8M65.7 419.7h0.8M53.5 424.4h0.8M84.9 409.5h0.8M72.1 405h0.8M57.1 412.5h0.8M70.2 419.5h0.8M57.9 411.7h0.8M47.1 419h0.8M77.1 417h0.8M61.8 415.7h0.8M80.2 409.5h0.8M58.2 417.3h0.8M55.5 415.5h0.8M67 398h0.8M88.6 420.2h0.8M68.7 409.1h0.8M89.1 399.9h0.8M76.3 412.2h0.8M66.2 412.9h0.8M60.8 411.3h0.8M85.4 403.4h0.8M65.2 409.5h0.8M83.5 406.8h0.8M62 416.3h0.8M82.9 420h0.8M67.9 414.8h0.8M52.8 417.4h0.8M79.6 413.3h0.8M66 424.7h0.8M61.8 423.3h0.8M58.9 419.8h0.8M100.8 417.4h0.8M71.5 402.4h0.8M88.6 403.6h0.8M57.1 412.2h0.8M61.7 418.9h0.8M79.8 414h0.8M89.4 405.3h0.8M89 414.8h0.8M106.7 404.3h0.8M70.2 406.9h0.8M69.3 412.7h0.8M78.1 402.5h0.8M68.8 411.5h0.8M65.2 410.1h0.8M80.2 404.2h0.8M82.1 403.1h0.8M77.8 404h0.8M96.3 410.2h0.8M96.9 400.8h0.8M52.2 409.1h0.8M73.6 417.8h0.8M88.5 411.8h0.8M56.9 422h0.8M87.2 405h0.8M75.8 420.2h0.8M79.3 409.7h0.8M104.3 413h0.8M82.9 412.9h0.8M95.6 401.8h0.8M82 407h0.8M60.5 417.7h0.8M96.8 416.8h0.8M90.3 414.1h0.8M70.9 403.4h0.8M65.9 415.8h0.8M68.7 424.1h0.8M95.9 404.9h0.8M105.7 407.4h0.8M103.1 403.2h0.8M88.8 406.5h0.8M77.8 417.3h0.8M79.8 404.9h0.8M73.2 414.6h0.8M54.6 413.8h0.8M57.8 416.8h0.8M91.4 409.2h0.8M70 406.6h0.8M49.2 417.8h0.8M101.1 403.2h0.8" stroke="#bbb" stroke-width="0.8" stroke-opacity="0.6"/></g><path d="M30.6 361.5L109.4 360.6L109.4 387.5L30.6 396.7Z" fill="none" stroke="#333" stroke-width="0.7"/><path d="M30.6 401L109.4 391.3L109.4 426.5L30.6 426.5Z" fill="none" stroke="#333" stroke-width="0.7"/><rect x="29.6" y="357.7" width="81.2" height="68.8" fill="none" stroke="#666" stroke-width="0.7"/><path d="M50.2 356.9L51.7 356.9" stroke="#666" stroke-width="0.6"/><path d="M28.4 357.7L29.6 357.7" stroke="#666" stroke-width="0.4"/><path d="M29.6 426.5L29.6 427.7" stroke="#666" stroke-width="0.4"/><path d="M28.4 360.2L29.6 360.2" stroke="#666" stroke-width="0.4"/><path d="M32.5 426.5L32.5 427.7" stroke="#666" stroke-width="0.4"/><path d="M28.4 362.6L29.6 362.6" stroke="#666" stroke-width="0.4"/><path d="M35.4 426.5L35.4 427.7" stroke="#666" stroke-width="0.4"/><path d="M28.4 365.1L29.6 365.1" stroke="#666" stroke-width="0.4"/><path d="M38.3 426.5L38.3 427.7" stroke="#666" stroke-width="0.4"/><path d="M28.4 367.5L29.6 367.5" stroke="#666" stroke-width="0.4"/><path d="M41.2 426.5L41.2 427.7" stroke="#666" stroke-width="0.4"/><path d="M28.4 370L29.6 370" stroke="#666" stroke-width="0.4"/><path d="M44.1 426.5L44.1 427.7" stroke="#666" stroke-width="0.4"/><path d="M28.4 372.4L29.6 372.4" stroke="#666" stroke-width="0.4"/><path d="M47 426.5L47 427.7" stroke="#666" stroke-width="0.4"/><path d="M28.4 374.9L29.6 374.9" stroke="#666" stroke-width="0.4"/><path d="M49.9 426.5L49.9 427.7" stroke="#666" stroke-width="0.4"/><path d="M28.4 377.4L29.6 377.4" stroke="#666" stroke-width="0.4"/><path d="M52.8 426.5L52.8 427.7" stroke="#666" stroke-width="0.4"/><path d="M28.4 379.8L29.6 379.8" stroke="#666" stroke-width="0.4"/><path d="M55.7 426.5L55.7 427.7" stroke="#666" stroke-width="0.4"/><path d="M28.4 382.3L29.6 382.3" stroke="#666" stroke-width="0.4"/><path d="M58.6 426.5L58.6 427.7" stroke="#666" stroke-width="0.4"/><path d="M28.4 384.7L29.6 384.7" stroke="#666" stroke-width="0.4"/><path d="M61.5 426.5L61.5 427.7" stroke="#666" stroke-width="0.4"/><path d="M28.4 387.2L29.6 387.2" stroke="#666" stroke-width="0.4"/><path d="M64.4 426.5L64.4 427.7" stroke="#666" stroke-width="0.4"/><path d="M28.4 389.6L29.6 389.6" stroke="#666" stroke-width="0.4"/><path d="M67.3 426.5L67.3 427.7" stroke="#666" stroke-width="0.4"/><path d="M28.4 392.1L29.6 392.1" stroke="#666" stroke-width="0.4"/><path d="M70.2 426.5L70.2 427.7" stroke="#666" stroke-width="0.4"/><path d="M28.4 394.6L29.6 394.6" stroke="#666" stroke-width="0.4"/><path d="M73.1 426.5L73.1 427.7" stroke="#666" stroke-width="0.4"/><path d="M28.4 397L29.6 397" stroke="#666" stroke-width="0.4"/><path d="M76 426.5L76 427.7" stroke="#666" stroke-width="0.4"/><path d="M28.4 399.5L29.6 399.5" stroke="#666" stroke-width="0.4"/><path d="M78.9 426.5L78.9 427.7" stroke="#666" stroke-width="0.4"/><path d="M28.4 401.9L29.6 401.9" stroke="#666" stroke-width="0.4"/><path d="M81.8 426.5L81.8 427.7" stroke="#666" stroke-width="0.4"/><path d="M28.4 404.4L29.6 404.4" stroke="#666" stroke-width="0.4"/><path d="M84.7 426.5L84.7 427.7" stroke="#666" stroke-width="0.4"/><path d="M28.4 406.8L29.6 406.8" stroke="#666" stroke-width="0.4"/><path d="M87.6 426.5L87.6 427.7" stroke="#666" stroke-width="0.4"/><path d="M28.4 409.3L29.6 409.3" stroke="#666" stroke-width="0.4"/><path d="M90.5 426.5L90.5 427.7" stroke="#666" stroke-width="0.4"/><path d="M28.4 411.8L29.6 411.8" stroke="#666" stroke-width="0.4"/><path d="M93.4 426.5L93.4 427.7" stroke="#666" stroke-width="0.4"/><path d="M28.4 414.2L29.6 414.2" stroke="#666" stroke-width="0.4"/><path d="M96.3 426.5L96.3 427.7" stroke="#666" stroke-width="0.4"/><path d="M28.4 416.7L29.6 416.7" stroke="#666" stroke-width="0.4"/><path d="M99.2 426.5L99.2 427.7" stroke="#666" stroke-width="0.4"/><path d="M28.4 419.1L29.6 419.1" stroke="#666" stroke-width="0.4"/><path d="M102.1 426.5L102.1 427.7" stroke="#666" stroke-width="0.4"/><path d="M28.4 421.6L29.6 421.6" stroke="#666" stroke-width="0.4"/><path d="M105 426.5L105 427.7" stroke="#666" stroke-width="0.4"/><path d="M28.4 424L29.6 424" stroke="#666" stroke-width="0.4"/><path d="M107.9 426.5L107.9 427.7" stroke="#666" stroke-width="0.4"/><path d="M28.4 426.5L29.6 426.5" stroke="#666" stroke-width="0.4"/><path d="M110.8 426.5L110.8 427.7" stroke="#666" stroke-width="0.4"/><text x="71" y="381.5" font-size="4.5" text-anchor="middle" fill="#333">P10</text><text x="71" y="414" font-size="4.5" text-anchor="middle" fill="#222">P8</text><text x="44" y="431.5" font-size="3.5" text-anchor="middle" fill="#444">50</text><text x="59.6" y="431.5" font-size="3.5" text-anchor="middle" fill="#444">100</text><text x="75.2" y="431.5" font-size="3.5" text-anchor="middle" fill="#444">150</text><text x="90.8" y="431.5" font-size="3.5" text-anchor="middle" fill="#444">200</text><text x="106.4" y="431.5" font-size="3.5" text-anchor="middle" fill="#444">250</text><text x="102.7" y="438.7" font-size="3.2" text-anchor="middle" fill="#444">(x 1,000)</text><text x="71" y="441" font-size="8" font-weight="bold" text-anchor="middle" fill="#000">FSC-A</text><text x="21" y="392.5" font-size="7.2" font-weight="bold" text-anchor="middle" transform="rotate(-90 21 392.5)" fill="#000">IgG1-FITC</text><text x="26.5" y="413" font-size="3.2" text-anchor="middle" transform="rotate(-90 26.5 413)" fill="#555">10</text><text x="26.5" y="395" font-size="3.2" text-anchor="middle" transform="rotate(-90 26.5 395)" fill="#555">10</text><text x="26.5" y="378" font-size="3.2" text-anchor="middle" transform="rotate(-90 26.5 378)" fill="#555">10</text><text x="26.5" y="363" font-size="3.2" text-anchor="middle" transform="rotate(-90 26.5 363)" fill="#555">10</text><path d="M146 426.7L146 372L147 369.3L151 368.2L205.4 368.2L209.5 370L210.3 380L210 395.7L208.1 403L204.5 410.3L199.9 417.6L195.3 423L191.7 426.7Z" fill="#8c8c8c" filter="url(#b1)"/><path d="M208.9 378.2h0.8M206.3 391.2h0.8M210.7 369.4h0.8M206.1 393.6h0.8M206.9 381.7h0.8M206.6 384.8h0.8M207.1 376.9h0.8M206.4 398.4h0.8M210.6 387h0.8M209 381.3h0.8M208.2 388.8h0.8M206.1 374.9h0.8M210.7 370h0.8M212.9 379.7h0.8M209.5 393.5h0.8M208.9 383.2h0.8M207.6 386.5h0.8M210.7 374.5h0.8M210.6 390.5h0.8M210.2 375.6h0.8M211.3 393.9h0.8M207.9 366.3h0.8M207.3 382.2h0.8M212.1 392.4h0.8M210.7 376.5h0.8M210.9 382h0.8M206.6 366.6h0.8M211.4 368h0.8M212 401.6h0.8M209.1 374.8h0.8M207.5 376.2h0.8M209.9 390.7h0.8M207.2 379.2h0.8M207.5 392h0.8M211.4 374.7h0.8M208.3 383.5h0.8M204.7 377.4h0.8M209.4 370h0.8M209.5 382.5h0.8M207.7 391h0.8M206.8 385.7h0.8M208.4 391.6h0.8M207.1 387.3h0.8M210.5 391.9h0.8M212.9 368.9h0.8M208.8 372.7h0.8M211.4 393.9h0.8M208.3 384.2h0.8M212.2 383.8h0.8M208.7 367.8h0.8M207.3 390.7h0.8M205.5 384.6h0.8M209.5 382h0.8M210.9 375.6h0.8M212.4 378.3h0.8M211.5 377h0.8M209.6 379.2h0.8M213.1 373h0.8M207.5 394.7h0.8M211 381.7h0.8M208.4 370.9h0.8M208.4 385.2h0.8M211.9 390.2h0.8M212.5 385.4h0.8M207.3 379.1h0.8M212.7 383h0.8M212.4 368.3h0.8M207.8 375.1h0.8M209.6 375.2h0.8M205.8 381.4h0.8M203.5 376.9h0.8M210 372.1h0.8M208.9 374.4h0.8M208.2 384.2h0.8M210.1 385.8h0.8M207.2 395.4h0.8M209.8 376.4h0.8M212.3 378.6h0.8M213.8 389.5h0.8M208.8 377.9h0.8M207 375.3h0.8M208.4 394h0.8M209.5 381.5h0.8M210.1 379.4h0.8M206 369.2h0.8M212.5 379.7h0.8M213 398.9h0.8M209.7 389h0.8M208.2 381.1h0.8M209.3 382.2h0.8M212.7 381.4h0.8M211.3 383.3h0.8M210.6 398.5h0.8M205.3 392.6h0.8M207.5 384h0.8M208.2 378.1h0.8M205.7 358.7h0.8M214.3 390h0.8M208.5 365.8h0.8M210.7 396.3h0.8M210.1 367.1h0.8M207.8 384.6h0.8M208.9 392.1h0.8M206.7 376.6h0.8M202.9 392.3h0.8M210.6 378.4h0.8M204.6 390h0.8M205.5 370.8h0.8M204.3 369.4h0.8M206.7 372.4h0.8M211.8 388.5h0.8M209.2 377h0.8M208.9 370.2h0.8M210 373.7h0.8M207.7 385.1h0.8M206.8 369.5h0.8M211.6 366.5h0.8M205.8 371.5h0.8M207.2 380.8h0.8M200.9 377.5h0.8M212.5 392.8h0.8M211.2 381.3h0.8M209.5 377h0.8M204.8 385.2h0.8M211.7 384.7h0.8M208.9 389.8h0.8M209.8 392.2h0.8M207.9 365.7h0.8M210.2 390h0.8M207 384.1h0.8M208.5 371.5h0.8M205 412.4h0.8M208.2 388.4h0.8M207.3 379h0.8M210.7 373.4h0.8M208.8 380.1h0.8M210.2 389.8h0.8M208.5 394.7h0.8M207.8 378.5h0.8M209.2 379.6h0.8M204.5 362.1h0.8M212.6 389.5h0.8M207.2 385.5h0.8M204.5 379.2h0.8M212.8 387.9h0.8M211.9 383h0.8M209.8 384.4h0.8M211 394.2h0.8M209.2 385.5h0.8M208.8 384.7h0.8M207 391.3h0.8M210.8 385.1h0.8M209 376h0.8M206.6 371.9h0.8M207 390.5h0.8M210.1 369.1h0.8M206.6 394.4h0.8M213.3 389.9h0.8M210.2 376.4h0.8M210.2 385.8h0.8M207.4 381.9h0.8M203.3 378.4h0.8M206.6 389.7h0.8M212.5 385h0.8M206.5 372.5h0.8M211 380.1h0.8M208.5 372.7h0.8M209.8 384.4h0.8M211.2 374h0.8M209.1 369.7h0.8M209.8 382.7h0.8M208.2 390.9h0.8M205.9 396.9h0.8M210.2 388h0.8M209.9 376.3h0.8M207.8 391.5h0.8M209.2 385.6h0.8M208.3 390.5h0.8M210.9 370.9h0.8M214.2 392.3h0.8M211.3 385.8h0.8M209.1 390.6h0.8M206.4 382.5h0.8M209.4 391.5h0.8M206.1 378.7h0.8M208.4 391.7h0.8M212 384.6h0.8M211.9 383.7h0.8M209.5 361.9h0.8M206.9 372.4h0.8M210.3 383.3h0.8M206.4 383h0.8" stroke="#999" stroke-width="0.8" stroke-opacity="0.6"/><path d="M200.6 415.3h0.8M198 409.6h0.8M208.7 411.9h0.8M207.5 408.8h0.8M199.9 411.6h0.8M195.4 416.8h0.8M193.1 414.4h0.8M188.3 416.7h0.8M201.5 418.9h0.8M213.4 409.7h0.8M201.3 406.7h0.8M198.4 413.5h0.8M201.4 417.1h0.8M204.2 418.1h0.8M197.1 413.9h0.8M194.9 412.3h0.8M184.7 412.6h0.8M201.5 410.8h0.8M198.7 404.5h0.8M197.2 410.1h0.8M202.5 415.4h0.8M198.5 412.4h0.8M203.3 408.6h0.8M207.2 423.3h0.8M203.4 410.7h0.8M202.4 418.9h0.8M208.7 406.4h0.8M203.1 409.4h0.8M198.5 414.4h0.8M204.3 411.7h0.8M196 412.1h0.8M194.9 421.8h0.8M191.7 416.1h0.8M201.8 413.1h0.8M194.8 410.6h0.8M199.1 410.4h0.8M199.6 413.6h0.8M198.4 415.2h0.8M205.4 410.4h0.8M205.4 413.3h0.8M197.7 415.4h0.8M207.7 411.4h0.8M190.1 416.9h0.8M207 407.5h0.8M200.2 415.3h0.8M186.8 416.9h0.8M205.3 417h0.8M209.9 407.7h0.8M206.6 424.3h0.8M187.5 411.1h0.8M205.1 409.3h0.8M190 414.5h0.8M201.9 409.3h0.8M202.4 417.5h0.8M206.9 415h0.8M193.5 411.4h0.8M187.2 407.6h0.8M201.8 415.6h0.8M200.7 412.8h0.8M189.1 406.4h0.8M193.9 409.9h0.8M197.2 423.7h0.8M206.8 407.7h0.8M196.8 410.1h0.8M197.2 410.2h0.8M188.5 418.6h0.8M204.8 416h0.8M201.4 415.1h0.8M198.6 402.9h0.8M201.5 412.9h0.8M192.8 401.5h0.8M207.6 407.6h0.8M199.5 409.3h0.8M210.8 405.3h0.8M207 400.1h0.8M206.2 410.3h0.8M187.1 413h0.8M200.2 404.6h0.8M202.8 412.6h0.8M203.6 405.7h0.8M196.1 407.9h0.8M201.4 410.1h0.8M194.6 419.6h0.8M197.4 418.2h0.8M205.7 409.1h0.8M189.6 413.7h0.8M204.7 418.6h0.8M203 414.9h0.8M196.9 409.1h0.8M192.6 414.3h0.8M203.4 403.7h0.8M199 415.6h0.8M210.7 420.9h0.8M198.6 411.1h0.8M197.9 413.9h0.8M205.9 407.5h0.8M199.6 409.8h0.8M196 410.2h0.8M211.8 421.6h0.8M209.6 404.4h0.8M202.6 424.9h0.8M203.3 409.2h0.8M204.4 411.5h0.8M198.3 414.1h0.8M203.6 411.9h0.8M200.6 407.6h0.8M200.5 416.4h0.8M201.3 411.9h0.8M192 418.5h0.8M193.7 416.2h0.8M198.6 416.9h0.8M207.1 411.2h0.8M182.4 402.5h0.8M194.8 408.1h0.8M202.5 422.8h0.8M204.8 412.1h0.8M209 411.9h0.8M206 414.7h0.8M189.1 417.7h0.8M211.5 411.1h0.8M205.5 415.4h0.8M199.2 410.9h0.8M206.9 409.6h0.8M197.5 417.1h0.8M206.4 420.7h0.8M197.3 406.1h0.8M207.4 405.1h0.8M198.3 411.8h0.8M211.2 413h0.8M193.5 412.7h0.8M208.9 403.8h0.8M192.9 418h0.8M201.6 407.8h0.8M199.6 413.2h0.8M193.9 410h0.8M209.6 414.5h0.8M207.6 412.7h0.8M197.5 414.4h0.8M195.3 414.7h0.8M199 411.4h0.8M199.2 408.1h0.8M209.1 405.3h0.8M202.2 406.5h0.8M206.3 411.8h0.8M202 415.2h0.8M203 413.8h0.8M203.1 414.6h0.8M198.1 411.4h0.8M199.4 409.3h0.8" stroke="#999" stroke-width="0.8" stroke-opacity="0.6"/><path d="M167.8 415.5h0.8M151.6 421.1h0.8M168.1 405h0.8M177.6 392.9h0.8M187.7 421.3h0.8M175.5 395.2h0.8M167.9 426.2h0.8M198.8 412.6h0.8M186.3 368.9h0.8M166.3 410.2h0.8M167.1 385.4h0.8M185.1 388.4h0.8M184.2 371.5h0.8M160.8 398.6h0.8M193.5 395.2h0.8M155.4 388.3h0.8M197.7 386.7h0.8M182.1 402.1h0.8M167.7 396h0.8M178.2 405.1h0.8M201 388.5h0.8M186 393.7h0.8M163.4 383.9h0.8M176.5 395.7h0.8M177 405.5h0.8M180.8 413.4h0.8M176.5 380.7h0.8M205.7 405.5h0.8M172.8 391.8h0.8M172.9 397.9h0.8M146.6 397.5h0.8M166.5 402.8h0.8M183.3 379.7h0.8M201.6 406.8h0.8M161.2 379.7h0.8M165 400.6h0.8M200 382h0.8M163.4 403.2h0.8M176.4 394.6h0.8M175.1 390.6h0.8M208.6 410h0.8M171.4 414.2h0.8M182.8 388.1h0.8M179.5 398.7h0.8M200.7 381.3h0.8M148.1 387.9h0.8M173.6 383.3h0.8M157.1 397.4h0.8M198 375.1h0.8M181.3 392.8h0.8M188.8 395.4h0.8M165.9 408.6h0.8M184.9 380h0.8M180.7 406.8h0.8M166.9 389.5h0.8M179.1 386.4h0.8M175.2 380.6h0.8M160.8 399.2h0.8M149.2 395.4h0.8M198.2 386.6h0.8M168.1 382.7h0.8M153.6 386.4h0.8M154.1 391.6h0.8M166.9 378.1h0.8M177.2 409.7h0.8M190.7 390.7h0.8M176.1 379.2h0.8M172.1 404.5h0.8M190 414.7h0.8M149.5 417.9h0.8M183.2 417.7h0.8M176.4 412.9h0.8M175.9 378.9h0.8M182 387.1h0.8M175.6 402.3h0.8M190.1 404.2h0.8M193.5 371.5h0.8M196.9 382.2h0.8M177.9 388.5h0.8M155.7 407.7h0.8M158.1 386.3h0.8M146.2 408.7h0.8M168.9 406.2h0.8M176 387.4h0.8M188.7 384.1h0.8M166.4 398h0.8M156.7 373.2h0.8M146.7 408.5h0.8M210.7 412.2h0.8M164.9 386.9h0.8M158.6 394.6h0.8M194.9 393.5h0.8M181.8 376.7h0.8M171.9 400h0.8M178.5 405.7h0.8M148.7 419.4h0.8M185.2 384.1h0.8M171.8 395h0.8M195.5 390.1h0.8M176.6 374.9h0.8M203 401.7h0.8M168.3 375h0.8M176.4 408.2h0.8M170.2 388.9h0.8M159.4 402.1h0.8M163.4 403.8h0.8M182.9 401.5h0.8M159.6 412.5h0.8M173.6 377.1h0.8M176.5 398h0.8M178.3 409.5h0.8M175.6 413.7h0.8M176.9 414.5h0.8M173.1 403.6h0.8M188.7 386.3h0.8M187.5 393.2h0.8M173.4 413.9h0.8M183.8 399.1h0.8M172.2 410.3h0.8M168.5 377.1h0.8M173.3 423.4h0.8M161.8 414.9h0.8M185.7 379.5h0.8M173.6 382.3h0.8M185.7 380.2h0.8M166.5 394.5h0.8M208.7 387.6h0.8M163.8 410h0.8M166 379.9h0.8M175 408h0.8M180.2 390h0.8M203.5 416.6h0.8M148.5 378.1h0.8M160.8 392.3h0.8M180.6 394.4h0.8M178.8 402.4h0.8M182.9 414.4h0.8M181 389.4h0.8M187.7 390.8h0.8M154 389.9h0.8M191.4 400.6h0.8M190 388.2h0.8M187.7 417.2h0.8M171.7 388.3h0.8M199.9 397.3h0.8M156.6 389.5h0.8M201.4 401.2h0.8M182.4 411.7h0.8M166.8 411.9h0.8M176.3 392.1h0.8M185 388.9h0.8M157.6 382.4h0.8M187.2 400.4h0.8M179.4 406.7h0.8M161.9 389.8h0.8M207.2 381.7h0.8M201 392h0.8M187.4 399.5h0.8M173.4 397.7h0.8M195.2 385.5h0.8M160.9 408.9h0.8M170.9 393.5h0.8M174.7 389.7h0.8M169.7 375.8h0.8M167.9 399.6h0.8M209.1 387.9h0.8M202.1 389.2h0.8M186.4 392.2h0.8M191.5 398.1h0.8M171.1 373h0.8M195.8 373.6h0.8M167.2 422.5h0.8M182.4 397.3h0.8M180.4 399.7h0.8M172 401.2h0.8M175.2 391.1h0.8M186.5 405.6h0.8M184.4 410.3h0.8M180 379.9h0.8M198.7 397.9h0.8M192.1 391h0.8M193.6 379.7h0.8M181.4 376.3h0.8M195.8 416.8h0.8M158.4 402.1h0.8M202.1 393.8h0.8M185.5 393.3h0.8M173.2 417h0.8M164.9 397.1h0.8M189 397.2h0.8M199 379.1h0.8M174.9 391.5h0.8M187.1 393.9h0.8M171.2 406.8h0.8M167 388h0.8M157.1 378.6h0.8M170.3 407.1h0.8M169.7 384.4h0.8M176.7 384.8h0.8M179.2 371.6h0.8M168.6 383h0.8M169.3 387.6h0.8M166.6 377.4h0.8M184.9 383.7h0.8M192.5 413.9h0.8M158.3 393.8h0.8M188.1 409.7h0.8M170 400.5h0.8M170.5 369.5h0.8M194.4 395.1h0.8M185.6 393h0.8M162.6 388.9h0.8M184.1 377.4h0.8M170.4 405.1h0.8M181.4 393.4h0.8M194 397.5h0.8M204.4 400.9h0.8M152.8 393.8h0.8M178.3 387.8h0.8M156.6 425.1h0.8M177 395.8h0.8M149.6 404.5h0.8M176.3 412.4h0.8M208.2 386.8h0.8M165.6 413.4h0.8M197.4 400.9h0.8M191.2 391.7h0.8M178 396.3h0.8M192.2 382.8h0.8M168.8 400.8h0.8M191.1 396.6h0.8M170.4 402.5h0.8M180.6 381.8h0.8M172.8 390.9h0.8M190.1 377.1h0.8M164.2 390.6h0.8M175.3 411.8h0.8M192.1 415.3h0.8M208.8 404.8h0.8M161.4 391.2h0.8M190.6 384.2h0.8M180.2 400.7h0.8M194.7 409h0.8M163 413.7h0.8M168.6 400.5h0.8M190 406.7h0.8M187.6 388.4h0.8M176.1 410.1h0.8M170.4 379.1h0.8M162.5 396.3h0.8M159.5 389.8h0.8M171.8 410.2h0.8M162.8 378.7h0.8M180.2 408.3h0.8M162.2 403.7h0.8M178.5 403.6h0.8M173.7 399.2h0.8M166.2 394.4h0.8M202.2 399h0.8M179.4 401.2h0.8M203.1 386.1h0.8M152.1 379.7h0.8M166.2 397.5h0.8M192.7 385.2h0.8M160.1 409.2h0.8M197.1 384.7h0.8M191.5 393.3h0.8M169.4 394.1h0.8M162.8 370.8h0.8M152.8 384.8h0.8M183.2 401.8h0.8M193.2 384.2h0.8M177.4 374.5h0.8M160.4 411.1h0.8M175.4 423.8h0.8M190 388.9h0.8M201.2 410.6h0.8M183.8 380.4h0.8M146.3 390.2h0.8M177.3 374h0.8M190.3 410.3h0.8M160.3 392.1h0.8M152.7 410.9h0.8M161.8 378.9h0.8M146.7 411.6h0.8M189.1 377.4h0.8M161.8 394.6h0.8M179.7 379.9h0.8M201.9 405.3h0.8M149.3 406.6h0.8M181.7 391.5h0.8M156.9 403.3h0.8M168.5 416.2h0.8M197.7 409.6h0.8M209.5 423.5h0.8M200.3 413h0.8M164 417.9h0.8M187.2 393.7h0.8M181.3 391.3h0.8M186.5 393.3h0.8M150.4 386.6h0.8M185.3 399.1h0.8M204.2 410.4h0.8M201.3 395.2h0.8M197.3 385.2h0.8M165.7 409.4h0.8M182.3 384h0.8M195.1 417.9h0.8M191.8 415.7h0.8M194.7 409.8h0.8M167.8 379h0.8M179.9 385.1h0.8M177.8 382.3h0.8M173.2 418.3h0.8M159.1 369.5h0.8M203.3 407.4h0.8M177.1 389.7h0.8M183.3 390.2h0.8M195.2 391.2h0.8M166.3 404.1h0.8M163.2 404.1h0.8M156.3 387.6h0.8M181 385.2h0.8M195.5 394.4h0.8M187.9 397h0.8M183.7 385h0.8M157.9 374.5h0.8M178.1 396.2h0.8M173.8 426.2h0.8M177.2 398.1h0.8M148.9 400.3h0.8M194.4 382.3h0.8M180.2 390.1h0.8M200.1 378.9h0.8M160 392.3h0.8M154.9 392.8h0.8M185 419.3h0.8M188.3 409.1h0.8M163.6 396.9h0.8M164.7 396.2h0.8M159.1 405.4h0.8M157.4 400.8h0.8M150.4 382.8h0.8M182.2 404.7h0.8M160.2 372.9h0.8M187.7 380.6h0.8M184.8 415.3h0.8M189.4 372.8h0.8M200.1 412.6h0.8M166.9 389.3h0.8M203.5 400.6h0.8M185.5 412.3h0.8M203 398.2h0.8M180.1 391.5h0.8M200 378h0.8M194.1 387.1h0.8M185.9 400.4h0.8M172.5 395.8h0.8M166.6 416.3h0.8M203 395.5h0.8M178.4 400.5h0.8M194.7 399.7h0.8M170 392.7h0.8M183.4 394.1h0.8M171.3 414.9h0.8M186 410.1h0.8M162.4 409h0.8M178.9 392.6h0.8M166.1 386.8h0.8M170 398.2h0.8M177 426.7h0.8M187.2 400.1h0.8M176.9 384.4h0.8M163.9 401.8h0.8M151 420.9h0.8M207 374.2h0.8M200.5 413.2h0.8M199.1 406.7h0.8M208.4 384.4h0.8M170.4 405.7h0.8M179.6 375h0.8M193.5 412h0.8M174.8 402.3h0.8M168.6 383.4h0.8M176 377.9h0.8M155.7 399.9h0.8M207.8 411h0.8M196.9 416.4h0.8M171.1 413.6h0.8M151.4 384.6h0.8M184.7 408.3h0.8M186.2 401h0.8M191.3 395.5h0.8M155.1 413.7h0.8M192.8 399.2h0.8M206.1 394.6h0.8M200.1 370.9h0.8M191.9 392.5h0.8M195.2 402.3h0.8M160.8 405.4h0.8M178.2 410.3h0.8M208.5 395.3h0.8M189.9 399.6h0.8M166.8 398.7h0.8M170.9 405.3h0.8M159.8 382.3h0.8M194.7 404.9h0.8M189.3 405.4h0.8M197.9 404h0.8M195.7 385.2h0.8M188.4 385.7h0.8M156.7 393.5h0.8M190.8 397.2h0.8M186.8 398.6h0.8M154.8 397.7h0.8M179.6 423.3h0.8M164.8 395.1h0.8M166.1 399.2h0.8M147.9 401.4h0.8M179.4 399.7h0.8M187.9 396.7h0.8M209.8 402h0.8M156.1 403.5h0.8M149.2 383.7h0.8M168.4 380.2h0.8M179.1 391.4h0.8M165.7 402.5h0.8M165.8 416.3h0.8M190.6 390.3h0.8M187 386.6h0.8M167.6 412.3h0.8M150 403.8h0.8M157.7 387.7h0.8M193.6 384.8h0.8M180.9 406h0.8M210.3 395.3h0.8M191.8 404.4h0.8M179.7 391.4h0.8M185.3 407.1h0.8M154.6 390.9h0.8M184.9 401.1h0.8M184.8 421.5h0.8M197.9 377.4h0.8M207.7 385.8h0.8M163.5 413h0.8M172.6 370.7h0.8M190 403.4h0.8M188.5 375h0.8M193.3 387h0.8M195.1 377.4h0.8M164.2 412.7h0.8M182.8 387.7h0.8M203.7 399.6h0.8M192.6 401.6h0.8M176.6 398.5h0.8M186.5 413.7h0.8M189.6 409.9h0.8M184.3 398.7h0.8M186.5 380.9h0.8M181 380h0.8M179.9 395.2h0.8M175.1 401.1h0.8M169.2 396h0.8M191.2 419.4h0.8M185.8 408.8h0.8M189.1 421.8h0.8M191.1 400.9h0.8M166.5 369.7h0.8M203.7 400.6h0.8M190.6 402.6h0.8M183.6 402.6h0.8M184.4 395.4h0.8M168 387h0.8M202.4 385h0.8M158.9 406.4h0.8M205.3 376.5h0.8M160.1 380.2h0.8M185.4 404.8h0.8M204.2 395.4h0.8M173.7 387h0.8M199 387.1h0.8M163 392.7h0.8M177.7 402.3h0.8M166.7 423h0.8M180.8 380.7h0.8M173.1 377.3h0.8M173 400.3h0.8M181.3 375.6h0.8M200.6 393.4h0.8M179.5 418.4h0.8M159.8 402.5h0.8M165.8 399h0.8M176.8 397.8h0.8M151.8 392.3h0.8M194.4 394.7h0.8M193.9 406.2h0.8M182.6 390.5h0.8M179.5 381.8h0.8M190.4 401.1h0.8M193.7 404.8h0.8M181.7 409.2h0.8M203.5 391.8h0.8M154.8 375.2h0.8M196.5 403.3h0.8M188 370.3h0.8M167.8 372.2h0.8M157.1 387.4h0.8M165.5 420.4h0.8M154.7 386.6h0.8M164.3 397.2h0.8M191.6 383.8h0.8M147.4 389.5h0.8M185.4 379.4h0.8M196 380.4h0.8M166.2 389.1h0.8M184.6 380.5h0.8M157.5 385.3h0.8M207.6 416.1h0.8M180.8 385.2h0.8M187.7 404.6h0.8M185.3 385.3h0.8M187.5 393.6h0.8M194.2 400h0.8M192.3 401.2h0.8M169.4 414.1h0.8M159 406.3h0.8M170 390.5h0.8M183.1 388.1h0.8M159.3 381.9h0.8M157.4 396.5h0.8M183.9 394.8h0.8M149.5 398.1h0.8M195.5 378.6h0.8M161.6 410.1h0.8M175 412.6h0.8M171.9 374.2h0.8M177.4 395.3h0.8M183.5 383.1h0.8M167.9 420.3h0.8M157.5 399.6h0.8M184.9 409.4h0.8M178 386.2h0.8M180.1 373.5h0.8M206.9 408.9h0.8M151.3 381h0.8M183.8 383.4h0.8M160.7 379.6h0.8M185.8 385.1h0.8M201.2 421.3h0.8M176.8 412h0.8M198.2 399.3h0.8M174.9 415.6h0.8M190.2 393.3h0.8M168.9 396.1h0.8M195.2 406.6h0.8M167.3 393.8h0.8M181.1 389.9h0.8M176.5 381.3h0.8M163.4 400.5h0.8M182.5 391.5h0.8M190.9 400.3h0.8M169.6 406.5h0.8M198.1 396.3h0.8M162.2 393.1h0.8M188.6 396.2h0.8M163.4 388.9h0.8M174 392.1h0.8M179.2 420.2h0.8M182.4 390.6h0.8M190.8 406h0.8M159 387.1h0.8M158.5 401.3h0.8M193.9 392.9h0.8M200.6 387.7h0.8M172.6 395.3h0.8M181.6 421.2h0.8M158.3 404.7h0.8M179.8 414h0.8M154.3 378.9h0.8M209.1 415.2h0.8M197.8 394.5h0.8M197.5 396.5h0.8M158.8 394.3h0.8M173.6 380.7h0.8M168 385.9h0.8M187.8 410.9h0.8M198.5 412.8h0.8M159.1 404.9h0.8M193 402.5h0.8M181.2 383.8h0.8M194.5 374.2h0.8M188.2 389.8h0.8M154.4 389.5h0.8M175.6 408.7h0.8M192.7 414.8h0.8M191.9 389.4h0.8M170.4 398.6h0.8M172 371.4h0.8M180.3 425.8h0.8M169.1 411.8h0.8M180.9 403.5h0.8M179.5 412.8h0.8M187.5 389.1h0.8M176.4 392.7h0.8M179.7 399.6h0.8M170.5 387.5h0.8M178.1 369.5h0.8M185.5 401.8h0.8M186.1 410.9h0.8M186.7 410.3h0.8M176.3 409h0.8M190.8 394.2h0.8M179.7 371.1h0.8M153.8 411.3h0.8M196.8 383.8h0.8M198.9 401.2h0.8M168 391h0.8M198.1 374.6h0.8M188.3 389.8h0.8M201.3 387.7h0.8M164.8 410.4h0.8M183.3 387h0.8M190 388.7h0.8M189.3 397.4h0.8M191.7 381.6h0.8M165.8 423.7h0.8M183.6 393.3h0.8M161.6 388.1h0.8M182.2 377.7h0.8M177.2 392.1h0.8M200 389.4h0.8M174.1 399.8h0.8M167 369.7h0.8M178.5 389.2h0.8M166.2 416.8h0.8M179.9 384.7h0.8M165.5 419.9h0.8M192.5 369.2h0.8M188.8 388.4h0.8M167.4 412.8h0.8M190.8 383.2h0.8M177.6 405.5h0.8M175.8 402.2h0.8M165.3 415.4h0.8M204.2 386h0.8M152.3 388.8h0.8M193.6 399.1h0.8M176.9 398.7h0.8M151.2 395.3h0.8M176.1 386.4h0.8M192.2 386.1h0.8M166.4 406.5h0.8M189.4 397h0.8M182.1 401.8h0.8M184 381.2h0.8M193 426.3h0.8M184.9 392h0.8M199.2 405.4h0.8M164.4 394.5h0.8M167.6 411.4h0.8M154.3 414.9h0.8M165.7 400.5h0.8M170.1 401.8h0.8M199 405.4h0.8M156 392.1h0.8M180.4 424.3h0.8M168.7 390h0.8M164 395.2h0.8M189.9 381.1h0.8M203.4 415h0.8M192.6 405.4h0.8M155.8 400.7h0.8M174.9 381.9h0.8M160.8 392.8h0.8M182.9 403.4h0.8M188.7 397h0.8M178.6 405.2h0.8M166.5 376h0.8M188.1 415.3h0.8M162.5 400.6h0.8M160.4 411.6h0.8M189.6 381h0.8M191.9 374.2h0.8M169.7 399.4h0.8M202 407.9h0.8M205.1 374.1h0.8M183 419.6h0.8M187.3 414.2h0.8M155.7 378.9h0.8M169.9 387.4h0.8M180 391h0.8M156.8 399.3h0.8M152.4 385.4h0.8M183.7 382.3h0.8M177.6 405.8h0.8M204.9 414.2h0.8M194 403.4h0.8M155 382.9h0.8M162 387.7h0.8M175.4 381.4h0.8M169.9 412.8h0.8M172.7 393.6h0.8M194.7 421.5h0.8M166.6 407.3h0.8M182.3 394.5h0.8M162.5 399.1h0.8M164 386.4h0.8M172.8 413.5h0.8M190.9 383h0.8M187.8 398h0.8M175.5 381.3h0.8M160.7 394h0.8M166.7 382.2h0.8M175.2 387h0.8M160.7 391.9h0.8M177.9 400.5h0.8M198.7 373.8h0.8M179.8 388.1h0.8M197 414h0.8M182.2 387.9h0.8M148.8 387.5h0.8M162.2 396.1h0.8M205.4 424.1h0.8M182.9 397.4h0.8M175.1 400h0.8M173.8 421.9h0.8M164 397.3h0.8M166.4 409.8h0.8M210 405.6h0.8M181.1 396.5h0.8M188 388.7h0.8M207.4 422.2h0.8M195.9 408h0.8M170.6 423.2h0.8M153.1 385.1h0.8M163.4 371.3h0.8M196.6 413.8h0.8M181.9 371.8h0.8M176.6 384.4h0.8M194.4 418h0.8M186.1 402.6h0.8M205.9 421.6h0.8M157 403h0.8M157.4 384.9h0.8M198.8 379.8h0.8M175.5 414.9h0.8M186.7 372h0.8M176.7 393.1h0.8M162.5 426.9h0.8M179.7 397.3h0.8M197.1 399h0.8M155.2 396.7h0.8M186.4 399.1h0.8M197.8 409.7h0.8M188.1 394.4h0.8M179.7 425.6h0.8M149.7 413.6h0.8M187.1 386.7h0.8M179 406h0.8M154.2 399.5h0.8M189.5 383.8h0.8M181.6 417.8h0.8M182.8 384.3h0.8M151 370.9h0.8M196.8 394.1h0.8M177.6 393.9h0.8M166.2 423.1h0.8M191.7 419.1h0.8M158 406h0.8M191 380.3h0.8M163.9 385h0.8M197.4 400.4h0.8M166.7 407.4h0.8M167.6 399h0.8M178 384.5h0.8M196.2 397.9h0.8M195.4 400.5h0.8M157.6 396.8h0.8M159.2 374.5h0.8M186.2 401.2h0.8M147.4 389.2h0.8M179.8 373.8h0.8M198.5 386.1h0.8" stroke="#6e6e6e" stroke-width="0.8" stroke-opacity="0.5"/><path d="M186.3 406.6h0.8M162.6 402.2h0.8M181.4 403h0.8M171.6 411.4h0.8M191.9 419.8h0.8M198.2 377.1h0.8M169.3 403.4h0.8M197 386.8h0.8M179.5 401.6h0.8M177.4 411.9h0.8M161.8 404.6h0.8M165.3 403.4h0.8M162.9 392.9h0.8M195.7 383h0.8M180.6 406.5h0.8M177.3 393.1h0.8M179.4 384h0.8M192.6 407.7h0.8M209.9 401.2h0.8M198.5 389.7h0.8M187.8 383.6h0.8M183.6 392.4h0.8M176.3 392.7h0.8M191 386.6h0.8M171.8 415.6h0.8M168.3 391.4h0.8M186.4 402.1h0.8M183.9 371h0.8M154.3 384.9h0.8M164.2 406.9h0.8M171.5 417.9h0.8M178.8 406.1h0.8M167.6 388.4h0.8M186.9 409.9h0.8M167.7 415.9h0.8M175.1 420h0.8M157.7 392h0.8M190.7 396.1h0.8M169.2 406.6h0.8M195.9 391.2h0.8M192.8 390.8h0.8M165.4 415.9h0.8M169.4 390h0.8M192.7 382.8h0.8M162.8 393.3h0.8M180.9 410.7h0.8M176 387.6h0.8M156.8 392.4h0.8M171.2 413.2h0.8M151.1 371.1h0.8M146.5 393.5h0.8M186.8 420.6h0.8M150.8 399.2h0.8M168.3 420.6h0.8M185.2 419.2h0.8M178.7 412.6h0.8M185.4 387.6h0.8M195.6 392.4h0.8M157.5 404.6h0.8M206.1 401.3h0.8M188.8 378.8h0.8M165.1 388.2h0.8M183.9 369.9h0.8M170.1 398.6h0.8M176.5 392.5h0.8M186.6 403.9h0.8M157.7 377.2h0.8M188.7 408.6h0.8M154.9 406.7h0.8M154.2 394.3h0.8M201.4 372.7h0.8M178.8 393.5h0.8M158.8 407.9h0.8M162.2 386.8h0.8M159.3 403.1h0.8M188.6 416.7h0.8M174.4 384.4h0.8M205.1 387.5h0.8M190.7 420.4h0.8M192.7 369.7h0.8M160.1 384.9h0.8M193.4 385h0.8M192.2 399.7h0.8M181.4 396.1h0.8M165.1 416.6h0.8M180.7 418.7h0.8M162.3 371.3h0.8M203.3 379h0.8M180.3 390.7h0.8M175.5 391.3h0.8M158.7 378.4h0.8M181.9 385.6h0.8M208.7 397.3h0.8M203 389h0.8M192.3 387.2h0.8M161.3 392.4h0.8M154.2 386.2h0.8M190.6 393.5h0.8M180.5 407.4h0.8M175.4 385.3h0.8M153.6 394.9h0.8M187.5 399h0.8M198.7 389.7h0.8M182.8 383.4h0.8M169.4 405.3h0.8M166.7 372.8h0.8M161.5 391.3h0.8M165.4 391.5h0.8M187.5 395.5h0.8M186 393.4h0.8M165.4 381.1h0.8M197.2 380.9h0.8M160.5 382.9h0.8M183.5 397h0.8M173.3 394.8h0.8M147.8 393.6h0.8M174.1 402.7h0.8M164.7 387.7h0.8M166.7 425.8h0.8M161 396.4h0.8M160.9 415.9h0.8M179.9 398.6h0.8M195.9 415h0.8M165.9 399.4h0.8M168.9 413h0.8M182.7 383.3h0.8M178.3 397.6h0.8M196.8 368.6h0.8M184.8 412.9h0.8M154.6 406.9h0.8M192.2 387.8h0.8M169.3 419h0.8M173.6 406.3h0.8M184 398.7h0.8M155.7 385h0.8M179.6 394.6h0.8M175.9 407.3h0.8M178.6 406.5h0.8M179.4 401.4h0.8M168.5 373.5h0.8M192.9 408.7h0.8M189.4 383.8h0.8M197.4 397.3h0.8M180.8 385.9h0.8M169 386.4h0.8M184.4 385.6h0.8M177.3 387.7h0.8M154.9 396.6h0.8M180.1 396.9h0.8M177.6 381.6h0.8M191 397.7h0.8M157.5 411.9h0.8M175.5 383h0.8M159.8 396.3h0.8M158.2 406.4h0.8M168.3 389.1h0.8M166.2 401.2h0.8M149 384.7h0.8M174.6 384.7h0.8M159.9 405.3h0.8M167 383.7h0.8M167 386h0.8M191.7 400h0.8M151 415.5h0.8M196.8 391.5h0.8M160.1 396h0.8M167.4 403.3h0.8M176.9 414.4h0.8M148.9 386.6h0.8M182.6 388.4h0.8M170.2 378.7h0.8M189.9 384.2h0.8M169.4 394.6h0.8M206.6 415.8h0.8M203.8 392.5h0.8M165.4 414.9h0.8M165 403.5h0.8M166.8 380.2h0.8M178.7 382.5h0.8M172.2 408.5h0.8M174.2 410.4h0.8M169.7 400.7h0.8M159.8 415h0.8M148.7 373.3h0.8M176.1 391.8h0.8M171.6 404.6h0.8M183.8 396.3h0.8M149 379.8h0.8M158.4 399.1h0.8M164.3 371.8h0.8M164 392.7h0.8M163.6 413.4h0.8M150.2 416.5h0.8M184 411.6h0.8M180.9 413.9h0.8M187.2 386.5h0.8M168.8 391.8h0.8M165.3 414.7h0.8M183.1 392.6h0.8M191.6 396.6h0.8M195.7 419.2h0.8M180.4 386.9h0.8M156.6 421.4h0.8M184.1 386.7h0.8M175.7 378.9h0.8M201 400h0.8M170.9 373.8h0.8M176.8 397.7h0.8M158.1 412.3h0.8M187.6 396.1h0.8M165.7 369.3h0.8M169.2 392.4h0.8M156.4 399.7h0.8M191.3 388.5h0.8M170.1 395.1h0.8M206.5 416.3h0.8M148.1 388.1h0.8M208.2 402.8h0.8M199.6 390.2h0.8M178.9 403.4h0.8M177.1 394.7h0.8M202.5 393.1h0.8M200.7 386.7h0.8M171.9 406.2h0.8M186.4 409.7h0.8M178.1 395.1h0.8M169.1 372.4h0.8M170.2 410.7h0.8M176.3 398.5h0.8M199.4 382.1h0.8M183.6 387.4h0.8M197.3 374.1h0.8M171.3 388.1h0.8M171.6 387.4h0.8M210.4 392.4h0.8M174.9 374.5h0.8M154.2 384.5h0.8M156.2 403h0.8M167.2 389h0.8M175 382.3h0.8M155.3 385.7h0.8M181 394h0.8M162.6 418.8h0.8M183.9 405.3h0.8M204.3 382.2h0.8M194.2 399.3h0.8M182.6 373.4h0.8M163.3 395.7h0.8M176.7 418.1h0.8M170.9 399.2h0.8M172.1 376.7h0.8M171.5 397.1h0.8M207.9 413.7h0.8M168.2 382.6h0.8M177.1 387.4h0.8M176.7 387.9h0.8M159 394.4h0.8M169.7 417.9h0.8M147.1 408.9h0.8M171.8 407.1h0.8M164.8 401.7h0.8M163.7 393.9h0.8M176 387.3h0.8M176.2 396.2h0.8M171.9 370.9h0.8M182.4 374.8h0.8M176.3 410.5h0.8M155.6 393.9h0.8M181.3 395.2h0.8M169.7 396.1h0.8M189.6 381.2h0.8M174.9 406.2h0.8M167.5 378.5h0.8M191.1 405.9h0.8M194.5 395.7h0.8M166.6 417.9h0.8M199.5 407.5h0.8M169.3 397.6h0.8M162.6 380.8h0.8M179.5 400.6h0.8M187.6 397.4h0.8M200.7 390.1h0.8M194.2 382.7h0.8M150.3 414.9h0.8M181.3 409.2h0.8M178.2 394.2h0.8M154.2 389.4h0.8M177.8 372h0.8M161.2 396.4h0.8M186.1 389.7h0.8M202.6 388.8h0.8M189.1 415.3h0.8M164.8 413.1h0.8M176.1 384.1h0.8M206.4 420.2h0.8M173.2 412h0.8M195.8 396.2h0.8M167.3 397h0.8M176.9 390.3h0.8M173.9 377.3h0.8M189.4 377h0.8M198 406.8h0.8M172.1 391.1h0.8M167.5 396.8h0.8M209.4 401.5h0.8M171.5 422.2h0.8M172 391.7h0.8M199.9 405.9h0.8M188.4 406.8h0.8M174.2 375.4h0.8M181.8 379.6h0.8M179.7 412.9h0.8M170.1 386.1h0.8M192.8 385.9h0.8M177.6 394.8h0.8M156.6 410.5h0.8M160 409.9h0.8M185.6 381.3h0.8M172.9 409.3h0.8M161.7 414.2h0.8M150.1 393h0.8M196.4 369h0.8M183.6 380.7h0.8M155.7 386h0.8M169.2 389.5h0.8M168.3 384.1h0.8M173.8 382.2h0.8M183.6 400.7h0.8M162.9 394h0.8M191.7 400.8h0.8M177.8 398.4h0.8M165.9 395.7h0.8M179.9 385.7h0.8M176.5 409.8h0.8M153.4 411.1h0.8M186.1 403h0.8M154.1 397.5h0.8M188.8 402.8h0.8M165.9 388.1h0.8M184.1 399.2h0.8M168.2 414.6h0.8M158.5 398.1h0.8M203.8 381.7h0.8M184.4 424.6h0.8M197.1 389.3h0.8M177.7 397.5h0.8M200.3 392.2h0.8M196 407.7h0.8M178.4 411.9h0.8M183.9 395.1h0.8M158.2 381.4h0.8M171.1 398.9h0.8M169.4 380.5h0.8M178.7 390h0.8M169.8 409.9h0.8M184 412.9h0.8M159.6 405.3h0.8M178.6 387.2h0.8M150.6 395.1h0.8M157.8 406.9h0.8M186.4 403.3h0.8M182 399.4h0.8M169.5 409.8h0.8M189.1 399h0.8M194.5 390.6h0.8M168.7 407.7h0.8M181.1 370.6h0.8M194.9 380.1h0.8M193.9 399h0.8M188.4 411.2h0.8M160.2 405.8h0.8M177.1 392.4h0.8M178.3 388.7h0.8M178.9 399.8h0.8M166.9 412.3h0.8M179.9 379.9h0.8M186.3 403.8h0.8M152.8 400.4h0.8M171.5 399.9h0.8M175.1 401.9h0.8M179.6 404.3h0.8M191 414.4h0.8M184.2 415.5h0.8M193.4 389.2h0.8M165.9 415h0.8M190.7 370.3h0.8M159.5 413.3h0.8M181 370.6h0.8M186 410.8h0.8M189.8 395.4h0.8M174.7 388.3h0.8M169 400.2h0.8M175.2 374.2h0.8M176.5 392h0.8M173.7 371.4h0.8M176.9 386.5h0.8M179 373.2h0.8M178.8 378.2h0.8M163.3 386.5h0.8M168.4 388h0.8M168.1 387h0.8M165.6 387.6h0.8M171.9 424h0.8M194.4 387.2h0.8M153.8 412.9h0.8M177.9 401.3h0.8M167.3 398.9h0.8M202.9 394.9h0.8M179.5 395.6h0.8M177.4 398.4h0.8M168 385.6h0.8M171.4 405.4h0.8M198.9 398h0.8M173.3 414.3h0.8M188.1 407h0.8M175.9 389.9h0.8M186.9 393.8h0.8M199 383.1h0.8M184 396.4h0.8M160.1 390.9h0.8M159.5 390.9h0.8M159.7 405.7h0.8M170 401.5h0.8M172.2 384.3h0.8M203.5 412.7h0.8M147.3 394h0.8M171.9 372.6h0.8M181.2 403.6h0.8M179.1 403h0.8M209.6 389.5h0.8M202.3 401.2h0.8M167.4 417.4h0.8M194 372.5h0.8M192.9 393.6h0.8M181.9 378.9h0.8M188 398.7h0.8M161.6 391.3h0.8M203.6 419h0.8M151.9 403.8h0.8M173.1 388.8h0.8M182.8 418.8h0.8M188.2 382.2h0.8M179.4 403h0.8M198.2 395.4h0.8M180.9 399.9h0.8M190.1 368.6h0.8M203.2 401.2h0.8M178.7 380.3h0.8M183.2 425.7h0.8M168 372.4h0.8M186.3 396.9h0.8M177.7 373.9h0.8M186 405.9h0.8M192.2 383.1h0.8M174.7 384.9h0.8M203.8 376.7h0.8M167.7 390.3h0.8M183.9 397.2h0.8M152.2 379h0.8M209.2 397.8h0.8M178.6 391.3h0.8M183.7 385.4h0.8M198.5 409.2h0.8M178.5 410.2h0.8M175.7 390.3h0.8M196.3 395.1h0.8M164.1 420.2h0.8M175.3 403.3h0.8M205.6 377.7h0.8M173.2 411h0.8M173.4 389.9h0.8M176.1 392.1h0.8M173.1 402.6h0.8M180.3 422.2h0.8M184.5 421.5h0.8M181.2 422.5h0.8M176.4 414.8h0.8M181.7 420.7h0.8M164.9 389.8h0.8M185.9 382.5h0.8M205 394.1h0.8M188.3 412h0.8M189.7 385.9h0.8M155.2 371.9h0.8M162.8 385.6h0.8M164.7 403.5h0.8M154.7 372.6h0.8M182 423.2h0.8M162.3 394.9h0.8M177.9 412.8h0.8M194.1 390h0.8M195.1 397.6h0.8M193.1 423.5h0.8M154.6 378.2h0.8M180.5 398.4h0.8M209.6 417.6h0.8M183.8 394.6h0.8M190.5 402.8h0.8M170.2 406.7h0.8M169.6 395.1h0.8M175.8 387.6h0.8M167 397.4h0.8M176.3 378.1h0.8M208 421.6h0.8M207.7 413.8h0.8M176.7 382.4h0.8M160.4 370.6h0.8M172.6 370.8h0.8M180.3 400.2h0.8M168.8 388.3h0.8M177.1 404.6h0.8M172.3 421.2h0.8M162.5 387.1h0.8M169.7 393.2h0.8M182 404.2h0.8M172.4 419.5h0.8M178.8 376h0.8M152.8 397.5h0.8M198.2 401.8h0.8M176.5 391.2h0.8M169.1 390h0.8M189 411.6h0.8M187.3 385.7h0.8M187.8 410.9h0.8M168.2 397.4h0.8M155.3 380.2h0.8M175.6 387.6h0.8M168.9 382.8h0.8M185.2 411.3h0.8M160.7 399.4h0.8M169.8 399.3h0.8M197 399.3h0.8M175.4 380.3h0.8M197.1 419.5h0.8M174.4 377h0.8M207.7 403.2h0.8M169.3 373.7h0.8" stroke="#aaa" stroke-width="0.8" stroke-opacity="0.5"/><ellipse cx="171" cy="406.5" rx="10" ry="5" fill="#b06050" opacity="0.25" filter="url(#b1)"/><path d="M134.1 361L213.6 361L213.6 388.4L134.1 397.5Z" fill="none" stroke="#333" stroke-width="0.7"/><path d="M134.1 400.2L213.6 391.7L213.6 426.7L134.1 426.7Z" fill="none" stroke="#333" stroke-width="0.7"/><rect x="132.3" y="357.7" width="82.6" height="69" fill="none" stroke="#666" stroke-width="0.7"/><path d="M153.6 356.9L155.1 356.9" stroke="#666" stroke-width="0.6"/><path d="M131.1 357.7L132.3 357.7" stroke="#666" stroke-width="0.4"/><path d="M132.3 426.7L132.3 427.9" stroke="#666" stroke-width="0.4"/><path d="M131.1 360.2L132.3 360.2" stroke="#666" stroke-width="0.4"/><path d="M135.2 426.7L135.2 427.9" stroke="#666" stroke-width="0.4"/><path d="M131.1 362.6L132.3 362.6" stroke="#666" stroke-width="0.4"/><path d="M138.2 426.7L138.2 427.9" stroke="#666" stroke-width="0.4"/><path d="M131.1 365.1L132.3 365.1" stroke="#666" stroke-width="0.4"/><path d="M141.2 426.7L141.2 427.9" stroke="#666" stroke-width="0.4"/><path d="M131.1 367.6L132.3 367.6" stroke="#666" stroke-width="0.4"/><path d="M144.1 426.7L144.1 427.9" stroke="#666" stroke-width="0.4"/><path d="M131.1 370L132.3 370" stroke="#666" stroke-width="0.4"/><path d="M147.1 426.7L147.1 427.9" stroke="#666" stroke-width="0.4"/><path d="M131.1 372.5L132.3 372.5" stroke="#666" stroke-width="0.4"/><path d="M150 426.7L150 427.9" stroke="#666" stroke-width="0.4"/><path d="M131.1 374.9L132.3 374.9" stroke="#666" stroke-width="0.4"/><path d="M153 426.7L153 427.9" stroke="#666" stroke-width="0.4"/><path d="M131.1 377.4L132.3 377.4" stroke="#666" stroke-width="0.4"/><path d="M155.9 426.7L155.9 427.9" stroke="#666" stroke-width="0.4"/><path d="M131.1 379.9L132.3 379.9" stroke="#666" stroke-width="0.4"/><path d="M158.9 426.7L158.9 427.9" stroke="#666" stroke-width="0.4"/><path d="M131.1 382.3L132.3 382.3" stroke="#666" stroke-width="0.4"/><path d="M161.8 426.7L161.8 427.9" stroke="#666" stroke-width="0.4"/><path d="M131.1 384.8L132.3 384.8" stroke="#666" stroke-width="0.4"/><path d="M164.8 426.7L164.8 427.9" stroke="#666" stroke-width="0.4"/><path d="M131.1 387.3L132.3 387.3" stroke="#666" stroke-width="0.4"/><path d="M167.7 426.7L167.7 427.9" stroke="#666" stroke-width="0.4"/><path d="M131.1 389.7L132.3 389.7" stroke="#666" stroke-width="0.4"/><path d="M170.7 426.7L170.7 427.9" stroke="#666" stroke-width="0.4"/><path d="M131.1 392.2L132.3 392.2" stroke="#666" stroke-width="0.4"/><path d="M173.6 426.7L173.6 427.9" stroke="#666" stroke-width="0.4"/><path d="M131.1 394.7L132.3 394.7" stroke="#666" stroke-width="0.4"/><path d="M176.6 426.7L176.6 427.9" stroke="#666" stroke-width="0.4"/><path d="M131.1 397.1L132.3 397.1" stroke="#666" stroke-width="0.4"/><path d="M179.5 426.7L179.5 427.9" stroke="#666" stroke-width="0.4"/><path d="M131.1 399.6L132.3 399.6" stroke="#666" stroke-width="0.4"/><path d="M182.4 426.7L182.4 427.9" stroke="#666" stroke-width="0.4"/><path d="M131.1 402.1L132.3 402.1" stroke="#666" stroke-width="0.4"/><path d="M185.4 426.7L185.4 427.9" stroke="#666" stroke-width="0.4"/><path d="M131.1 404.5L132.3 404.5" stroke="#666" stroke-width="0.4"/><path d="M188.4 426.7L188.4 427.9" stroke="#666" stroke-width="0.4"/><path d="M131.1 407L132.3 407" stroke="#666" stroke-width="0.4"/><path d="M191.3 426.7L191.3 427.9" stroke="#666" stroke-width="0.4"/><path d="M131.1 409.4L132.3 409.4" stroke="#666" stroke-width="0.4"/><path d="M194.2 426.7L194.2 427.9" stroke="#666" stroke-width="0.4"/><path d="M131.1 411.9L132.3 411.9" stroke="#666" stroke-width="0.4"/><path d="M197.2 426.7L197.2 427.9" stroke="#666" stroke-width="0.4"/><path d="M131.1 414.4L132.3 414.4" stroke="#666" stroke-width="0.4"/><path d="M200.2 426.7L200.2 427.9" stroke="#666" stroke-width="0.4"/><path d="M131.1 416.8L132.3 416.8" stroke="#666" stroke-width="0.4"/><path d="M203.1 426.7L203.1 427.9" stroke="#666" stroke-width="0.4"/><path d="M131.1 419.3L132.3 419.3" stroke="#666" stroke-width="0.4"/><path d="M206.1 426.7L206.1 427.9" stroke="#666" stroke-width="0.4"/><path d="M131.1 421.8L132.3 421.8" stroke="#666" stroke-width="0.4"/><path d="M209 426.7L209 427.9" stroke="#666" stroke-width="0.4"/><path d="M131.1 424.2L132.3 424.2" stroke="#666" stroke-width="0.4"/><path d="M211.9 426.7L211.9 427.9" stroke="#666" stroke-width="0.4"/><path d="M131.1 426.7L132.3 426.7" stroke="#666" stroke-width="0.4"/><path d="M214.9 426.7L214.9 427.9" stroke="#666" stroke-width="0.4"/><text x="174.3" y="381.5" font-size="4.5" text-anchor="middle" fill="#333">P10</text><text x="174.3" y="415.5" font-size="4.5" text-anchor="middle" fill="#222">P8</text><text x="147.8" y="432" font-size="3.5" text-anchor="middle" fill="#444">50</text><text x="163.4" y="432" font-size="3.5" text-anchor="middle" fill="#444">100</text><text x="178.9" y="432" font-size="3.5" text-anchor="middle" fill="#444">150</text><text x="194.5" y="432" font-size="3.5" text-anchor="middle" fill="#444">200</text><text x="210" y="432" font-size="3.5" text-anchor="middle" fill="#444">250</text><text x="207.2" y="439" font-size="3.2" text-anchor="middle" fill="#444">(x 1,000)</text><text x="173" y="441.3" font-size="8" font-weight="bold" text-anchor="middle" fill="#000">FSC-A</text><text x="124.5" y="390.5" font-size="7.2" font-weight="bold" text-anchor="middle" transform="rotate(-90 124.5 390.5)" fill="#000">CD45-FITC</text><text x="129.3" y="413" font-size="3.2" text-anchor="middle" transform="rotate(-90 129.3 413)" fill="#555">10</text><text x="129.3" y="395" font-size="3.2" text-anchor="middle" transform="rotate(-90 129.3 395)" fill="#555">10</text><text x="129.3" y="378" font-size="3.2" text-anchor="middle" transform="rotate(-90 129.3 378)" fill="#555">10</text><text x="129.3" y="363" font-size="3.2" text-anchor="middle" transform="rotate(-90 129.3 363)" fill="#555">10</text><path d="M70.1 459.4h0.7M62.6 500.6h0.7M79.1 498h0.7M71.3 495.1h0.7M66.4 465.5h0.7M78.1 483h0.7M53.3 467.8h0.7M92.2 459.9h0.7M52.5 489.1h0.7M80.5 487.3h0.7M39.3 499.7h0.7M66.5 462.5h0.7M89.7 482.4h0.7M65.5 474.6h0.7M73.9 486h0.7M53.5 490h0.7M73 468.4h0.7M83.9 486.8h0.7M65.1 488.9h0.7M53 472.2h0.7M66.5 470.1h0.7M98.1 487.4h0.7M82.8 510h0.7M96.8 514.5h0.7M52.2 508h0.7M60.9 481.1h0.7M73.1 485.4h0.7M68.8 488.7h0.7M98.8 452.3h0.7M40.8 465.3h0.7M75 485.9h0.7M76.8 512h0.7M69.9 463.6h0.7M77.7 510.8h0.7M107.9 483.4h0.7M72.4 489.2h0.7M81 482.3h0.7M60.2 507.1h0.7M99.3 484.7h0.7" stroke="#999" stroke-width="0.7" stroke-opacity="0.5"/><rect x="27.5" y="449.5" width="27" height="35" fill="none" stroke="#3a3a3a" stroke-width="0.65"/><rect x="62.5" y="449.5" width="49.2" height="34.5" fill="none" stroke="#3a3a3a" stroke-width="0.65"/><rect x="62.5" y="494.5" width="49.2" height="15" fill="none" stroke="#3a3a3a" stroke-width="0.65"/><rect x="45" y="497.5" width="9" height="11" fill="#e8a090" stroke="#555" stroke-width="0.5"/><rect x="45.8" y="498.1" width="7.6" height="9.4" rx="2" fill="#c83a22"/><path d="M48.1 501.2h0.8M46.7 499.4h0.8M48.8 500.9h0.8M50.2 501.5h0.8M47.3 501.9h0.8M43.4 504.1h0.8M48.9 507h0.8M48.4 502.6h0.8M47.3 509.1h0.8M50.2 506.6h0.8M48.7 504.7h0.8M47.2 501.2h0.8M48.8 500.4h0.8M51.3 505.4h0.8M52.4 500.3h0.8M48.1 502.8h0.8M51.1 499.3h0.8M48.8 506h0.8M49.7 502.6h0.8M46.7 502h0.8M51.1 505.9h0.8M45.4 504.1h0.8M48.5 500.2h0.8M53.9 504.8h0.8M46.8 499.9h0.8M49.8 498.6h0.8M48.9 504.3h0.8M46.2 503.4h0.8M50.4 501h0.8M50.3 504.8h0.8M50.4 500.9h0.8M51.4 501.9h0.8M49.9 503h0.8M49.4 497h0.8M51.9 504.2h0.8M49.7 504.6h0.8M48.4 502.4h0.8M50.6 496.6h0.8M47.6 501.1h0.8M48.6 501.3h0.8" stroke="#a01808" stroke-width="0.8" stroke-opacity="0.7"/><rect x="26.3" y="448.3" width="86.2" height="72.2" fill="none" stroke="#666" stroke-width="0.7"/><path d="M49.4 447.5L50.9 447.5" stroke="#666" stroke-width="0.6"/><path d="M25.1 448.3L26.3 448.3" stroke="#666" stroke-width="0.4"/><path d="M26.3 520.5L26.3 521.7" stroke="#666" stroke-width="0.4"/><path d="M25.1 450.9L26.3 450.9" stroke="#666" stroke-width="0.4"/><path d="M29.4 520.5L29.4 521.7" stroke="#666" stroke-width="0.4"/><path d="M25.1 453.5L26.3 453.5" stroke="#666" stroke-width="0.4"/><path d="M32.5 520.5L32.5 521.7" stroke="#666" stroke-width="0.4"/><path d="M25.1 456L26.3 456" stroke="#666" stroke-width="0.4"/><path d="M35.5 520.5L35.5 521.7" stroke="#666" stroke-width="0.4"/><path d="M25.1 458.6L26.3 458.6" stroke="#666" stroke-width="0.4"/><path d="M38.6 520.5L38.6 521.7" stroke="#666" stroke-width="0.4"/><path d="M25.1 461.2L26.3 461.2" stroke="#666" stroke-width="0.4"/><path d="M41.7 520.5L41.7 521.7" stroke="#666" stroke-width="0.4"/><path d="M25.1 463.8L26.3 463.8" stroke="#666" stroke-width="0.4"/><path d="M44.8 520.5L44.8 521.7" stroke="#666" stroke-width="0.4"/><path d="M25.1 466.4L26.3 466.4" stroke="#666" stroke-width="0.4"/><path d="M47.9 520.5L47.9 521.7" stroke="#666" stroke-width="0.4"/><path d="M25.1 468.9L26.3 468.9" stroke="#666" stroke-width="0.4"/><path d="M50.9 520.5L50.9 521.7" stroke="#666" stroke-width="0.4"/><path d="M25.1 471.5L26.3 471.5" stroke="#666" stroke-width="0.4"/><path d="M54 520.5L54 521.7" stroke="#666" stroke-width="0.4"/><path d="M25.1 474.1L26.3 474.1" stroke="#666" stroke-width="0.4"/><path d="M57.1 520.5L57.1 521.7" stroke="#666" stroke-width="0.4"/><path d="M25.1 476.7L26.3 476.7" stroke="#666" stroke-width="0.4"/><path d="M60.2 520.5L60.2 521.7" stroke="#666" stroke-width="0.4"/><path d="M25.1 479.2L26.3 479.2" stroke="#666" stroke-width="0.4"/><path d="M63.2 520.5L63.2 521.7" stroke="#666" stroke-width="0.4"/><path d="M25.1 481.8L26.3 481.8" stroke="#666" stroke-width="0.4"/><path d="M66.3 520.5L66.3 521.7" stroke="#666" stroke-width="0.4"/><path d="M25.1 484.4L26.3 484.4" stroke="#666" stroke-width="0.4"/><path d="M69.4 520.5L69.4 521.7" stroke="#666" stroke-width="0.4"/><path d="M25.1 487L26.3 487" stroke="#666" stroke-width="0.4"/><path d="M72.5 520.5L72.5 521.7" stroke="#666" stroke-width="0.4"/><path d="M25.1 489.6L26.3 489.6" stroke="#666" stroke-width="0.4"/><path d="M75.6 520.5L75.6 521.7" stroke="#666" stroke-width="0.4"/><path d="M25.1 492.1L26.3 492.1" stroke="#666" stroke-width="0.4"/><path d="M78.6 520.5L78.6 521.7" stroke="#666" stroke-width="0.4"/><path d="M25.1 494.7L26.3 494.7" stroke="#666" stroke-width="0.4"/><path d="M81.7 520.5L81.7 521.7" stroke="#666" stroke-width="0.4"/><path d="M25.1 497.3L26.3 497.3" stroke="#666" stroke-width="0.4"/><path d="M84.8 520.5L84.8 521.7" stroke="#666" stroke-width="0.4"/><path d="M25.1 499.9L26.3 499.9" stroke="#666" stroke-width="0.4"/><path d="M87.9 520.5L87.9 521.7" stroke="#666" stroke-width="0.4"/><path d="M25.1 502.4L26.3 502.4" stroke="#666" stroke-width="0.4"/><path d="M91 520.5L91 521.7" stroke="#666" stroke-width="0.4"/><path d="M25.1 505L26.3 505" stroke="#666" stroke-width="0.4"/><path d="M94 520.5L94 521.7" stroke="#666" stroke-width="0.4"/><path d="M25.1 507.6L26.3 507.6" stroke="#666" stroke-width="0.4"/><path d="M97.1 520.5L97.1 521.7" stroke="#666" stroke-width="0.4"/><path d="M25.1 510.2L26.3 510.2" stroke="#666" stroke-width="0.4"/><path d="M100.2 520.5L100.2 521.7" stroke="#666" stroke-width="0.4"/><path d="M25.1 512.8L26.3 512.8" stroke="#666" stroke-width="0.4"/><path d="M103.3 520.5L103.3 521.7" stroke="#666" stroke-width="0.4"/><path d="M25.1 515.3L26.3 515.3" stroke="#666" stroke-width="0.4"/><path d="M106.3 520.5L106.3 521.7" stroke="#666" stroke-width="0.4"/><path d="M25.1 517.9L26.3 517.9" stroke="#666" stroke-width="0.4"/><path d="M109.4 520.5L109.4 521.7" stroke="#666" stroke-width="0.4"/><path d="M25.1 520.5L26.3 520.5" stroke="#666" stroke-width="0.4"/><path d="M112.5 520.5L112.5 521.7" stroke="#666" stroke-width="0.4"/><text x="41" y="468" font-size="3.8" text-anchor="middle" fill="#444">P7</text><text x="87.1" y="465.2" font-size="3.8" text-anchor="middle" fill="#444">P6</text><text x="87.1" y="503.5" font-size="3.8" text-anchor="middle" fill="#444">P9</text><text x="68" y="531.5" font-size="7.8" font-weight="bold" text-anchor="middle" fill="#000">IgG1-PE</text><text x="26.3" y="525" font-size="3.2" text-anchor="middle" fill="#555">-2,0</text><text x="43.5" y="525" font-size="3.2" text-anchor="middle" fill="#555">-10</text><text x="60.8" y="525" font-size="3.2" text-anchor="middle" fill="#555">0</text><text x="79.7" y="525" font-size="3.2" text-anchor="middle" fill="#555">10</text><text x="103.9" y="525" font-size="3.2" text-anchor="middle" fill="#555">10</text><text x="23.3" y="455.5" font-size="3.2" text-anchor="middle" transform="rotate(-90 23.3 455.5)" fill="#555">10</text><text x="23.3" y="470" font-size="3.2" text-anchor="middle" transform="rotate(-90 23.3 470)" fill="#555">10</text><text x="23.3" y="493.1" font-size="3.2" text-anchor="middle" transform="rotate(-90 23.3 493.1)" fill="#555">10</text><text x="23.3" y="513.3" font-size="3.2" text-anchor="middle" transform="rotate(-90 23.3 513.3)" fill="#555">10</text><text x="20.5" y="482.5" font-size="7.6" font-weight="bold" text-anchor="middle" transform="rotate(-90 20.5 482.5)" fill="#000">CD271-APC</text><path d="M156.1 486.8h0.7M186.3 489.9h0.7M190.9 490.7h0.7M199.7 506.3h0.7M162.2 471.5h0.7M159.6 478.2h0.7M185.2 490.9h0.7M175.3 473.6h0.7M163.1 480.4h0.7M176 490.5h0.7M157.2 504h0.7M186.1 493.5h0.7M140.4 494.9h0.7M174.2 486.2h0.7M165.2 463.8h0.7M196.6 467h0.7M185.6 488.6h0.7M200.1 477h0.7M149.1 488.6h0.7M196.1 475.6h0.7M191.6 492h0.7M171.7 486.5h0.7M174.1 474.7h0.7M174.3 489.7h0.7M184 473.6h0.7M182.3 471.1h0.7M179 480.2h0.7M165.2 482.8h0.7M178.4 457.9h0.7M195.7 498.4h0.7M177.8 459.7h0.7M187.9 483.6h0.7M203.5 476.8h0.7M167.8 498h0.7M168.1 449.7h0.7" stroke="#999" stroke-width="0.7" stroke-opacity="0.5"/><rect x="130.5" y="448.8" width="27" height="35" fill="none" stroke="#3a3a3a" stroke-width="0.65"/><rect x="165.5" y="448.8" width="48.2" height="35" fill="none" stroke="#3a3a3a" stroke-width="0.65"/><rect x="165.5" y="494.5" width="48.2" height="15.5" fill="none" stroke="#3a3a3a" stroke-width="0.65"/><rect x="148.8" y="497.5" width="8.5" height="11.5" fill="#e8a090" stroke="#555" stroke-width="0.5"/><rect x="149.6" y="498.1" width="7.1" height="9.9" rx="2" fill="#c83a22"/><path d="M150.6 503.8h0.8M153.7 508h0.8M155.2 499.2h0.8M154.8 504.3h0.8M153.2 499.8h0.8M157.5 508.3h0.8M153.7 500.8h0.8M150.1 499.9h0.8M155.1 498.2h0.8M155.7 502.6h0.8M153.8 505.4h0.8M158.8 505.3h0.8M152.5 504.3h0.8M153.3 503.3h0.8M153.2 500.3h0.8M153.7 499.2h0.8M155.7 502.1h0.8M150.1 505.1h0.8M154.6 503.5h0.8M149.2 499.4h0.8M154.3 509.8h0.8M153.6 504.1h0.8M154.4 500.6h0.8M155.7 501.4h0.8M153.1 500.8h0.8M150 500.9h0.8M150.7 502h0.8M156.7 504.1h0.8M151.6 504.4h0.8M151.6 506.5h0.8M154.9 502.2h0.8M152.9 503.4h0.8M150.5 499.8h0.8M152.6 500.6h0.8M152.9 505.7h0.8M152.4 504.9h0.8M157.3 502h0.8M156.5 500.8h0.8M150.2 503.8h0.8M152.6 498.9h0.8" stroke="#a01808" stroke-width="0.8" stroke-opacity="0.7"/><rect x="129.5" y="448.3" width="85.5" height="71.7" fill="none" stroke="#666" stroke-width="0.7"/><path d="M152.2 447.5L153.8 447.5" stroke="#666" stroke-width="0.6"/><path d="M128.3 448.3L129.5 448.3" stroke="#666" stroke-width="0.4"/><path d="M129.5 520L129.5 521.2" stroke="#666" stroke-width="0.4"/><path d="M128.3 450.9L129.5 450.9" stroke="#666" stroke-width="0.4"/><path d="M132.6 520L132.6 521.2" stroke="#666" stroke-width="0.4"/><path d="M128.3 453.4L129.5 453.4" stroke="#666" stroke-width="0.4"/><path d="M135.6 520L135.6 521.2" stroke="#666" stroke-width="0.4"/><path d="M128.3 456L129.5 456" stroke="#666" stroke-width="0.4"/><path d="M138.7 520L138.7 521.2" stroke="#666" stroke-width="0.4"/><path d="M128.3 458.5L129.5 458.5" stroke="#666" stroke-width="0.4"/><path d="M141.7 520L141.7 521.2" stroke="#666" stroke-width="0.4"/><path d="M128.3 461.1L129.5 461.1" stroke="#666" stroke-width="0.4"/><path d="M144.8 520L144.8 521.2" stroke="#666" stroke-width="0.4"/><path d="M128.3 463.7L129.5 463.7" stroke="#666" stroke-width="0.4"/><path d="M147.8 520L147.8 521.2" stroke="#666" stroke-width="0.4"/><path d="M128.3 466.2L129.5 466.2" stroke="#666" stroke-width="0.4"/><path d="M150.9 520L150.9 521.2" stroke="#666" stroke-width="0.4"/><path d="M128.3 468.8L129.5 468.8" stroke="#666" stroke-width="0.4"/><path d="M153.9 520L153.9 521.2" stroke="#666" stroke-width="0.4"/><path d="M128.3 471.3L129.5 471.3" stroke="#666" stroke-width="0.4"/><path d="M157 520L157 521.2" stroke="#666" stroke-width="0.4"/><path d="M128.3 473.9L129.5 473.9" stroke="#666" stroke-width="0.4"/><path d="M160 520L160 521.2" stroke="#666" stroke-width="0.4"/><path d="M128.3 476.5L129.5 476.5" stroke="#666" stroke-width="0.4"/><path d="M163.1 520L163.1 521.2" stroke="#666" stroke-width="0.4"/><path d="M128.3 479L129.5 479" stroke="#666" stroke-width="0.4"/><path d="M166.1 520L166.1 521.2" stroke="#666" stroke-width="0.4"/><path d="M128.3 481.6L129.5 481.6" stroke="#666" stroke-width="0.4"/><path d="M169.2 520L169.2 521.2" stroke="#666" stroke-width="0.4"/><path d="M128.3 484.1L129.5 484.1" stroke="#666" stroke-width="0.4"/><path d="M172.2 520L172.2 521.2" stroke="#666" stroke-width="0.4"/><path d="M128.3 486.7L129.5 486.7" stroke="#666" stroke-width="0.4"/><path d="M175.3 520L175.3 521.2" stroke="#666" stroke-width="0.4"/><path d="M128.3 489.3L129.5 489.3" stroke="#666" stroke-width="0.4"/><path d="M178.4 520L178.4 521.2" stroke="#666" stroke-width="0.4"/><path d="M128.3 491.8L129.5 491.8" stroke="#666" stroke-width="0.4"/><path d="M181.4 520L181.4 521.2" stroke="#666" stroke-width="0.4"/><path d="M128.3 494.4L129.5 494.4" stroke="#666" stroke-width="0.4"/><path d="M184.5 520L184.5 521.2" stroke="#666" stroke-width="0.4"/><path d="M128.3 497L129.5 497" stroke="#666" stroke-width="0.4"/><path d="M187.5 520L187.5 521.2" stroke="#666" stroke-width="0.4"/><path d="M128.3 499.5L129.5 499.5" stroke="#666" stroke-width="0.4"/><path d="M190.6 520L190.6 521.2" stroke="#666" stroke-width="0.4"/><path d="M128.3 502.1L129.5 502.1" stroke="#666" stroke-width="0.4"/><path d="M193.6 520L193.6 521.2" stroke="#666" stroke-width="0.4"/><path d="M128.3 504.6L129.5 504.6" stroke="#666" stroke-width="0.4"/><path d="M196.7 520L196.7 521.2" stroke="#666" stroke-width="0.4"/><path d="M128.3 507.2L129.5 507.2" stroke="#666" stroke-width="0.4"/><path d="M199.7 520L199.7 521.2" stroke="#666" stroke-width="0.4"/><path d="M128.3 509.8L129.5 509.8" stroke="#666" stroke-width="0.4"/><path d="M202.8 520L202.8 521.2" stroke="#666" stroke-width="0.4"/><path d="M128.3 512.3L129.5 512.3" stroke="#666" stroke-width="0.4"/><path d="M205.8 520L205.8 521.2" stroke="#666" stroke-width="0.4"/><path d="M128.3 514.9L129.5 514.9" stroke="#666" stroke-width="0.4"/><path d="M208.9 520L208.9 521.2" stroke="#666" stroke-width="0.4"/><path d="M128.3 517.4L129.5 517.4" stroke="#666" stroke-width="0.4"/><path d="M211.9 520L211.9 521.2" stroke="#666" stroke-width="0.4"/><path d="M128.3 520L129.5 520" stroke="#666" stroke-width="0.4"/><path d="M215 520L215 521.2" stroke="#666" stroke-width="0.4"/><text x="144" y="467.2" font-size="3.8" text-anchor="middle" fill="#444">P7</text><text x="189.6" y="464.8" font-size="3.8" text-anchor="middle" fill="#444">P6</text><text x="189.6" y="503.8" font-size="3.8" text-anchor="middle" fill="#444">P9</text><text x="168" y="531.5" font-size="7.8" font-weight="bold" text-anchor="middle" fill="#000">CD146-PE</text><text x="129.5" y="524.5" font-size="3.2" text-anchor="middle" fill="#555">-2,0</text><text x="146.6" y="524.5" font-size="3.2" text-anchor="middle" fill="#555">-10</text><text x="163.7" y="524.5" font-size="3.2" text-anchor="middle" fill="#555">0</text><text x="182.5" y="524.5" font-size="3.2" text-anchor="middle" fill="#555">10</text><text x="206.4" y="524.5" font-size="3.2" text-anchor="middle" fill="#555">10</text><text x="126.5" y="455.5" font-size="3.2" text-anchor="middle" transform="rotate(-90 126.5 455.5)" fill="#555">10</text><text x="126.5" y="469.8" font-size="3.2" text-anchor="middle" transform="rotate(-90 126.5 469.8)" fill="#555">10</text><text x="126.5" y="492.8" font-size="3.2" text-anchor="middle" transform="rotate(-90 126.5 492.8)" fill="#555">10</text><text x="126.5" y="512.8" font-size="3.2" text-anchor="middle" transform="rotate(-90 126.5 512.8)" fill="#555">10</text><text x="123.7" y="485" font-size="7.6" font-weight="bold" text-anchor="middle" transform="rotate(-90 123.7 485)" fill="#000">IgG1-APC</text><path d="M311 456.7h0.9M304 448.4h0.9M306.7 440.3h0.9M308 439.4h0.9M301.6 461.3h0.9M305 444.1h0.9M306.3 444.4h0.9M313.7 453.6h0.9M309.6 457h0.9M313.7 432.5h0.9M309.4 451.4h0.9M307.3 459.2h0.9M309 436.5h0.9M307.8 448.7h0.9M310.5 433.7h0.9M309 451.1h0.9M309.1 453.1h0.9M300.5 455.4h0.9M306.9 443.8h0.9M310 449.7h0.9M312.2 458.4h0.9M303.5 456.1h0.9M307 449.8h0.9M306.5 458h0.9M304.5 453.4h0.9M302.2 452.6h0.9M303 440h0.9M306.9 441.2h0.9M310.5 441.4h0.9M312 456.4h0.9M307.3 455h0.9M307.7 468.6h0.9M308.6 445.4h0.9M308.2 447.3h0.9M306.8 445.4h0.9M305.3 456.7h0.9M306.9 456.1h0.9M306 449.3h0.9M305.5 460.1h0.9M312.2 449.3h0.9M309.8 438.7h0.9M303 455.8h0.9M301.5 472h0.9M310.2 463.7h0.9M306.8 439.4h0.9M304.2 443.2h0.9M309.7 441.9h0.9M304.5 462.5h0.9M303.2 445.1h0.9M311.4 469.9h0.9M301.9 431h0.9M304.8 451.8h0.9M306.9 445.7h0.9M303 456.8h0.9M305.4 445h0.9M307.2 461.7h0.9M307.6 470.7h0.9M306.1 455h0.9M300.3 445h0.9M307 444.6h0.9M304.6 445.8h0.9M304 445.9h0.9M307.3 453.2h0.9M303.7 448.6h0.9M304.5 457.5h0.9M312.6 451.8h0.9M308.4 448.1h0.9M308.7 448.6h0.9M303.1 460.2h0.9M314.3 455.3h0.9M307.1 454.1h0.9M312.5 446.6h0.9M309.5 451.7h0.9M300.2 447.5h0.9M309 453.2h0.9M306.8 440.4h0.9M308 451.8h0.9M308.9 464.7h0.9M307.3 459.2h0.9M308.7 472.5h0.9M308.8 471.6h0.9M304 440.8h0.9M308.7 449.4h0.9M311.4 457h0.9M309.9 444.3h0.9M307.2 457.4h0.9M305.4 450.8h0.9M311.2 450.4h0.9M308 460.5h0.9M308.7 439h0.9M307.7 451h0.9M308.4 469.1h0.9M311 452h0.9M305.2 457.6h0.9M307.9 461.3h0.9M308.3 458.8h0.9M304.7 449.4h0.9M307.5 444.2h0.9M308.6 447.7h0.9M306.1 445.2h0.9M307 437.6h0.9M310.2 454h0.9M309.1 460.8h0.9M308.2 448.3h0.9M311.6 447.6h0.9M307.8 433.4h0.9M305.5 450.5h0.9M309.3 454.8h0.9M310.3 446.1h0.9M305.4 452.2h0.9M304.7 447.3h0.9M307.4 434.5h0.9M302.1 453.7h0.9M304.9 456.4h0.9M305.6 442h0.9M309.1 448.2h0.9M308.3 444.9h0.9M304.5 447.6h0.9M304.6 448.7h0.9M303.9 453h0.9M309.6 453.9h0.9M303 460h0.9M301.5 451.8h0.9M307.4 456.2h0.9M304.9 446.1h0.9M310.8 459.2h0.9M303.8 447.9h0.9M304.5 429.4h0.9M310.7 444.9h0.9M307.2 452.1h0.9M302.9 457.3h0.9M304.9 438.5h0.9M308.1 451.4h0.9M305.3 449.7h0.9M312.4 455.7h0.9M307.1 447.2h0.9M312.9 446.6h0.9M300.8 459.9h0.9M305.5 432.8h0.9M302.6 439.2h0.9M300 444h0.9M305.1 463.2h0.9M306.8 445.4h0.9M306.5 451.6h0.9M310.2 460.6h0.9M300.8 438.3h0.9M307 465.4h0.9M305.5 458.8h0.9M305.2 445.6h0.9M306.2 461.2h0.9M305.5 450.7h0.9M308.1 457.5h0.9M307.2 457.3h0.9M312.5 456.5h0.9M305.9 449.1h0.9M308 448h0.9M303.5 442.7h0.9M305.3 434.5h0.9M316.4 457h0.9M305.3 444.2h0.9M311 438.9h0.9M303.8 458.5h0.9M306.8 456.4h0.9M307.4 450.2h0.9M305 454.1h0.9M307.8 452.1h0.9M305.7 459.8h0.9M307.3 455h0.9M303.3 437h0.9M309.4 445h0.9M304.4 453.1h0.9M311.4 448h0.9M306.1 453.8h0.9M308.8 450.7h0.9M301.3 456.4h0.9M304.6 466.9h0.9M304.9 452h0.9M306.9 451.8h0.9M315.1 448.2h0.9M310.4 450.3h0.9M306 456.4h0.9M308.2 448.8h0.9M304 453.7h0.9M318 449.2h0.9M309.1 445.6h0.9M318.2 438.8h0.9M305.2 435.2h0.9M309.3 451.5h0.9M308.5 450.2h0.9M312.1 461.3h0.9" stroke="#3d4a58" stroke-width="0.9" stroke-opacity="0.5"/><path d="M322.8 454.7h0.9M314.5 468.7h0.9M321.7 454.4h0.9M324.5 469.9h0.9M324.6 462.3h0.9M315.1 462.9h0.9M315.6 464.3h0.9M311.1 474.7h0.9M320.3 464h0.9M309.9 474h0.9M308.9 462.6h0.9M313 464.4h0.9M319.9 472.4h0.9M319.3 462.2h0.9M323.3 474.1h0.9M321.2 480h0.9M313.8 464.2h0.9M314.9 465h0.9M320.7 469.1h0.9M316.4 473.9h0.9M317.7 465.2h0.9M315.5 461.5h0.9M317.1 463.7h0.9M317.6 469.9h0.9M319.9 465.7h0.9M325.6 462.2h0.9M320.9 468.1h0.9M319.1 464.6h0.9M314.9 471.2h0.9M311.1 468.7h0.9M312.1 458.8h0.9M318.3 465.1h0.9M325.8 459.1h0.9M318.6 468.5h0.9M318.7 465.6h0.9M311.5 471.7h0.9M321 469.9h0.9M319.1 474h0.9M321.9 471.5h0.9M315.5 473.1h0.9M314.5 469.9h0.9M314 467.2h0.9M321.2 466.4h0.9M321.8 465.6h0.9M324.7 467.2h0.9M328.5 471.6h0.9M317.8 462.4h0.9M316.3 477.9h0.9M313 460.1h0.9M319.2 474.3h0.9M316.5 463.7h0.9M317.1 466.9h0.9M322.5 477.4h0.9M317.4 463.9h0.9M313.2 459.3h0.9M317.7 460.2h0.9M320.8 466.8h0.9M315.2 475.2h0.9M311 472.5h0.9M318.4 469.3h0.9M317.9 462.3h0.9M320.4 474h0.9M309.8 468.5h0.9M317.5 466.5h0.9M319.6 466.9h0.9M316.3 473.9h0.9M314.1 465.9h0.9M316.2 463.9h0.9M315.8 475h0.9M314.6 480.5h0.9" stroke="#3d4a58" stroke-width="0.9" stroke-opacity="0.45"/><path d="M317.6 400.4h0.8M329.4 426.5h0.8M322.7 423.6h0.8M325 423h0.8M321.8 406.5h0.8M322.4 422.7h0.8M321.4 427.3h0.8M327.5 411h0.8M320.2 417.7h0.8M324.6 416.7h0.8M328.2 409.8h0.8M324.6 429.2h0.8M324.1 427.6h0.8M318.7 416.7h0.8M319.1 409.2h0.8M325.9 408h0.8M324 422.3h0.8M325.1 420.3h0.8M324.1 448h0.8M327.8 380.8h0.8M318.7 403.2h0.8M325.5 427.9h0.8M325.2 428.7h0.8M324.1 418.1h0.8M318.4 430.6h0.8M322 435.9h0.8M319.2 415.7h0.8M317.2 429.8h0.8M317 409.3h0.8M321.9 414.4h0.8M329.6 424.7h0.8M327.8 441h0.8M328.3 433.9h0.8M319.1 426.7h0.8M321.4 431.7h0.8M318.5 430h0.8M319 431.3h0.8M329.5 438.7h0.8M319.6 440.2h0.8M317.8 439.4h0.8M328.3 427.4h0.8M321.6 416.9h0.8M327 414.1h0.8M324.5 406.8h0.8M321.6 448.8h0.8M325.3 437.1h0.8M321.3 413.7h0.8M330.8 431.8h0.8M327.3 435.9h0.8M323 413.8h0.8M324.6 394.2h0.8M322.8 437.7h0.8M320.9 448.9h0.8" stroke="#667" stroke-width="0.8" stroke-opacity="0.35"/><path d="M322.4 490h0.8M345.9 494.4h0.8M346.7 492h0.8M345 495.8h0.8M337.5 500h0.8M311.9 494.4h0.8M359 501.4h0.8M349.2 489.6h0.8M336.2 493.2h0.8M323.2 487.5h0.8M278.7 500.2h0.8M351.3 487.9h0.8M322.1 495.5h0.8M316.4 497.7h0.8M321.1 488.2h0.8M320.4 497.4h0.8M307.8 498.9h0.8M357.1 498.2h0.8M344.9 494.7h0.8M344.4 491.5h0.8M272.1 491.6h0.8M367 500.3h0.8M303.9 494h0.8M312.5 489.2h0.8M322.2 499h0.8M331.7 493.8h0.8M301.2 495.2h0.8M350.6 495.9h0.8M351.1 483.4h0.8M308.2 491.6h0.8M296.4 487.1h0.8M351.9 488.6h0.8M357.4 499.5h0.8M321.3 488h0.8M315.2 491.4h0.8M313.5 491.1h0.8M331.1 493.5h0.8M328.5 494.8h0.8M360.4 505h0.8" stroke="#888" stroke-width="0.8" stroke-opacity="0.3"/><path d="M365.8 397.2h1M367.6 406.9h1M376.8 393.3h1M366.2 403.7h1M379.8 386.2h1M364.7 380.2h1M358 407.1h1M335.9 398.6h1M361.4 380.4h1M369.9 417h1M378.6 409.1h1M386.1 379.6h1M364.6 402.6h1M388.5 400.6h1M379.1 394.5h1M354.7 414.7h1M361.5 410.4h1M380 375.9h1M395.5 380.4h1M386.3 396.9h1M399 392.6h1M394.2 391.6h1M353.6 402.8h1M380.6 400.1h1M365.4 391.1h1M347.8 408.7h1M410.9 373.1h1M361.5 406.7h1M377.8 393.2h1M359.5 408h1M355.9 401.2h1M347.3 402.4h1M403 387h1M369.2 387.9h1M352.3 415.9h1M368.7 402.8h1M371.4 396.6h1M393.1 384.6h1M364.8 401.1h1M354.9 385.5h1M361 400.8h1M378.3 381.7h1M361.9 400.7h1M381.7 409.7h1M378.9 398.1h1M355.3 420.3h1M346.5 422.5h1M380.1 391.9h1M353.1 410.7h1M365.3 412.5h1M365.5 407.2h1M345.2 399.3h1M368 394.6h1M350.9 404h1M376.2 395.9h1M334.7 409.7h1M341.2 383h1M376.8 395.8h1M352.9 410.5h1M368 392.2h1M370.1 393.8h1M360.3 411.7h1M350.8 425.7h1M368.3 392.6h1M368.8 387.1h1M368.7 417.1h1M372.8 392.9h1M367.9 406.6h1M378.8 388h1M384.2 388.4h1M368.9 404.4h1M348.7 391.5h1M367.9 406.2h1M365.7 407.4h1M383.2 385.5h1M366 396.8h1M378.4 396.7h1M375.2 407.4h1M373.7 397.1h1M355.9 404.5h1M389.8 392.9h1M368 396.3h1M349.7 399.6h1M382.3 390h1M373.5 407.4h1M358.6 397.5h1M390.9 391.6h1M343.1 410.5h1M353 400.2h1M356.5 386.9h1M363.8 418.2h1M361.9 395.8h1M375.6 379.5h1M369 410.1h1M368.5 400.6h1M365.2 402.5h1M376.8 391.1h1M369.7 399.1h1M342.4 420.3h1M397.8 390h1M369.1 393.2h1M380.8 410.6h1M386.5 380.7h1M387.1 380.4h1M357.1 402h1M375.7 391.2h1M383.5 392.5h1M385.1 374.6h1M371.9 402.3h1M381.6 369.3h1M355.7 384.2h1M371.6 390.2h1M376.7 403.4h1M379.6 389.5h1M389.8 417.6h1M362.8 406.3h1M363.9 408.5h1M358.3 409.1h1M346.5 411.3h1M400.5 369.1h1M363 409.9h1M341.7 388.3h1M344 412.7h1M384.6 390h1M373.4 406h1M372.9 408.9h1M388.7 383.7h1M389.8 393.5h1M366 398.8h1M378.8 379.7h1M349 419.8h1M398.2 384.7h1M376.4 376.8h1M345.7 404.2h1M363.1 402.1h1M360.3 401.2h1M367.4 404.4h1M387.4 396.4h1M387.8 385.3h1M352.8 386.7h1M345.8 417.7h1M374.9 394.5h1M357.5 390.7h1M352.6 379.6h1M384.2 382.1h1M379.3 404.9h1M388.5 383.5h1M385.6 397.5h1M369.4 400.1h1M355 407.1h1M356.3 401.5h1M372.7 404.7h1M362.4 397.8h1M372.4 423.2h1M362.8 405.1h1M344.6 410.5h1M346.6 403.1h1M385.7 405.8h1M372.3 401.5h1M367.9 393h1M372.5 405.1h1M368.6 393.3h1M362 405.6h1M366.1 408h1M349.1 415.4h1M354.5 403.9h1M403.6 389.3h1M357.8 399.1h1M384.7 398.3h1M370 404.2h1M349.2 379.3h1M381.6 385.3h1M375.5 391.8h1M359.1 393.2h1M382.3 398.6h1M389.3 393.5h1M371.6 390.3h1M369.8 401.1h1M368 406h1M395.7 400.4h1M356 404.7h1M355.9 395.6h1M362.3 401.8h1M373.1 379.6h1M360.9 391.1h1M395.6 400.4h1M356.9 396.1h1M380.5 400.7h1M350.2 402.5h1M366.6 387.4h1M389.8 386.3h1M362.9 388.1h1M379.7 377.3h1M353.3 399h1M358.7 387.5h1M357.5 409h1M366.7 399.3h1M383.5 393.7h1M382.1 390.1h1M360.3 418.5h1M335.2 400.7h1M359.4 426.2h1M372.6 406h1M338.4 401.7h1M369.6 391.7h1M371.1 401.9h1M368.5 398h1M369.1 394.6h1M375.6 403.3h1M354 407.7h1M379.5 389.3h1M373.3 413.5h1M393.6 407.3h1M393.7 380.3h1M355.2 401.3h1M365.6 363.7h1M372.9 407.3h1M369.1 400.2h1M356.4 386.5h1M380.2 388.1h1M374.3 394.4h1M398.5 386.1h1M373.2 393.8h1M356.5 407.8h1M383.5 389.3h1M394 378h1M361.8 381.3h1M354.8 395.7h1M381.8 396.6h1M379.7 401.7h1M367 415.4h1M367.4 407.3h1M396.8 376.9h1M372.3 394h1M370.4 399.4h1M366.1 398.7h1M372.2 381.8h1M353.9 399.9h1M347.8 411.8h1M356.6 394.8h1M342.8 401.8h1M368.3 384.4h1M383.5 395.7h1M364.3 382.3h1M359.9 412.4h1M358.1 394.9h1M357.7 406.8h1M343.7 420.8h1M366 387.9h1M364.6 371.5h1M349.6 410.3h1M384.3 376.5h1M345.2 408.8h1M365 391.2h1M361.5 416.7h1M345.9 392.5h1M366 411.7h1M376.9 392.1h1M346.8 407.6h1M412.3 379.9h1M375.7 377h1M358 396.8h1M391.5 381.8h1M363.6 394.6h1M335.6 408.6h1M340.2 405.8h1M357.4 397.6h1M383.2 376.8h1M364.1 404.8h1M358 397.1h1M399 388.6h1" stroke="#d2553a" stroke-width="1" stroke-opacity="0.45"/><path d="M368.6 396h0.9M367.4 398.7h0.9M356.7 403.6h0.9M393 397.1h0.9M385.4 395.5h0.9M368 393.2h0.9M397.4 398.4h0.9M366.6 400.3h0.9M361.3 382h0.9M368.2 383.7h0.9M382.8 401.8h0.9M406.7 398.5h0.9M370.4 402.7h0.9M405.1 381.5h0.9M361.3 390h0.9M424.2 387.9h0.9M381.7 402.1h0.9M361.5 376.9h0.9M382.8 404h0.9M379 383h0.9M351.5 414.4h0.9M359.9 410.6h0.9M370.8 408.2h0.9M419.5 379.8h0.9M396.9 402.5h0.9M410.4 387.7h0.9M410 393.6h0.9M364.9 406.2h0.9M410.6 391.9h0.9M382.6 403h0.9M419.1 374.7h0.9M406.5 420.6h0.9M367.4 400.2h0.9M386.4 397.1h0.9M410.3 369.6h0.9M374.9 372.6h0.9M378.8 418.4h0.9M364 385.5h0.9M372.9 397.7h0.9M378.7 381h0.9M369.6 389.8h0.9M408.5 393.9h0.9M373 389.8h0.9M399.8 379.9h0.9M385.6 384.5h0.9M356.8 411.8h0.9M361 380.9h0.9M383 401.5h0.9M391.2 374.5h0.9M374.2 415.1h0.9M381.1 378.8h0.9M402.8 387.7h0.9M347.2 379.8h0.9M403.3 389.5h0.9M382.9 400.9h0.9M369.2 370.7h0.9M384.4 382.9h0.9M384.6 381.6h0.9M369.7 371.9h0.9M390.5 419.2h0.9M360 408.1h0.9M398.5 382.8h0.9M364.4 399.5h0.9M377.8 387.9h0.9M375.7 418.9h0.9M352.5 398.1h0.9M423.1 394.3h0.9M428.1 392.1h0.9M388.4 403.1h0.9M370.6 392.5h0.9M396.7 382.7h0.9M394.5 407.5h0.9M361.7 390.4h0.9M393.2 382h0.9M405.7 409.6h0.9M374 395.7h0.9M372.7 390.5h0.9M394.8 390.1h0.9M388.9 386h0.9M409.4 405.5h0.9M373 400.2h0.9M413.4 430.1h0.9M381.5 403.8h0.9M341.6 411.9h0.9M398.8 404.4h0.9M389.7 406.2h0.9" stroke="#d2553a" stroke-width="0.9" stroke-opacity="0.35"/><path d="M361.7 473.8h1M347.7 469.4h1M350.8 469.1h1M342.1 463.8h1M349.4 465.6h1M346.8 463.8h1M336.7 468.1h1M348.1 481.1h1M349.6 475.5h1M355.5 471.7h1M347.4 473.5h1M355.8 463.2h1M357.2 469.2h1M334.4 466.3h1M357.5 474.9h1M349.3 476.4h1M358.4 462.4h1M339.4 472h1M341.4 467.1h1M353.4 468.7h1M343.4 463.1h1M371 463.2h1M346.1 475.7h1M349.4 465.4h1M338.8 476h1M358.2 460.3h1M336.4 473.4h1M366.7 467.4h1M360 462.1h1M355.3 471.2h1M357.6 461.2h1M367.2 468.1h1M377.2 471.4h1M341.7 478h1M352.5 476.5h1M342.1 466.2h1M351.7 470.5h1M340.8 472.8h1M362.1 468.3h1M345.2 467.6h1M355.7 469.5h1M354.7 475.7h1M347.1 468.7h1M347.1 477.6h1M349 470.4h1M347 474.6h1M354.3 464.2h1M359.8 472.1h1M362.4 472.7h1M349.5 464.9h1M360.2 476.4h1M341.2 469.7h1M354.8 469.4h1M354 468.1h1M343.5 476.2h1M342 470.2h1M343.2 470.8h1M343.7 471.4h1M335.5 464.6h1M348.6 473.2h1M341.5 479.9h1M346.1 474h1M339.7 464h1M341.3 478.2h1M349.2 471.4h1M365.7 464.3h1M339.1 466.1h1M364.4 463.2h1M339.5 461.9h1M352.8 474.3h1M340 475.8h1M351.5 465.7h1M355.6 476.5h1M363 472.7h1M363.5 470h1M353.2 479.1h1M348.9 465.9h1M337.6 467.4h1M338.3 469.1h1M336 469.4h1M350 474.1h1M360.6 478h1M347.5 463h1M358 472.1h1M345.6 474.2h1M370.2 472h1M345.9 471.1h1M340.8 480.2h1M337.8 464.9h1M360.6 469.1h1M337.7 474.9h1M362 461.8h1M356.8 475.2h1M369.1 472.6h1M357.9 470.7h1M357.5 478.9h1M357.6 467h1M349.5 480.1h1M337.6 467.1h1M343.5 476.8h1M341.3 468h1M349.7 473h1M356.6 464.3h1M338.6 462.8h1M361.9 468.9h1M352.1 470.1h1M335.1 461.7h1M338.8 480h1M346.3 472.7h1M339.9 483.3h1M351.1 462.1h1M345.2 471.8h1M360.4 468.3h1M356.9 471.6h1M352.4 468h1M354.1 475.7h1M350.1 468.4h1M378.4 473.6h1M356.8 462.7h1M361.3 462h1M362.3 471.8h1M345.3 466.6h1M351.9 468.1h1M334.7 469.2h1M345.3 477.9h1M334.6 475.1h1M335.8 466.5h1M339.4 471.1h1M355.8 475.3h1M342.7 472.7h1M347.7 472.6h1M349.4 469.9h1M346.7 472.6h1M351.2 465.1h1M357.8 469.6h1M362 469.8h1M348.8 467.9h1M363 479.2h1M348 466.9h1M360.9 474.6h1M356.6 462.8h1M353.2 471.1h1M347.3 472.4h1M348.6 472.1h1M350.1 468.7h1M367.5 469.9h1M356.5 474.9h1M340.7 469.2h1M341.5 469.3h1M338.5 474.5h1M350.3 463.9h1M355 465.1h1M335.8 472.3h1M350.8 466.5h1M357.5 472.4h1M352 475.3h1M353.3 476.4h1M353.8 471.9h1M369.6 467.3h1M349 468h1M369.3 478.6h1M348 465.7h1M344.8 472.7h1M346.3 474.1h1M353.2 464h1M338.8 474.4h1M358.9 470.2h1M365.1 469.9h1M347.4 470h1M355.9 458.7h1M351.7 470.9h1M341.9 465.9h1M362.7 467.8h1M347.3 474.8h1M338 482.5h1M342.9 467h1M335.8 467.1h1M340.7 467.8h1M339.1 458.1h1M362 473.9h1M356.8 472.8h1M356.2 466.6h1M379.2 467.1h1M338 480.3h1M346.2 470.4h1M340.1 468.8h1M355 471.7h1M337.9 473.9h1M342.4 462.2h1M359.3 471.7h1M347.9 466.2h1M357.9 468.7h1M343.2 472.9h1M353 464h1M362.7 461.7h1M342 471.9h1M349.2 474.1h1M355.9 458.2h1M363.5 467.6h1M350.1 466.3h1M339.3 473.3h1M354.9 471.4h1M343.6 478h1M354 473.1h1M351.1 471.6h1M361.9 475.4h1M361.4 470.7h1M351.6 464.3h1" stroke="#d2553a" stroke-width="1" stroke-opacity="0.45"/><path d="M377.5 464.8h0.9M367.9 468.2h0.9M381.6 463.9h0.9M354.9 466.6h0.9M380.5 470h0.9M367 460.3h0.9M352.6 468h0.9M371.4 471.6h0.9M358.8 476h0.9M377.3 466.8h0.9M382.3 472.3h0.9M392.1 457h0.9M371.6 470.7h0.9M388.8 469.4h0.9M366.8 470.6h0.9M377.4 468.1h0.9M398.5 467.4h0.9M387 476.8h0.9M395.2 460.5h0.9M364.1 456.1h0.9M396 467h0.9M372 467.5h0.9M362.6 471.4h0.9M366.8 473.5h0.9M384 467.7h0.9M388.5 466.6h0.9M379.7 475.3h0.9M405.3 471.4h0.9M401.1 458.6h0.9M382.3 468h0.9M373.2 471.3h0.9M409 471.2h0.9M397.1 476.4h0.9M400.3 468.6h0.9M371.4 475h0.9M393.6 465.5h0.9M404.8 463.3h0.9M362.4 467.9h0.9M361.1 467.3h0.9M379.8 464.8h0.9M381.7 460.8h0.9M347 473.1h0.9M394.4 473.3h0.9M374.6 471h0.9M375.7 475.3h0.9M363.2 470h0.9M373.8 472.5h0.9M381.7 457.7h0.9M375.9 462.5h0.9M387.5 473.4h0.9M362.9 470.8h0.9M365.7 465.3h0.9M383 475.5h0.9M387.6 472.1h0.9M373.5 467.4h0.9M389.9 469.2h0.9M383.1 470.6h0.9M405.2 476.4h0.9M401.8 470.6h0.9M369.4 461.4h0.9" stroke="#d2553a" stroke-width="0.9" stroke-opacity="0.35"/><path d="M311 407.9h1M300.7 415.3h1M311 418h1M311.1 404.3h1M311.6 427.3h1M311.6 421.9h1M310.5 426.6h1M304.7 397.3h1M307.9 418.5h1M313.3 410.7h1M311.2 418.3h1M313.9 413.7h1M313.4 426.8h1M309 417.1h1M308.1 411h1M307.2 407h1M313.8 423.1h1M309.7 419.8h1M314.6 415.1h1M313.7 400.9h1M307.9 410.3h1M311.8 412.7h1M306.4 410.7h1M303.2 404.3h1M305.4 422.5h1M311.5 426.5h1M301.3 411.7h1M312 420.7h1M303.4 422.9h1M309.4 407.7h1M309.3 404.6h1M309.5 408.7h1M298.3 413h1M312 408h1M309.6 416.7h1M307.9 413.9h1M308.5 415.2h1M309.4 423.6h1M307.7 409.2h1M312.4 410.9h1M311.6 427.8h1M312.1 416.7h1M308.4 408.3h1M305.4 427.2h1M314.6 414.7h1M315.5 392.1h1M300.2 425h1M304.2 422.2h1M307.9 422h1M308.3 417.8h1M301.6 417.3h1M305.5 428.9h1M306.6 422.5h1M312.7 416h1M305.7 419h1M309.1 425.8h1M305.2 404.9h1M313.1 420h1M315.5 432h1M300.7 420.1h1M310.4 418.2h1M308.8 415.9h1M312.9 425.4h1M309.1 426.6h1M316.3 411.6h1M315.8 408.9h1M315.9 407.6h1M305.5 402.4h1M308.1 416.6h1M308.9 413h1M308.3 411.6h1M307.6 418.4h1M306.7 418.5h1M304.2 402.5h1M313.2 408.3h1M309.9 406h1M302.1 402.1h1M305.1 430.6h1M305.9 419.2h1M307.5 417.8h1M303.5 428.3h1M310.4 411.7h1M313.3 400.1h1M305.9 420.4h1M305.1 422.3h1M315 406.3h1M316.2 429.2h1M310.9 399.8h1M313.7 410.8h1M298.6 422.3h1M305.2 416.7h1M312.3 403h1M311.8 408.8h1M306.7 425.2h1M302.3 410.8h1M308.3 427.9h1M309.1 424.2h1M304.1 400.7h1M308.7 433.8h1M312 412.2h1M306.4 431.4h1M312.6 401.4h1M310.3 417.1h1M311.3 416h1M308.8 416.2h1M299.7 413.3h1M307.2 428.5h1M314.3 412.8h1M308.9 417.8h1M306.2 432.6h1M304.9 429.1h1M310 404.2h1M307.4 414.9h1M314.8 431.1h1M300.9 411.6h1M314.8 422.4h1M312.1 424h1M313.3 431h1M307.6 392.7h1M311.9 410h1M301.3 417.4h1M305.8 416.2h1M299.4 422.5h1" stroke="#d2553a" stroke-width="1" stroke-opacity="0.4"/><rect x="260.2" y="360.8" width="56.5" height="73.8" fill="none" stroke="#333" stroke-width="0.9"/><rect x="333.2" y="360.8" width="99.1" height="72.4" fill="none" stroke="#333" stroke-width="0.9"/><rect x="333.2" y="454.6" width="99.1" height="30.2" fill="none" stroke="#333" stroke-width="0.9"/><rect x="297.1" y="463.3" width="16.4" height="20.2" fill="#fff" stroke="#333" stroke-width="0.9"/><path d="M299 466Q300 463.8 305 464L311 464.5Q313 467 312.5 474Q312.5 481 309 482.5L300 482.5Q298.5 479 298.7 472Z" fill="#cf3b22"/><path d="M304.4 473.3h1M302.1 468.9h1M307.9 475.3h1M303.7 467.2h1M306.4 470.3h1M307.5 469.4h1M305.2 474.1h1M302.7 474.9h1M299.9 478.3h1M303.2 470.6h1M304 470.9h1M302.2 473.3h1M302.5 471.2h1M305.2 471.6h1M301.9 476h1M311.3 469.9h1M307.6 469.4h1M303.7 467.7h1M302.6 469.2h1M304.2 471h1M312 468.7h1M306.7 476.1h1M298.6 465h1M307.6 467.4h1M301 471.5h1M308.5 481.5h1M302.6 479h1M304.7 471.6h1M304 471.6h1M299.5 472.3h1M300.9 474.2h1M310.4 467.7h1M303.6 477.2h1M306.5 477.9h1M309.4 471.5h1M302.9 475.4h1M306.5 480.2h1M306.5 471.4h1M302 469.2h1M302.1 479.8h1M304.9 471.5h1M305 475.2h1M307.4 472.7h1M304.1 469.3h1M304.6 472.1h1M302.7 471.4h1M309.1 476.2h1M305.8 478h1M305.2 477.8h1M304.8 479.1h1M306.7 471.4h1M300.8 473.4h1M305.3 468h1M304.1 470.1h1M305.8 467.1h1M304.8 481.2h1M308.1 472.7h1M310.1 471.1h1M307.7 474.1h1M303.4 475h1M312.9 469h1M301.8 480.3h1M302.6 472.3h1M303.3 469.5h1M306.5 468.4h1M301.3 471.7h1M306.7 479.1h1M304.7 476.8h1M309.5 474.9h1M307.7 471.9h1M299.3 476.2h1M301 475.3h1M302 467.6h1M304.4 467.2h1M305.1 471.9h1M304.1 479.5h1M307.6 471.7h1M307.6 474.6h1M303.7 466.9h1M302.4 481.4h1M305 475.3h1M310.7 469.6h1M304.8 472.9h1M302.3 469.9h1" stroke="#b22a14" stroke-width="1" stroke-opacity="0.7"/><rect x="260.2" y="360.8" width="174.6" height="145" fill="none" stroke="#333" stroke-width="0.9"/><path d="M257.2 448L260.2 448" stroke="#333" stroke-width="0.6"/><path d="M258.7 436L260.2 436" stroke="#333" stroke-width="0.6"/><path d="M258.7 428.9L260.2 428.9" stroke="#333" stroke-width="0.6"/><path d="M258.7 423.9L260.2 423.9" stroke="#333" stroke-width="0.6"/><path d="M258.7 420L260.2 420" stroke="#333" stroke-width="0.6"/><path d="M258.7 416.9L260.2 416.9" stroke="#333" stroke-width="0.6"/><path d="M258.7 414.2L260.2 414.2" stroke="#333" stroke-width="0.6"/><path d="M258.7 411.9L260.2 411.9" stroke="#333" stroke-width="0.6"/><path d="M258.7 409.8L260.2 409.8" stroke="#333" stroke-width="0.6"/><path d="M257.2 408L260.2 408" stroke="#333" stroke-width="0.6"/><path d="M258.7 397.8L260.2 397.8" stroke="#333" stroke-width="0.6"/><path d="M258.7 391.8L260.2 391.8" stroke="#333" stroke-width="0.6"/><path d="M258.7 387.5L260.2 387.5" stroke="#333" stroke-width="0.6"/><path d="M258.7 384.2L260.2 384.2" stroke="#333" stroke-width="0.6"/><path d="M258.7 381.5L260.2 381.5" stroke="#333" stroke-width="0.6"/><path d="M258.7 379.3L260.2 379.3" stroke="#333" stroke-width="0.6"/><path d="M258.7 377.3L260.2 377.3" stroke="#333" stroke-width="0.6"/><path d="M258.7 375.6L260.2 375.6" stroke="#333" stroke-width="0.6"/><path d="M257.2 374L260.2 374" stroke="#333" stroke-width="0.6"/><path d="M257.2 473L260.2 473" stroke="#333" stroke-width="0.6"/><path d="M257.2 500L260.2 500" stroke="#333" stroke-width="0.6"/><path d="M258.2 471.5L260.2 471.5" stroke="#333" stroke-width="0.6"/><path d="M258.2 474.5L260.2 474.5" stroke="#333" stroke-width="0.6"/><path d="M258.2 470L260.2 470" stroke="#333" stroke-width="0.6"/><path d="M258.2 476L260.2 476" stroke="#333" stroke-width="0.6"/><path d="M258.2 468.5L260.2 468.5" stroke="#333" stroke-width="0.6"/><path d="M258.2 477.5L260.2 477.5" stroke="#333" stroke-width="0.6"/><path d="M258.2 467L260.2 467" stroke="#333" stroke-width="0.6"/><path d="M258.2 479L260.2 479" stroke="#333" stroke-width="0.6"/><path d="M258.2 465.5L260.2 465.5" stroke="#333" stroke-width="0.6"/><path d="M258.2 480.5L260.2 480.5" stroke="#333" stroke-width="0.6"/><path d="M258.2 464L260.2 464" stroke="#333" stroke-width="0.6"/><path d="M258.2 482L260.2 482" stroke="#333" stroke-width="0.6"/><path d="M258.2 462.5L260.2 462.5" stroke="#333" stroke-width="0.6"/><path d="M258.2 483.5L260.2 483.5" stroke="#333" stroke-width="0.6"/><path d="M258.2 461L260.2 461" stroke="#333" stroke-width="0.6"/><path d="M258.2 485L260.2 485" stroke="#333" stroke-width="0.6"/><path d="M258.7 497.5L260.2 497.5" stroke="#333" stroke-width="0.6"/><path d="M258.7 495L260.2 495" stroke="#333" stroke-width="0.6"/><path d="M258.7 492.5L260.2 492.5" stroke="#333" stroke-width="0.6"/><path d="M258.7 490L260.2 490" stroke="#333" stroke-width="0.6"/><path d="M258.7 487.5L260.2 487.5" stroke="#333" stroke-width="0.6"/><path d="M258.7 485L260.2 485" stroke="#333" stroke-width="0.6"/><path d="M258.7 482.5L260.2 482.5" stroke="#333" stroke-width="0.6"/><path d="M327 505.8L327 508.8" stroke="#333" stroke-width="0.6"/><path d="M334.7 505.8L334.7 507.3" stroke="#333" stroke-width="0.6"/><path d="M339.2 505.8L339.2 507.3" stroke="#333" stroke-width="0.6"/><path d="M342.4 505.8L342.4 507.3" stroke="#333" stroke-width="0.6"/><path d="M344.8 505.8L344.8 507.3" stroke="#333" stroke-width="0.6"/><path d="M346.8 505.8L346.8 507.3" stroke="#333" stroke-width="0.6"/><path d="M348.6 505.8L348.6 507.3" stroke="#333" stroke-width="0.6"/><path d="M350 505.8L350 507.3" stroke="#333" stroke-width="0.6"/><path d="M351.3 505.8L351.3 507.3" stroke="#333" stroke-width="0.6"/><path d="M378 505.8L378 508.8" stroke="#333" stroke-width="0.6"/><path d="M390 505.8L390 507.3" stroke="#333" stroke-width="0.6"/><path d="M397.1 505.8L397.1 507.3" stroke="#333" stroke-width="0.6"/><path d="M402.1 505.8L402.1 507.3" stroke="#333" stroke-width="0.6"/><path d="M406 505.8L406 507.3" stroke="#333" stroke-width="0.6"/><path d="M409.1 505.8L409.1 507.3" stroke="#333" stroke-width="0.6"/><path d="M411.8 505.8L411.8 507.3" stroke="#333" stroke-width="0.6"/><path d="M414.1 505.8L414.1 507.3" stroke="#333" stroke-width="0.6"/><path d="M416.2 505.8L416.2 507.3" stroke="#333" stroke-width="0.6"/><path d="M352.5 505.8L352.5 508.8" stroke="#333" stroke-width="0.6"/><path d="M360.2 505.8L360.2 507.3" stroke="#333" stroke-width="0.6"/><path d="M364.7 505.8L364.7 507.3" stroke="#333" stroke-width="0.6"/><path d="M367.9 505.8L367.9 507.3" stroke="#333" stroke-width="0.6"/><path d="M370.3 505.8L370.3 507.3" stroke="#333" stroke-width="0.6"/><path d="M372.3 505.8L372.3 507.3" stroke="#333" stroke-width="0.6"/><path d="M374.1 505.8L374.1 507.3" stroke="#333" stroke-width="0.6"/><path d="M375.5 505.8L375.5 507.3" stroke="#333" stroke-width="0.6"/><path d="M376.8 505.8L376.8 507.3" stroke="#333" stroke-width="0.6"/><path d="M418 505.8L418 508.8" stroke="#333" stroke-width="0.6"/><path d="M262 505.8L262 508.8" stroke="#333" stroke-width="0.6"/><path d="M280 505.8L280 508.8" stroke="#333" stroke-width="0.6"/><path d="M302 505.8L302 508.8" stroke="#333" stroke-width="0.6"/><path d="M300.6 505.8L300.6 507.6" stroke="#333" stroke-width="0.6"/><path d="M303.6 505.8L303.6 507.6" stroke="#333" stroke-width="0.6"/><path d="M299.2 505.8L299.2 507.6" stroke="#333" stroke-width="0.6"/><path d="M305.2 505.8L305.2 507.6" stroke="#333" stroke-width="0.6"/><path d="M297.8 505.8L297.8 507.6" stroke="#333" stroke-width="0.6"/><path d="M306.8 505.8L306.8 507.6" stroke="#333" stroke-width="0.6"/><path d="M296.4 505.8L296.4 507.6" stroke="#333" stroke-width="0.6"/><path d="M308.4 505.8L308.4 507.6" stroke="#333" stroke-width="0.6"/><path d="M295 505.8L295 507.6" stroke="#333" stroke-width="0.6"/><path d="M310 505.8L310 507.6" stroke="#333" stroke-width="0.6"/><path d="M293.6 505.8L293.6 507.6" stroke="#333" stroke-width="0.6"/><path d="M311.6 505.8L311.6 507.6" stroke="#333" stroke-width="0.6"/><path d="M292.2 505.8L292.2 507.6" stroke="#333" stroke-width="0.6"/><path d="M313.2 505.8L313.2 507.6" stroke="#333" stroke-width="0.6"/><path d="M290.8 505.8L290.8 507.6" stroke="#333" stroke-width="0.6"/><path d="M314.8 505.8L314.8 507.6" stroke="#333" stroke-width="0.6"/><path d="M289.4 505.8L289.4 507.6" stroke="#333" stroke-width="0.6"/><path d="M316.4 505.8L316.4 507.6" stroke="#333" stroke-width="0.6"/><path d="M288 505.8L288 507.6" stroke="#333" stroke-width="0.6"/><path d="M318 505.8L318 507.6" stroke="#333" stroke-width="0.6"/><path d="M286.6 505.8L286.6 507.6" stroke="#333" stroke-width="0.6"/><path d="M319.6 505.8L319.6 507.6" stroke="#333" stroke-width="0.6"/><path d="M278.1 505.8L278.1 507.3" stroke="#333" stroke-width="0.6"/><path d="M281.3 505.8L281.3 507.3" stroke="#333" stroke-width="0.6"/><path d="M276.2 505.8L276.2 507.3" stroke="#333" stroke-width="0.6"/><path d="M284.2 505.8L284.2 507.3" stroke="#333" stroke-width="0.6"/><path d="M274.3 505.8L274.3 507.3" stroke="#333" stroke-width="0.6"/><path d="M287.9 505.8L287.9 507.3" stroke="#333" stroke-width="0.6"/><path d="M272.4 505.8L272.4 507.3" stroke="#333" stroke-width="0.6"/><path d="M292.3 505.8L292.3 507.3" stroke="#333" stroke-width="0.6"/><path d="M270.5 505.8L270.5 507.3" stroke="#333" stroke-width="0.6"/><path d="M297.1 505.8L297.1 507.3" stroke="#333" stroke-width="0.6"/><path d="M268.6 505.8L268.6 507.3" stroke="#333" stroke-width="0.6"/><path d="M302.3 505.8L302.3 507.3" stroke="#333" stroke-width="0.6"/><path d="M266.7 505.8L266.7 507.3" stroke="#333" stroke-width="0.6"/><path d="M307.8 505.8L307.8 507.3" stroke="#333" stroke-width="0.6"/><path d="M264.8 505.8L264.8 507.3" stroke="#333" stroke-width="0.6"/><path d="M313.6 505.8L313.6 507.3" stroke="#333" stroke-width="0.6"/><path d="M262.9 505.8L262.9 507.3" stroke="#333" stroke-width="0.6"/><path d="M319.6 505.8L319.6 507.3" stroke="#333" stroke-width="0.6"/><path d="M430 505.8L430 507.3" stroke="#333" stroke-width="0.6"/><text x="256" y="374" font-size="5" fill="#333" text-anchor="middle" transform="rotate(-90 256 374)">10<tspan dy="-2" font-size="3.5">5</tspan></text><text x="256" y="408" font-size="5" fill="#333" text-anchor="middle" transform="rotate(-90 256 408)">10<tspan dy="-2" font-size="3.5">4</tspan></text><text x="256" y="448" font-size="5" fill="#333" text-anchor="middle" transform="rotate(-90 256 448)">10<tspan dy="-2" font-size="3.5">3</tspan></text><text x="256" y="473" font-size="5" text-anchor="middle" transform="rotate(-90 256 473)" fill="#333">0</text><text x="252.5" y="503.5" font-size="4.6" text-anchor="middle" transform="rotate(-90 252.5 503.5)" fill="#333">-1,358</text><text x="262.5" y="520.5" font-size="4.6" text-anchor="middle" fill="#333">-2,124</text><text x="276.5" y="515" font-size="5" fill="#333" text-anchor="middle">-10<tspan dy="-2" font-size="3.5">3</tspan></text><text x="302" y="514.5" font-size="5" text-anchor="middle" fill="#333">0</text><text x="327.5" y="514.5" font-size="5" fill="#333" text-anchor="middle">10<tspan dy="-2" font-size="3.5">2</tspan></text><text x="378.5" y="514.5" font-size="5" fill="#333" text-anchor="middle">10<tspan dy="-2" font-size="3.5">4</tspan></text><text x="418.5" y="514.5" font-size="5" fill="#333" text-anchor="middle">10<tspan dy="-2" font-size="3.5">5</tspan></text><text x="292.8" y="396.5" font-size="6.5" text-anchor="middle" fill="#333">P7</text><text x="387" y="396.5" font-size="6.5" text-anchor="middle" fill="#333">P6</text><text x="387" y="468" font-size="6.5" text-anchor="middle" fill="#333">P9</text><text x="308" y="475.5" font-size="6.5" text-anchor="middle" fill="#6a1a0a">P8</text><text x="246.5" y="431.2" font-size="11" font-weight="bold" text-anchor="middle" transform="rotate(-90 246.5 431.2)" fill="#000">CD271-APC</text><text x="334.6" y="529" font-size="11" font-weight="bold" text-anchor="middle" fill="#000">CD146-PE</text></svg></body></html>
